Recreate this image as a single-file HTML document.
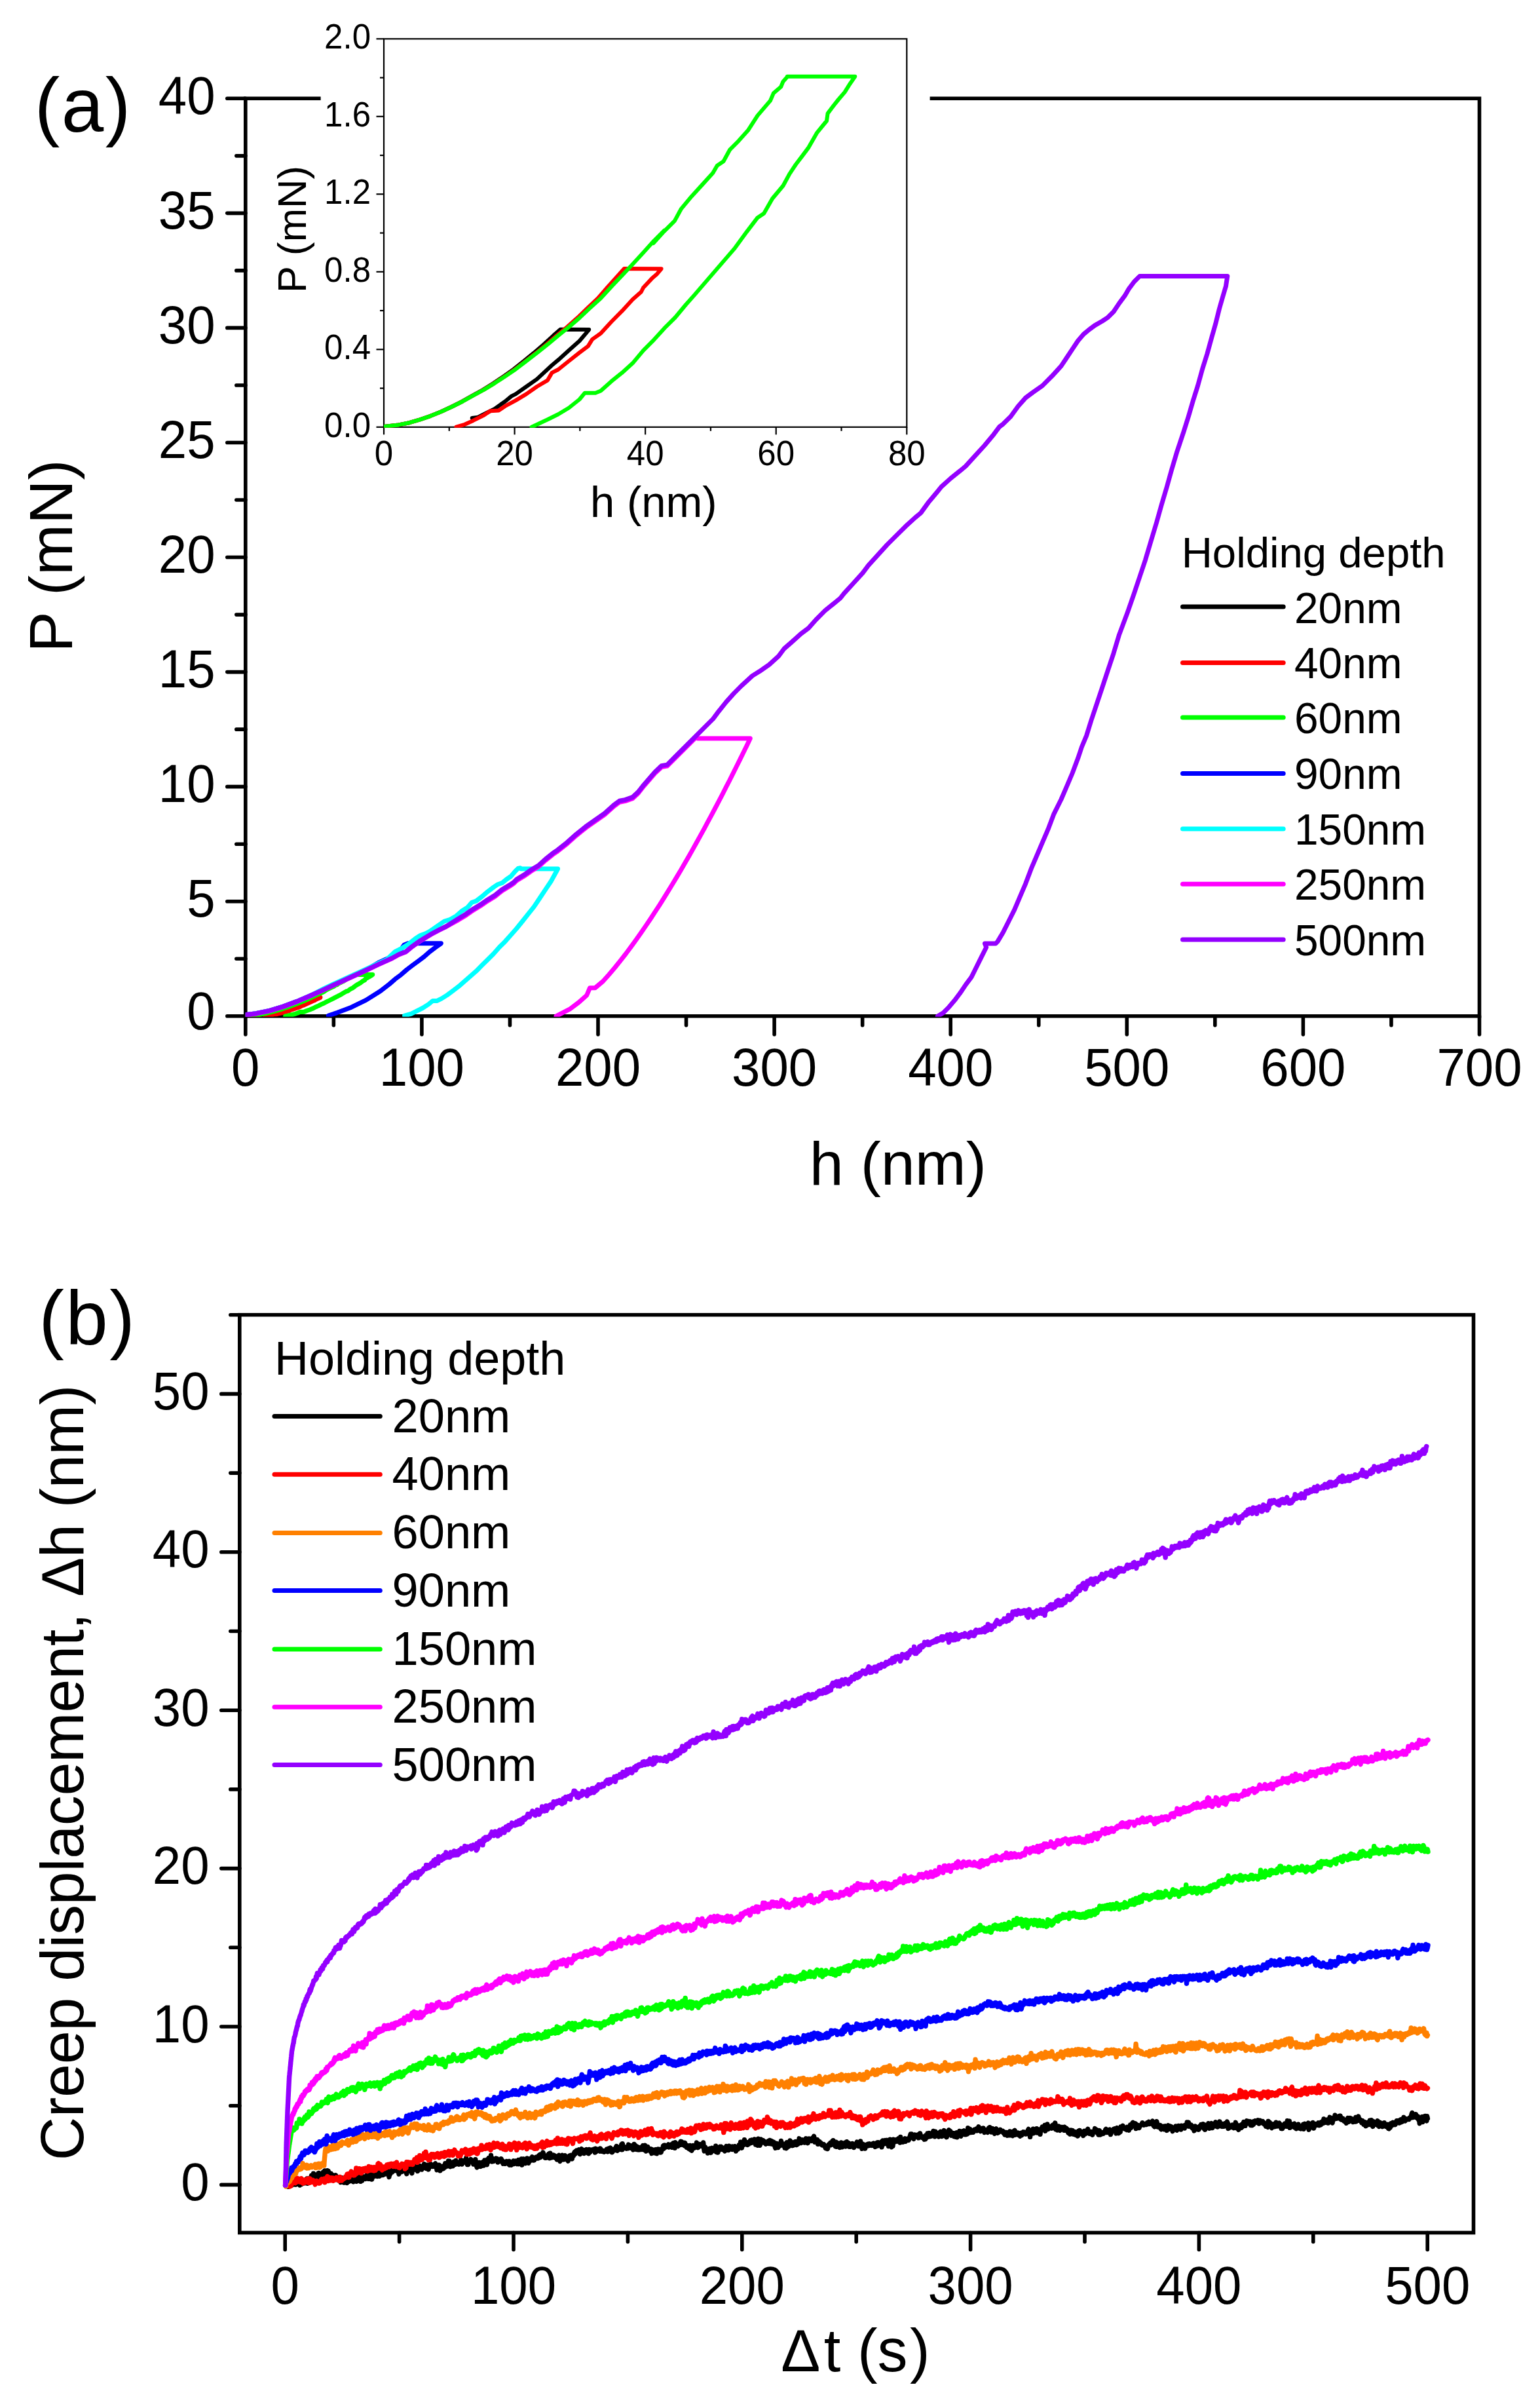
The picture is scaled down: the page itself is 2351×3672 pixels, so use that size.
<!DOCTYPE html>
<html lang="en"><head><meta charset="utf-8"><title>Nanoindentation load-displacement and creep curves</title>
<style>
html,body{margin:0;padding:0;background:#fff;}
svg{display:block}
text{font-family:"Liberation Sans", sans-serif;fill:#000}
</style></head>
<body>
<svg width="2351" height="3672" viewBox="0 0 2351 3672">
<rect width="2351" height="3672" fill="#fff"/>
<path d="M489.6,150.30 H374.80 V1550.80 H2258.50 V150.30 H1419.6" fill="none" stroke="#000" stroke-width="5.6" stroke-linejoin="miter"/>
<line x1="374.80" y1="1550.80" x2="346.80" y2="1550.80" stroke="#000" stroke-width="5.6" stroke-linecap="round"/>
<text transform="translate(328.60 1570.90) scale(1 1.04)" font-size="78" text-anchor="end">0</text>
<line x1="374.80" y1="1375.74" x2="346.80" y2="1375.74" stroke="#000" stroke-width="5.6" stroke-linecap="round"/>
<text transform="translate(328.60 1399.04) scale(1 1.04)" font-size="78" text-anchor="end">5</text>
<line x1="374.80" y1="1200.67" x2="346.80" y2="1200.67" stroke="#000" stroke-width="5.6" stroke-linecap="round"/>
<text transform="translate(328.60 1223.97) scale(1 1.04)" font-size="78" text-anchor="end">10</text>
<line x1="374.80" y1="1025.61" x2="346.80" y2="1025.61" stroke="#000" stroke-width="5.6" stroke-linecap="round"/>
<text transform="translate(328.60 1048.91) scale(1 1.04)" font-size="78" text-anchor="end">15</text>
<line x1="374.80" y1="850.55" x2="346.80" y2="850.55" stroke="#000" stroke-width="5.6" stroke-linecap="round"/>
<text transform="translate(328.60 873.85) scale(1 1.04)" font-size="78" text-anchor="end">20</text>
<line x1="374.80" y1="675.49" x2="346.80" y2="675.49" stroke="#000" stroke-width="5.6" stroke-linecap="round"/>
<text transform="translate(328.60 698.79) scale(1 1.04)" font-size="78" text-anchor="end">25</text>
<line x1="374.80" y1="500.42" x2="346.80" y2="500.42" stroke="#000" stroke-width="5.6" stroke-linecap="round"/>
<text transform="translate(328.60 523.72) scale(1 1.04)" font-size="78" text-anchor="end">30</text>
<line x1="374.80" y1="325.36" x2="346.80" y2="325.36" stroke="#000" stroke-width="5.6" stroke-linecap="round"/>
<text transform="translate(328.60 348.66) scale(1 1.04)" font-size="78" text-anchor="end">35</text>
<line x1="374.80" y1="150.30" x2="346.80" y2="150.30" stroke="#000" stroke-width="5.6" stroke-linecap="round"/>
<text transform="translate(328.60 173.60) scale(1 1.04)" font-size="78" text-anchor="end">40</text>
<line x1="374.80" y1="1463.27" x2="360.80" y2="1463.27" stroke="#000" stroke-width="5.6" stroke-linecap="round"/>
<line x1="374.80" y1="1288.21" x2="360.80" y2="1288.21" stroke="#000" stroke-width="5.6" stroke-linecap="round"/>
<line x1="374.80" y1="1113.14" x2="360.80" y2="1113.14" stroke="#000" stroke-width="5.6" stroke-linecap="round"/>
<line x1="374.80" y1="938.08" x2="360.80" y2="938.08" stroke="#000" stroke-width="5.6" stroke-linecap="round"/>
<line x1="374.80" y1="763.02" x2="360.80" y2="763.02" stroke="#000" stroke-width="5.6" stroke-linecap="round"/>
<line x1="374.80" y1="587.96" x2="360.80" y2="587.96" stroke="#000" stroke-width="5.6" stroke-linecap="round"/>
<line x1="374.80" y1="412.89" x2="360.80" y2="412.89" stroke="#000" stroke-width="5.6" stroke-linecap="round"/>
<line x1="374.80" y1="237.83" x2="360.80" y2="237.83" stroke="#000" stroke-width="5.6" stroke-linecap="round"/>
<line x1="374.80" y1="1550.80" x2="374.80" y2="1578.80" stroke="#000" stroke-width="5.6" stroke-linecap="round"/>
<text transform="translate(374.80 1657.30) scale(1 1.04)" font-size="78" text-anchor="middle">0</text>
<line x1="643.90" y1="1550.80" x2="643.90" y2="1578.80" stroke="#000" stroke-width="5.6" stroke-linecap="round"/>
<text transform="translate(643.90 1657.30) scale(1 1.04)" font-size="78" text-anchor="middle">100</text>
<line x1="913.00" y1="1550.80" x2="913.00" y2="1578.80" stroke="#000" stroke-width="5.6" stroke-linecap="round"/>
<text transform="translate(913.00 1657.30) scale(1 1.04)" font-size="78" text-anchor="middle">200</text>
<line x1="1182.10" y1="1550.80" x2="1182.10" y2="1578.80" stroke="#000" stroke-width="5.6" stroke-linecap="round"/>
<text transform="translate(1182.10 1657.30) scale(1 1.04)" font-size="78" text-anchor="middle">300</text>
<line x1="1451.20" y1="1550.80" x2="1451.20" y2="1578.80" stroke="#000" stroke-width="5.6" stroke-linecap="round"/>
<text transform="translate(1451.20 1657.30) scale(1 1.04)" font-size="78" text-anchor="middle">400</text>
<line x1="1720.30" y1="1550.80" x2="1720.30" y2="1578.80" stroke="#000" stroke-width="5.6" stroke-linecap="round"/>
<text transform="translate(1720.30 1657.30) scale(1 1.04)" font-size="78" text-anchor="middle">500</text>
<line x1="1989.40" y1="1550.80" x2="1989.40" y2="1578.80" stroke="#000" stroke-width="5.6" stroke-linecap="round"/>
<text transform="translate(1989.40 1657.30) scale(1 1.04)" font-size="78" text-anchor="middle">600</text>
<line x1="2258.50" y1="1550.80" x2="2258.50" y2="1578.80" stroke="#000" stroke-width="5.6" stroke-linecap="round"/>
<text transform="translate(2258.50 1657.30) scale(1 1.04)" font-size="78" text-anchor="middle">700</text>
<line x1="509.35" y1="1550.80" x2="509.35" y2="1564.80" stroke="#000" stroke-width="5.6" stroke-linecap="round"/>
<line x1="778.45" y1="1550.80" x2="778.45" y2="1564.80" stroke="#000" stroke-width="5.6" stroke-linecap="round"/>
<line x1="1047.55" y1="1550.80" x2="1047.55" y2="1564.80" stroke="#000" stroke-width="5.6" stroke-linecap="round"/>
<line x1="1316.65" y1="1550.80" x2="1316.65" y2="1564.80" stroke="#000" stroke-width="5.6" stroke-linecap="round"/>
<line x1="1585.75" y1="1550.80" x2="1585.75" y2="1564.80" stroke="#000" stroke-width="5.6" stroke-linecap="round"/>
<line x1="1854.85" y1="1550.80" x2="1854.85" y2="1564.80" stroke="#000" stroke-width="5.6" stroke-linecap="round"/>
<line x1="2123.95" y1="1550.80" x2="2123.95" y2="1564.80" stroke="#000" stroke-width="5.6" stroke-linecap="round"/>
<text x="1370.80" y="1807.70" font-size="93.5" text-anchor="middle">h (nm)</text>
<text x="109.50" y="848.50" font-size="93.5" text-anchor="middle" transform="rotate(-90 109.50 848.50)">P (mN)</text>
<text x="127.20" y="201.20" font-size="116" text-anchor="middle" letter-spacing="2.4">(a)</text>
<clipPath id="clipA"><rect x="374.80" y="145.30" width="1883.70" height="1406.50"/></clipPath>
<g clip-path="url(#clipA)">
<path d="M374.8,1550.7 L380.9,1550.4 L385.3,1550.0 L389.7,1549.4 L394.0,1548.8 L398.4,1548.0 L402.7,1547.1 L407.0,1546.2 L411.3,1545.1 L415.6,1544.1 L419.9,1542.9 L424.1,1541.7 L428.3,1540.3 L432.4,1538.9 L436.5,1537.4 L440.6,1535.9 L444.6,1534.3 L447.5,1533.2 L459.3,1533.2 L458.0,1533.9 L455.3,1535.2 L451.0,1537.0 L446.6,1538.7 L444.0,1539.7 L437.8,1542.2 L433.5,1543.5 L429.1,1544.8 L427.3,1545.2 L424.7,1546.2 L420.3,1547.5 L417.7,1548.1 L413.3,1549.1 L411.1,1549.2" fill="none" stroke="#000000" stroke-width="7.0" stroke-linejoin="round" stroke-linecap="round"/>
<path d="M374.8,1550.7 L380.9,1550.4 L385.3,1550.0 L389.7,1549.4 L394.0,1548.8 L398.4,1548.0 L402.8,1547.1 L407.1,1546.2 L411.5,1545.1 L415.8,1544.1 L420.2,1542.9 L424.5,1541.7 L428.8,1540.3 L433.1,1538.9 L437.4,1537.4 L441.7,1535.9 L446.0,1534.3 L450.3,1532.8 L454.5,1531.1 L458.7,1529.3 L462.9,1527.6 L467.1,1525.5 L471.2,1523.5 L473.7,1522.2 L489.0,1522.3 L487.3,1523.2 L485.1,1524.0 L481.6,1525.7 L480.7,1526.4 L477.2,1527.8 L472.9,1529.9 L468.5,1531.8 L464.1,1533.9 L460.6,1535.0 L458.8,1536.2 L455.3,1537.4 L451.0,1538.9 L446.6,1540.4 L444.0,1541.0 L442.2,1542.3 L437.8,1543.5 L433.5,1544.8 L429.1,1546.0 L424.7,1547.0 L422.1,1547.8 L418.6,1547.9 L415.9,1548.7 L411.6,1549.6 L408.1,1550.3 L404.6,1550.8" fill="none" stroke="#ff0000" stroke-width="7.0" stroke-linejoin="round" stroke-linecap="round"/>
<path d="M374.8,1550.7 L380.9,1550.4 L385.3,1550.0 L389.7,1549.4 L394.1,1548.8 L398.4,1548.0 L402.8,1547.1 L407.2,1546.2 L411.6,1545.1 L415.9,1544.1 L420.3,1542.9 L424.7,1541.7 L429.1,1540.3 L433.5,1538.9 L437.8,1537.4 L442.2,1535.9 L446.6,1534.3 L451.0,1532.8 L455.3,1531.1 L459.7,1529.3 L464.1,1527.6 L468.5,1525.5 L472.9,1523.5 L477.2,1521.4 L481.6,1519.3 L486.0,1517.2 L490.4,1515.3 L485.7,1517.6 L490.1,1515.5 L494.5,1513.6 L497.1,1511.5 L501.5,1509.2 L505.9,1507.1 L510.3,1505.0 L512.0,1503.6 L514.6,1502.9 L517.3,1500.7 L520.8,1499.2 L524.7,1497.3 L528.6,1494.6 L533.9,1491.9 L535.2,1490.6 L538.3,1489.4 L539.2,1488.5 L540.9,1487.6 L540.9,1487.6 L568.8,1487.6 L566.7,1488.9 L564.5,1490.4 L561.9,1491.7 L560.2,1492.7 L557.5,1494.2 L557.1,1495.6 L553.2,1497.7 L549.7,1500.4 L547.0,1501.9 L544.4,1503.4 L541.8,1505.2 L539.2,1507.3 L534.8,1509.6 L531.3,1512.3 L528.6,1513.0 L524.3,1515.5 L519.0,1518.7 L502.6,1527.0 L499.1,1528.7 L494.7,1531.0 L490.4,1532.9 L486.0,1535.1 L481.6,1537.0 L477.2,1539.3 L472.9,1541.0 L468.5,1542.5 L464.1,1544.3 L461.9,1544.6 L457.5,1544.6 L455.3,1545.8 L451.0,1547.3 L446.6,1548.5 L442.2,1549.4 L435.6,1550.8" fill="none" stroke="#00ff00" stroke-width="7.0" stroke-linejoin="round" stroke-linecap="round"/>
<path d="M374.2,1548.8 L390.8,1546.7 L411.6,1542.3 L432.3,1536.1 L453.1,1528.4 L473.9,1519.5 L494.7,1510.1 L515.5,1500.4 L536.2,1491.0 L557.0,1481.5 L577.8,1469.2 L598.6,1459.8 L608.8,1454.1 L616.8,1442.3 L622.8,1439.8 L673.4,1439.8 L665.1,1445.7 L656.2,1452.4 L647.4,1460.1 L638.6,1466.7 L629.7,1473.3 L620.9,1480.0 L612.1,1487.7 L603.2,1494.3 L594.4,1502.0 L580.8,1512.5 L558.7,1526.4 L536.6,1537.2 L514.6,1545.6 L501.3,1550.0" fill="none" stroke="#0000ff" stroke-width="7.0" stroke-linejoin="round" stroke-linecap="round"/>
<path d="M374.2,1548.8 L390.8,1546.7 L411.6,1542.3 L432.3,1536.1 L453.1,1528.4 L473.9,1519.5 L494.7,1508.6 L515.5,1498.9 L536.2,1489.5 L557.0,1480.0 L577.8,1470.2 L590.0,1464.7 L603.2,1452.4 L612.1,1447.9 L623.1,1441.3 L634.2,1432.5 L640.8,1428.1 L649.6,1424.8 L656.2,1421.4 L667.3,1413.7 L678.3,1406.0 L687.2,1403.3 L696.0,1398.3 L704.8,1390.5 L713.6,1385.0 L720.3,1377.3 L726.9,1375.1 L735.7,1368.4 L744.6,1360.7 L753.4,1354.1 L760.0,1349.7 L766.6,1347.5 L773.3,1342.0 L779.9,1337.5 L786.5,1329.8 L790.9,1325.4 L794.2,1324.7 L795.2,1326.0 L851.6,1326.0 L841.7,1344.2 L832.9,1357.4 L824.0,1370.7 L815.2,1383.9 L806.4,1394.9 L797.6,1406.0 L788.7,1417.0 L779.9,1427.0 L771.1,1436.9 L762.2,1445.7 L753.4,1455.7 L744.6,1464.5 L735.7,1473.3 L726.9,1482.2 L718.1,1489.9 L709.2,1497.6 L700.4,1505.3 L691.6,1512.0 L682.7,1518.6 L673.9,1524.1 L667.3,1527.4 L660.7,1527.4 L654.0,1532.9 L645.2,1538.5 L636.4,1542.9 L627.5,1547.3 L617.6,1550.2" fill="none" stroke="#00ffff" stroke-width="7.0" stroke-linejoin="round" stroke-linecap="round"/>
<path d="M374.2,1549.3 L390.8,1547.2 L411.6,1542.8 L432.3,1536.6 L453.1,1528.9 L473.9,1520.0 L494.7,1510.6 L515.5,1500.9 L536.2,1491.5 L557.0,1482.0 L577.8,1472.2 L598.6,1462.8 L609.0,1457.0 L619.4,1452.9 L629.7,1444.6 L640.1,1437.1 L650.5,1430.8 L660.9,1424.6 L671.3,1419.2 L681.7,1414.0 L700.4,1403.6 L711.4,1396.9 L722.5,1389.2 L733.5,1382.6 L744.6,1374.9 L755.6,1368.2 L766.6,1359.4 L777.7,1352.8 L784.3,1348.4 L788.7,1344.0 L799.8,1337.3 L810.8,1329.6 L821.8,1323.0 L832.9,1313.0 L843.9,1304.2 L851.4,1299.1 L865.7,1287.7 L880.0,1274.9 L894.3,1263.4 L908.6,1253.4 L922.9,1243.4 L937.1,1230.6 L945.7,1224.3 L954.3,1222.6 L965.7,1218.6 L974.3,1210.6 L982.9,1199.7 L1000.0,1180.0 L1010.0,1170.6 L1018.6,1169.1 L1031.4,1156.3 L1045.7,1142.0 L1060.0,1127.7 L1061.7,1126.0 L1065.7,1127.1 L1145.3,1127.1 L1140.2,1137.7 L1135.0,1148.3 L1129.8,1158.9 L1124.5,1169.5 L1119.2,1180.1 L1113.9,1190.7 L1108.5,1201.2 L1103.1,1211.8 L1097.6,1222.4 L1092.0,1233.0 L1086.4,1243.6 L1080.7,1254.2 L1075.0,1264.8 L1069.2,1275.4 L1063.3,1286.0 L1057.4,1296.6 L1051.4,1307.2 L1045.3,1317.8 L1039.1,1328.4 L1032.9,1338.9 L1026.5,1349.5 L1020.0,1360.1 L1013.5,1370.7 L1006.8,1381.3 L999.9,1391.9 L993.0,1402.5 L985.8,1413.1 L978.5,1423.7 L971.1,1434.3 L963.4,1444.9 L955.5,1455.5 L947.2,1466.1 L938.7,1476.7 L929.8,1487.2 L920.4,1497.8 L908.5,1507.7 L900.5,1507.7 L895.7,1519.0 L883.8,1529.6 L869.7,1540.2 L849.0,1550.8" fill="none" stroke="#ff00ff" stroke-width="7.0" stroke-linejoin="round" stroke-linecap="round"/>
<path d="M374.2,1548.8 L390.8,1546.7 L411.6,1542.3 L432.3,1536.1 L453.1,1528.4 L473.9,1519.5 L494.7,1510.1 L515.5,1500.4 L536.2,1491.0 L557.0,1481.5 L577.8,1471.7 L598.6,1462.3 L609.0,1456.5 L619.4,1452.4 L629.7,1444.1 L640.1,1436.6 L650.5,1430.3 L660.9,1424.1 L671.3,1418.7 L681.7,1413.5 L700.4,1401.6 L711.4,1394.9 L722.5,1387.2 L733.5,1380.6 L744.6,1372.9 L755.6,1366.2 L766.6,1357.4 L777.7,1350.8 L784.3,1346.4 L788.7,1342.0 L799.8,1335.3 L810.8,1327.6 L821.8,1321.0 L832.9,1311.0 L843.9,1302.2 L851.4,1297.1 L865.7,1285.7 L880.0,1272.9 L894.3,1261.4 L908.6,1251.4 L922.9,1241.4 L937.1,1228.6 L945.7,1222.3 L954.3,1220.6 L965.7,1216.6 L974.3,1208.6 L982.9,1197.7 L1000.0,1178.0 L1010.0,1168.6 L1018.6,1167.1 L1031.4,1154.3 L1045.7,1140.0 L1060.0,1125.7 L1074.3,1111.4 L1088.6,1097.1 L1097.1,1085.7 L1108.6,1071.4 L1120.0,1058.6 L1131.4,1047.1 L1148.6,1031.4 L1160.0,1024.3 L1174.3,1014.3 L1188.6,1001.4 L1197.1,990.0 L1208.6,980.0 L1222.9,967.1 L1234.3,958.6 L1245.7,945.7 L1260.0,931.4 L1274.3,920.0 L1282.9,912.9 L1288.6,905.7 L1302.9,890.0 L1317.1,874.3 L1325.7,862.9 L1340.0,847.1 L1354.3,831.4 L1368.6,817.1 L1382.9,802.9 L1397.1,790.0 L1405.7,782.9 L1417.1,767.1 L1431.4,750.0 L1437.1,742.9 L1451.4,730.0 L1465.7,718.6 L1474.3,711.4 L1488.6,695.7 L1502.9,680.0 L1517.1,662.9 L1525.7,651.4 L1531.4,647.1 L1542.9,635.7 L1554.3,620.0 L1565.7,607.1 L1577.1,598.6 L1591.4,588.6 L1605.7,574.3 L1620.0,558.6 L1628.6,545.7 L1637.1,532.9 L1645.7,520.0 L1654.3,510.0 L1662.9,502.9 L1671.4,496.6 L1682.9,490.0 L1691.4,484.3 L1700.0,475.7 L1708.6,462.9 L1717.1,451.4 L1722.9,441.4 L1731.4,430.0 L1740.0,421.4 L1873.8,421.4 L1871.4,437.1 L1867.1,451.4 L1861.4,471.4 L1855.7,494.3 L1850.0,514.3 L1842.9,540.0 L1835.7,562.9 L1828.6,588.6 L1821.4,611.4 L1814.3,635.7 L1807.1,658.6 L1797.1,688.6 L1788.6,717.1 L1781.4,742.9 L1772.9,771.4 L1765.7,797.1 L1757.1,825.7 L1748.6,854.3 L1740.0,880.0 L1731.4,905.7 L1721.4,934.3 L1708.6,968.6 L1700.0,997.1 L1691.4,1022.9 L1682.9,1048.6 L1674.3,1074.3 L1665.7,1100.0 L1658.6,1122.9 L1651.4,1140.0 L1645.7,1157.1 L1637.1,1180.0 L1628.6,1200.0 L1620.0,1220.0 L1608.6,1242.9 L1600.0,1265.7 L1591.4,1285.7 L1582.9,1305.7 L1574.3,1325.7 L1565.7,1348.6 L1557.1,1368.6 L1548.6,1388.6 L1540.0,1405.7 L1531.4,1422.9 L1522.9,1437.1 L1520.0,1440.0 L1503.4,1440.0 L1505.7,1445.7 L1497.1,1462.9 L1488.6,1480.0 L1482.9,1491.4 L1474.3,1502.9 L1465.7,1515.7 L1457.1,1527.1 L1448.6,1537.1 L1440.0,1545.7 L1431.4,1550.9" fill="none" stroke="#9400ff" stroke-width="7.0" stroke-linejoin="round" stroke-linecap="round"/>
</g>
<text x="1803.70" y="865.70" font-size="65.3" text-anchor="start">Holding depth</text>
<line x1="1805.50" y1="926.10" x2="1959.20" y2="926.10" stroke="#000000" stroke-width="7" stroke-linecap="round"/>
<text x="1976.00" y="950.70" font-size="65.8" text-anchor="start">20nm</text>
<line x1="1805.50" y1="1011.40" x2="1959.20" y2="1011.40" stroke="#ff0000" stroke-width="7" stroke-linecap="round"/>
<text x="1976.00" y="1035.40" font-size="65.8" text-anchor="start">40nm</text>
<line x1="1805.50" y1="1095.00" x2="1959.20" y2="1095.00" stroke="#00ff00" stroke-width="7" stroke-linecap="round"/>
<text x="1976.00" y="1119.30" font-size="65.8" text-anchor="start">60nm</text>
<line x1="1805.50" y1="1180.40" x2="1959.20" y2="1180.40" stroke="#0000ff" stroke-width="7" stroke-linecap="round"/>
<text x="1976.00" y="1203.90" font-size="65.8" text-anchor="start">90nm</text>
<line x1="1805.50" y1="1265.00" x2="1959.20" y2="1265.00" stroke="#00ffff" stroke-width="7" stroke-linecap="round"/>
<text x="1976.00" y="1288.90" font-size="65.8" text-anchor="start">150nm</text>
<line x1="1805.50" y1="1349.30" x2="1959.20" y2="1349.30" stroke="#ff00ff" stroke-width="7" stroke-linecap="round"/>
<text x="1976.00" y="1372.90" font-size="65.8" text-anchor="start">250nm</text>
<line x1="1805.50" y1="1433.90" x2="1959.20" y2="1433.90" stroke="#9400ff" stroke-width="7" stroke-linecap="round"/>
<text x="1976.00" y="1457.50" font-size="65.8" text-anchor="start">500nm</text>
<rect x="586.00" y="59.30" width="798.30" height="592.50" fill="none" stroke="#000" stroke-width="2.2"/>
<line x1="586.00" y1="651.80" x2="574.50" y2="651.80" stroke="#000" stroke-width="2.2" stroke-linecap="butt"/>
<text transform="translate(566.00 666.80) scale(1 1.04)" font-size="51" text-anchor="end">0.0</text>
<line x1="586.00" y1="533.30" x2="574.50" y2="533.30" stroke="#000" stroke-width="2.2" stroke-linecap="butt"/>
<text transform="translate(566.00 548.30) scale(1 1.04)" font-size="51" text-anchor="end">0.4</text>
<line x1="586.00" y1="414.80" x2="574.50" y2="414.80" stroke="#000" stroke-width="2.2" stroke-linecap="butt"/>
<text transform="translate(566.00 429.80) scale(1 1.04)" font-size="51" text-anchor="end">0.8</text>
<line x1="586.00" y1="296.30" x2="574.50" y2="296.30" stroke="#000" stroke-width="2.2" stroke-linecap="butt"/>
<text transform="translate(566.00 311.30) scale(1 1.04)" font-size="51" text-anchor="end">1.2</text>
<line x1="586.00" y1="177.80" x2="574.50" y2="177.80" stroke="#000" stroke-width="2.2" stroke-linecap="butt"/>
<text transform="translate(566.00 192.80) scale(1 1.04)" font-size="51" text-anchor="end">1.6</text>
<line x1="586.00" y1="59.30" x2="574.50" y2="59.30" stroke="#000" stroke-width="2.2" stroke-linecap="butt"/>
<text transform="translate(566.00 74.30) scale(1 1.04)" font-size="51" text-anchor="end">2.0</text>
<line x1="586.00" y1="592.55" x2="580.00" y2="592.55" stroke="#000" stroke-width="2.2" stroke-linecap="butt"/>
<line x1="586.00" y1="474.05" x2="580.00" y2="474.05" stroke="#000" stroke-width="2.2" stroke-linecap="butt"/>
<line x1="586.00" y1="355.55" x2="580.00" y2="355.55" stroke="#000" stroke-width="2.2" stroke-linecap="butt"/>
<line x1="586.00" y1="237.05" x2="580.00" y2="237.05" stroke="#000" stroke-width="2.2" stroke-linecap="butt"/>
<line x1="586.00" y1="118.55" x2="580.00" y2="118.55" stroke="#000" stroke-width="2.2" stroke-linecap="butt"/>
<line x1="586.00" y1="651.80" x2="586.00" y2="663.30" stroke="#000" stroke-width="2.2" stroke-linecap="butt"/>
<text transform="translate(586.00 710.30) scale(1 1.04)" font-size="51" text-anchor="middle">0</text>
<line x1="785.58" y1="651.80" x2="785.58" y2="663.30" stroke="#000" stroke-width="2.2" stroke-linecap="butt"/>
<text transform="translate(785.58 710.30) scale(1 1.04)" font-size="51" text-anchor="middle">20</text>
<line x1="985.15" y1="651.80" x2="985.15" y2="663.30" stroke="#000" stroke-width="2.2" stroke-linecap="butt"/>
<text transform="translate(985.15 710.30) scale(1 1.04)" font-size="51" text-anchor="middle">40</text>
<line x1="1184.72" y1="651.80" x2="1184.72" y2="663.30" stroke="#000" stroke-width="2.2" stroke-linecap="butt"/>
<text transform="translate(1184.72 710.30) scale(1 1.04)" font-size="51" text-anchor="middle">60</text>
<line x1="1384.30" y1="651.80" x2="1384.30" y2="663.30" stroke="#000" stroke-width="2.2" stroke-linecap="butt"/>
<text transform="translate(1384.30 710.30) scale(1 1.04)" font-size="51" text-anchor="middle">80</text>
<line x1="685.79" y1="651.80" x2="685.79" y2="657.80" stroke="#000" stroke-width="2.2" stroke-linecap="butt"/>
<line x1="885.36" y1="651.80" x2="885.36" y2="657.80" stroke="#000" stroke-width="2.2" stroke-linecap="butt"/>
<line x1="1084.94" y1="651.80" x2="1084.94" y2="657.80" stroke="#000" stroke-width="2.2" stroke-linecap="butt"/>
<line x1="1284.51" y1="651.80" x2="1284.51" y2="657.80" stroke="#000" stroke-width="2.2" stroke-linecap="butt"/>
<text x="997.80" y="789.00" font-size="67" text-anchor="middle">h (nm)</text>
<text x="467.20" y="350.00" font-size="61.6" text-anchor="middle" transform="rotate(-90 467.20 350.00)">P (mN)</text>
<clipPath id="clipI"><rect x="586.00" y="59.30" width="798.30" height="593.50"/></clipPath>
<g clip-path="url(#clipI)">
<path d="M586.0,651.0 L608.7,648.4 L624.9,645.2 L641.1,640.3 L657.3,634.8 L673.4,628.3 L689.5,620.8 L705.5,612.7 L721.5,603.6 L737.4,594.9 L753.1,585.1 L768.8,574.4 L784.3,563.4 L799.7,551.0 L814.9,538.7 L830.0,525.7 L844.8,512.1 L855.5,502.7 L899.2,503.0 L894.4,508.8 L884.7,520.2 L868.4,534.8 L852.2,549.4 L842.5,557.5 L819.7,578.6 L803.5,590.0 L787.3,601.4 L780.8,604.6 L771.0,612.7 L754.8,624.1 L745.1,629.0 L728.8,637.1 L720.7,638.1" fill="none" stroke="#000000" stroke-width="6.0" stroke-linejoin="round" stroke-linecap="round"/>
<path d="M586.0,651.0 L608.7,648.4 L624.9,645.2 L641.2,640.3 L657.4,634.8 L673.6,628.3 L689.8,620.8 L705.9,612.7 L722.1,603.6 L738.2,594.9 L754.3,585.1 L770.4,574.4 L786.4,563.4 L802.4,551.0 L818.3,538.7 L834.2,525.7 L850.0,512.1 L865.8,499.1 L881.5,485.1 L897.2,469.9 L912.8,455.3 L928.2,437.4 L943.5,420.5 L952.9,410.0 L1009.6,410.3 L1003.2,417.9 L995.1,425.1 L982.1,439.0 L978.8,445.5 L965.8,456.9 L949.6,474.7 L933.4,491.0 L917.1,508.8 L904.2,517.9 L897.7,528.3 L884.7,538.1 L868.4,551.0 L852.2,564.0 L842.5,568.9 L836.0,580.3 L819.7,590.0 L803.5,601.4 L787.3,611.1 L771.0,619.9 L761.3,626.4 L748.3,627.3 L738.6,633.8 L722.3,641.9 L709.4,647.8 L696.4,651.7" fill="none" stroke="#ff0000" stroke-width="6.0" stroke-linejoin="round" stroke-linecap="round"/>
<path d="M586.0,651.0 L608.7,648.4 L624.9,645.2 L641.2,640.3 L657.4,634.8 L673.6,628.3 L689.9,620.8 L706.1,612.7 L722.3,603.6 L738.6,594.9 L754.8,585.1 L771.0,574.4 L787.3,563.4 L803.5,551.0 L819.7,538.7 L836.0,525.7 L852.2,512.1 L868.4,499.1 L884.7,485.1 L900.9,469.9 L917.1,455.3 L933.4,437.4 L949.6,420.5 L965.8,403.3 L982.1,385.5 L998.3,367.6 L1014.5,351.4 L997.4,371.2 L1013.6,353.3 L1029.9,337.1 L1039.6,319.2 L1055.8,299.7 L1072.1,281.9 L1088.3,264.0 L1094.8,252.7 L1104.5,246.2 L1114.3,228.3 L1127.3,215.3 L1141.9,199.1 L1156.5,176.4 L1176.0,153.6 L1180.8,142.3 L1192.2,132.5 L1195.5,124.4 L1201.9,117.3 L1201.9,116.8 L1305.3,116.8 L1297.7,127.7 L1289.6,140.6 L1279.9,152.0 L1273.4,160.1 L1263.6,173.1 L1262.0,184.5 L1247.4,202.3 L1234.4,225.1 L1224.7,238.1 L1214.9,251.0 L1205.2,265.6 L1195.5,283.5 L1179.2,303.0 L1166.2,325.7 L1156.5,332.2 L1140.3,353.3 L1120.8,379.9 L1060.0,450.4 L1047.0,465.0 L1030.8,484.5 L1014.5,500.7 L998.3,518.6 L982.1,534.8 L965.8,554.3 L949.6,568.9 L933.4,581.9 L917.1,596.5 L909.0,599.7 L892.8,599.7 L884.7,609.5 L868.4,622.5 L852.2,632.2 L836.0,640.3 L811.6,651.7" fill="none" stroke="#00ff00" stroke-width="6.0" stroke-linejoin="round" stroke-linecap="round"/>
</g>
<rect x="365.80" y="2006.70" width="1883.70" height="1400.80" fill="none" stroke="#000" stroke-width="5.6"/>
<line x1="365.80" y1="3334.40" x2="337.80" y2="3334.40" stroke="#000" stroke-width="5.6" stroke-linecap="round"/>
<text transform="translate(319.60 3357.90) scale(1 1.04)" font-size="78" text-anchor="end">0</text>
<line x1="365.80" y1="3093.00" x2="337.80" y2="3093.00" stroke="#000" stroke-width="5.6" stroke-linecap="round"/>
<text transform="translate(319.60 3116.50) scale(1 1.04)" font-size="78" text-anchor="end">10</text>
<line x1="365.80" y1="2851.60" x2="337.80" y2="2851.60" stroke="#000" stroke-width="5.6" stroke-linecap="round"/>
<text transform="translate(319.60 2875.10) scale(1 1.04)" font-size="78" text-anchor="end">20</text>
<line x1="365.80" y1="2610.20" x2="337.80" y2="2610.20" stroke="#000" stroke-width="5.6" stroke-linecap="round"/>
<text transform="translate(319.60 2633.70) scale(1 1.04)" font-size="78" text-anchor="end">30</text>
<line x1="365.80" y1="2368.80" x2="337.80" y2="2368.80" stroke="#000" stroke-width="5.6" stroke-linecap="round"/>
<text transform="translate(319.60 2392.30) scale(1 1.04)" font-size="78" text-anchor="end">40</text>
<line x1="365.80" y1="2127.40" x2="337.80" y2="2127.40" stroke="#000" stroke-width="5.6" stroke-linecap="round"/>
<text transform="translate(319.60 2150.90) scale(1 1.04)" font-size="78" text-anchor="end">50</text>
<line x1="365.80" y1="3213.70" x2="351.80" y2="3213.70" stroke="#000" stroke-width="5.6" stroke-linecap="round"/>
<line x1="365.80" y1="2972.30" x2="351.80" y2="2972.30" stroke="#000" stroke-width="5.6" stroke-linecap="round"/>
<line x1="365.80" y1="2730.90" x2="351.80" y2="2730.90" stroke="#000" stroke-width="5.6" stroke-linecap="round"/>
<line x1="365.80" y1="2489.50" x2="351.80" y2="2489.50" stroke="#000" stroke-width="5.6" stroke-linecap="round"/>
<line x1="365.80" y1="2248.10" x2="351.80" y2="2248.10" stroke="#000" stroke-width="5.6" stroke-linecap="round"/>
<line x1="365.80" y1="2006.70" x2="351.80" y2="2006.70" stroke="#000" stroke-width="5.6" stroke-linecap="round"/>
<line x1="435.20" y1="3407.50" x2="435.20" y2="3433.50" stroke="#000" stroke-width="5.6" stroke-linecap="round"/>
<text transform="translate(435.20 3516.00) scale(1 1.04)" font-size="78" text-anchor="middle">0</text>
<line x1="784.00" y1="3407.50" x2="784.00" y2="3433.50" stroke="#000" stroke-width="5.6" stroke-linecap="round"/>
<text transform="translate(784.00 3516.00) scale(1 1.04)" font-size="78" text-anchor="middle">100</text>
<line x1="1132.80" y1="3407.50" x2="1132.80" y2="3433.50" stroke="#000" stroke-width="5.6" stroke-linecap="round"/>
<text transform="translate(1132.80 3516.00) scale(1 1.04)" font-size="78" text-anchor="middle">200</text>
<line x1="1481.60" y1="3407.50" x2="1481.60" y2="3433.50" stroke="#000" stroke-width="5.6" stroke-linecap="round"/>
<text transform="translate(1481.60 3516.00) scale(1 1.04)" font-size="78" text-anchor="middle">300</text>
<line x1="1830.40" y1="3407.50" x2="1830.40" y2="3433.50" stroke="#000" stroke-width="5.6" stroke-linecap="round"/>
<text transform="translate(1830.40 3516.00) scale(1 1.04)" font-size="78" text-anchor="middle">400</text>
<line x1="2179.20" y1="3407.50" x2="2179.20" y2="3433.50" stroke="#000" stroke-width="5.6" stroke-linecap="round"/>
<text transform="translate(2179.20 3516.00) scale(1 1.04)" font-size="78" text-anchor="middle">500</text>
<line x1="609.60" y1="3407.50" x2="609.60" y2="3421.50" stroke="#000" stroke-width="5.6" stroke-linecap="round"/>
<line x1="958.40" y1="3407.50" x2="958.40" y2="3421.50" stroke="#000" stroke-width="5.6" stroke-linecap="round"/>
<line x1="1307.20" y1="3407.50" x2="1307.20" y2="3421.50" stroke="#000" stroke-width="5.6" stroke-linecap="round"/>
<line x1="1656.00" y1="3407.50" x2="1656.00" y2="3421.50" stroke="#000" stroke-width="5.6" stroke-linecap="round"/>
<line x1="2004.80" y1="3407.50" x2="2004.80" y2="3421.50" stroke="#000" stroke-width="5.6" stroke-linecap="round"/>
<text x="1192.20" y="3618.80" font-size="92" text-anchor="start"><tspan font-size="90">Δ</tspan><tspan dx="5.5">t (</tspan><tspan dx="0">s</tspan><tspan dx="3.5">)</tspan></text>
<text x="126.60" y="2705.70" font-size="92" text-anchor="middle" transform="rotate(-90 126.60 2705.70)" letter-spacing="-0.45">Creep displacement, <tspan font-size="90">Δ</tspan>h (nm)</text>
<text x="133.70" y="2052.30" font-size="116" text-anchor="middle" letter-spacing="2.4">(b)</text>
<g fill="none" stroke-width="7.4" stroke-linejoin="round" stroke-linecap="round">
<path d="M435.7,3335.1 L436.5,3333.8 L437.3,3333.4 L438.1,3336.5 L438.8,3330.1 L439.6,3334.8 L440.4,3337.3 L441.2,3334.0 L442.0,3336.0 L442.8,3332.5 L443.6,3334.9 L444.3,3333.7 L445.1,3335.3 L445.9,3334.9 L446.7,3333.7 L447.5,3330.5 L448.3,3329.7 L449.0,3330.0 L449.8,3333.0 L450.6,3330.5 L451.4,3334.1 L452.2,3332.9 L453.0,3329.7 L453.7,3330.3 L454.5,3332.3 L455.3,3333.3 L456.1,3332.1 L456.9,3333.1 L457.7,3335.0 L458.4,3331.0 L459.2,3333.4 L459.9,3332.1 L460.7,3333.3 L461.4,3331.8 L462.2,3329.4 L462.9,3328.1 L463.6,3332.0 L464.4,3331.4 L465.1,3330.6 L465.9,3330.1 L466.6,3328.7 L467.3,3331.8 L468.1,3329.3 L468.8,3325.0 L469.6,3332.4 L470.3,3329.3 L471.1,3325.0 L471.8,3326.6 L472.5,3327.6 L473.3,3328.1 L474.0,3325.6 L474.8,3323.8 L475.5,3320.3 L476.3,3323.3 L477.0,3321.2 L477.7,3324.0 L478.5,3317.1 L479.2,3327.0 L480.0,3320.6 L480.7,3321.8 L481.4,3324.3 L482.2,3325.4 L482.9,3325.2 L483.7,3318.9 L484.4,3323.4 L485.2,3321.1 L486.0,3316.6 L486.9,3316.4 L487.7,3317.6 L488.5,3319.2 L489.3,3318.7 L490.1,3320.7 L490.9,3317.6 L491.7,3320.3 L492.5,3318.0 L493.3,3315.0 L494.2,3318.3 L495.0,3320.4 L495.8,3313.0 L496.6,3320.0 L497.4,3317.9 L498.2,3323.8 L499.0,3318.7 L499.8,3312.6 L500.6,3314.0 L501.3,3313.7 L502.0,3320.2 L502.7,3317.1 L503.4,3320.1 L504.1,3317.6 L504.8,3317.9 L505.5,3317.5 L506.2,3321.9 L506.9,3322.5 L507.6,3320.6 L508.3,3319.9 L509.0,3322.6 L509.7,3324.7 L510.4,3324.9 L511.1,3324.0 L511.8,3321.6 L512.5,3319.9 L513.2,3323.8 L513.9,3326.6 L514.6,3325.8 L515.3,3324.6 L516.0,3326.3 L516.7,3327.6 L517.3,3328.0 L518.0,3323.1 L518.7,3326.8 L519.4,3326.8 L520.1,3330.6 L520.9,3326.0 L521.8,3323.6 L522.6,3330.1 L523.4,3328.6 L524.2,3330.6 L525.0,3325.8 L525.8,3331.1 L526.6,3328.3 L527.4,3329.0 L528.2,3328.4 L529.1,3325.7 L529.9,3331.6 L530.7,3328.7 L531.5,3328.5 L532.3,3327.3 L533.1,3329.4 L533.9,3326.3 L534.7,3324.8 L535.6,3323.0 L536.4,3326.6 L537.1,3327.6 L537.9,3328.7 L538.7,3326.8 L539.5,3329.8 L540.3,3324.7 L541.0,3323.6 L541.8,3327.3 L542.6,3325.1 L543.4,3325.7 L544.2,3329.3 L544.9,3322.3 L545.7,3326.8 L546.5,3323.5 L547.3,3326.1 L548.1,3324.9 L548.8,3321.5 L549.6,3321.7 L550.4,3329.4 L551.2,3326.5 L551.9,3324.0 L552.7,3328.1 L553.5,3322.7 L554.3,3326.1 L555.1,3321.9 L555.8,3322.9 L556.6,3322.2 L557.4,3321.8 L558.2,3325.4 L559.0,3323.5 L559.8,3320.6 L560.6,3319.1 L561.4,3322.1 L562.1,3322.6 L562.9,3325.4 L563.7,3325.4 L564.5,3319.0 L565.3,3319.3 L566.1,3323.0 L566.9,3318.1 L567.7,3326.1 L568.4,3322.0 L569.2,3320.7 L570.0,3319.2 L570.8,3319.2 L571.6,3320.0 L572.4,3321.1 L573.2,3316.8 L573.9,3317.1 L574.7,3316.5 L575.5,3318.0 L576.3,3321.4 L577.1,3321.0 L577.9,3315.4 L578.7,3318.6 L579.5,3321.3 L580.2,3318.0 L581.0,3317.7 L581.8,3319.5 L582.6,3315.5 L583.3,3318.6 L584.1,3319.5 L584.9,3319.6 L585.6,3318.7 L586.4,3315.4 L587.2,3316.6 L587.9,3314.3 L588.7,3317.9 L589.5,3312.1 L590.2,3312.6 L591.0,3314.0 L591.7,3310.9 L592.5,3314.3 L593.3,3318.7 L594.0,3322.5 L594.8,3314.1 L595.6,3318.3 L596.4,3315.4 L597.2,3312.6 L598.0,3313.4 L598.7,3315.1 L599.5,3314.0 L600.3,3308.4 L601.1,3313.3 L601.9,3311.7 L602.7,3310.7 L603.5,3312.3 L604.3,3312.5 L605.0,3310.5 L605.8,3310.8 L606.6,3313.4 L607.4,3308.0 L608.2,3313.5 L609.0,3318.0 L609.8,3314.5 L610.5,3315.1 L611.3,3311.6 L612.1,3311.7 L612.9,3307.5 L613.7,3314.5 L614.5,3310.0 L615.3,3313.8 L616.1,3312.3 L616.8,3311.2 L617.6,3308.6 L618.4,3310.4 L619.2,3309.6 L620.0,3312.7 L620.8,3317.7 L621.6,3308.6 L622.4,3310.6 L623.2,3311.2 L624.0,3309.3 L624.8,3310.4 L625.6,3311.4 L626.5,3313.6 L627.3,3312.4 L628.1,3308.8 L628.9,3316.7 L629.7,3309.1 L630.5,3307.7 L631.3,3308.9 L632.1,3311.0 L633.0,3306.7 L633.8,3310.4 L634.5,3306.8 L635.3,3311.3 L636.1,3310.1 L636.8,3309.9 L637.6,3313.6 L638.3,3307.0 L639.1,3308.4 L639.9,3309.8 L640.6,3308.6 L641.4,3305.5 L642.2,3310.7 L642.9,3311.1 L643.7,3311.1 L644.5,3307.5 L645.2,3307.6 L646.0,3306.0 L646.8,3307.1 L647.6,3302.7 L648.4,3308.4 L649.2,3305.4 L650.0,3305.9 L650.8,3309.4 L651.6,3307.7 L652.4,3304.2 L653.2,3307.0 L654.1,3311.0 L654.9,3308.2 L655.7,3307.2 L656.5,3304.1 L657.3,3302.5 L658.1,3306.4 L658.9,3305.6 L659.7,3303.8 L660.6,3306.5 L661.4,3305.2 L662.2,3305.5 L663.0,3304.6 L663.8,3302.7 L664.6,3302.0 L665.4,3307.5 L666.2,3305.6 L667.0,3311.8 L667.9,3305.4 L668.7,3309.0 L669.5,3304.4 L670.3,3304.2 L671.1,3304.8 L671.9,3312.8 L672.7,3306.1 L673.5,3308.7 L674.4,3310.4 L675.2,3306.8 L676.0,3306.8 L676.7,3309.9 L677.5,3305.5 L678.3,3307.4 L679.1,3307.9 L679.8,3301.7 L680.6,3306.6 L681.4,3303.5 L682.2,3304.6 L682.9,3305.9 L683.7,3303.3 L684.5,3298.1 L685.3,3305.5 L686.0,3298.3 L686.8,3303.4 L687.6,3306.7 L688.3,3304.7 L689.1,3302.0 L689.9,3300.9 L690.7,3301.7 L691.4,3305.8 L692.2,3304.0 L693.0,3299.3 L693.7,3303.2 L694.5,3303.5 L695.3,3301.3 L696.0,3297.5 L696.8,3299.5 L697.6,3301.1 L698.3,3300.1 L699.1,3302.7 L699.8,3300.2 L700.6,3303.2 L701.4,3301.4 L702.1,3300.0 L702.9,3301.6 L703.7,3296.4 L704.4,3296.9 L705.2,3303.0 L706.0,3298.5 L706.8,3300.9 L707.6,3297.9 L708.4,3299.3 L709.3,3298.9 L710.1,3296.7 L710.9,3298.9 L711.7,3293.6 L712.5,3301.3 L713.3,3303.4 L714.1,3298.4 L714.9,3303.6 L715.7,3297.7 L716.6,3299.1 L717.4,3299.1 L718.2,3298.8 L718.9,3295.5 L719.7,3299.0 L720.5,3298.2 L721.2,3299.0 L722.0,3299.0 L722.8,3303.1 L723.5,3301.6 L724.3,3300.4 L725.1,3302.7 L725.8,3295.7 L726.6,3303.0 L727.3,3304.9 L728.1,3307.9 L728.9,3304.2 L729.6,3306.7 L730.4,3303.1 L731.2,3306.2 L731.9,3300.5 L732.6,3303.5 L733.3,3304.7 L734.1,3306.3 L734.8,3301.3 L735.5,3303.6 L736.2,3305.4 L736.9,3303.8 L737.7,3299.4 L738.4,3305.1 L739.1,3300.2 L739.8,3297.0 L740.5,3298.0 L741.3,3301.4 L742.0,3297.8 L742.7,3297.7 L743.4,3303.7 L744.2,3295.7 L744.9,3298.1 L745.7,3299.3 L746.4,3293.4 L747.2,3297.6 L748.0,3297.7 L748.7,3294.9 L749.5,3289.5 L750.3,3297.5 L751.0,3298.9 L751.8,3297.5 L752.6,3294.5 L753.3,3298.6 L754.1,3296.0 L754.9,3295.7 L755.6,3295.6 L756.4,3295.1 L757.1,3294.2 L757.9,3296.1 L758.6,3295.4 L759.3,3294.9 L760.0,3300.1 L760.8,3298.3 L761.5,3298.3 L762.2,3297.0 L762.9,3298.4 L763.6,3298.7 L764.4,3296.9 L765.1,3294.7 L765.8,3298.9 L766.5,3297.5 L767.2,3297.6 L768.0,3302.2 L768.7,3300.4 L769.4,3300.0 L770.1,3302.3 L770.9,3302.3 L771.8,3301.7 L772.6,3301.6 L773.4,3298.5 L774.2,3300.9 L775.0,3299.8 L775.8,3301.2 L776.6,3303.1 L777.4,3298.5 L778.2,3304.2 L779.1,3300.3 L779.9,3304.2 L780.7,3304.3 L781.5,3303.3 L782.3,3302.4 L783.1,3301.5 L783.9,3297.9 L784.6,3302.5 L785.4,3301.2 L786.2,3301.7 L786.9,3301.1 L787.7,3298.0 L788.5,3301.3 L789.2,3302.5 L790.0,3301.7 L790.8,3298.3 L791.5,3296.5 L792.3,3302.7 L793.0,3298.7 L793.8,3301.0 L794.6,3302.1 L795.3,3299.8 L796.1,3295.0 L796.9,3304.1 L797.6,3297.1 L798.4,3299.1 L799.2,3295.0 L799.9,3299.9 L800.7,3296.8 L801.5,3301.1 L802.2,3301.5 L803.0,3295.4 L803.7,3294.6 L804.5,3294.0 L805.3,3294.8 L806.0,3300.9 L806.8,3301.2 L807.6,3299.1 L808.3,3294.8 L809.1,3295.0 L809.9,3295.9 L810.7,3297.1 L811.5,3294.7 L812.3,3291.9 L813.1,3296.1 L814.0,3293.8 L814.8,3297.0 L815.6,3296.9 L816.4,3293.9 L817.2,3293.5 L818.0,3292.3 L818.8,3292.8 L819.6,3292.2 L820.5,3294.0 L821.3,3294.1 L822.1,3290.3 L822.8,3289.4 L823.6,3290.9 L824.4,3288.3 L825.1,3292.7 L825.9,3288.1 L826.7,3289.2 L827.4,3290.5 L828.2,3290.0 L829.0,3285.1 L829.7,3287.3 L830.5,3288.7 L831.2,3290.1 L832.0,3293.2 L832.8,3290.5 L833.5,3293.1 L834.3,3290.8 L835.1,3292.8 L835.9,3291.6 L836.7,3289.7 L837.5,3287.4 L838.3,3291.5 L839.1,3293.7 L839.9,3286.3 L840.7,3292.4 L841.6,3292.9 L842.4,3290.7 L843.2,3292.5 L844.0,3291.0 L844.8,3289.0 L845.6,3291.6 L846.4,3289.7 L847.2,3292.9 L848.1,3293.6 L848.8,3290.9 L849.6,3292.3 L850.3,3295.9 L851.1,3290.9 L851.9,3290.6 L852.6,3291.9 L853.4,3289.3 L854.2,3296.9 L854.9,3298.5 L855.7,3294.9 L856.5,3292.4 L857.2,3293.1 L858.0,3294.0 L858.7,3289.3 L859.5,3294.1 L860.3,3295.9 L861.0,3292.4 L861.8,3295.6 L862.6,3289.7 L863.3,3294.4 L864.1,3291.3 L864.9,3294.8 L865.6,3292.6 L866.4,3296.1 L867.2,3298.1 L867.9,3293.8 L868.7,3292.0 L869.4,3290.1 L870.2,3294.7 L871.0,3292.1 L871.7,3289.3 L872.5,3292.9 L873.3,3294.8 L874.0,3290.4 L874.8,3289.3 L875.6,3290.1 L876.3,3286.6 L877.1,3284.6 L877.8,3287.6 L878.6,3283.4 L879.4,3284.2 L880.1,3282.1 L880.9,3285.0 L881.7,3284.4 L882.4,3284.2 L883.2,3285.1 L884.0,3280.8 L884.7,3287.0 L885.5,3287.5 L886.2,3284.4 L887.0,3281.2 L887.8,3279.7 L888.5,3283.5 L889.3,3284.0 L890.1,3283.6 L890.9,3286.4 L891.6,3286.5 L892.4,3281.8 L893.2,3281.4 L893.9,3284.7 L894.7,3284.2 L895.5,3280.6 L896.2,3285.1 L897.0,3285.7 L897.9,3284.9 L898.7,3286.6 L899.5,3280.5 L900.3,3285.1 L901.1,3284.2 L901.9,3282.8 L902.7,3281.1 L903.5,3281.3 L904.4,3280.9 L905.2,3281.2 L906.0,3280.4 L906.8,3281.7 L907.6,3280.6 L908.4,3285.0 L909.2,3279.2 L910.0,3284.0 L910.8,3280.7 L911.7,3280.2 L912.5,3280.3 L913.3,3280.2 L914.1,3282.1 L914.9,3280.5 L915.7,3283.2 L916.5,3279.1 L917.3,3280.5 L918.1,3283.2 L919.0,3282.1 L919.8,3282.2 L920.6,3283.6 L921.4,3282.8 L922.2,3284.2 L923.0,3283.7 L923.8,3282.8 L924.6,3281.9 L925.5,3283.1 L926.3,3280.1 L927.1,3282.4 L927.9,3283.9 L928.7,3283.6 L929.5,3278.9 L930.2,3281.4 L931.0,3280.7 L931.8,3278.0 L932.6,3281.3 L933.3,3282.9 L934.1,3284.8 L934.9,3284.6 L935.7,3280.6 L936.4,3281.0 L937.2,3280.8 L938.0,3279.8 L938.8,3281.7 L939.5,3278.8 L940.3,3277.3 L941.1,3275.5 L941.8,3280.4 L942.6,3282.3 L943.4,3279.3 L944.2,3277.4 L944.9,3280.3 L945.7,3279.0 L946.5,3280.1 L947.3,3276.0 L948.0,3278.1 L948.8,3272.9 L949.6,3280.9 L950.3,3271.6 L951.1,3275.8 L951.9,3276.0 L952.7,3276.9 L953.4,3277.7 L954.2,3278.6 L955.0,3277.5 L955.8,3276.8 L956.5,3279.1 L957.3,3277.2 L958.1,3277.5 L958.8,3278.7 L959.6,3273.1 L960.4,3275.3 L961.2,3276.4 L961.9,3277.1 L962.7,3278.1 L963.5,3274.8 L964.3,3277.4 L965.0,3277.3 L965.8,3276.1 L966.6,3280.9 L967.4,3280.2 L968.1,3272.4 L968.9,3277.9 L969.7,3276.3 L970.4,3274.6 L971.2,3277.5 L972.0,3280.6 L972.8,3276.2 L973.5,3277.7 L974.3,3280.9 L975.1,3280.5 L975.9,3279.0 L976.6,3280.9 L977.4,3277.6 L978.2,3280.3 L979.0,3280.5 L979.8,3278.2 L980.6,3276.2 L981.5,3274.5 L982.3,3277.4 L983.1,3281.0 L983.9,3280.5 L984.7,3274.1 L985.5,3278.8 L986.3,3283.1 L987.1,3279.3 L988.0,3280.2 L988.8,3276.4 L989.6,3281.2 L990.4,3280.7 L991.2,3279.2 L992.0,3280.3 L992.8,3283.5 L993.6,3283.7 L994.3,3279.8 L995.0,3286.6 L995.7,3282.6 L996.4,3285.4 L997.1,3281.3 L997.8,3281.7 L998.5,3281.5 L999.2,3285.7 L999.9,3280.9 L1000.6,3282.5 L1001.3,3280.6 L1002.0,3281.1 L1002.7,3286.8 L1003.4,3283.3 L1004.0,3284.9 L1004.7,3279.9 L1005.3,3282.8 L1006.0,3280.7 L1006.6,3280.4 L1007.3,3281.4 L1007.9,3284.9 L1008.6,3283.5 L1009.2,3284.8 L1009.9,3281.6 L1010.5,3281.1 L1011.2,3278.7 L1011.8,3279.4 L1012.5,3275.2 L1013.1,3279.6 L1013.8,3274.3 L1014.4,3276.8 L1015.1,3274.0 L1015.7,3275.1 L1016.4,3277.0 L1017.2,3275.8 L1018.0,3275.7 L1018.8,3275.7 L1019.6,3274.2 L1020.4,3272.9 L1021.2,3277.0 L1022.0,3275.3 L1022.9,3274.7 L1023.7,3273.8 L1024.5,3276.1 L1025.3,3272.7 L1026.1,3277.3 L1026.9,3272.5 L1027.7,3270.9 L1028.5,3275.3 L1029.4,3270.8 L1030.2,3278.3 L1031.0,3269.8 L1031.8,3274.5 L1032.6,3271.6 L1033.4,3273.8 L1034.2,3274.3 L1035.0,3275.4 L1035.8,3274.7 L1036.7,3273.1 L1037.5,3273.0 L1038.3,3270.5 L1039.1,3268.4 L1039.9,3273.2 L1040.7,3268.6 L1041.5,3272.6 L1042.3,3273.1 L1043.0,3272.0 L1043.6,3273.6 L1044.3,3272.9 L1044.9,3274.6 L1045.6,3270.3 L1046.2,3275.2 L1046.9,3274.9 L1047.5,3274.2 L1048.2,3277.2 L1048.8,3275.3 L1049.5,3274.6 L1050.1,3276.0 L1050.8,3278.6 L1051.4,3279.3 L1052.1,3279.0 L1052.8,3279.1 L1053.6,3274.4 L1054.4,3281.0 L1055.1,3279.3 L1055.9,3282.3 L1056.7,3278.0 L1057.4,3278.1 L1058.2,3274.5 L1059.0,3278.6 L1059.7,3275.5 L1060.5,3278.0 L1061.2,3276.2 L1062.0,3273.7 L1062.8,3273.4 L1063.5,3270.0 L1064.3,3271.7 L1065.1,3273.0 L1065.8,3277.7 L1066.5,3272.5 L1067.2,3272.6 L1068.0,3275.5 L1068.7,3272.6 L1069.4,3274.7 L1070.1,3273.2 L1070.8,3273.1 L1071.6,3275.5 L1072.3,3275.3 L1073.0,3273.5 L1073.7,3270.0 L1074.4,3277.9 L1075.2,3282.9 L1075.9,3278.4 L1076.6,3276.9 L1077.3,3279.8 L1078.1,3279.0 L1078.9,3281.6 L1079.7,3279.9 L1080.5,3286.0 L1081.3,3281.3 L1082.1,3279.8 L1082.9,3283.7 L1083.7,3282.9 L1084.5,3279.0 L1085.4,3285.4 L1086.2,3279.1 L1087.0,3278.3 L1087.8,3278.8 L1088.6,3280.6 L1089.4,3281.3 L1090.2,3278.7 L1091.0,3282.9 L1091.9,3282.9 L1092.7,3275.3 L1093.5,3284.4 L1094.3,3284.5 L1095.1,3279.6 L1095.9,3285.1 L1096.7,3281.4 L1097.5,3282.0 L1098.3,3278.3 L1099.2,3276.3 L1100.0,3279.9 L1100.8,3276.2 L1101.6,3279.9 L1102.4,3279.2 L1103.2,3280.7 L1104.0,3280.7 L1104.8,3278.2 L1105.6,3281.7 L1106.5,3282.8 L1107.3,3280.3 L1108.1,3279.0 L1108.9,3275.6 L1109.7,3278.7 L1110.5,3279.7 L1111.3,3281.5 L1112.1,3281.5 L1113.0,3275.2 L1113.8,3277.9 L1114.6,3276.0 L1115.4,3279.2 L1116.2,3279.4 L1117.0,3278.7 L1117.8,3280.5 L1118.6,3276.1 L1119.4,3278.4 L1120.3,3277.9 L1121.1,3279.5 L1121.9,3275.7 L1122.7,3277.2 L1123.5,3283.1 L1124.1,3281.7 L1124.7,3281.3 L1125.3,3276.9 L1125.9,3276.9 L1126.5,3280.1 L1127.0,3278.4 L1127.6,3277.1 L1128.2,3273.8 L1128.8,3276.5 L1129.4,3277.1 L1130.0,3274.5 L1130.6,3269.3 L1131.2,3275.7 L1131.8,3274.7 L1132.4,3278.2 L1133.0,3274.3 L1133.5,3273.9 L1134.1,3271.1 L1134.7,3274.0 L1135.3,3268.1 L1135.9,3273.3 L1136.5,3265.7 L1137.3,3271.5 L1138.1,3271.7 L1138.9,3270.8 L1139.7,3272.6 L1140.6,3269.5 L1141.4,3273.4 L1142.2,3272.4 L1143.0,3272.3 L1143.8,3270.6 L1144.6,3268.5 L1145.4,3266.8 L1146.2,3268.4 L1147.0,3270.5 L1147.9,3266.1 L1148.7,3266.6 L1149.5,3266.7 L1150.3,3268.4 L1151.1,3269.3 L1151.9,3264.9 L1152.7,3269.0 L1153.5,3273.1 L1154.4,3265.7 L1155.2,3272.0 L1156.0,3270.0 L1156.8,3274.3 L1157.6,3264.3 L1158.4,3269.6 L1159.2,3270.4 L1160.0,3274.3 L1160.8,3272.4 L1161.7,3265.0 L1162.5,3269.2 L1163.3,3267.9 L1164.1,3268.9 L1164.9,3266.5 L1165.7,3269.8 L1166.5,3268.0 L1167.3,3268.4 L1168.1,3271.2 L1169.0,3272.1 L1169.8,3269.4 L1170.6,3271.4 L1171.4,3271.4 L1172.2,3269.8 L1173.0,3267.5 L1173.8,3271.5 L1174.5,3271.5 L1175.3,3266.5 L1176.1,3271.6 L1176.8,3270.9 L1177.6,3267.4 L1178.4,3272.0 L1179.2,3268.4 L1179.9,3270.5 L1180.7,3272.6 L1181.5,3269.4 L1182.3,3270.9 L1183.0,3275.8 L1183.8,3278.3 L1184.6,3273.4 L1185.3,3277.8 L1186.1,3271.3 L1186.9,3277.1 L1187.7,3277.5 L1188.4,3272.3 L1189.3,3273.4 L1190.1,3273.8 L1190.9,3274.8 L1191.7,3272.3 L1192.5,3267.4 L1193.3,3273.3 L1194.1,3271.6 L1194.9,3271.8 L1195.7,3273.8 L1196.6,3275.2 L1197.4,3273.0 L1198.2,3278.1 L1199.0,3271.9 L1199.8,3275.3 L1200.6,3278.7 L1201.4,3269.8 L1202.2,3274.7 L1203.1,3270.0 L1203.9,3276.2 L1204.7,3273.0 L1205.4,3273.0 L1206.2,3266.9 L1207.0,3270.4 L1207.8,3272.1 L1208.5,3273.6 L1209.3,3274.6 L1210.1,3274.2 L1210.9,3274.2 L1211.6,3269.8 L1212.4,3272.1 L1213.2,3269.1 L1214.0,3268.6 L1214.7,3270.5 L1215.5,3268.9 L1216.3,3273.6 L1217.0,3268.6 L1217.8,3272.5 L1218.6,3271.8 L1219.4,3269.3 L1220.1,3263.8 L1220.9,3266.1 L1221.7,3267.1 L1222.5,3266.2 L1223.2,3270.6 L1224.0,3269.0 L1224.8,3265.8 L1225.5,3267.8 L1226.3,3267.1 L1227.1,3267.0 L1227.9,3266.2 L1228.6,3270.1 L1229.4,3266.1 L1230.2,3263.8 L1231.0,3265.1 L1231.7,3265.0 L1232.5,3266.8 L1233.3,3270.7 L1234.1,3264.3 L1234.8,3266.1 L1235.6,3264.2 L1236.4,3266.0 L1237.1,3267.1 L1237.9,3266.8 L1238.7,3267.4 L1239.4,3264.3 L1240.2,3263.1 L1241.0,3263.6 L1241.7,3262.7 L1242.5,3260.3 L1243.3,3263.4 L1244.0,3269.2 L1244.8,3269.1 L1245.5,3268.9 L1246.3,3268.2 L1247.1,3266.2 L1247.8,3265.7 L1248.6,3272.2 L1249.4,3272.2 L1250.1,3268.2 L1250.7,3268.7 L1251.3,3268.7 L1251.8,3270.0 L1252.4,3270.2 L1253.0,3270.3 L1253.6,3272.5 L1254.1,3273.1 L1254.7,3272.0 L1255.3,3273.9 L1255.9,3273.6 L1256.4,3273.3 L1257.0,3273.7 L1257.6,3272.5 L1258.2,3274.5 L1258.7,3274.2 L1259.3,3275.3 L1259.9,3277.9 L1260.6,3278.7 L1261.3,3275.8 L1262.0,3277.8 L1262.8,3275.7 L1263.5,3279.5 L1264.2,3275.1 L1264.9,3273.3 L1265.6,3274.6 L1266.4,3271.7 L1267.1,3272.9 L1267.8,3270.3 L1268.5,3273.8 L1269.2,3271.1 L1270.0,3271.7 L1270.7,3268.0 L1271.4,3271.9 L1272.1,3266.6 L1272.9,3270.5 L1273.6,3273.5 L1274.4,3273.6 L1275.1,3275.7 L1275.9,3271.4 L1276.7,3269.2 L1277.4,3276.3 L1278.2,3273.4 L1279.0,3274.9 L1279.7,3270.8 L1280.5,3276.1 L1281.3,3275.6 L1282.0,3277.5 L1282.8,3274.9 L1283.6,3275.2 L1284.3,3269.9 L1285.1,3270.9 L1285.8,3276.9 L1286.6,3276.3 L1287.4,3275.4 L1288.2,3273.1 L1288.9,3270.8 L1289.7,3274.4 L1290.5,3270.0 L1291.3,3275.9 L1292.0,3273.2 L1292.8,3268.7 L1293.6,3269.9 L1294.3,3271.2 L1295.1,3271.5 L1295.9,3270.9 L1296.7,3276.3 L1297.4,3272.6 L1298.2,3276.3 L1299.0,3275.4 L1299.8,3272.3 L1300.5,3275.8 L1301.3,3271.4 L1302.1,3273.3 L1302.9,3273.8 L1303.6,3277.5 L1304.4,3273.2 L1305.2,3272.8 L1305.9,3273.3 L1306.7,3274.7 L1307.5,3270.8 L1308.3,3269.1 L1309.0,3272.1 L1309.8,3273.4 L1310.6,3275.5 L1311.4,3272.1 L1312.1,3275.4 L1312.9,3272.1 L1313.7,3268.0 L1314.4,3273.2 L1315.2,3271.3 L1316.0,3279.3 L1316.8,3274.4 L1317.5,3272.2 L1318.3,3275.3 L1319.1,3278.6 L1319.9,3275.5 L1320.7,3279.1 L1321.6,3273.5 L1322.4,3273.3 L1323.2,3274.2 L1324.0,3275.2 L1324.8,3272.4 L1325.6,3273.1 L1326.4,3274.5 L1327.2,3271.9 L1328.1,3274.2 L1328.9,3272.8 L1329.7,3272.5 L1330.5,3273.4 L1331.3,3274.4 L1332.1,3271.8 L1332.9,3273.8 L1333.7,3271.0 L1334.5,3271.8 L1335.3,3272.8 L1336.1,3276.5 L1336.9,3275.8 L1337.6,3271.3 L1338.4,3270.5 L1339.2,3272.3 L1340.0,3275.0 L1340.7,3269.7 L1341.5,3273.9 L1342.3,3271.4 L1343.0,3271.7 L1343.8,3271.9 L1344.6,3270.2 L1345.4,3269.0 L1346.1,3276.8 L1346.9,3270.8 L1347.7,3266.9 L1348.5,3268.3 L1349.2,3272.4 L1350.0,3268.0 L1350.8,3270.3 L1351.6,3266.6 L1352.4,3271.5 L1353.2,3267.4 L1354.0,3266.4 L1354.8,3269.2 L1355.6,3268.9 L1356.5,3275.6 L1357.3,3271.9 L1358.1,3273.4 L1358.9,3265.3 L1359.7,3268.6 L1360.5,3272.4 L1361.3,3276.8 L1362.1,3271.1 L1363.0,3275.4 L1363.8,3265.1 L1364.6,3269.8 L1365.4,3269.4 L1366.2,3268.1 L1367.0,3266.3 L1367.8,3265.9 L1368.5,3265.5 L1369.3,3268.3 L1370.1,3267.9 L1370.9,3266.4 L1371.6,3263.8 L1372.4,3264.2 L1373.2,3268.1 L1373.9,3270.0 L1374.7,3261.4 L1375.5,3269.6 L1376.2,3265.2 L1377.0,3266.5 L1377.8,3267.7 L1378.6,3269.0 L1379.3,3265.5 L1380.1,3268.4 L1380.9,3265.3 L1381.6,3263.9 L1382.4,3268.3 L1383.2,3267.2 L1384.0,3265.6 L1384.7,3266.3 L1385.5,3264.3 L1386.3,3265.1 L1387.1,3266.3 L1387.8,3263.8 L1388.6,3263.8 L1389.4,3259.8 L1390.1,3257.1 L1390.9,3260.9 L1391.7,3256.9 L1392.5,3258.7 L1393.3,3258.9 L1394.1,3263.1 L1394.9,3264.3 L1395.7,3258.9 L1396.5,3258.0 L1397.3,3258.6 L1398.1,3261.1 L1399.0,3259.3 L1399.8,3258.9 L1400.6,3261.3 L1401.4,3258.0 L1402.2,3262.8 L1403.0,3258.0 L1403.8,3260.7 L1404.6,3255.9 L1405.5,3261.6 L1406.3,3261.4 L1407.1,3260.6 L1407.9,3262.3 L1408.7,3260.8 L1409.5,3261.0 L1410.3,3260.7 L1411.1,3265.2 L1411.9,3261.4 L1412.8,3264.8 L1413.6,3259.1 L1414.4,3260.5 L1415.2,3262.1 L1416.0,3255.9 L1416.8,3259.7 L1417.6,3258.0 L1418.4,3255.6 L1419.3,3260.8 L1420.1,3257.4 L1420.9,3256.3 L1421.7,3260.2 L1422.5,3258.4 L1423.3,3259.7 L1424.1,3256.1 L1424.9,3252.4 L1425.7,3254.4 L1426.6,3257.5 L1427.4,3260.8 L1428.2,3253.3 L1429.0,3257.8 L1429.8,3256.9 L1430.6,3255.4 L1431.4,3255.8 L1432.2,3258.9 L1433.1,3260.8 L1433.9,3258.8 L1434.7,3254.6 L1435.5,3259.2 L1436.3,3253.3 L1437.1,3254.1 L1437.9,3260.6 L1438.7,3255.0 L1439.5,3256.8 L1440.4,3255.2 L1441.2,3251.5 L1442.0,3259.7 L1442.8,3255.5 L1443.6,3259.8 L1444.4,3256.3 L1445.2,3261.7 L1446.0,3258.0 L1446.9,3255.2 L1447.7,3253.0 L1448.5,3250.8 L1449.3,3256.5 L1450.1,3256.3 L1450.9,3252.5 L1451.7,3254.9 L1452.5,3259.2 L1453.3,3257.2 L1454.2,3259.0 L1455.0,3259.2 L1455.8,3255.7 L1456.6,3260.6 L1457.4,3259.9 L1458.1,3255.9 L1458.9,3261.3 L1459.6,3257.9 L1460.4,3254.9 L1461.1,3261.7 L1461.8,3255.9 L1462.6,3256.7 L1463.3,3256.7 L1464.0,3256.0 L1464.8,3252.4 L1465.5,3254.4 L1466.3,3257.6 L1467.0,3260.3 L1467.7,3256.8 L1468.5,3254.7 L1469.2,3252.7 L1469.9,3256.1 L1470.7,3252.4 L1471.4,3251.9 L1472.2,3256.4 L1472.9,3257.5 L1473.6,3256.0 L1474.4,3257.6 L1475.3,3253.1 L1476.1,3254.1 L1476.9,3256.9 L1477.7,3247.7 L1478.5,3251.7 L1479.3,3253.5 L1480.1,3254.8 L1480.9,3249.3 L1481.8,3254.1 L1482.6,3254.5 L1483.4,3253.0 L1484.2,3253.5 L1485.0,3252.2 L1485.8,3254.3 L1486.6,3252.7 L1487.4,3250.3 L1488.2,3251.4 L1489.1,3250.5 L1489.9,3249.5 L1490.7,3249.0 L1491.5,3252.0 L1492.3,3250.0 L1493.1,3248.8 L1493.9,3245.8 L1494.7,3251.2 L1495.6,3251.4 L1496.4,3248.4 L1497.2,3252.7 L1498.0,3249.4 L1498.8,3248.5 L1499.6,3249.0 L1500.4,3252.1 L1501.2,3248.0 L1502.0,3251.7 L1502.9,3254.5 L1503.7,3253.7 L1504.5,3252.4 L1505.3,3250.8 L1506.1,3252.7 L1506.9,3252.5 L1507.7,3254.5 L1508.5,3251.2 L1509.4,3247.7 L1510.2,3250.2 L1511.0,3246.7 L1511.8,3251.9 L1512.6,3249.3 L1513.4,3254.0 L1514.2,3250.3 L1515.0,3248.5 L1515.8,3251.3 L1516.7,3249.7 L1517.5,3254.4 L1518.3,3256.3 L1519.1,3250.9 L1519.9,3249.8 L1520.7,3248.8 L1521.5,3251.5 L1522.3,3254.9 L1523.1,3255.4 L1523.9,3254.8 L1524.7,3253.0 L1525.4,3253.8 L1526.2,3251.8 L1527.0,3250.3 L1527.7,3253.1 L1528.5,3252.1 L1529.3,3252.3 L1530.1,3252.7 L1530.8,3252.3 L1531.6,3254.8 L1532.4,3253.4 L1533.2,3256.4 L1533.9,3257.9 L1534.7,3254.3 L1535.5,3258.0 L1536.3,3255.9 L1537.0,3254.7 L1537.8,3259.2 L1538.6,3258.9 L1539.4,3257.5 L1540.2,3257.9 L1541.0,3258.7 L1541.8,3252.9 L1542.6,3258.8 L1543.4,3254.8 L1544.3,3253.9 L1545.1,3258.9 L1545.9,3259.5 L1546.7,3258.0 L1547.5,3256.4 L1548.3,3252.0 L1549.1,3251.4 L1549.9,3258.2 L1550.7,3258.0 L1551.6,3257.0 L1552.4,3255.7 L1553.2,3257.5 L1554.0,3255.0 L1554.8,3256.9 L1555.6,3258.6 L1556.4,3258.2 L1557.2,3260.2 L1558.1,3258.3 L1558.9,3255.3 L1559.7,3258.9 L1560.5,3255.2 L1561.3,3255.3 L1562.1,3253.8 L1562.9,3255.2 L1563.7,3254.1 L1564.5,3256.8 L1565.4,3255.2 L1566.2,3256.9 L1567.0,3256.3 L1567.8,3254.1 L1568.6,3256.4 L1569.4,3250.9 L1570.2,3249.4 L1571.0,3256.9 L1571.8,3252.8 L1572.6,3261.4 L1573.4,3252.2 L1574.1,3257.4 L1574.9,3255.5 L1575.7,3252.1 L1576.5,3255.7 L1577.2,3249.2 L1578.0,3255.8 L1578.8,3252.9 L1579.5,3252.4 L1580.3,3251.1 L1581.1,3254.4 L1581.9,3254.3 L1582.6,3248.6 L1583.4,3255.0 L1584.2,3250.9 L1585.0,3251.1 L1585.7,3250.4 L1586.5,3251.0 L1587.3,3251.6 L1588.0,3257.4 L1588.8,3249.7 L1589.6,3248.5 L1590.4,3248.9 L1591.1,3246.1 L1591.9,3250.1 L1592.7,3249.7 L1593.5,3246.2 L1594.2,3247.3 L1595.0,3243.4 L1595.8,3252.3 L1596.5,3249.7 L1597.3,3249.2 L1598.1,3245.4 L1598.9,3241.9 L1599.6,3248.0 L1600.4,3249.3 L1601.2,3246.1 L1602.0,3245.6 L1602.7,3247.6 L1603.5,3246.5 L1604.3,3247.7 L1605.1,3248.2 L1605.9,3246.9 L1606.8,3243.4 L1607.6,3247.2 L1608.4,3242.8 L1609.2,3245.6 L1610.0,3243.9 L1610.8,3240.1 L1611.6,3249.7 L1612.4,3244.0 L1613.2,3247.9 L1614.1,3250.9 L1614.9,3246.8 L1615.7,3248.4 L1616.5,3245.0 L1617.3,3249.1 L1618.1,3251.4 L1618.9,3247.3 L1619.7,3249.4 L1620.5,3246.5 L1621.3,3246.5 L1622.1,3247.5 L1622.8,3248.4 L1623.6,3247.1 L1624.4,3251.3 L1625.2,3246.2 L1625.9,3249.0 L1626.7,3251.1 L1627.5,3248.9 L1628.2,3248.4 L1629.0,3251.6 L1629.8,3249.8 L1630.6,3254.7 L1631.3,3255.6 L1632.1,3252.3 L1632.9,3252.6 L1633.7,3257.1 L1634.4,3254.3 L1635.2,3251.0 L1636.0,3252.0 L1636.7,3254.7 L1637.5,3251.5 L1638.3,3257.1 L1639.1,3256.1 L1639.8,3257.3 L1640.6,3255.0 L1641.4,3258.0 L1642.2,3253.8 L1642.9,3257.3 L1643.7,3259.0 L1644.5,3256.7 L1645.3,3260.0 L1646.0,3257.6 L1646.8,3252.3 L1647.6,3257.3 L1648.3,3251.4 L1649.1,3254.7 L1649.9,3256.0 L1650.7,3253.5 L1651.4,3253.5 L1652.2,3255.8 L1653.0,3255.7 L1653.8,3259.4 L1654.5,3253.6 L1655.3,3252.3 L1656.1,3252.8 L1656.8,3256.9 L1657.6,3255.8 L1658.4,3255.6 L1659.2,3254.5 L1659.9,3250.7 L1660.7,3249.3 L1661.5,3254.2 L1662.3,3254.3 L1663.0,3256.2 L1663.8,3253.4 L1664.6,3254.4 L1665.3,3256.7 L1666.1,3253.5 L1666.9,3257.4 L1667.7,3258.2 L1668.4,3254.8 L1669.2,3254.8 L1670.0,3253.2 L1670.8,3252.0 L1671.5,3248.6 L1672.3,3253.2 L1673.1,3253.2 L1673.9,3250.4 L1674.6,3254.7 L1675.4,3252.7 L1676.2,3255.4 L1676.9,3258.0 L1677.7,3256.2 L1678.5,3251.6 L1679.3,3258.1 L1680.0,3257.8 L1680.8,3256.9 L1681.6,3256.3 L1682.4,3256.7 L1683.1,3255.0 L1683.9,3254.5 L1684.7,3256.1 L1685.4,3253.9 L1686.2,3253.6 L1687.0,3252.3 L1687.8,3250.0 L1688.5,3249.4 L1689.3,3254.5 L1690.1,3254.6 L1690.9,3254.2 L1691.6,3254.2 L1692.4,3251.8 L1693.2,3250.7 L1694.0,3250.2 L1694.7,3254.2 L1695.5,3257.6 L1696.3,3255.6 L1697.0,3251.3 L1697.8,3250.9 L1698.6,3251.6 L1699.4,3251.2 L1700.1,3249.6 L1700.9,3251.9 L1701.7,3248.9 L1702.5,3252.4 L1703.2,3250.3 L1704.0,3255.9 L1704.8,3252.1 L1705.5,3247.6 L1706.3,3251.1 L1707.1,3252.3 L1707.9,3255.7 L1708.6,3250.0 L1709.4,3252.7 L1710.2,3253.8 L1711.0,3246.0 L1711.7,3249.3 L1712.5,3247.8 L1713.3,3247.1 L1714.1,3244.4 L1714.8,3245.7 L1715.6,3247.9 L1716.4,3247.6 L1717.1,3249.0 L1717.9,3247.8 L1718.7,3249.7 L1719.5,3249.4 L1720.2,3250.5 L1721.0,3246.3 L1721.8,3248.5 L1722.6,3248.9 L1723.3,3251.3 L1724.1,3246.3 L1724.9,3248.5 L1725.6,3242.9 L1726.4,3247.7 L1727.2,3246.3 L1728.0,3242.8 L1728.7,3240.4 L1729.5,3239.4 L1730.3,3242.7 L1731.1,3243.6 L1731.8,3242.6 L1732.6,3245.3 L1733.4,3240.8 L1734.2,3248.5 L1735.0,3242.3 L1735.8,3245.2 L1736.6,3246.1 L1737.4,3243.7 L1738.2,3243.6 L1739.1,3247.6 L1739.9,3244.7 L1740.7,3243.7 L1741.5,3243.7 L1742.3,3243.0 L1743.1,3242.0 L1743.9,3239.7 L1744.7,3241.0 L1745.6,3242.0 L1746.4,3243.2 L1747.2,3242.2 L1748.0,3241.9 L1748.8,3241.3 L1749.6,3242.6 L1750.4,3242.5 L1751.2,3239.9 L1752.0,3241.9 L1752.9,3239.4 L1753.7,3238.5 L1754.5,3241.6 L1755.3,3240.9 L1756.1,3241.1 L1756.9,3239.6 L1757.7,3240.5 L1758.5,3238.4 L1759.4,3237.2 L1760.2,3242.5 L1761.0,3244.2 L1761.8,3244.0 L1762.6,3245.8 L1763.4,3241.5 L1764.2,3245.3 L1765.0,3242.2 L1765.8,3237.7 L1766.6,3240.9 L1767.4,3245.9 L1768.2,3243.3 L1768.9,3244.1 L1769.7,3246.5 L1770.5,3246.3 L1771.3,3243.6 L1772.0,3248.9 L1772.8,3249.8 L1773.6,3248.2 L1774.3,3247.1 L1775.1,3245.9 L1775.9,3245.3 L1776.7,3246.2 L1777.4,3249.7 L1778.2,3247.4 L1779.0,3244.8 L1779.8,3247.1 L1780.5,3247.8 L1781.3,3251.5 L1782.1,3247.6 L1782.9,3249.7 L1783.7,3243.8 L1784.5,3249.2 L1785.3,3249.3 L1786.1,3247.1 L1786.9,3245.2 L1787.8,3247.8 L1788.6,3245.9 L1789.4,3249.0 L1790.2,3252.7 L1791.0,3249.6 L1791.8,3248.8 L1792.6,3249.2 L1793.4,3247.9 L1794.3,3249.6 L1795.1,3244.9 L1795.9,3248.3 L1796.7,3251.3 L1797.5,3247.6 L1798.3,3248.1 L1799.1,3244.4 L1799.9,3244.9 L1800.6,3246.0 L1801.4,3245.7 L1802.2,3245.4 L1802.9,3250.0 L1803.7,3244.2 L1804.5,3246.7 L1805.3,3246.8 L1806.0,3247.4 L1806.8,3246.2 L1807.6,3244.1 L1808.4,3248.1 L1809.1,3243.4 L1809.9,3243.4 L1810.7,3245.3 L1811.5,3243.8 L1812.2,3239.1 L1813.0,3240.5 L1813.8,3239.0 L1814.5,3239.2 L1815.3,3245.2 L1816.1,3242.0 L1816.9,3242.8 L1817.6,3245.3 L1818.4,3243.1 L1819.2,3246.8 L1820.0,3244.7 L1820.7,3248.2 L1821.5,3247.2 L1822.3,3248.9 L1823.0,3252.0 L1823.8,3247.0 L1824.6,3245.0 L1825.4,3248.0 L1826.1,3249.2 L1826.9,3247.5 L1827.7,3249.8 L1828.5,3248.3 L1829.2,3246.5 L1830.0,3250.2 L1830.8,3248.2 L1831.5,3245.0 L1832.3,3245.0 L1833.0,3246.4 L1833.7,3242.4 L1834.5,3242.6 L1835.2,3243.6 L1835.9,3246.6 L1836.7,3241.7 L1837.4,3246.5 L1838.2,3248.9 L1838.9,3243.0 L1839.6,3250.2 L1840.4,3244.4 L1841.1,3244.7 L1841.8,3246.7 L1842.6,3246.0 L1843.3,3246.1 L1844.1,3245.2 L1844.8,3240.7 L1845.5,3242.1 L1846.3,3248.4 L1847.0,3246.1 L1847.8,3244.6 L1848.6,3243.6 L1849.4,3240.6 L1850.2,3244.6 L1850.9,3247.6 L1851.7,3243.1 L1852.5,3244.7 L1853.3,3243.5 L1854.1,3240.9 L1854.9,3240.9 L1855.7,3238.7 L1856.5,3245.0 L1857.2,3240.2 L1858.0,3240.9 L1858.8,3246.0 L1859.6,3244.2 L1860.4,3242.5 L1861.2,3244.6 L1862.0,3238.0 L1862.8,3243.5 L1863.6,3244.7 L1864.4,3240.9 L1865.2,3243.3 L1866.0,3245.4 L1866.9,3244.2 L1867.7,3242.8 L1868.5,3245.3 L1869.3,3244.8 L1870.1,3240.8 L1870.9,3243.3 L1871.7,3242.5 L1872.5,3241.2 L1873.3,3238.1 L1874.2,3240.4 L1875.0,3248.5 L1875.8,3242.7 L1876.6,3244.2 L1877.4,3246.3 L1878.1,3244.4 L1878.8,3246.6 L1879.5,3245.7 L1880.2,3245.6 L1880.9,3244.8 L1881.6,3243.1 L1882.3,3244.0 L1883.0,3244.5 L1883.7,3247.7 L1884.4,3246.7 L1885.1,3245.0 L1885.8,3243.7 L1886.4,3239.3 L1887.1,3243.4 L1887.9,3248.0 L1888.6,3248.2 L1889.3,3248.4 L1890.0,3246.3 L1890.8,3250.4 L1891.5,3244.0 L1892.2,3248.3 L1892.9,3247.8 L1893.6,3244.5 L1894.4,3244.9 L1895.1,3247.4 L1895.8,3242.5 L1896.5,3246.1 L1897.2,3244.6 L1898.0,3240.4 L1898.7,3238.6 L1899.4,3243.6 L1900.1,3244.4 L1900.9,3244.4 L1901.7,3238.5 L1902.4,3239.8 L1903.2,3236.9 L1904.0,3239.0 L1904.8,3240.6 L1905.5,3237.4 L1906.3,3240.3 L1907.1,3240.3 L1907.9,3239.3 L1908.6,3237.9 L1909.4,3243.4 L1910.2,3242.5 L1911.0,3240.7 L1911.7,3243.7 L1912.5,3242.5 L1913.3,3242.5 L1914.0,3237.8 L1914.8,3239.0 L1915.6,3240.1 L1916.4,3236.8 L1917.2,3239.4 L1918.0,3238.4 L1918.8,3239.1 L1919.6,3238.5 L1920.4,3235.9 L1921.2,3237.3 L1922.0,3241.1 L1922.9,3237.6 L1923.7,3236.4 L1924.5,3240.0 L1925.3,3239.6 L1926.1,3238.3 L1926.9,3240.0 L1927.7,3237.6 L1928.5,3238.7 L1929.4,3239.9 L1930.1,3242.1 L1930.9,3240.6 L1931.6,3242.8 L1932.4,3245.1 L1933.2,3241.4 L1933.9,3245.5 L1934.7,3245.6 L1935.5,3246.4 L1936.2,3237.4 L1937.0,3244.9 L1937.8,3239.8 L1938.5,3239.4 L1939.3,3242.2 L1940.0,3240.8 L1940.8,3245.9 L1941.6,3247.6 L1942.3,3246.7 L1943.1,3244.5 L1944.0,3241.8 L1944.8,3241.7 L1945.6,3241.9 L1946.4,3245.7 L1947.2,3242.7 L1948.0,3239.2 L1948.8,3241.6 L1949.6,3245.0 L1950.5,3244.9 L1951.3,3241.8 L1952.1,3240.7 L1952.9,3240.1 L1953.7,3242.2 L1954.5,3245.8 L1955.3,3242.6 L1956.1,3248.4 L1956.9,3244.1 L1957.6,3248.7 L1958.4,3246.4 L1959.1,3246.6 L1959.9,3245.8 L1960.7,3243.9 L1961.4,3240.9 L1962.2,3240.8 L1963.0,3240.9 L1963.7,3241.7 L1964.5,3245.3 L1965.3,3236.8 L1966.0,3237.8 L1966.8,3238.6 L1967.5,3242.0 L1968.3,3237.2 L1969.1,3247.4 L1969.8,3243.3 L1970.6,3244.8 L1971.4,3244.9 L1972.1,3245.7 L1972.9,3241.9 L1973.7,3242.6 L1974.4,3241.8 L1975.2,3241.9 L1976.0,3241.2 L1976.7,3247.0 L1977.5,3242.7 L1978.2,3245.6 L1979.0,3248.8 L1979.8,3247.0 L1980.5,3245.5 L1981.3,3244.8 L1982.1,3242.0 L1982.9,3247.5 L1983.7,3248.2 L1984.5,3246.9 L1985.4,3245.1 L1986.2,3248.9 L1987.0,3246.6 L1987.8,3247.9 L1988.6,3245.3 L1989.4,3242.4 L1990.2,3249.4 L1991.0,3243.0 L1991.9,3241.3 L1992.7,3245.6 L1993.5,3244.2 L1994.3,3246.1 L1995.0,3244.8 L1995.8,3242.5 L1996.6,3241.4 L1997.3,3240.1 L1998.1,3250.2 L1998.9,3242.8 L1999.6,3246.9 L2000.4,3243.5 L2001.2,3246.7 L2001.9,3246.8 L2002.7,3242.6 L2003.5,3239.8 L2004.2,3239.5 L2005.0,3241.2 L2005.7,3248.1 L2006.5,3244.2 L2007.3,3242.3 L2008.0,3244.0 L2008.8,3241.5 L2009.6,3241.9 L2010.3,3241.8 L2011.1,3243.2 L2011.9,3241.3 L2012.6,3239.9 L2013.4,3240.8 L2014.1,3243.7 L2014.9,3240.7 L2015.7,3239.8 L2016.4,3242.9 L2017.2,3238.6 L2018.0,3238.7 L2018.7,3240.1 L2019.5,3236.9 L2020.3,3240.4 L2021.0,3233.9 L2021.8,3236.7 L2022.6,3237.7 L2023.3,3236.7 L2024.1,3239.3 L2024.8,3237.8 L2025.6,3239.4 L2026.4,3239.2 L2027.1,3234.8 L2027.9,3240.1 L2028.7,3238.0 L2029.4,3237.1 L2030.2,3231.3 L2031.0,3233.6 L2031.7,3234.0 L2032.5,3237.5 L2033.2,3238.3 L2034.1,3240.0 L2034.9,3234.6 L2035.7,3233.3 L2036.5,3231.5 L2037.3,3234.3 L2038.1,3228.2 L2038.9,3230.5 L2039.7,3231.3 L2040.6,3233.2 L2041.4,3232.5 L2042.2,3231.9 L2043.0,3230.5 L2043.8,3232.7 L2044.6,3229.8 L2045.4,3229.1 L2046.2,3229.2 L2047.0,3234.8 L2047.8,3235.1 L2048.5,3233.6 L2049.3,3233.0 L2050.1,3233.1 L2050.8,3235.3 L2051.6,3237.0 L2052.3,3236.3 L2053.1,3238.1 L2053.9,3236.4 L2054.6,3235.8 L2055.4,3240.3 L2056.2,3234.8 L2056.9,3234.4 L2057.7,3232.5 L2058.5,3235.5 L2059.2,3238.1 L2060.0,3233.5 L2060.8,3232.4 L2061.7,3232.7 L2062.5,3233.4 L2063.3,3233.5 L2064.1,3235.1 L2064.9,3235.0 L2065.7,3238.6 L2066.5,3235.6 L2067.3,3234.4 L2068.1,3234.3 L2069.0,3238.1 L2069.8,3231.5 L2070.6,3237.8 L2071.4,3236.3 L2072.2,3232.3 L2073.0,3231.9 L2073.8,3230.2 L2074.6,3236.4 L2075.5,3234.3 L2076.3,3234.9 L2077.1,3235.3 L2077.9,3237.0 L2078.7,3239.6 L2079.5,3237.6 L2080.3,3236.9 L2081.1,3238.4 L2081.9,3242.4 L2082.8,3242.7 L2083.6,3241.3 L2084.4,3238.9 L2085.2,3244.7 L2086.0,3243.7 L2086.7,3240.3 L2087.5,3243.0 L2088.3,3241.8 L2089.0,3242.7 L2089.8,3238.5 L2090.5,3241.1 L2091.3,3236.3 L2092.1,3239.1 L2092.8,3242.8 L2093.6,3235.6 L2094.4,3238.8 L2095.1,3240.3 L2095.9,3245.4 L2096.7,3237.6 L2097.4,3240.0 L2098.2,3240.4 L2099.0,3242.2 L2099.8,3242.4 L2100.6,3241.9 L2101.4,3239.7 L2102.2,3241.9 L2103.1,3236.8 L2103.9,3244.0 L2104.7,3242.6 L2105.5,3245.5 L2106.3,3239.1 L2107.1,3239.5 L2107.9,3242.0 L2108.7,3242.5 L2109.5,3243.6 L2110.4,3245.6 L2111.2,3245.2 L2111.9,3243.0 L2112.7,3239.9 L2113.4,3239.7 L2114.2,3243.7 L2114.9,3243.9 L2115.7,3245.3 L2116.4,3243.9 L2117.2,3243.5 L2117.9,3244.8 L2118.7,3242.2 L2119.4,3248.4 L2120.2,3248.8 L2120.9,3246.4 L2121.6,3243.6 L2122.2,3247.4 L2122.9,3243.6 L2123.5,3240.7 L2124.2,3241.7 L2124.8,3244.0 L2125.5,3240.2 L2126.1,3239.5 L2126.8,3241.1 L2127.4,3241.5 L2128.1,3241.0 L2128.7,3241.2 L2129.4,3239.3 L2130.0,3242.7 L2130.6,3241.2 L2131.4,3239.4 L2132.1,3236.7 L2132.8,3237.4 L2133.5,3239.6 L2134.3,3239.5 L2135.0,3238.9 L2135.7,3236.3 L2136.4,3240.1 L2137.1,3237.4 L2137.9,3237.2 L2138.6,3234.9 L2139.3,3238.8 L2140.0,3235.4 L2140.8,3235.2 L2141.5,3237.7 L2142.2,3234.3 L2142.9,3231.4 L2143.6,3235.5 L2144.4,3233.5 L2145.3,3236.9 L2146.1,3233.8 L2146.9,3235.0 L2147.7,3234.1 L2148.5,3234.4 L2149.3,3233.7 L2150.1,3234.1 L2150.9,3234.5 L2151.8,3232.3 L2152.6,3232.8 L2153.4,3230.9 L2154.2,3230.4 L2155.0,3226.7 L2155.8,3224.5 L2156.6,3231.7 L2157.4,3230.5 L2158.2,3231.1 L2159.1,3228.7 L2159.9,3229.5 L2160.7,3231.1 L2161.5,3226.8 L2162.3,3229.3 L2163.1,3230.6 L2163.9,3233.1 L2164.7,3230.1 L2165.6,3235.0 L2166.4,3232.1 L2167.2,3240.7 L2168.0,3238.2 L2168.8,3235.1 L2169.6,3235.9 L2170.4,3234.9 L2171.1,3230.7 L2171.9,3238.5 L2172.6,3233.3 L2173.4,3232.0 L2174.1,3232.4 L2174.9,3229.8 L2175.6,3234.4 L2176.4,3229.6 L2177.1,3235.6 L2177.9,3236.8 L2178.6,3229.7 L2179.4,3233.2" stroke="#000000"/>
<path d="M435.7,3335.1 L436.5,3336.2 L437.2,3333.5 L438.0,3336.2 L438.8,3332.2 L439.5,3333.4 L440.3,3333.9 L441.1,3335.7 L441.8,3333.6 L442.6,3336.9 L443.4,3331.7 L444.1,3336.3 L444.9,3334.5 L445.6,3333.5 L446.4,3329.8 L447.2,3329.8 L447.9,3329.6 L448.7,3329.3 L449.5,3325.0 L450.3,3323.7 L451.1,3331.7 L451.9,3326.8 L452.8,3330.4 L453.6,3324.1 L454.4,3325.6 L455.2,3326.2 L456.0,3325.4 L456.8,3329.8 L457.6,3330.1 L458.4,3326.3 L459.3,3330.3 L460.1,3324.7 L460.9,3328.2 L461.7,3331.2 L462.5,3332.2 L463.3,3328.7 L464.1,3328.4 L464.9,3330.1 L465.7,3326.7 L466.6,3330.9 L467.4,3328.4 L468.2,3330.2 L469.0,3328.3 L469.8,3325.4 L470.6,3330.5 L471.4,3331.6 L472.2,3331.6 L473.1,3324.8 L473.9,3326.0 L474.7,3329.0 L475.5,3330.4 L476.3,3328.0 L477.1,3330.2 L477.9,3327.2 L478.7,3328.8 L479.5,3329.3 L480.4,3330.3 L481.2,3334.0 L481.9,3330.9 L482.7,3330.9 L483.5,3328.4 L484.3,3330.4 L485.0,3329.3 L485.8,3331.3 L486.6,3332.0 L487.4,3329.5 L488.1,3332.0 L488.9,3329.5 L489.7,3329.6 L490.4,3326.7 L491.2,3325.8 L492.0,3327.1 L492.8,3328.2 L493.5,3327.1 L494.3,3326.3 L495.1,3325.1 L495.9,3330.7 L496.6,3330.3 L497.4,3324.9 L498.2,3326.6 L499.0,3323.2 L499.8,3321.5 L500.6,3326.4 L501.5,3328.3 L502.3,3323.2 L503.1,3324.6 L503.9,3324.5 L504.7,3327.8 L505.5,3324.9 L506.3,3323.9 L507.1,3324.5 L508.0,3324.1 L508.8,3328.3 L509.6,3325.6 L510.4,3326.2 L511.2,3327.1 L512.0,3325.9 L512.8,3326.4 L513.6,3323.2 L514.4,3326.2 L515.1,3323.7 L515.9,3326.8 L516.6,3324.2 L517.3,3325.6 L518.1,3328.4 L518.8,3322.4 L519.5,3323.1 L520.3,3324.4 L521.0,3325.5 L521.8,3327.9 L522.5,3325.1 L523.2,3325.2 L524.0,3325.8 L524.7,3325.6 L525.4,3324.7 L526.2,3324.5 L526.9,3322.9 L527.7,3321.8 L528.4,3321.4 L529.1,3322.9 L529.9,3318.2 L530.6,3317.9 L531.4,3322.2 L532.2,3323.2 L533.0,3323.0 L533.7,3317.7 L534.5,3319.3 L535.3,3316.5 L536.1,3314.1 L536.8,3315.5 L537.6,3315.4 L538.4,3316.5 L539.1,3319.9 L539.9,3320.0 L540.7,3316.6 L541.5,3319.8 L542.2,3317.6 L543.0,3315.4 L543.8,3309.0 L544.6,3317.3 L545.3,3312.7 L546.1,3313.5 L546.9,3315.4 L547.6,3315.4 L548.4,3309.7 L549.2,3313.7 L550.0,3315.4 L550.7,3310.2 L551.5,3316.9 L552.3,3313.0 L553.1,3310.6 L553.8,3312.8 L554.6,3313.4 L555.4,3309.8 L556.2,3313.7 L556.9,3311.0 L557.7,3313.0 L558.5,3309.1 L559.2,3311.9 L560.0,3313.2 L560.8,3313.6 L561.6,3310.2 L562.3,3311.8 L563.1,3306.4 L563.9,3312.7 L564.7,3311.2 L565.4,3308.5 L566.2,3311.9 L567.0,3307.4 L567.7,3312.1 L568.5,3309.7 L569.3,3312.4 L570.1,3310.5 L570.8,3312.9 L571.6,3307.6 L572.4,3309.1 L573.2,3312.5 L573.9,3308.2 L574.7,3310.5 L575.5,3309.3 L576.3,3309.1 L577.0,3302.3 L577.8,3301.7 L578.6,3309.0 L579.4,3308.9 L580.2,3303.1 L581.0,3304.6 L581.8,3309.8 L582.6,3310.2 L583.4,3311.9 L584.3,3308.2 L585.1,3307.2 L585.9,3310.2 L586.7,3310.1 L587.5,3306.9 L588.3,3306.4 L589.1,3306.4 L589.9,3308.6 L590.7,3303.9 L591.6,3305.0 L592.4,3306.7 L593.2,3303.3 L594.0,3307.1 L594.8,3306.0 L595.6,3304.3 L596.4,3302.6 L597.1,3305.1 L597.9,3302.3 L598.7,3303.4 L599.4,3305.0 L600.2,3306.5 L601.0,3304.9 L601.8,3305.7 L602.5,3302.0 L603.3,3304.2 L604.1,3306.7 L604.9,3302.6 L605.6,3300.1 L606.4,3303.9 L607.2,3305.1 L607.9,3304.0 L608.7,3308.1 L609.5,3306.4 L610.3,3308.6 L611.0,3306.5 L611.9,3306.1 L612.7,3305.2 L613.5,3302.4 L614.3,3305.4 L615.1,3303.5 L615.9,3306.0 L616.7,3302.8 L617.5,3303.9 L618.3,3310.0 L619.2,3302.4 L620.0,3308.6 L620.8,3299.6 L621.6,3302.1 L622.4,3302.2 L623.2,3299.9 L624.0,3301.3 L624.8,3300.5 L625.6,3303.3 L626.5,3302.8 L627.3,3301.2 L628.0,3300.4 L628.7,3300.9 L629.4,3300.8 L630.1,3303.5 L630.8,3300.3 L631.5,3299.2 L632.2,3299.9 L632.9,3295.7 L633.6,3298.0 L634.3,3298.4 L635.0,3299.1 L635.7,3295.8 L636.4,3292.8 L637.2,3300.4 L637.9,3297.0 L638.6,3293.9 L639.3,3294.7 L640.0,3297.8 L640.7,3289.7 L641.4,3296.3 L642.1,3293.0 L642.8,3296.4 L643.5,3292.0 L644.3,3296.2 L645.1,3292.9 L645.9,3289.8 L646.8,3292.0 L647.6,3286.3 L648.4,3292.8 L649.2,3293.2 L650.0,3284.2 L650.8,3290.5 L651.6,3293.6 L652.4,3292.5 L653.2,3293.5 L654.1,3296.5 L654.9,3293.8 L655.7,3294.7 L656.5,3296.3 L657.3,3289.1 L658.1,3291.6 L658.9,3287.7 L659.7,3289.6 L660.5,3290.6 L661.3,3289.9 L662.1,3287.9 L662.8,3291.4 L663.6,3292.7 L664.4,3291.9 L665.2,3288.0 L665.9,3287.7 L666.7,3288.6 L667.5,3291.4 L668.2,3286.5 L669.0,3290.1 L669.8,3288.4 L670.6,3292.8 L671.3,3290.5 L672.1,3291.8 L672.9,3288.4 L673.7,3286.2 L674.4,3287.5 L675.2,3290.8 L676.0,3287.1 L676.8,3286.0 L677.6,3289.3 L678.4,3291.3 L679.2,3284.6 L680.0,3287.3 L680.8,3288.4 L681.7,3289.5 L682.5,3285.4 L683.3,3287.4 L684.1,3284.3 L684.9,3283.1 L685.7,3285.7 L686.5,3289.5 L687.3,3285.8 L688.1,3286.3 L689.0,3283.5 L689.8,3283.8 L690.6,3287.3 L691.4,3289.3 L692.2,3286.9 L693.0,3283.1 L693.8,3281.1 L694.6,3283.2 L695.5,3284.7 L696.3,3284.7 L697.1,3286.1 L697.9,3286.9 L698.7,3285.9 L699.5,3290.6 L700.3,3288.0 L701.1,3289.2 L701.9,3287.2 L702.8,3290.3 L703.6,3288.0 L704.4,3286.9 L705.2,3282.1 L706.0,3285.2 L706.8,3283.9 L707.6,3284.5 L708.4,3281.9 L709.3,3283.9 L710.1,3283.8 L710.9,3280.1 L711.7,3282.9 L712.5,3288.0 L713.3,3284.3 L714.1,3284.4 L714.9,3284.7 L715.7,3286.1 L716.6,3287.7 L717.4,3281.5 L718.2,3284.2 L719.0,3286.4 L719.8,3280.9 L720.6,3285.8 L721.4,3283.1 L722.2,3281.6 L723.1,3279.0 L723.9,3282.0 L724.7,3285.0 L725.4,3282.7 L726.2,3281.4 L726.9,3284.9 L727.6,3280.0 L728.4,3287.0 L729.1,3286.7 L729.8,3282.2 L730.6,3279.0 L731.3,3280.7 L732.1,3281.5 L732.8,3279.2 L733.5,3280.1 L734.3,3279.8 L735.0,3274.1 L735.7,3280.8 L736.5,3278.2 L737.2,3276.2 L738.0,3277.5 L738.7,3279.4 L739.4,3277.3 L740.2,3278.6 L740.9,3279.3 L741.7,3275.7 L742.5,3274.7 L743.3,3273.6 L744.2,3278.8 L745.0,3277.7 L745.8,3274.0 L746.6,3276.2 L747.4,3272.8 L748.2,3277.3 L749.0,3281.4 L749.8,3277.7 L750.6,3275.8 L751.5,3278.3 L752.3,3273.4 L753.1,3272.9 L753.9,3270.4 L754.7,3277.3 L755.5,3275.4 L756.3,3273.2 L757.1,3276.0 L758.0,3275.7 L758.8,3276.0 L759.6,3270.9 L760.4,3275.2 L761.2,3276.2 L762.0,3276.6 L762.8,3273.9 L763.6,3273.4 L764.4,3278.3 L765.3,3274.7 L766.1,3274.7 L766.9,3272.2 L767.7,3277.5 L768.5,3280.0 L769.3,3276.6 L770.1,3277.0 L770.9,3275.3 L771.8,3280.9 L772.6,3280.8 L773.4,3277.0 L774.2,3276.6 L775.0,3278.6 L775.8,3278.1 L776.6,3275.0 L777.4,3272.0 L778.2,3275.5 L779.1,3272.5 L779.9,3280.6 L780.7,3277.0 L781.5,3273.2 L782.3,3272.8 L783.1,3273.7 L783.9,3277.0 L784.7,3275.8 L785.6,3270.3 L786.4,3271.2 L787.2,3272.5 L788.0,3273.6 L788.8,3281.3 L789.6,3274.6 L790.4,3274.1 L791.2,3273.6 L792.0,3271.1 L792.9,3274.4 L793.7,3277.4 L794.5,3274.4 L795.3,3274.7 L796.1,3273.8 L796.9,3276.8 L797.7,3278.1 L798.5,3274.1 L799.4,3272.5 L800.2,3276.6 L801.0,3273.8 L801.8,3270.4 L802.6,3275.5 L803.4,3275.9 L804.2,3279.8 L805.0,3278.1 L805.8,3274.1 L806.6,3274.2 L807.4,3271.3 L808.2,3270.7 L808.9,3272.8 L809.7,3273.9 L810.5,3277.0 L811.3,3273.9 L812.0,3275.5 L812.8,3274.8 L813.6,3274.9 L814.3,3278.1 L815.1,3275.8 L815.9,3279.3 L816.7,3275.1 L817.4,3279.3 L818.2,3277.2 L819.0,3276.9 L819.8,3279.0 L820.5,3273.9 L821.3,3273.5 L822.1,3273.9 L822.9,3274.9 L823.7,3275.4 L824.5,3273.9 L825.3,3272.0 L826.1,3274.8 L826.9,3270.0 L827.8,3269.1 L828.6,3277.5 L829.4,3274.2 L830.2,3273.1 L831.0,3276.8 L831.8,3274.7 L832.6,3270.9 L833.4,3271.8 L834.3,3269.0 L835.1,3267.6 L835.9,3274.2 L836.7,3270.0 L837.5,3272.0 L838.3,3272.1 L839.1,3273.5 L839.9,3269.7 L840.7,3269.8 L841.6,3272.9 L842.4,3270.5 L843.2,3269.6 L844.0,3271.4 L844.8,3271.5 L845.6,3271.0 L846.4,3269.9 L847.2,3268.4 L848.1,3266.3 L848.9,3271.2 L849.7,3271.9 L850.5,3270.2 L851.3,3263.2 L852.1,3271.5 L852.9,3269.6 L853.7,3269.1 L854.5,3266.9 L855.4,3271.3 L856.2,3267.8 L857.0,3269.6 L857.8,3265.0 L858.6,3271.4 L859.4,3269.8 L860.2,3266.4 L861.0,3266.4 L861.9,3267.7 L862.7,3266.3 L863.5,3272.1 L864.3,3269.2 L865.1,3270.5 L865.9,3272.6 L866.7,3267.5 L867.5,3263.5 L868.3,3268.4 L869.2,3263.9 L870.0,3265.1 L870.8,3267.0 L871.5,3265.5 L872.3,3264.6 L873.0,3265.7 L873.7,3266.9 L874.5,3271.5 L875.2,3265.1 L875.9,3264.5 L876.7,3263.3 L877.4,3264.0 L878.2,3264.0 L878.9,3264.3 L879.6,3264.0 L880.4,3264.5 L881.1,3263.7 L881.8,3263.7 L882.6,3263.1 L883.3,3264.2 L884.1,3264.9 L884.8,3268.1 L885.5,3265.9 L886.3,3262.5 L887.0,3260.8 L887.8,3262.4 L888.5,3266.0 L889.3,3261.9 L890.1,3261.0 L890.9,3261.7 L891.6,3259.9 L892.4,3260.1 L893.2,3259.4 L893.9,3260.1 L894.7,3259.6 L895.5,3263.7 L896.2,3263.1 L897.0,3261.0 L897.9,3259.3 L898.7,3259.4 L899.5,3261.3 L900.3,3256.9 L901.1,3255.0 L901.9,3260.1 L902.7,3264.9 L903.5,3265.1 L904.4,3261.0 L905.2,3265.9 L906.0,3261.6 L906.8,3261.0 L907.6,3259.8 L908.4,3262.9 L909.2,3264.7 L910.0,3262.3 L910.8,3266.0 L911.7,3267.8 L912.5,3260.8 L913.3,3264.6 L914.1,3261.5 L914.9,3264.2 L915.7,3260.8 L916.5,3257.9 L917.3,3257.9 L918.1,3257.2 L919.0,3263.7 L919.8,3260.8 L920.6,3260.0 L921.4,3260.0 L922.2,3260.9 L923.0,3260.8 L923.8,3258.6 L924.6,3260.0 L925.5,3264.3 L926.3,3256.9 L927.1,3256.8 L927.9,3257.7 L928.7,3256.0 L929.5,3256.5 L930.2,3258.7 L931.0,3259.2 L931.8,3259.9 L932.6,3261.0 L933.3,3262.2 L934.1,3263.6 L934.9,3261.2 L935.7,3257.3 L936.4,3258.9 L937.2,3254.6 L938.0,3258.2 L938.8,3256.0 L939.5,3256.8 L940.3,3257.7 L941.1,3257.7 L941.8,3255.2 L942.6,3254.3 L943.4,3258.6 L944.2,3253.5 L944.9,3255.8 L945.7,3253.8 L946.6,3253.7 L947.4,3255.3 L948.2,3251.1 L949.0,3255.8 L949.8,3251.3 L950.6,3251.8 L951.4,3257.2 L952.2,3254.0 L953.1,3254.5 L953.9,3256.1 L954.7,3256.7 L955.5,3251.8 L956.3,3255.7 L957.1,3255.0 L957.9,3254.6 L958.7,3251.0 L959.5,3254.1 L960.4,3259.3 L961.2,3257.0 L962.0,3257.3 L962.8,3252.9 L963.6,3256.3 L964.4,3253.4 L965.2,3253.7 L966.0,3256.5 L966.9,3255.0 L967.7,3259.8 L968.5,3254.1 L969.3,3257.2 L970.1,3253.6 L970.9,3257.1 L971.7,3256.5 L972.5,3257.2 L973.3,3255.1 L974.2,3259.0 L975.0,3262.3 L975.8,3260.8 L976.6,3257.4 L977.4,3258.5 L978.2,3252.9 L979.0,3256.5 L979.8,3259.0 L980.6,3257.7 L981.5,3255.8 L982.3,3255.1 L983.1,3256.8 L983.9,3254.2 L984.7,3251.0 L985.5,3254.4 L986.3,3258.1 L987.1,3251.7 L988.0,3253.5 L988.8,3257.5 L989.6,3249.1 L990.4,3250.2 L991.2,3251.0 L992.0,3250.8 L992.8,3252.3 L993.6,3248.9 L994.4,3248.5 L995.3,3256.6 L996.1,3252.5 L996.9,3258.2 L997.7,3256.2 L998.5,3255.4 L999.3,3257.1 L1000.1,3257.2 L1000.9,3257.0 L1001.8,3256.3 L1002.6,3256.1 L1003.4,3259.2 L1004.2,3257.7 L1005.0,3259.8 L1005.8,3256.3 L1006.6,3257.8 L1007.4,3256.4 L1008.2,3254.5 L1009.1,3258.5 L1009.9,3254.6 L1010.7,3260.1 L1011.5,3260.3 L1012.3,3260.9 L1013.1,3261.8 L1013.9,3253.2 L1014.7,3257.1 L1015.6,3257.7 L1016.4,3258.8 L1017.2,3258.7 L1018.0,3256.2 L1018.8,3256.6 L1019.6,3259.3 L1020.4,3258.7 L1021.2,3257.7 L1022.0,3261.2 L1022.9,3256.9 L1023.7,3253.4 L1024.5,3254.5 L1025.3,3258.9 L1026.1,3254.8 L1026.8,3259.6 L1027.6,3256.4 L1028.3,3259.7 L1029.1,3260.1 L1029.8,3257.8 L1030.5,3256.5 L1031.3,3255.4 L1032.0,3254.2 L1032.7,3253.6 L1033.5,3253.4 L1034.2,3257.9 L1035.0,3256.3 L1035.7,3256.9 L1036.4,3256.6 L1037.2,3254.9 L1037.9,3254.2 L1038.6,3254.6 L1039.4,3251.9 L1040.1,3253.6 L1040.9,3249.0 L1041.6,3253.4 L1042.3,3253.9 L1043.1,3250.1 L1043.9,3253.8 L1044.7,3254.0 L1045.4,3251.7 L1046.2,3254.1 L1047.0,3251.4 L1047.7,3252.7 L1048.5,3254.5 L1049.3,3251.4 L1050.1,3249.6 L1050.8,3250.9 L1051.6,3254.3 L1052.4,3252.9 L1053.2,3249.3 L1053.9,3251.6 L1054.7,3247.8 L1055.5,3255.5 L1056.3,3249.0 L1057.0,3249.4 L1057.8,3250.2 L1058.6,3251.4 L1059.4,3252.5 L1060.2,3253.7 L1061.0,3252.4 L1061.8,3246.2 L1062.6,3244.4 L1063.4,3247.1 L1064.3,3244.2 L1065.1,3246.0 L1065.9,3244.4 L1066.7,3246.7 L1067.5,3243.6 L1068.3,3248.1 L1069.1,3244.1 L1069.9,3250.4 L1070.7,3245.4 L1071.6,3244.5 L1072.4,3246.6 L1073.2,3249.0 L1074.0,3241.9 L1074.8,3246.7 L1075.6,3245.7 L1076.4,3247.8 L1077.2,3244.2 L1078.1,3248.1 L1078.9,3245.0 L1079.7,3242.2 L1080.5,3245.9 L1081.3,3245.8 L1082.1,3245.2 L1082.9,3246.2 L1083.7,3241.8 L1084.5,3246.4 L1085.4,3245.9 L1086.2,3244.0 L1087.0,3245.5 L1087.8,3245.8 L1088.6,3245.6 L1089.4,3249.5 L1090.2,3246.9 L1091.0,3249.3 L1091.9,3247.0 L1092.7,3244.6 L1093.5,3244.2 L1094.3,3246.1 L1095.1,3245.6 L1095.9,3247.2 L1096.7,3246.5 L1097.5,3247.9 L1098.3,3245.9 L1099.2,3247.4 L1100.0,3247.8 L1100.8,3242.7 L1101.6,3246.5 L1102.4,3244.2 L1103.2,3248.1 L1104.0,3245.9 L1104.8,3254.6 L1105.6,3249.7 L1106.5,3240.6 L1107.3,3246.2 L1108.1,3247.4 L1108.9,3240.8 L1109.7,3249.0 L1110.5,3246.0 L1111.3,3245.8 L1112.1,3248.3 L1113.0,3243.3 L1113.8,3246.9 L1114.6,3250.1 L1115.4,3243.4 L1116.2,3239.8 L1117.0,3242.4 L1117.8,3245.6 L1118.6,3245.6 L1119.4,3247.4 L1120.3,3247.1 L1121.1,3247.1 L1121.9,3248.4 L1122.7,3247.1 L1123.5,3242.1 L1124.3,3247.5 L1125.1,3245.4 L1125.9,3245.6 L1126.8,3247.7 L1127.6,3248.4 L1128.4,3241.3 L1129.2,3245.3 L1130.0,3240.1 L1130.8,3248.4 L1131.6,3240.3 L1132.4,3246.1 L1133.2,3247.2 L1134.1,3247.1 L1134.9,3247.6 L1135.7,3246.7 L1136.5,3239.1 L1137.3,3246.5 L1138.1,3243.9 L1138.9,3242.3 L1139.7,3240.2 L1140.5,3247.4 L1141.3,3237.2 L1142.1,3241.3 L1142.8,3240.8 L1143.6,3241.6 L1144.4,3243.3 L1145.2,3239.7 L1145.9,3234.2 L1146.7,3240.8 L1147.5,3235.9 L1148.2,3240.0 L1149.0,3242.5 L1149.8,3242.6 L1150.6,3242.0 L1151.3,3245.6 L1152.1,3240.0 L1152.9,3242.8 L1153.7,3248.0 L1154.4,3241.1 L1155.2,3242.4 L1156.0,3241.2 L1156.7,3237.5 L1157.5,3246.6 L1158.3,3241.0 L1159.1,3241.7 L1159.8,3241.9 L1160.6,3238.6 L1161.4,3239.9 L1162.2,3242.6 L1162.9,3239.9 L1163.7,3245.1 L1164.5,3241.7 L1165.3,3241.7 L1166.0,3239.4 L1166.8,3235.6 L1167.6,3237.2 L1168.3,3239.2 L1169.1,3236.7 L1169.9,3237.6 L1170.7,3237.5 L1171.4,3231.0 L1172.2,3234.7 L1172.9,3233.6 L1173.7,3239.4 L1174.4,3238.0 L1175.2,3237.9 L1175.9,3237.6 L1176.6,3236.3 L1177.4,3240.8 L1178.1,3238.2 L1178.8,3238.6 L1179.6,3239.4 L1180.3,3238.5 L1181.1,3238.2 L1181.8,3240.0 L1182.5,3244.9 L1183.3,3243.2 L1184.0,3244.9 L1184.8,3238.4 L1185.5,3247.4 L1186.2,3240.7 L1187.0,3243.0 L1187.7,3240.8 L1188.4,3240.6 L1189.3,3240.5 L1190.1,3240.7 L1190.9,3243.9 L1191.7,3245.3 L1192.5,3239.3 L1193.3,3240.6 L1194.1,3243.0 L1194.9,3239.2 L1195.7,3241.8 L1196.6,3243.1 L1197.4,3241.2 L1198.2,3245.7 L1199.0,3247.3 L1199.8,3244.0 L1200.6,3245.0 L1201.4,3246.5 L1202.2,3247.0 L1203.1,3242.3 L1203.9,3246.4 L1204.7,3243.1 L1205.4,3246.9 L1206.1,3247.0 L1206.8,3240.1 L1207.5,3241.3 L1208.2,3245.5 L1208.9,3241.7 L1209.6,3242.0 L1210.3,3243.6 L1211.0,3243.7 L1211.7,3241.3 L1212.4,3244.8 L1213.1,3241.0 L1213.9,3242.7 L1214.6,3240.9 L1215.3,3238.9 L1216.0,3242.9 L1216.7,3238.1 L1217.4,3234.1 L1218.1,3236.3 L1218.8,3241.6 L1219.5,3239.3 L1220.2,3239.4 L1220.9,3239.4 L1221.7,3234.7 L1222.5,3236.3 L1223.2,3233.1 L1224.0,3237.7 L1224.8,3238.8 L1225.5,3236.4 L1226.3,3238.0 L1227.1,3233.2 L1227.9,3235.2 L1228.6,3233.6 L1229.4,3232.9 L1230.2,3234.0 L1231.0,3234.0 L1231.7,3237.3 L1232.5,3235.5 L1233.3,3233.9 L1234.1,3230.6 L1234.8,3239.1 L1235.6,3232.7 L1236.4,3232.3 L1237.1,3233.9 L1238.0,3236.0 L1238.8,3232.1 L1239.6,3230.1 L1240.4,3232.5 L1241.2,3229.7 L1242.0,3225.8 L1242.8,3233.7 L1243.6,3232.1 L1244.4,3233.7 L1245.3,3234.3 L1246.1,3232.5 L1246.9,3230.9 L1247.7,3230.0 L1248.5,3231.5 L1249.3,3231.7 L1250.1,3233.6 L1250.9,3232.1 L1251.8,3228.6 L1252.6,3230.1 L1253.4,3230.1 L1254.1,3231.4 L1254.9,3229.1 L1255.7,3228.0 L1256.5,3230.6 L1257.2,3225.2 L1258.0,3226.8 L1258.8,3229.8 L1259.6,3230.5 L1260.3,3229.3 L1261.1,3228.3 L1261.9,3227.8 L1262.7,3227.9 L1263.4,3227.6 L1264.2,3225.9 L1265.0,3228.6 L1265.7,3220.9 L1266.5,3228.6 L1267.3,3227.7 L1268.1,3221.0 L1268.8,3226.5 L1269.6,3228.9 L1270.4,3231.2 L1271.2,3228.1 L1271.9,3228.1 L1272.7,3225.2 L1273.5,3231.0 L1274.2,3228.8 L1275.0,3225.8 L1275.8,3224.2 L1276.6,3231.0 L1277.3,3225.8 L1278.1,3225.3 L1278.9,3223.8 L1279.7,3228.6 L1280.4,3230.6 L1281.2,3226.5 L1282.0,3220.1 L1282.8,3223.6 L1283.5,3229.8 L1284.3,3225.0 L1285.1,3223.7 L1285.8,3227.2 L1286.5,3226.8 L1287.3,3226.6 L1288.0,3227.4 L1288.7,3229.4 L1289.4,3230.0 L1290.1,3228.9 L1290.8,3230.7 L1291.5,3229.0 L1292.2,3227.2 L1292.9,3227.0 L1293.6,3228.3 L1294.3,3227.4 L1295.0,3228.7 L1295.7,3229.4 L1296.4,3226.5 L1297.1,3226.4 L1297.8,3223.7 L1298.5,3226.6 L1299.3,3228.1 L1300.0,3227.5 L1300.7,3232.5 L1301.4,3229.6 L1302.1,3230.7 L1302.9,3229.0 L1303.6,3230.0 L1304.4,3232.7 L1305.2,3231.1 L1305.9,3229.8 L1306.7,3231.7 L1307.5,3234.2 L1308.3,3233.1 L1309.0,3235.1 L1309.8,3231.5 L1310.6,3235.4 L1311.4,3230.8 L1312.1,3230.8 L1312.9,3233.5 L1313.7,3230.6 L1314.4,3237.5 L1315.2,3237.7 L1316.0,3234.7 L1316.8,3242.9 L1317.5,3237.3 L1318.3,3237.3 L1319.0,3237.9 L1319.8,3240.2 L1320.5,3237.3 L1321.3,3239.7 L1322.0,3234.6 L1322.7,3236.4 L1323.5,3235.6 L1324.2,3236.0 L1325.0,3237.4 L1325.7,3232.7 L1326.4,3230.9 L1327.2,3231.2 L1327.9,3232.3 L1328.6,3230.0 L1329.4,3229.0 L1330.1,3231.0 L1330.9,3230.5 L1331.6,3232.7 L1332.3,3233.6 L1333.1,3234.7 L1333.8,3231.6 L1334.5,3233.0 L1335.3,3231.5 L1336.1,3228.7 L1336.9,3233.1 L1337.6,3232.1 L1338.4,3230.5 L1339.2,3232.4 L1340.0,3229.1 L1340.7,3229.6 L1341.5,3228.7 L1342.3,3228.1 L1343.0,3227.5 L1343.8,3228.6 L1344.6,3227.0 L1345.4,3225.6 L1346.1,3226.5 L1346.9,3226.5 L1347.7,3223.0 L1348.5,3227.7 L1349.2,3227.2 L1350.0,3226.7 L1350.8,3222.5 L1351.6,3227.4 L1352.4,3224.2 L1353.2,3230.0 L1354.0,3227.9 L1354.8,3222.8 L1355.6,3225.1 L1356.5,3225.3 L1357.3,3226.3 L1358.1,3225.7 L1358.9,3230.2 L1359.7,3231.1 L1360.5,3227.5 L1361.3,3224.6 L1362.1,3227.7 L1363.0,3225.8 L1363.8,3230.3 L1364.6,3222.2 L1365.4,3221.1 L1366.2,3222.9 L1367.0,3223.9 L1367.8,3228.5 L1368.5,3228.0 L1369.3,3225.4 L1370.1,3226.4 L1370.9,3228.8 L1371.6,3222.2 L1372.4,3224.0 L1373.2,3233.7 L1373.9,3228.4 L1374.7,3227.2 L1375.5,3234.1 L1376.2,3227.1 L1377.0,3228.3 L1377.9,3229.3 L1378.7,3229.7 L1379.5,3225.5 L1380.3,3226.6 L1381.1,3227.4 L1381.9,3226.4 L1382.7,3225.7 L1383.5,3225.1 L1384.4,3225.9 L1385.2,3224.1 L1386.0,3227.1 L1386.8,3224.9 L1387.6,3226.3 L1388.4,3229.4 L1389.2,3225.0 L1390.0,3225.4 L1390.8,3225.5 L1391.7,3223.9 L1392.5,3223.5 L1393.3,3224.8 L1394.1,3222.7 L1394.9,3223.5 L1395.7,3225.6 L1396.5,3225.2 L1397.3,3221.1 L1398.1,3222.5 L1399.0,3224.3 L1399.8,3223.7 L1400.6,3222.8 L1401.4,3222.5 L1402.2,3227.6 L1403.0,3226.3 L1403.8,3226.8 L1404.6,3225.2 L1405.5,3228.8 L1406.3,3222.6 L1407.1,3221.8 L1407.9,3224.2 L1408.7,3224.1 L1409.5,3226.3 L1410.3,3226.9 L1411.1,3224.1 L1411.9,3228.8 L1412.8,3228.9 L1413.6,3232.5 L1414.4,3221.8 L1415.2,3224.7 L1416.0,3226.4 L1416.8,3229.2 L1417.6,3232.4 L1418.4,3228.7 L1419.3,3224.8 L1420.1,3225.4 L1420.9,3225.5 L1421.7,3224.5 L1422.5,3224.1 L1423.3,3230.5 L1424.1,3230.4 L1424.9,3227.0 L1425.7,3227.9 L1426.6,3223.5 L1427.4,3228.9 L1428.2,3226.9 L1429.0,3227.1 L1429.8,3228.2 L1430.6,3226.2 L1431.4,3226.2 L1432.2,3231.2 L1433.1,3229.3 L1433.9,3228.6 L1434.7,3227.6 L1435.5,3226.0 L1436.3,3228.5 L1437.1,3228.2 L1437.9,3225.7 L1438.7,3225.7 L1439.5,3230.0 L1440.4,3229.1 L1441.2,3232.2 L1442.0,3230.3 L1442.8,3234.5 L1443.6,3228.1 L1444.4,3230.4 L1445.2,3231.5 L1446.0,3230.5 L1446.9,3229.9 L1447.7,3229.1 L1448.5,3231.6 L1449.3,3232.1 L1450.1,3229.0 L1450.9,3232.0 L1451.7,3226.7 L1452.5,3229.0 L1453.3,3225.9 L1454.2,3227.1 L1455.0,3229.4 L1455.8,3222.6 L1456.6,3228.2 L1457.4,3230.5 L1458.2,3226.6 L1458.9,3228.8 L1459.7,3227.4 L1460.5,3226.1 L1461.3,3226.0 L1462.0,3226.4 L1462.8,3221.5 L1463.6,3226.3 L1464.4,3229.3 L1465.1,3223.3 L1465.9,3220.3 L1466.7,3221.9 L1467.5,3222.6 L1468.2,3223.2 L1469.0,3223.4 L1469.8,3222.8 L1470.5,3223.0 L1471.3,3223.3 L1472.1,3225.0 L1472.9,3224.3 L1473.6,3222.0 L1474.4,3221.6 L1475.2,3227.2 L1476.0,3224.0 L1476.7,3223.0 L1477.5,3222.8 L1478.3,3223.3 L1479.0,3223.1 L1479.8,3220.7 L1480.6,3225.8 L1481.4,3223.7 L1482.1,3217.5 L1482.9,3227.1 L1483.7,3222.8 L1484.5,3219.5 L1485.2,3218.3 L1486.0,3217.7 L1486.8,3219.6 L1487.6,3218.2 L1488.3,3220.7 L1489.1,3221.5 L1489.9,3219.0 L1490.6,3216.5 L1491.4,3219.4 L1492.2,3222.0 L1493.0,3218.5 L1493.7,3224.0 L1494.5,3222.6 L1495.3,3217.2 L1496.1,3222.0 L1496.8,3220.9 L1497.6,3214.7 L1498.4,3217.3 L1499.1,3221.3 L1499.9,3213.1 L1500.7,3216.8 L1501.5,3217.2 L1502.2,3215.7 L1503.0,3219.5 L1503.8,3219.6 L1504.6,3215.1 L1505.3,3224.2 L1506.1,3217.9 L1506.9,3217.0 L1507.6,3216.0 L1508.4,3214.2 L1509.2,3216.6 L1510.0,3218.6 L1510.7,3216.6 L1511.5,3220.4 L1512.3,3218.2 L1513.1,3214.4 L1513.8,3216.8 L1514.6,3215.9 L1515.4,3220.3 L1516.2,3222.5 L1516.9,3219.5 L1517.7,3216.2 L1518.5,3221.8 L1519.2,3217.7 L1520.0,3221.4 L1520.8,3218.7 L1521.6,3221.6 L1522.3,3215.9 L1523.1,3218.7 L1524.0,3219.8 L1524.8,3220.5 L1525.6,3219.5 L1526.4,3222.0 L1527.2,3221.8 L1528.0,3218.5 L1528.8,3221.4 L1529.6,3219.0 L1530.5,3222.1 L1531.3,3222.2 L1532.1,3221.3 L1532.9,3218.9 L1533.7,3221.7 L1534.5,3222.4 L1535.3,3221.5 L1536.1,3225.7 L1536.9,3222.8 L1537.8,3216.0 L1538.6,3222.6 L1539.3,3222.5 L1540.0,3223.6 L1540.8,3222.3 L1541.5,3224.6 L1542.3,3220.9 L1543.0,3221.7 L1543.7,3221.0 L1544.5,3221.4 L1545.2,3220.7 L1546.0,3216.8 L1546.7,3218.7 L1547.4,3216.7 L1548.2,3212.7 L1548.9,3220.7 L1549.6,3213.7 L1550.4,3216.2 L1551.1,3213.6 L1551.9,3215.4 L1552.6,3212.7 L1553.3,3217.0 L1554.1,3210.2 L1554.8,3215.6 L1555.6,3211.9 L1556.4,3212.7 L1557.2,3211.6 L1558.1,3214.5 L1558.9,3212.8 L1559.7,3213.2 L1560.5,3213.7 L1561.3,3213.7 L1562.1,3216.8 L1562.9,3216.5 L1563.7,3214.6 L1564.5,3212.5 L1565.4,3213.6 L1566.2,3211.2 L1567.0,3214.7 L1567.8,3208.8 L1568.6,3211.9 L1569.4,3213.6 L1570.2,3209.9 L1571.0,3211.8 L1571.9,3211.6 L1572.7,3208.0 L1573.5,3213.9 L1574.3,3210.9 L1575.1,3212.7 L1575.9,3210.6 L1576.7,3213.6 L1577.5,3212.0 L1578.3,3215.2 L1579.2,3214.4 L1580.0,3214.6 L1580.8,3212.3 L1581.6,3209.9 L1582.4,3213.5 L1583.2,3210.8 L1584.0,3210.4 L1584.8,3205.8 L1585.6,3215.0 L1586.5,3209.8 L1587.3,3211.5 L1588.0,3208.5 L1588.8,3207.1 L1589.6,3209.2 L1590.4,3207.0 L1591.1,3203.9 L1591.9,3206.5 L1592.7,3204.3 L1593.5,3206.5 L1594.2,3207.9 L1595.0,3209.0 L1595.8,3212.2 L1596.5,3211.2 L1597.3,3204.8 L1598.1,3209.6 L1598.9,3207.7 L1599.6,3208.7 L1600.4,3206.1 L1601.2,3208.2 L1602.0,3207.4 L1602.7,3210.8 L1603.5,3207.2 L1604.3,3204.0 L1605.1,3205.9 L1605.9,3209.1 L1606.8,3207.8 L1607.6,3206.2 L1608.4,3207.5 L1609.2,3207.5 L1610.0,3206.9 L1610.8,3207.6 L1611.6,3206.8 L1612.4,3207.1 L1613.2,3205.4 L1614.1,3206.3 L1614.9,3199.7 L1615.7,3204.7 L1616.5,3207.4 L1617.3,3206.0 L1618.1,3203.0 L1618.9,3205.3 L1619.7,3207.5 L1620.6,3203.9 L1621.4,3203.6 L1622.2,3204.4 L1623.0,3209.1 L1623.8,3212.0 L1624.6,3208.6 L1625.4,3207.8 L1626.2,3209.8 L1627.0,3209.4 L1627.9,3208.5 L1628.7,3207.8 L1629.5,3206.8 L1630.3,3208.2 L1631.1,3207.1 L1631.9,3206.2 L1632.7,3210.1 L1633.5,3202.1 L1634.4,3207.2 L1635.2,3211.6 L1636.0,3213.2 L1636.7,3206.8 L1637.5,3211.9 L1638.3,3207.8 L1639.1,3205.1 L1639.8,3211.6 L1640.6,3210.2 L1641.4,3207.7 L1642.2,3209.7 L1642.9,3207.8 L1643.7,3209.2 L1644.5,3207.5 L1645.3,3211.9 L1646.0,3207.6 L1646.8,3207.3 L1647.6,3215.8 L1648.3,3209.2 L1649.1,3209.7 L1649.9,3213.2 L1650.7,3210.4 L1651.4,3207.0 L1652.2,3209.2 L1653.0,3210.3 L1653.8,3208.7 L1654.5,3212.9 L1655.3,3207.0 L1656.1,3208.6 L1656.8,3209.1 L1657.6,3211.0 L1658.4,3213.2 L1659.2,3209.4 L1659.9,3205.3 L1660.7,3205.2 L1661.5,3206.9 L1662.3,3207.9 L1663.0,3210.8 L1663.8,3211.2 L1664.6,3208.4 L1665.3,3207.2 L1666.1,3202.9 L1666.9,3205.5 L1667.7,3201.7 L1668.4,3201.1 L1669.3,3203.1 L1670.1,3199.7 L1670.9,3201.2 L1671.7,3205.0 L1672.5,3204.3 L1673.3,3204.7 L1674.1,3206.3 L1674.9,3204.5 L1675.7,3197.9 L1676.6,3203.1 L1677.4,3198.3 L1678.2,3204.0 L1679.0,3204.4 L1679.8,3204.4 L1680.6,3205.7 L1681.4,3209.3 L1682.2,3207.9 L1683.1,3206.1 L1683.9,3198.6 L1684.7,3204.7 L1685.5,3199.5 L1686.3,3201.6 L1687.1,3204.1 L1687.9,3200.1 L1688.7,3199.6 L1689.5,3203.2 L1690.4,3202.0 L1691.2,3199.9 L1692.0,3207.3 L1692.8,3204.7 L1693.6,3203.4 L1694.4,3205.0 L1695.2,3205.5 L1696.0,3199.6 L1696.9,3203.0 L1697.7,3206.4 L1698.5,3203.3 L1699.3,3202.3 L1700.1,3206.9 L1700.9,3209.1 L1701.7,3201.6 L1702.5,3207.4 L1703.3,3209.3 L1704.2,3202.0 L1705.0,3201.8 L1705.8,3202.7 L1706.6,3202.9 L1707.4,3202.6 L1708.2,3204.3 L1709.0,3205.1 L1709.8,3202.3 L1710.6,3206.2 L1711.5,3206.9 L1712.3,3204.7 L1713.1,3203.8 L1713.9,3200.3 L1714.7,3202.3 L1715.5,3198.3 L1716.3,3203.4 L1717.1,3201.5 L1718.0,3197.8 L1718.8,3200.0 L1719.6,3196.6 L1720.4,3199.6 L1721.2,3196.4 L1722.0,3201.1 L1722.8,3201.6 L1723.6,3201.0 L1724.4,3198.6 L1725.3,3203.0 L1726.1,3199.0 L1726.9,3200.9 L1727.7,3202.5 L1728.5,3204.7 L1729.3,3208.2 L1730.1,3205.5 L1730.9,3208.0 L1731.8,3209.2 L1732.6,3207.4 L1733.4,3207.9 L1734.2,3208.2 L1735.0,3204.9 L1735.8,3201.2 L1736.6,3207.8 L1737.4,3203.7 L1738.2,3205.6 L1739.1,3208.3 L1739.9,3205.4 L1740.7,3209.8 L1741.5,3204.6 L1742.3,3201.3 L1743.1,3205.0 L1743.9,3200.1 L1744.7,3201.5 L1745.6,3206.1 L1746.4,3204.5 L1747.2,3204.2 L1748.0,3205.0 L1748.8,3207.0 L1749.6,3204.0 L1750.4,3207.1 L1751.2,3206.0 L1752.0,3204.2 L1752.9,3202.9 L1753.7,3201.2 L1754.5,3204.8 L1755.3,3203.2 L1756.1,3201.8 L1756.9,3206.2 L1757.7,3205.6 L1758.5,3198.9 L1759.4,3204.7 L1760.2,3201.2 L1761.0,3204.7 L1761.8,3203.4 L1762.6,3206.7 L1763.4,3201.4 L1764.2,3206.0 L1765.0,3203.6 L1765.8,3203.5 L1766.7,3199.1 L1767.5,3204.7 L1768.3,3199.5 L1769.1,3201.2 L1769.9,3201.4 L1770.7,3201.1 L1771.5,3206.2 L1772.3,3199.9 L1773.1,3206.1 L1774.0,3205.8 L1774.8,3205.1 L1775.6,3204.0 L1776.4,3205.4 L1777.2,3206.5 L1778.0,3206.2 L1778.8,3206.8 L1779.6,3206.2 L1780.5,3206.2 L1781.3,3204.3 L1782.1,3206.3 L1782.9,3206.9 L1783.6,3205.3 L1784.4,3202.3 L1785.2,3206.6 L1785.9,3207.8 L1786.7,3207.5 L1787.5,3204.4 L1788.3,3207.1 L1789.0,3206.7 L1789.8,3201.6 L1790.6,3203.2 L1791.4,3205.4 L1792.1,3207.0 L1792.9,3202.3 L1793.7,3202.3 L1794.4,3205.6 L1795.2,3205.1 L1796.0,3202.7 L1796.8,3202.3 L1797.5,3203.9 L1798.3,3206.4 L1799.1,3205.8 L1799.9,3209.5 L1800.7,3202.8 L1801.6,3208.2 L1802.4,3207.8 L1803.2,3208.2 L1804.0,3203.6 L1804.8,3208.7 L1805.6,3202.1 L1806.4,3202.7 L1807.2,3203.7 L1808.1,3203.1 L1808.9,3204.5 L1809.7,3200.0 L1810.5,3203.2 L1811.3,3204.2 L1812.1,3200.3 L1812.9,3207.9 L1813.7,3205.5 L1814.5,3205.0 L1815.3,3200.0 L1816.1,3201.9 L1816.9,3204.5 L1817.6,3207.8 L1818.4,3202.5 L1819.2,3202.7 L1820.0,3203.9 L1820.7,3200.2 L1821.5,3205.0 L1822.3,3202.6 L1823.0,3203.5 L1823.8,3204.7 L1824.6,3202.5 L1825.4,3200.3 L1826.1,3199.7 L1826.9,3201.8 L1827.7,3202.6 L1828.5,3204.8 L1829.2,3202.3 L1830.0,3206.8 L1830.8,3205.2 L1831.6,3204.0 L1832.3,3203.2 L1833.1,3205.5 L1833.9,3203.4 L1834.6,3203.7 L1835.4,3204.7 L1836.2,3202.9 L1837.0,3206.4 L1837.7,3201.9 L1838.5,3202.2 L1839.3,3204.3 L1840.1,3201.4 L1840.8,3203.3 L1841.6,3204.4 L1842.4,3198.9 L1843.1,3203.6 L1843.9,3205.2 L1844.7,3208.4 L1845.5,3206.9 L1846.2,3208.9 L1847.0,3211.5 L1847.8,3208.8 L1848.6,3207.6 L1849.4,3205.1 L1850.2,3204.5 L1850.9,3202.3 L1851.7,3199.1 L1852.5,3204.6 L1853.3,3206.2 L1854.1,3208.0 L1854.9,3205.5 L1855.7,3203.6 L1856.5,3199.8 L1857.2,3200.6 L1858.0,3199.8 L1858.8,3204.2 L1859.6,3201.3 L1860.4,3198.7 L1861.2,3205.2 L1862.0,3204.4 L1862.8,3202.9 L1863.6,3198.9 L1864.4,3202.4 L1865.2,3200.6 L1866.0,3201.1 L1866.9,3201.3 L1867.7,3198.7 L1868.5,3207.2 L1869.3,3203.8 L1870.1,3199.9 L1870.9,3200.3 L1871.7,3199.7 L1872.5,3200.6 L1873.3,3204.1 L1874.2,3206.6 L1875.0,3204.2 L1875.8,3203.8 L1876.6,3203.4 L1877.4,3203.9 L1878.2,3200.7 L1878.9,3200.2 L1879.7,3202.8 L1880.5,3200.3 L1881.3,3202.2 L1882.0,3201.3 L1882.8,3198.6 L1883.6,3197.8 L1884.4,3199.6 L1885.1,3198.1 L1885.9,3201.7 L1886.7,3199.7 L1887.5,3200.2 L1888.2,3202.6 L1889.0,3200.2 L1889.8,3201.3 L1890.5,3200.2 L1891.3,3200.9 L1892.1,3196.6 L1892.9,3190.1 L1893.6,3196.9 L1894.4,3200.3 L1895.2,3191.6 L1896.0,3195.6 L1896.7,3195.1 L1897.5,3195.6 L1898.3,3199.9 L1899.0,3199.3 L1899.8,3199.4 L1900.6,3198.9 L1901.4,3193.0 L1902.1,3195.0 L1902.9,3201.0 L1903.7,3198.2 L1904.5,3195.5 L1905.2,3196.9 L1906.0,3196.0 L1906.8,3196.0 L1907.6,3196.4 L1908.3,3196.3 L1909.1,3194.0 L1909.9,3192.9 L1910.7,3192.8 L1911.5,3198.5 L1912.3,3193.7 L1913.1,3195.2 L1913.9,3192.7 L1914.7,3198.9 L1915.6,3194.3 L1916.4,3197.3 L1917.2,3197.1 L1918.0,3194.7 L1918.8,3196.9 L1919.6,3197.3 L1920.4,3197.3 L1921.2,3195.6 L1922.0,3197.0 L1922.9,3198.6 L1923.7,3198.3 L1924.5,3202.2 L1925.3,3201.9 L1926.1,3194.9 L1926.9,3197.9 L1927.6,3195.6 L1928.4,3197.7 L1929.2,3192.7 L1930.0,3196.5 L1930.7,3198.3 L1931.5,3193.3 L1932.3,3193.2 L1933.1,3195.0 L1933.8,3194.7 L1934.6,3199.8 L1935.4,3201.1 L1936.2,3192.3 L1936.9,3193.5 L1937.7,3195.8 L1938.5,3195.9 L1939.2,3194.5 L1940.0,3194.0 L1940.8,3198.2 L1941.6,3195.3 L1942.3,3193.7 L1943.1,3194.7 L1944.0,3194.5 L1944.8,3195.1 L1945.6,3197.3 L1946.4,3198.1 L1947.2,3195.2 L1948.0,3194.1 L1948.8,3196.5 L1949.6,3197.5 L1950.5,3193.8 L1951.3,3192.5 L1952.1,3191.3 L1952.9,3194.7 L1953.7,3190.7 L1954.5,3191.6 L1955.3,3191.4 L1956.1,3193.1 L1956.9,3194.4 L1957.8,3192.1 L1958.6,3193.4 L1959.4,3191.3 L1960.2,3191.7 L1961.0,3192.1 L1961.8,3190.6 L1962.6,3186.9 L1963.4,3192.2 L1964.3,3192.0 L1965.1,3188.9 L1965.9,3190.9 L1966.7,3190.7 L1967.5,3190.2 L1968.3,3190.5 L1969.1,3194.9 L1969.9,3194.5 L1970.7,3191.7 L1971.6,3186.5 L1972.4,3185.2 L1973.2,3191.3 L1974.0,3196.7 L1974.8,3191.2 L1975.6,3191.2 L1976.4,3193.8 L1977.2,3190.9 L1978.1,3198.9 L1978.9,3198.4 L1979.7,3191.1 L1980.5,3195.6 L1981.3,3193.2 L1982.1,3195.6 L1982.9,3191.7 L1983.7,3196.7 L1984.5,3192.9 L1985.4,3193.1 L1986.2,3197.2 L1987.0,3193.5 L1987.8,3189.4 L1988.6,3193.9 L1989.4,3190.2 L1990.2,3194.8 L1991.0,3190.3 L1991.8,3189.2 L1992.6,3186.6 L1993.4,3190.6 L1994.1,3194.8 L1994.9,3192.4 L1995.7,3195.9 L1996.5,3192.0 L1997.2,3191.3 L1998.0,3187.9 L1998.8,3191.8 L1999.5,3187.3 L2000.3,3189.7 L2001.1,3190.8 L2001.9,3190.0 L2002.6,3193.4 L2003.4,3187.0 L2004.2,3191.8 L2005.0,3192.5 L2005.7,3188.2 L2006.5,3192.4 L2007.3,3186.9 L2008.1,3192.6 L2008.9,3193.5 L2009.7,3189.4 L2010.5,3194.0 L2011.3,3190.0 L2012.1,3185.4 L2013.0,3182.8 L2013.8,3186.9 L2014.6,3192.0 L2015.4,3193.8 L2016.2,3189.1 L2017.0,3187.8 L2017.8,3188.3 L2018.6,3186.9 L2019.4,3187.8 L2020.3,3188.4 L2021.1,3189.4 L2021.9,3185.5 L2022.7,3187.4 L2023.5,3188.7 L2024.3,3186.0 L2025.1,3189.2 L2025.9,3188.8 L2026.8,3190.4 L2027.6,3188.5 L2028.4,3186.8 L2029.2,3189.7 L2030.0,3193.1 L2030.8,3188.8 L2031.6,3187.1 L2032.4,3190.4 L2033.2,3189.3 L2034.1,3189.6 L2034.9,3188.3 L2035.7,3190.7 L2036.5,3186.9 L2037.3,3184.3 L2038.1,3183.8 L2038.9,3187.0 L2039.7,3185.6 L2040.6,3183.5 L2041.4,3187.2 L2042.2,3188.8 L2043.0,3182.5 L2043.8,3188.3 L2044.6,3184.7 L2045.4,3187.3 L2046.2,3189.8 L2047.0,3189.6 L2047.9,3187.7 L2048.7,3186.5 L2049.5,3185.9 L2050.3,3192.6 L2051.1,3188.2 L2051.9,3192.0 L2052.7,3192.1 L2053.5,3193.0 L2054.4,3188.2 L2055.2,3189.7 L2056.0,3189.2 L2056.7,3183.9 L2057.5,3190.6 L2058.3,3190.2 L2059.1,3186.5 L2059.8,3188.9 L2060.6,3188.4 L2061.4,3186.8 L2062.2,3190.5 L2062.9,3185.5 L2063.7,3186.7 L2064.5,3184.2 L2065.3,3184.4 L2066.0,3187.8 L2066.8,3186.0 L2067.6,3188.1 L2068.3,3188.0 L2069.1,3186.0 L2069.9,3183.7 L2070.7,3186.2 L2071.4,3185.7 L2072.2,3183.9 L2073.0,3186.7 L2073.8,3188.7 L2074.5,3187.1 L2075.3,3185.8 L2076.1,3184.6 L2076.8,3187.6 L2077.6,3188.4 L2078.4,3185.3 L2079.2,3182.3 L2079.9,3188.9 L2080.7,3189.7 L2081.5,3188.4 L2082.3,3189.2 L2083.0,3187.4 L2083.8,3188.2 L2084.6,3183.1 L2085.3,3188.9 L2086.1,3187.5 L2086.9,3190.1 L2087.7,3191.3 L2088.4,3192.8 L2089.2,3190.0 L2090.0,3192.3 L2090.8,3186.0 L2091.5,3187.7 L2092.3,3189.3 L2093.1,3191.6 L2093.9,3188.6 L2094.6,3189.9 L2095.4,3194.8 L2096.2,3190.1 L2096.9,3189.8 L2097.7,3188.1 L2098.5,3184.6 L2099.3,3184.8 L2100.0,3184.6 L2100.8,3178.9 L2101.6,3188.8 L2102.4,3184.4 L2103.1,3187.7 L2103.9,3185.0 L2104.7,3183.3 L2105.4,3182.5 L2106.2,3187.1 L2107.0,3184.9 L2107.8,3182.7 L2108.5,3183.0 L2109.3,3183.2 L2110.1,3180.9 L2110.9,3180.3 L2111.6,3184.9 L2112.4,3183.5 L2113.2,3182.1 L2114.0,3180.4 L2114.7,3184.7 L2115.5,3184.9 L2116.3,3178.6 L2117.0,3182.7 L2117.8,3182.1 L2118.6,3183.2 L2119.4,3185.2 L2120.1,3182.8 L2120.9,3185.2 L2121.7,3183.0 L2122.5,3184.8 L2123.3,3181.8 L2124.2,3181.5 L2125.0,3182.3 L2125.8,3179.7 L2126.6,3182.2 L2127.4,3185.1 L2128.2,3183.5 L2129.0,3184.6 L2129.8,3179.8 L2130.6,3185.0 L2131.5,3182.9 L2132.3,3183.6 L2133.1,3182.4 L2133.9,3181.3 L2134.7,3184.8 L2135.5,3185.2 L2136.3,3182.3 L2137.1,3182.0 L2137.9,3178.5 L2138.7,3179.7 L2139.5,3182.0 L2140.2,3183.6 L2141.0,3179.9 L2141.8,3181.9 L2142.6,3186.2 L2143.3,3178.8 L2144.1,3183.2 L2144.9,3182.8 L2145.6,3184.0 L2146.4,3180.4 L2147.2,3183.1 L2148.0,3183.7 L2148.7,3184.3 L2149.5,3184.7 L2150.3,3186.3 L2151.1,3186.4 L2151.8,3190.1 L2152.6,3186.4 L2153.4,3186.0 L2154.2,3188.2 L2155.0,3186.8 L2155.8,3190.7 L2156.6,3188.6 L2157.4,3184.8 L2158.2,3184.4 L2159.1,3183.7 L2159.9,3184.0 L2160.7,3182.1 L2161.5,3183.5 L2162.3,3183.5 L2163.1,3187.2 L2163.9,3185.2 L2164.7,3184.6 L2165.6,3187.9 L2166.4,3182.3 L2167.2,3185.1 L2168.0,3180.0 L2168.8,3182.1 L2169.6,3183.6 L2170.4,3183.1 L2171.2,3180.3 L2172.0,3186.7 L2172.9,3182.3 L2173.7,3182.6 L2174.5,3187.3 L2175.3,3182.9 L2176.1,3184.2 L2176.9,3185.4 L2177.7,3187.2 L2178.5,3187.9 L2179.4,3186.8" stroke="#ff0000"/>
<path d="M435.7,3335.1 L436.2,3334.7 L436.7,3337.0 L437.2,3333.0 L437.7,3332.7 L438.1,3329.6 L438.6,3332.3 L439.1,3330.3 L439.6,3331.6 L440.1,3330.4 L440.6,3330.5 L441.1,3329.4 L441.6,3328.0 L442.0,3329.7 L442.5,3328.0 L443.0,3327.9 L443.5,3325.0 L444.0,3325.3 L444.5,3324.3 L445.0,3322.7 L445.5,3324.2 L446.0,3322.0 L446.5,3320.5 L447.0,3318.2 L447.5,3320.5 L448.0,3319.7 L448.5,3317.1 L449.0,3319.0 L449.6,3316.9 L450.1,3316.5 L450.6,3315.4 L451.1,3315.7 L451.6,3317.7 L452.1,3313.0 L452.6,3314.6 L453.1,3312.5 L453.7,3311.6 L454.2,3311.0 L454.7,3311.4 L455.2,3311.7 L455.9,3309.5 L456.6,3310.6 L457.3,3308.3 L458.0,3308.6 L458.7,3310.8 L459.4,3309.7 L460.1,3310.0 L460.8,3308.8 L461.5,3306.3 L462.2,3301.6 L462.8,3303.8 L463.5,3304.0 L464.2,3306.6 L464.9,3305.3 L465.7,3307.9 L466.5,3306.4 L467.2,3304.5 L468.0,3304.3 L468.8,3309.1 L469.5,3304.9 L470.3,3307.4 L471.0,3305.7 L471.8,3308.6 L472.6,3305.9 L473.3,3307.7 L474.1,3306.1 L474.9,3305.0 L475.6,3305.8 L476.4,3307.6 L477.2,3305.2 L477.9,3306.1 L478.7,3305.6 L479.5,3305.4 L480.4,3305.3 L481.2,3303.0 L482.0,3308.6 L482.8,3307.2 L483.6,3308.2 L484.4,3306.0 L485.2,3302.6 L486.0,3302.2 L486.9,3302.3 L487.7,3308.0 L488.5,3303.4 L489.3,3307.3 L490.1,3303.8 L490.9,3303.6 L491.7,3301.9 L492.5,3304.6 L493.2,3302.5 L494.0,3300.1 L494.8,3305.1 L494.9,3301.4 L494.9,3301.1 L495.0,3300.6 L495.1,3299.4 L495.1,3298.8 L495.2,3297.8 L495.3,3296.7 L495.3,3295.8 L495.4,3295.1 L495.5,3294.6 L495.5,3293.7 L495.6,3292.7 L495.7,3291.9 L495.8,3291.1 L495.8,3290.6 L495.9,3289.8 L496.0,3288.9 L496.0,3287.6 L496.1,3286.8 L496.2,3286.2 L496.2,3285.7 L496.3,3285.0 L496.4,3283.8 L496.4,3283.1 L497.1,3279.2 L497.8,3281.2 L498.5,3279.1 L499.1,3281.6 L499.8,3278.5 L500.5,3282.9 L501.2,3275.6 L501.9,3277.7 L502.5,3278.8 L503.2,3277.2 L503.9,3280.9 L504.7,3280.1 L505.4,3280.6 L506.2,3278.0 L507.0,3275.5 L507.7,3274.1 L508.5,3280.0 L509.2,3277.1 L510.0,3273.6 L510.8,3274.1 L511.5,3279.6 L512.3,3272.6 L513.1,3271.7 L513.8,3272.0 L514.6,3273.8 L515.4,3278.5 L516.1,3276.6 L516.9,3272.3 L517.6,3272.1 L518.4,3272.3 L519.2,3270.8 L519.9,3272.2 L520.7,3274.5 L521.5,3269.4 L522.2,3268.8 L523.0,3269.3 L523.8,3271.4 L524.5,3271.0 L525.3,3271.1 L526.1,3270.2 L526.8,3271.2 L527.6,3271.5 L528.3,3271.1 L529.1,3268.0 L529.9,3267.0 L530.6,3266.4 L531.4,3267.8 L532.2,3274.1 L532.9,3269.4 L533.7,3267.9 L534.5,3269.5 L535.2,3270.3 L536.0,3269.1 L536.7,3265.2 L537.5,3266.1 L538.3,3266.7 L539.0,3269.4 L539.8,3267.0 L540.6,3262.1 L541.3,3264.8 L542.1,3265.8 L542.9,3265.3 L543.6,3268.5 L544.4,3267.5 L545.1,3263.8 L545.9,3263.3 L546.7,3261.8 L547.4,3260.8 L548.2,3264.7 L549.0,3264.0 L549.7,3263.5 L550.5,3263.5 L551.3,3261.3 L552.0,3259.6 L552.8,3256.9 L553.6,3261.6 L554.3,3260.4 L555.1,3260.6 L555.8,3262.3 L556.7,3264.4 L557.5,3260.2 L558.3,3258.3 L559.1,3261.2 L559.9,3256.3 L560.7,3254.2 L561.5,3259.6 L562.3,3262.3 L563.1,3258.9 L564.0,3261.0 L564.8,3259.9 L565.6,3260.3 L566.4,3254.5 L567.2,3256.8 L568.0,3261.3 L568.8,3256.8 L569.6,3258.3 L570.5,3261.0 L571.3,3260.0 L572.1,3258.9 L572.9,3255.8 L573.7,3261.4 L574.5,3258.8 L575.3,3256.5 L576.1,3260.0 L576.9,3263.4 L577.8,3259.9 L578.6,3258.4 L579.4,3257.2 L580.2,3259.6 L581.0,3260.1 L581.8,3256.6 L582.6,3258.8 L583.4,3257.2 L584.3,3255.9 L585.1,3256.9 L585.9,3258.6 L586.7,3255.5 L587.5,3259.6 L588.3,3253.7 L589.1,3258.7 L589.9,3253.2 L590.7,3253.5 L591.6,3258.5 L592.4,3256.6 L593.2,3256.9 L594.0,3256.8 L594.8,3252.7 L595.6,3256.2 L596.3,3258.9 L597.1,3257.0 L597.9,3256.5 L598.6,3262.4 L599.4,3256.1 L600.2,3259.6 L600.9,3255.7 L601.7,3253.4 L602.4,3259.0 L603.2,3256.9 L604.0,3254.8 L604.7,3253.9 L605.5,3255.9 L606.3,3254.5 L607.0,3255.5 L607.8,3255.7 L608.6,3257.0 L609.4,3251.8 L610.2,3254.8 L611.0,3250.1 L611.9,3254.4 L612.7,3251.9 L613.5,3255.4 L614.3,3257.1 L615.1,3247.6 L615.9,3250.3 L616.7,3249.1 L617.5,3250.1 L618.3,3254.0 L619.2,3247.3 L620.0,3247.7 L620.8,3250.3 L621.5,3247.2 L622.3,3252.8 L623.1,3255.6 L623.8,3252.8 L624.6,3250.1 L625.4,3249.0 L626.1,3248.2 L626.9,3246.3 L627.7,3245.2 L628.4,3242.5 L629.2,3245.4 L629.9,3245.5 L630.7,3243.8 L631.5,3247.2 L632.2,3245.9 L633.0,3241.2 L633.8,3243.5 L634.6,3246.1 L635.4,3247.3 L636.2,3241.5 L637.0,3249.6 L637.8,3248.8 L638.6,3248.0 L639.4,3243.8 L640.3,3245.0 L641.1,3246.9 L641.9,3244.4 L642.7,3245.4 L643.5,3246.9 L644.3,3248.1 L645.1,3247.3 L645.9,3247.6 L646.8,3243.7 L647.5,3244.4 L648.3,3250.6 L649.0,3248.8 L649.8,3246.8 L650.6,3246.5 L651.3,3248.6 L652.1,3251.1 L652.9,3247.3 L653.6,3247.2 L654.4,3242.8 L655.2,3249.7 L655.9,3249.7 L656.7,3250.9 L657.4,3251.0 L658.2,3250.3 L659.0,3246.3 L659.7,3247.8 L660.4,3250.1 L661.1,3252.1 L661.8,3247.7 L662.5,3247.7 L663.2,3245.6 L663.8,3245.3 L664.5,3247.4 L665.2,3242.1 L665.9,3245.6 L666.6,3241.9 L667.3,3244.8 L667.9,3245.7 L668.6,3244.6 L669.3,3248.1 L670.0,3244.9 L670.7,3248.7 L671.4,3245.3 L672.0,3244.7 L672.7,3243.5 L673.5,3241.1 L674.3,3241.4 L675.0,3240.5 L675.8,3242.8 L676.5,3242.7 L677.3,3238.6 L678.1,3241.2 L678.8,3241.3 L679.6,3240.6 L680.4,3238.9 L681.1,3239.5 L681.9,3238.6 L682.7,3239.0 L683.4,3240.8 L684.2,3239.3 L685.0,3239.5 L685.7,3236.2 L686.5,3237.9 L687.2,3236.0 L688.0,3237.6 L688.8,3231.5 L689.5,3233.4 L690.3,3234.0 L691.1,3233.5 L691.8,3237.4 L692.6,3236.1 L693.4,3234.4 L694.1,3235.9 L694.9,3235.7 L695.6,3233.7 L696.4,3230.8 L697.2,3233.8 L697.9,3230.1 L698.7,3231.0 L699.5,3234.9 L700.2,3234.2 L701.0,3232.0 L701.8,3235.3 L702.5,3234.6 L703.3,3232.4 L704.0,3232.4 L704.8,3233.2 L705.6,3231.9 L706.3,3234.0 L707.1,3229.9 L707.9,3227.6 L708.6,3234.7 L709.4,3229.3 L710.2,3229.4 L710.9,3232.9 L711.7,3229.5 L712.5,3229.6 L713.2,3226.9 L714.0,3228.9 L714.7,3227.8 L715.5,3226.8 L716.3,3225.8 L717.0,3228.9 L717.8,3229.0 L718.6,3229.5 L719.3,3225.0 L720.1,3223.9 L720.9,3230.4 L721.6,3227.2 L722.4,3224.8 L723.1,3229.7 L723.9,3230.7 L724.7,3233.7 L725.4,3227.8 L726.1,3227.4 L726.8,3223.2 L727.6,3225.6 L728.3,3227.1 L729.0,3222.9 L729.7,3224.2 L730.4,3224.7 L731.2,3224.6 L731.8,3226.4 L732.5,3224.9 L733.1,3227.0 L733.8,3225.7 L734.4,3224.0 L735.1,3226.8 L735.7,3224.7 L736.4,3226.0 L737.0,3229.0 L737.7,3228.1 L738.3,3226.7 L739.0,3230.0 L739.6,3231.3 L740.3,3226.8 L740.9,3228.7 L741.7,3227.2 L742.4,3229.2 L743.2,3232.8 L744.0,3228.9 L744.7,3231.7 L745.5,3232.9 L746.3,3230.7 L747.0,3231.4 L747.8,3229.8 L748.5,3233.8 L749.3,3235.4 L750.1,3233.2 L750.8,3237.0 L751.6,3236.1 L752.4,3236.8 L753.1,3235.2 L753.9,3234.9 L754.7,3234.9 L755.5,3236.3 L756.3,3232.8 L757.1,3232.6 L758.0,3232.7 L758.8,3234.2 L759.6,3233.8 L760.4,3233.1 L761.2,3233.4 L762.0,3228.8 L762.8,3233.0 L763.6,3237.1 L764.4,3235.8 L765.3,3235.1 L766.1,3233.4 L766.9,3231.5 L767.6,3227.4 L768.4,3229.6 L769.2,3231.1 L769.9,3230.5 L770.7,3229.1 L771.5,3228.6 L772.2,3232.9 L773.0,3227.8 L773.8,3228.9 L774.5,3226.4 L775.3,3225.8 L776.1,3229.3 L776.8,3228.9 L777.6,3228.3 L778.3,3227.9 L779.1,3226.0 L779.9,3224.4 L780.6,3222.5 L781.4,3222.2 L782.1,3225.5 L782.9,3224.8 L783.6,3223.8 L784.4,3225.0 L785.1,3226.4 L785.9,3225.2 L786.6,3224.5 L787.4,3220.0 L788.1,3226.4 L788.9,3225.2 L789.6,3224.4 L790.4,3225.8 L791.1,3228.7 L791.9,3227.3 L792.7,3227.2 L793.4,3231.7 L794.2,3232.5 L795.0,3228.8 L795.7,3226.3 L796.5,3227.7 L797.2,3228.6 L798.0,3228.1 L798.8,3230.5 L799.5,3230.0 L800.3,3229.6 L801.1,3226.2 L801.8,3223.4 L802.6,3229.6 L803.3,3226.0 L804.1,3230.9 L804.8,3228.2 L805.6,3232.5 L806.3,3228.9 L807.1,3231.0 L807.8,3227.6 L808.6,3224.8 L809.3,3227.6 L810.1,3229.8 L810.8,3231.9 L811.6,3229.5 L812.3,3229.7 L813.1,3230.4 L813.8,3226.3 L814.5,3229.3 L815.2,3229.3 L815.9,3227.9 L816.7,3232.7 L817.4,3228.9 L818.1,3223.2 L818.8,3225.0 L819.6,3224.4 L820.3,3226.2 L821.0,3227.2 L821.7,3226.9 L822.4,3226.8 L823.2,3225.1 L823.9,3225.2 L824.6,3223.0 L825.3,3222.7 L826.0,3222.2 L826.7,3227.1 L827.4,3222.4 L828.1,3222.0 L828.7,3223.1 L829.4,3221.9 L830.1,3222.7 L830.8,3221.4 L831.5,3220.7 L832.2,3222.9 L832.8,3221.3 L833.5,3220.4 L834.2,3216.3 L834.9,3215.8 L835.6,3220.3 L836.3,3218.2 L836.9,3221.0 L837.6,3219.0 L838.3,3217.0 L839.0,3214.5 L839.8,3214.2 L840.5,3219.5 L841.2,3217.2 L841.9,3213.5 L842.6,3213.6 L843.4,3213.8 L844.1,3216.9 L844.8,3215.9 L845.5,3214.3 L846.2,3214.0 L847.0,3213.8 L847.7,3217.8 L848.4,3211.9 L849.1,3210.9 L849.9,3214.5 L850.6,3215.6 L851.3,3213.9 L852.1,3207.9 L852.9,3209.3 L853.7,3211.8 L854.5,3211.5 L855.4,3211.0 L856.2,3211.5 L857.0,3212.1 L857.8,3214.4 L858.6,3209.6 L859.4,3214.9 L860.2,3208.5 L861.0,3210.0 L861.9,3211.8 L862.7,3207.9 L863.5,3208.3 L864.3,3210.7 L865.0,3209.8 L865.8,3211.8 L866.6,3213.2 L867.3,3210.2 L868.1,3211.5 L868.9,3210.6 L869.6,3206.3 L870.4,3208.0 L871.2,3214.7 L871.9,3206.2 L872.7,3209.3 L873.5,3209.2 L874.2,3207.1 L875.0,3206.6 L875.7,3208.6 L876.5,3208.0 L877.3,3211.2 L878.1,3209.9 L878.9,3206.8 L879.7,3210.0 L880.5,3212.2 L881.3,3209.7 L882.1,3204.8 L883.0,3210.2 L883.8,3212.6 L884.6,3211.4 L885.4,3209.4 L886.2,3207.2 L887.0,3210.3 L887.8,3208.9 L888.6,3208.7 L889.4,3208.3 L890.3,3213.2 L891.0,3207.5 L891.8,3208.6 L892.5,3211.0 L893.2,3207.1 L894.0,3210.4 L894.7,3210.6 L895.5,3210.9 L896.2,3210.1 L897.0,3206.9 L897.8,3206.2 L898.6,3209.2 L899.3,3208.9 L900.1,3209.1 L900.9,3205.7 L901.6,3205.7 L902.4,3207.7 L903.2,3205.5 L904.0,3208.0 L904.7,3205.5 L905.5,3203.9 L906.3,3203.6 L907.1,3205.3 L907.8,3205.4 L908.6,3204.0 L909.4,3206.3 L910.1,3206.3 L910.9,3204.6 L911.7,3205.8 L912.5,3201.6 L913.3,3202.8 L914.1,3201.0 L914.9,3205.3 L915.7,3205.5 L916.5,3203.7 L917.3,3204.7 L918.1,3203.8 L919.0,3206.4 L919.8,3204.3 L920.6,3208.1 L921.4,3207.6 L922.2,3208.9 L923.0,3203.9 L923.8,3206.0 L924.6,3212.1 L925.5,3206.9 L926.3,3208.0 L927.1,3204.6 L927.9,3207.7 L928.7,3205.2 L929.5,3210.0 L930.3,3210.3 L931.1,3210.1 L931.9,3207.6 L932.8,3213.1 L933.6,3211.9 L934.4,3210.1 L935.2,3208.3 L936.0,3212.3 L936.8,3210.2 L937.6,3208.8 L938.4,3209.1 L939.3,3210.4 L940.1,3209.6 L940.9,3211.9 L941.7,3209.4 L942.5,3209.7 L943.3,3212.0 L944.1,3207.0 L944.9,3211.4 L945.7,3215.5 L946.5,3215.1 L947.3,3208.8 L948.0,3210.4 L948.8,3207.3 L949.6,3207.1 L950.3,3207.9 L951.1,3206.7 L951.9,3206.6 L952.7,3209.6 L953.4,3200.6 L954.2,3205.9 L955.0,3206.6 L955.8,3203.3 L956.5,3203.0 L957.3,3200.8 L958.1,3205.5 L958.8,3204.3 L959.6,3204.7 L960.4,3207.2 L961.2,3203.9 L962.0,3204.7 L962.8,3207.0 L963.6,3205.4 L964.4,3202.8 L965.2,3204.8 L966.0,3203.6 L966.9,3205.2 L967.7,3206.8 L968.5,3205.8 L969.3,3206.3 L970.1,3201.7 L970.9,3205.6 L971.7,3200.8 L972.5,3204.7 L973.3,3202.4 L974.2,3205.6 L975.0,3201.4 L975.8,3204.1 L976.6,3199.6 L977.4,3205.1 L978.2,3203.4 L978.9,3202.5 L979.7,3202.7 L980.5,3201.1 L981.3,3199.4 L982.0,3205.7 L982.8,3202.3 L983.6,3201.7 L984.4,3200.5 L985.1,3200.4 L985.9,3201.3 L986.7,3201.9 L987.5,3204.1 L988.2,3199.5 L989.0,3202.0 L989.8,3203.7 L990.5,3199.2 L991.3,3199.0 L992.1,3199.9 L992.9,3199.7 L993.6,3199.6 L994.4,3202.4 L995.2,3198.9 L996.0,3201.5 L996.7,3197.7 L997.5,3195.4 L998.3,3199.1 L999.0,3196.3 L999.8,3195.5 L1000.6,3200.2 L1001.4,3194.2 L1002.1,3195.0 L1002.9,3193.6 L1003.7,3195.2 L1004.5,3195.7 L1005.2,3201.4 L1006.0,3197.9 L1006.8,3195.8 L1007.6,3195.6 L1008.3,3195.1 L1009.1,3195.9 L1009.9,3192.7 L1010.7,3194.6 L1011.5,3196.3 L1012.3,3195.3 L1013.1,3193.5 L1013.9,3194.0 L1014.7,3198.9 L1015.6,3195.8 L1016.4,3195.0 L1017.2,3193.8 L1018.0,3195.2 L1018.8,3193.3 L1019.6,3196.7 L1020.4,3193.1 L1021.2,3195.0 L1022.0,3193.6 L1022.9,3194.2 L1023.7,3191.6 L1024.5,3195.7 L1025.3,3191.9 L1026.1,3194.8 L1026.9,3194.8 L1027.7,3193.2 L1028.5,3193.8 L1029.4,3194.9 L1030.2,3191.2 L1031.0,3194.0 L1031.8,3192.6 L1032.6,3191.4 L1033.4,3194.9 L1034.2,3192.6 L1035.0,3193.9 L1035.8,3191.6 L1036.7,3194.1 L1037.5,3191.4 L1038.3,3190.8 L1039.1,3193.2 L1039.9,3195.1 L1040.7,3194.2 L1041.5,3196.2 L1042.3,3200.9 L1043.1,3193.8 L1044.0,3201.7 L1044.8,3195.0 L1045.6,3200.3 L1046.4,3196.5 L1047.2,3195.7 L1048.0,3191.2 L1048.8,3192.7 L1049.6,3194.4 L1050.5,3193.2 L1051.3,3193.9 L1052.1,3189.9 L1052.9,3190.1 L1053.7,3197.9 L1054.5,3196.9 L1055.3,3192.5 L1056.1,3194.0 L1056.9,3190.3 L1057.8,3194.5 L1058.6,3198.3 L1059.4,3193.2 L1060.2,3191.4 L1061.0,3196.3 L1061.8,3194.0 L1062.6,3194.4 L1063.4,3193.6 L1064.3,3195.0 L1065.1,3189.2 L1065.9,3196.1 L1066.7,3191.7 L1067.5,3194.8 L1068.3,3191.0 L1069.1,3189.3 L1069.9,3188.3 L1070.7,3186.9 L1071.6,3195.3 L1072.4,3191.0 L1073.2,3192.9 L1074.0,3190.9 L1074.8,3188.9 L1075.6,3192.1 L1076.4,3194.5 L1077.2,3186.7 L1078.1,3189.8 L1078.9,3190.8 L1079.7,3190.3 L1080.5,3192.0 L1081.3,3190.1 L1082.1,3188.3 L1082.9,3185.3 L1083.7,3190.6 L1084.5,3190.4 L1085.4,3187.7 L1086.2,3187.2 L1087.0,3186.8 L1087.8,3185.7 L1088.6,3186.4 L1089.4,3187.6 L1090.2,3193.7 L1091.0,3189.9 L1091.9,3191.9 L1092.7,3192.8 L1093.5,3185.2 L1094.3,3184.2 L1095.1,3189.6 L1095.9,3186.9 L1096.7,3188.6 L1097.5,3189.1 L1098.3,3184.3 L1099.2,3192.8 L1100.0,3188.1 L1100.8,3184.5 L1101.6,3188.1 L1102.4,3188.2 L1103.2,3189.4 L1104.0,3180.6 L1104.8,3184.4 L1105.6,3190.2 L1106.5,3187.6 L1107.3,3189.8 L1108.1,3184.0 L1108.9,3188.5 L1109.7,3191.4 L1110.5,3184.0 L1111.3,3184.9 L1112.1,3185.3 L1113.0,3185.4 L1113.8,3189.5 L1114.6,3185.6 L1115.4,3184.9 L1116.2,3189.3 L1117.0,3189.0 L1117.8,3190.6 L1118.6,3183.4 L1119.4,3184.8 L1120.3,3185.4 L1121.1,3185.0 L1121.9,3190.0 L1122.7,3187.5 L1123.5,3181.7 L1124.3,3186.8 L1125.1,3184.5 L1125.9,3189.8 L1126.8,3188.1 L1127.6,3189.5 L1128.4,3187.2 L1129.2,3183.8 L1130.0,3185.9 L1130.8,3188.0 L1131.6,3186.8 L1132.4,3186.1 L1133.2,3186.3 L1134.1,3184.2 L1134.9,3187.1 L1135.7,3187.3 L1136.5,3189.0 L1137.3,3188.5 L1138.1,3188.2 L1138.9,3187.2 L1139.7,3188.4 L1140.5,3185.4 L1141.3,3185.5 L1142.1,3187.3 L1142.8,3181.3 L1143.6,3185.7 L1144.4,3192.3 L1145.2,3188.0 L1145.9,3184.5 L1146.7,3187.3 L1147.5,3189.2 L1148.2,3189.6 L1149.0,3186.9 L1149.8,3186.5 L1150.6,3186.6 L1151.3,3186.0 L1152.1,3187.9 L1152.9,3185.3 L1153.7,3186.4 L1154.4,3186.8 L1155.2,3185.8 L1156.0,3182.0 L1156.7,3184.9 L1157.5,3182.3 L1158.3,3181.9 L1159.1,3181.0 L1159.8,3179.3 L1160.6,3180.4 L1161.4,3180.3 L1162.2,3182.8 L1162.9,3182.4 L1163.7,3181.0 L1164.5,3180.9 L1165.3,3180.3 L1166.0,3181.1 L1166.8,3182.1 L1167.6,3184.3 L1168.3,3185.3 L1169.1,3176.6 L1169.9,3178.0 L1170.7,3178.7 L1171.4,3178.8 L1172.2,3177.9 L1173.0,3177.2 L1173.8,3177.2 L1174.6,3185.7 L1175.5,3177.8 L1176.3,3177.7 L1177.1,3185.0 L1177.9,3179.4 L1178.7,3186.8 L1179.5,3178.6 L1180.3,3178.8 L1181.1,3175.5 L1181.9,3180.0 L1182.8,3175.5 L1183.6,3175.5 L1184.4,3177.4 L1185.2,3177.7 L1186.0,3180.8 L1186.8,3180.3 L1187.6,3180.2 L1188.4,3183.5 L1189.3,3184.0 L1190.1,3180.9 L1190.9,3182.5 L1191.7,3180.2 L1192.5,3180.9 L1193.3,3176.9 L1194.1,3178.9 L1194.9,3181.8 L1195.7,3180.7 L1196.6,3182.1 L1197.4,3185.2 L1198.2,3178.8 L1199.0,3181.0 L1199.8,3182.7 L1200.6,3180.9 L1201.4,3177.5 L1202.2,3176.4 L1203.1,3178.3 L1203.9,3185.6 L1204.7,3179.8 L1205.4,3181.7 L1206.2,3179.1 L1207.0,3176.4 L1207.8,3176.4 L1208.5,3172.1 L1209.3,3180.7 L1210.1,3178.6 L1210.9,3178.5 L1211.6,3174.8 L1212.4,3175.7 L1213.2,3174.4 L1214.0,3174.2 L1214.7,3175.4 L1215.5,3181.8 L1216.3,3177.8 L1217.0,3178.3 L1217.8,3178.3 L1218.6,3178.2 L1219.4,3177.4 L1220.1,3172.8 L1220.9,3175.0 L1221.7,3174.6 L1222.5,3174.4 L1223.3,3172.2 L1224.2,3172.6 L1225.0,3172.4 L1225.8,3173.5 L1226.6,3171.5 L1227.4,3174.5 L1228.2,3179.8 L1229.0,3175.1 L1229.8,3174.4 L1230.6,3181.2 L1231.5,3173.7 L1232.3,3176.3 L1233.1,3173.5 L1233.9,3176.4 L1234.7,3177.0 L1235.5,3177.9 L1236.3,3174.5 L1237.1,3173.7 L1238.0,3178.9 L1238.8,3175.6 L1239.6,3177.3 L1240.4,3175.2 L1241.2,3174.1 L1242.0,3173.3 L1242.8,3174.0 L1243.6,3176.9 L1244.4,3175.2 L1245.3,3171.6 L1246.1,3172.7 L1246.9,3178.1 L1247.7,3177.8 L1248.5,3177.6 L1249.3,3174.4 L1250.1,3173.5 L1250.9,3168.7 L1251.8,3174.4 L1252.6,3180.2 L1253.4,3173.1 L1254.1,3178.4 L1254.9,3181.1 L1255.7,3178.4 L1256.5,3174.1 L1257.2,3174.7 L1258.0,3173.0 L1258.8,3171.9 L1259.6,3171.7 L1260.3,3170.2 L1261.1,3173.9 L1261.9,3176.8 L1262.7,3171.2 L1263.4,3173.2 L1264.2,3176.6 L1265.0,3172.1 L1265.7,3169.8 L1266.5,3169.6 L1267.3,3174.1 L1268.1,3171.7 L1268.8,3173.5 L1269.6,3170.2 L1270.4,3173.4 L1271.2,3167.2 L1272.0,3171.0 L1272.9,3169.7 L1273.7,3170.7 L1274.5,3174.2 L1275.3,3170.6 L1276.1,3170.4 L1276.9,3170.5 L1277.7,3168.9 L1278.5,3172.9 L1279.4,3171.2 L1280.2,3173.0 L1281.0,3172.7 L1281.8,3167.5 L1282.6,3174.4 L1283.4,3174.6 L1284.2,3171.8 L1285.0,3166.1 L1285.8,3173.0 L1286.7,3171.0 L1287.5,3170.1 L1288.3,3171.1 L1289.1,3170.2 L1289.9,3168.8 L1290.7,3169.2 L1291.5,3167.3 L1292.3,3169.1 L1293.1,3174.5 L1294.0,3175.2 L1294.8,3175.6 L1295.6,3167.3 L1296.4,3169.9 L1297.2,3168.7 L1298.0,3168.4 L1298.8,3167.7 L1299.6,3169.4 L1300.5,3169.9 L1301.3,3166.2 L1302.1,3173.1 L1302.9,3166.9 L1303.7,3165.9 L1304.5,3165.9 L1305.3,3167.4 L1306.1,3173.4 L1306.9,3170.0 L1307.8,3172.6 L1308.6,3169.1 L1309.4,3168.4 L1310.2,3170.3 L1311.0,3170.4 L1311.8,3167.2 L1312.6,3165.9 L1313.4,3170.8 L1314.3,3168.0 L1315.1,3173.1 L1315.9,3170.2 L1316.7,3173.6 L1317.5,3169.2 L1318.3,3166.0 L1319.0,3173.7 L1319.8,3170.2 L1320.5,3169.3 L1321.3,3167.2 L1322.0,3168.1 L1322.7,3167.0 L1323.5,3162.2 L1324.2,3170.7 L1325.0,3169.1 L1325.7,3164.3 L1326.4,3165.3 L1327.2,3165.2 L1327.9,3165.6 L1328.6,3164.7 L1329.4,3165.3 L1330.1,3163.5 L1330.9,3164.8 L1331.6,3161.7 L1332.3,3163.7 L1333.1,3158.9 L1333.8,3164.0 L1334.5,3161.5 L1335.3,3162.6 L1336.1,3166.5 L1336.9,3163.8 L1337.6,3165.2 L1338.4,3166.0 L1339.2,3165.8 L1340.0,3158.9 L1340.7,3163.7 L1341.5,3163.2 L1342.3,3160.6 L1343.0,3160.0 L1343.8,3161.1 L1344.6,3162.8 L1345.4,3159.9 L1346.1,3159.1 L1346.9,3157.3 L1347.7,3157.7 L1348.5,3155.9 L1349.2,3155.4 L1350.0,3160.4 L1350.8,3156.9 L1351.6,3160.3 L1352.4,3155.0 L1353.2,3155.4 L1354.0,3156.7 L1354.8,3154.7 L1355.6,3159.9 L1356.5,3158.0 L1357.3,3161.5 L1358.1,3152.8 L1358.9,3159.3 L1359.7,3157.3 L1360.5,3161.3 L1361.3,3160.2 L1362.1,3158.0 L1363.0,3159.4 L1363.8,3160.5 L1364.6,3157.2 L1365.4,3161.3 L1366.2,3160.2 L1367.0,3161.5 L1367.8,3161.0 L1368.5,3160.3 L1369.3,3165.0 L1370.1,3162.4 L1370.9,3163.7 L1371.6,3158.9 L1372.4,3159.1 L1373.2,3160.5 L1373.9,3158.3 L1374.7,3158.1 L1375.5,3154.9 L1376.2,3157.3 L1377.0,3157.1 L1377.8,3159.5 L1378.6,3155.0 L1379.3,3158.5 L1380.1,3155.8 L1380.9,3158.1 L1381.6,3153.2 L1382.4,3153.0 L1383.2,3151.7 L1384.0,3154.9 L1384.7,3151.9 L1385.5,3150.4 L1386.3,3151.5 L1387.1,3152.8 L1387.8,3154.1 L1388.6,3152.0 L1389.4,3150.3 L1390.1,3154.0 L1390.9,3157.8 L1391.7,3153.8 L1392.5,3151.1 L1393.3,3151.7 L1394.1,3152.0 L1394.9,3152.0 L1395.7,3155.5 L1396.5,3152.7 L1397.3,3153.5 L1398.1,3156.1 L1399.0,3154.4 L1399.8,3155.7 L1400.6,3157.9 L1401.4,3156.4 L1402.2,3155.6 L1403.0,3153.2 L1403.8,3155.8 L1404.6,3157.1 L1405.5,3152.3 L1406.3,3153.3 L1407.1,3154.9 L1407.9,3157.9 L1408.7,3155.9 L1409.5,3157.4 L1410.3,3155.9 L1411.1,3156.2 L1411.9,3158.4 L1412.8,3157.2 L1413.6,3153.6 L1414.4,3156.6 L1415.2,3155.9 L1416.0,3155.9 L1416.8,3152.2 L1417.6,3154.0 L1418.4,3155.7 L1419.3,3156.9 L1420.1,3151.2 L1420.9,3154.3 L1421.7,3155.2 L1422.5,3150.5 L1423.3,3155.7 L1424.1,3153.6 L1424.9,3154.7 L1425.7,3153.6 L1426.6,3154.2 L1427.4,3153.0 L1428.2,3157.1 L1429.0,3155.9 L1429.8,3156.0 L1430.6,3153.4 L1431.4,3157.0 L1432.2,3154.7 L1433.1,3157.1 L1433.9,3154.7 L1434.7,3161.0 L1435.5,3155.4 L1436.3,3156.1 L1437.1,3159.7 L1437.9,3157.2 L1438.7,3152.3 L1439.5,3156.3 L1440.4,3155.6 L1441.2,3155.1 L1442.0,3152.7 L1442.8,3147.7 L1443.6,3151.7 L1444.4,3157.6 L1445.2,3156.6 L1446.0,3154.8 L1446.9,3160.0 L1447.7,3151.4 L1448.5,3154.4 L1449.3,3151.6 L1450.1,3153.5 L1450.9,3154.3 L1451.7,3156.1 L1452.5,3154.7 L1453.3,3154.8 L1454.2,3152.7 L1455.0,3155.4 L1455.8,3154.3 L1456.6,3151.9 L1457.4,3158.2 L1458.2,3155.2 L1458.9,3155.1 L1459.7,3150.1 L1460.5,3155.4 L1461.3,3153.0 L1462.0,3154.6 L1462.8,3149.5 L1463.6,3156.8 L1464.4,3156.4 L1465.1,3153.1 L1465.9,3149.2 L1466.7,3151.3 L1467.5,3155.1 L1468.2,3150.8 L1469.0,3152.0 L1469.8,3155.2 L1470.5,3153.1 L1471.3,3152.1 L1472.1,3154.2 L1472.9,3154.1 L1473.6,3154.3 L1474.4,3155.5 L1475.3,3151.4 L1476.1,3155.3 L1476.9,3155.1 L1477.7,3152.2 L1478.5,3161.7 L1479.3,3157.8 L1480.1,3153.2 L1480.9,3156.4 L1481.8,3153.9 L1482.6,3151.6 L1483.4,3152.6 L1484.2,3151.8 L1485.0,3151.5 L1485.8,3151.7 L1486.6,3149.9 L1487.4,3149.2 L1488.2,3156.6 L1489.1,3143.2 L1489.9,3150.0 L1490.7,3150.2 L1491.5,3149.4 L1492.3,3149.9 L1493.1,3148.3 L1493.9,3151.7 L1494.7,3153.6 L1495.6,3155.3 L1496.4,3151.9 L1497.2,3151.6 L1498.0,3149.5 L1498.8,3147.7 L1499.6,3147.6 L1500.4,3148.5 L1501.2,3148.5 L1502.0,3149.0 L1502.9,3149.5 L1503.7,3153.4 L1504.5,3149.5 L1505.3,3152.0 L1506.1,3151.1 L1506.9,3151.9 L1507.7,3149.7 L1508.5,3149.6 L1509.4,3146.0 L1510.2,3149.0 L1511.0,3148.8 L1511.8,3151.8 L1512.6,3147.8 L1513.4,3149.2 L1514.2,3148.1 L1515.0,3148.8 L1515.8,3150.9 L1516.7,3147.5 L1517.5,3151.4 L1518.3,3151.1 L1519.1,3155.7 L1519.9,3149.3 L1520.7,3149.3 L1521.5,3150.6 L1522.3,3146.8 L1523.1,3151.9 L1523.9,3152.7 L1524.7,3151.3 L1525.4,3152.2 L1526.2,3147.6 L1527.0,3149.2 L1527.7,3147.6 L1528.5,3150.9 L1529.3,3145.8 L1530.1,3146.0 L1530.8,3148.4 L1531.6,3144.1 L1532.4,3148.0 L1533.2,3148.6 L1533.9,3148.1 L1534.7,3144.9 L1535.5,3146.6 L1536.3,3144.7 L1537.0,3146.2 L1537.8,3148.5 L1538.6,3145.3 L1539.3,3147.3 L1540.1,3144.5 L1540.9,3140.6 L1541.7,3145.7 L1542.4,3144.4 L1543.2,3147.7 L1544.0,3150.3 L1544.8,3144.5 L1545.5,3142.3 L1546.3,3140.0 L1547.1,3141.6 L1547.8,3142.6 L1548.6,3142.7 L1549.4,3147.3 L1550.2,3144.7 L1550.9,3145.9 L1551.7,3143.1 L1552.5,3139.8 L1553.3,3139.1 L1554.0,3143.4 L1554.8,3140.6 L1555.6,3139.7 L1556.4,3146.2 L1557.2,3142.3 L1558.1,3145.0 L1558.9,3143.1 L1559.7,3145.6 L1560.5,3146.7 L1561.3,3144.3 L1562.1,3143.3 L1562.9,3146.3 L1563.7,3144.3 L1564.5,3141.4 L1565.4,3144.9 L1566.2,3140.3 L1567.0,3149.4 L1567.8,3141.8 L1568.6,3142.6 L1569.4,3141.6 L1570.2,3139.1 L1571.0,3144.6 L1571.8,3143.4 L1572.6,3139.5 L1573.4,3140.4 L1574.1,3133.8 L1574.9,3142.7 L1575.7,3141.8 L1576.5,3140.1 L1577.2,3138.5 L1578.0,3142.0 L1578.8,3140.2 L1579.5,3137.9 L1580.3,3141.5 L1581.1,3141.1 L1581.9,3140.5 L1582.6,3144.0 L1583.4,3138.6 L1584.2,3137.7 L1585.0,3136.7 L1585.7,3137.0 L1586.5,3135.7 L1587.3,3139.0 L1588.1,3135.9 L1588.9,3136.6 L1589.7,3133.9 L1590.5,3137.7 L1591.3,3141.1 L1592.1,3135.3 L1593.0,3138.0 L1593.8,3136.9 L1594.6,3140.2 L1595.4,3135.9 L1596.2,3131.8 L1597.0,3136.3 L1597.8,3139.5 L1598.6,3135.6 L1599.4,3137.0 L1600.3,3135.3 L1601.1,3133.7 L1601.9,3135.2 L1602.7,3138.4 L1603.5,3137.7 L1604.3,3137.6 L1605.1,3136.8 L1605.9,3131.0 L1606.8,3138.3 L1607.6,3136.1 L1608.4,3136.7 L1609.2,3137.5 L1610.0,3141.3 L1610.8,3141.1 L1611.6,3139.0 L1612.4,3142.6 L1613.2,3138.9 L1614.1,3138.2 L1614.9,3135.0 L1615.7,3135.9 L1616.5,3138.5 L1617.3,3136.9 L1618.1,3134.6 L1618.9,3134.1 L1619.7,3131.4 L1620.5,3134.9 L1621.3,3133.7 L1622.1,3132.5 L1622.8,3140.5 L1623.6,3136.5 L1624.4,3132.5 L1625.2,3131.8 L1625.9,3131.5 L1626.7,3130.6 L1627.5,3133.2 L1628.2,3133.4 L1629.0,3135.7 L1629.8,3136.0 L1630.6,3129.1 L1631.3,3134.2 L1632.1,3132.1 L1632.9,3131.7 L1633.7,3136.5 L1634.4,3132.8 L1635.2,3132.3 L1636.0,3133.2 L1636.8,3129.1 L1637.6,3130.2 L1638.4,3130.4 L1639.2,3135.0 L1640.0,3130.2 L1640.8,3129.2 L1641.7,3131.4 L1642.5,3128.0 L1643.3,3135.7 L1644.1,3130.1 L1644.9,3128.6 L1645.7,3127.6 L1646.5,3130.2 L1647.3,3129.7 L1648.1,3127.8 L1649.0,3134.6 L1649.8,3130.6 L1650.6,3132.5 L1651.4,3129.5 L1652.2,3128.0 L1653.0,3130.4 L1653.8,3134.0 L1654.5,3129.8 L1655.3,3133.9 L1656.1,3129.5 L1656.8,3133.5 L1657.6,3136.5 L1658.4,3129.6 L1659.2,3132.4 L1659.9,3136.0 L1660.7,3129.7 L1661.5,3130.7 L1662.3,3127.6 L1663.0,3133.9 L1663.8,3131.6 L1664.6,3130.1 L1665.3,3136.1 L1666.1,3133.6 L1666.9,3132.3 L1667.7,3131.8 L1668.4,3134.8 L1669.3,3132.4 L1670.1,3133.7 L1670.9,3131.7 L1671.7,3131.8 L1672.5,3132.9 L1673.3,3132.3 L1674.1,3133.2 L1674.9,3136.5 L1675.7,3135.0 L1676.6,3134.9 L1677.4,3133.2 L1678.2,3135.5 L1679.0,3134.0 L1679.8,3135.3 L1680.6,3133.9 L1681.4,3137.2 L1682.2,3133.4 L1683.1,3135.9 L1683.9,3136.0 L1684.7,3135.6 L1685.5,3133.0 L1686.3,3132.4 L1687.1,3133.2 L1687.9,3133.5 L1688.7,3128.8 L1689.5,3128.6 L1690.4,3128.7 L1691.2,3131.4 L1692.0,3132.7 L1692.8,3134.0 L1693.6,3129.2 L1694.4,3131.2 L1695.2,3133.3 L1696.0,3131.9 L1696.9,3128.3 L1697.7,3133.3 L1698.5,3129.9 L1699.3,3129.4 L1700.1,3128.3 L1700.9,3133.7 L1701.7,3133.2 L1702.5,3134.9 L1703.3,3129.5 L1704.2,3139.3 L1705.0,3134.5 L1705.8,3132.9 L1706.6,3131.6 L1707.4,3132.5 L1708.2,3129.5 L1709.0,3132.5 L1709.8,3134.2 L1710.6,3133.3 L1711.5,3134.5 L1712.3,3134.7 L1713.1,3131.9 L1713.9,3132.0 L1714.7,3132.5 L1715.5,3133.6 L1716.3,3128.6 L1717.1,3127.0 L1718.0,3130.9 L1718.8,3133.8 L1719.6,3129.9 L1720.4,3130.2 L1721.2,3132.4 L1722.0,3132.4 L1722.8,3136.7 L1723.6,3136.6 L1724.4,3128.3 L1725.3,3129.8 L1726.1,3132.6 L1726.9,3130.4 L1727.7,3130.4 L1728.5,3132.8 L1729.3,3131.8 L1730.1,3130.4 L1730.9,3129.8 L1731.8,3130.8 L1732.6,3129.3 L1733.4,3129.1 L1734.1,3119.4 L1734.9,3129.3 L1735.7,3132.4 L1736.5,3127.3 L1737.2,3131.5 L1738.0,3131.1 L1738.8,3129.5 L1739.6,3131.1 L1740.3,3132.4 L1741.1,3130.4 L1741.9,3133.9 L1742.7,3131.0 L1743.4,3134.0 L1744.2,3133.6 L1745.0,3134.9 L1745.7,3134.4 L1746.5,3134.5 L1747.3,3135.1 L1748.1,3135.7 L1748.8,3134.5 L1749.6,3135.4 L1750.4,3132.6 L1751.2,3132.9 L1752.0,3135.5 L1752.9,3136.3 L1753.7,3132.9 L1754.5,3137.8 L1755.3,3130.4 L1756.1,3136.4 L1756.9,3133.6 L1757.7,3135.4 L1758.5,3135.5 L1759.4,3135.3 L1760.2,3131.8 L1761.0,3129.1 L1761.8,3130.0 L1762.6,3134.2 L1763.4,3135.5 L1764.2,3130.3 L1765.0,3128.2 L1765.8,3131.9 L1766.5,3133.4 L1767.3,3132.2 L1768.0,3132.5 L1768.7,3131.1 L1769.4,3130.8 L1770.1,3132.0 L1770.8,3128.4 L1771.5,3132.5 L1772.2,3132.0 L1772.9,3127.5 L1773.6,3129.6 L1774.3,3131.8 L1775.0,3129.8 L1775.7,3123.5 L1776.4,3127.0 L1777.1,3128.4 L1777.8,3124.4 L1778.5,3124.3 L1779.3,3127.5 L1780.0,3130.2 L1780.7,3128.8 L1781.4,3131.3 L1782.1,3126.8 L1782.9,3124.4 L1783.7,3129.5 L1784.5,3123.8 L1785.3,3123.8 L1786.1,3128.4 L1786.9,3129.8 L1787.8,3123.5 L1788.6,3128.7 L1789.4,3123.4 L1790.2,3127.6 L1791.0,3122.9 L1791.8,3125.8 L1792.6,3125.8 L1793.4,3130.5 L1794.3,3126.7 L1795.1,3132.0 L1795.9,3122.3 L1796.7,3127.5 L1797.5,3122.2 L1798.3,3126.6 L1799.1,3126.6 L1799.9,3124.5 L1800.7,3118.5 L1801.6,3124.6 L1802.4,3128.1 L1803.2,3124.6 L1804.0,3128.5 L1804.8,3128.2 L1805.6,3118.8 L1806.4,3130.3 L1807.2,3128.8 L1808.1,3126.7 L1808.9,3125.5 L1809.7,3121.1 L1810.5,3125.5 L1811.3,3125.0 L1812.1,3122.6 L1812.9,3125.7 L1813.7,3119.4 L1814.5,3124.9 L1815.4,3122.2 L1816.2,3126.1 L1817.0,3119.6 L1817.8,3126.6 L1818.6,3117.8 L1819.4,3120.2 L1820.2,3123.5 L1821.0,3126.5 L1821.9,3118.1 L1822.7,3119.6 L1823.5,3121.5 L1824.3,3125.0 L1825.1,3126.6 L1825.9,3125.5 L1826.7,3118.0 L1827.5,3119.6 L1828.3,3123.9 L1829.2,3125.8 L1830.0,3118.1 L1830.8,3121.3 L1831.6,3116.8 L1832.4,3117.9 L1833.2,3121.3 L1834.0,3121.3 L1834.8,3120.9 L1835.6,3122.3 L1836.5,3118.6 L1837.3,3120.4 L1838.1,3118.6 L1838.9,3118.8 L1839.7,3121.7 L1840.5,3123.8 L1841.3,3122.6 L1842.1,3123.5 L1843.0,3123.5 L1843.8,3124.2 L1844.6,3122.4 L1845.4,3127.3 L1846.2,3123.4 L1847.0,3123.5 L1847.8,3127.7 L1848.6,3121.1 L1849.4,3121.2 L1850.2,3123.3 L1850.9,3122.5 L1851.7,3120.0 L1852.5,3122.9 L1853.3,3122.5 L1854.1,3124.4 L1854.9,3123.9 L1855.7,3123.0 L1856.5,3126.6 L1857.2,3124.0 L1858.0,3130.0 L1858.8,3125.9 L1859.6,3124.5 L1860.4,3129.3 L1861.2,3126.9 L1862.0,3125.5 L1862.8,3121.3 L1863.6,3126.6 L1864.4,3122.5 L1865.2,3124.6 L1866.0,3124.4 L1866.9,3120.3 L1867.7,3123.4 L1868.5,3125.9 L1869.3,3125.4 L1870.1,3130.5 L1870.9,3125.0 L1871.7,3129.5 L1872.5,3129.0 L1873.3,3127.8 L1874.2,3121.5 L1875.0,3124.6 L1875.8,3125.1 L1876.6,3123.9 L1877.4,3130.0 L1878.2,3125.2 L1879.0,3121.1 L1879.8,3124.1 L1880.6,3125.8 L1881.5,3124.3 L1882.3,3123.3 L1883.1,3121.3 L1883.9,3122.9 L1884.7,3121.0 L1885.5,3127.5 L1886.3,3119.6 L1887.1,3123.0 L1888.0,3124.3 L1888.8,3124.9 L1889.6,3123.6 L1890.4,3121.2 L1891.2,3120.7 L1892.0,3120.8 L1892.8,3120.4 L1893.6,3125.0 L1894.4,3122.2 L1895.2,3126.3 L1896.0,3123.9 L1896.7,3120.6 L1897.5,3119.2 L1898.3,3122.0 L1899.0,3123.7 L1899.8,3122.9 L1900.6,3127.6 L1901.4,3122.8 L1902.1,3129.6 L1902.9,3124.6 L1903.7,3126.7 L1904.5,3126.3 L1905.2,3124.6 L1906.0,3127.1 L1906.8,3126.7 L1907.6,3125.2 L1908.3,3126.5 L1909.1,3127.4 L1909.9,3128.5 L1910.6,3126.4 L1911.4,3127.1 L1912.2,3122.7 L1912.9,3124.3 L1913.7,3127.5 L1914.5,3127.8 L1915.2,3127.9 L1916.0,3128.0 L1916.7,3129.2 L1917.5,3128.5 L1918.3,3129.8 L1919.0,3128.3 L1919.8,3129.6 L1920.6,3128.7 L1921.3,3126.3 L1922.1,3129.2 L1922.9,3128.3 L1923.6,3129.9 L1924.3,3129.1 L1925.0,3128.9 L1925.7,3128.6 L1926.5,3123.5 L1927.2,3128.0 L1927.9,3129.5 L1928.6,3123.9 L1929.4,3125.1 L1930.1,3125.1 L1930.8,3127.5 L1931.5,3124.1 L1932.2,3126.0 L1933.0,3124.6 L1933.7,3123.6 L1934.4,3121.5 L1935.1,3124.8 L1935.8,3123.6 L1936.7,3126.9 L1937.5,3121.5 L1938.3,3121.3 L1939.1,3127.3 L1939.9,3120.5 L1940.7,3124.6 L1941.5,3125.6 L1942.3,3121.0 L1943.1,3123.1 L1944.0,3123.0 L1944.8,3119.8 L1945.6,3121.6 L1946.4,3122.2 L1947.2,3116.3 L1948.0,3117.0 L1948.8,3117.5 L1949.6,3117.1 L1950.4,3123.3 L1951.2,3117.7 L1951.9,3124.2 L1952.7,3116.6 L1953.5,3120.3 L1954.2,3117.0 L1955.0,3116.5 L1955.8,3121.1 L1956.6,3114.9 L1957.3,3120.0 L1958.1,3118.3 L1958.9,3117.4 L1959.7,3116.9 L1960.4,3115.1 L1961.2,3120.8 L1962.0,3113.2 L1962.7,3113.9 L1963.5,3114.5 L1964.3,3114.6 L1965.1,3112.0 L1965.8,3116.4 L1966.6,3113.3 L1967.4,3117.2 L1968.1,3111.5 L1968.9,3119.6 L1969.6,3118.6 L1970.4,3123.3 L1971.2,3111.8 L1971.9,3118.7 L1972.7,3115.9 L1973.5,3118.3 L1974.2,3117.0 L1975.0,3119.7 L1975.8,3119.9 L1976.5,3119.1 L1977.3,3118.6 L1978.1,3119.9 L1978.8,3117.4 L1979.6,3124.5 L1980.3,3122.1 L1981.1,3121.3 L1981.9,3123.8 L1982.6,3122.9 L1983.4,3119.7 L1984.2,3124.1 L1984.9,3120.8 L1985.7,3120.8 L1986.5,3123.7 L1987.2,3123.4 L1988.0,3120.4 L1988.7,3123.1 L1989.5,3124.0 L1990.3,3124.5 L1991.0,3121.3 L1991.7,3125.2 L1992.5,3123.5 L1993.2,3124.5 L1993.9,3122.9 L1994.6,3120.7 L1995.3,3119.7 L1996.0,3121.3 L1996.7,3120.3 L1997.4,3124.8 L1998.1,3122.4 L1998.8,3123.5 L1999.5,3122.6 L2000.2,3124.4 L2000.9,3120.5 L2001.6,3117.4 L2002.3,3119.2 L2003.0,3117.6 L2003.7,3120.3 L2004.4,3116.4 L2005.2,3120.0 L2005.9,3117.2 L2006.6,3117.5 L2007.3,3118.7 L2008.0,3117.8 L2008.8,3117.9 L2009.6,3115.5 L2010.4,3114.6 L2011.1,3107.3 L2011.9,3120.4 L2012.7,3116.9 L2013.5,3114.0 L2014.2,3118.1 L2015.0,3112.5 L2015.8,3114.7 L2016.5,3119.1 L2017.3,3117.6 L2018.1,3113.8 L2018.9,3118.2 L2019.6,3113.7 L2020.4,3114.1 L2021.2,3117.1 L2022.0,3116.2 L2022.7,3117.7 L2023.5,3115.6 L2024.3,3113.5 L2025.1,3112.1 L2025.8,3115.0 L2026.6,3111.2 L2027.4,3111.1 L2028.1,3113.6 L2028.9,3112.8 L2029.7,3111.8 L2030.5,3110.5 L2031.2,3110.0 L2032.0,3109.4 L2032.8,3108.8 L2033.6,3112.2 L2034.3,3107.1 L2035.1,3105.6 L2035.9,3113.3 L2036.6,3109.9 L2037.4,3108.1 L2038.2,3111.1 L2039.0,3108.5 L2039.7,3106.5 L2040.6,3110.2 L2041.4,3106.1 L2042.2,3108.8 L2043.0,3106.9 L2043.8,3114.1 L2044.6,3107.1 L2045.4,3107.9 L2046.2,3107.9 L2047.0,3114.7 L2047.9,3107.3 L2048.7,3105.4 L2049.5,3106.6 L2050.3,3106.5 L2051.1,3107.1 L2051.9,3108.8 L2052.7,3108.1 L2053.5,3103.3 L2054.4,3106.0 L2055.2,3103.3 L2056.0,3103.6 L2056.8,3100.9 L2057.6,3106.5 L2058.4,3109.8 L2059.2,3109.7 L2060.0,3105.5 L2060.8,3110.4 L2061.7,3109.2 L2062.5,3108.0 L2063.3,3101.5 L2064.1,3104.3 L2064.9,3105.6 L2065.7,3104.7 L2066.5,3109.4 L2067.3,3106.7 L2068.1,3106.0 L2069.0,3106.6 L2069.8,3106.6 L2070.6,3109.1 L2071.4,3106.5 L2072.2,3111.9 L2073.0,3104.6 L2073.8,3107.0 L2074.6,3105.8 L2075.5,3104.7 L2076.3,3108.9 L2077.1,3104.0 L2077.9,3107.2 L2078.7,3106.1 L2079.5,3101.4 L2080.3,3104.0 L2081.1,3103.9 L2081.9,3102.5 L2082.8,3105.7 L2083.6,3106.8 L2084.4,3111.7 L2085.2,3109.7 L2086.0,3107.5 L2086.8,3106.8 L2087.6,3106.1 L2088.4,3109.6 L2089.3,3110.2 L2090.1,3105.1 L2090.9,3108.2 L2091.7,3108.4 L2092.5,3102.8 L2093.3,3107.6 L2094.1,3109.3 L2094.9,3104.6 L2095.7,3109.3 L2096.6,3109.1 L2097.4,3108.3 L2098.2,3104.0 L2099.0,3107.6 L2099.8,3108.8 L2100.6,3105.0 L2101.4,3109.7 L2102.2,3112.6 L2103.1,3113.3 L2103.9,3107.6 L2104.7,3107.3 L2105.4,3107.0 L2106.2,3106.2 L2107.0,3106.4 L2107.8,3107.7 L2108.5,3108.2 L2109.3,3108.8 L2110.1,3106.5 L2110.9,3106.6 L2111.6,3107.8 L2112.4,3108.7 L2113.2,3108.1 L2114.0,3106.1 L2114.7,3104.6 L2115.5,3106.3 L2116.3,3105.6 L2117.0,3106.2 L2117.8,3105.5 L2118.6,3107.2 L2119.4,3106.1 L2120.1,3102.5 L2120.9,3107.6 L2121.7,3100.1 L2122.5,3108.8 L2123.3,3107.5 L2124.2,3109.9 L2125.0,3104.1 L2125.8,3108.0 L2126.6,3107.7 L2127.4,3106.0 L2128.2,3107.0 L2129.0,3106.1 L2129.8,3103.1 L2130.6,3106.9 L2131.5,3104.5 L2132.3,3103.5 L2133.1,3104.9 L2133.9,3106.2 L2134.7,3108.5 L2135.5,3107.5 L2136.3,3108.3 L2137.1,3104.1 L2137.9,3102.8 L2138.6,3106.7 L2139.4,3108.8 L2140.1,3113.2 L2140.8,3104.4 L2141.6,3105.7 L2142.3,3107.0 L2143.0,3106.9 L2143.8,3108.8 L2144.5,3104.3 L2145.3,3105.4 L2146.0,3104.9 L2146.7,3103.5 L2147.5,3104.0 L2148.2,3105.2 L2148.9,3103.7 L2149.7,3102.6 L2150.4,3104.1 L2151.2,3101.6 L2151.9,3103.6 L2152.6,3100.7 L2153.4,3101.0 L2154.2,3095.0 L2155.0,3102.3 L2155.8,3099.0 L2156.6,3097.5 L2157.4,3100.7 L2158.2,3098.5 L2159.1,3101.2 L2159.9,3096.1 L2160.7,3096.4 L2161.5,3099.7 L2162.3,3101.2 L2163.1,3099.5 L2163.9,3102.9 L2164.7,3102.7 L2165.6,3098.8 L2166.4,3100.9 L2167.2,3096.5 L2168.0,3099.2 L2168.8,3100.1 L2169.6,3099.0 L2170.4,3099.9 L2171.2,3099.7 L2172.0,3098.6 L2172.9,3100.3 L2173.6,3095.8 L2174.3,3100.9 L2175.0,3104.4 L2175.7,3104.9 L2176.5,3106.1 L2177.2,3106.5 L2177.9,3102.3 L2178.6,3107.6 L2179.4,3106.0" stroke="#ff8000"/>
<path d="M435.7,3335.1 L435.9,3332.9 L436.2,3331.8 L436.4,3330.8 L436.6,3330.5 L436.9,3330.0 L437.1,3330.4 L437.3,3329.2 L437.6,3329.5 L437.8,3327.6 L438.0,3325.9 L438.3,3327.1 L438.5,3326.3 L438.7,3324.9 L439.0,3324.4 L439.2,3324.3 L439.4,3324.2 L439.7,3322.2 L439.9,3321.9 L440.1,3319.7 L440.4,3318.6 L440.6,3319.4 L440.9,3317.4 L441.3,3316.6 L441.6,3317.7 L442.0,3317.2 L442.3,3315.5 L442.7,3316.0 L443.0,3315.4 L443.4,3311.7 L443.7,3311.9 L444.1,3310.7 L444.4,3311.2 L444.8,3311.7 L445.1,3308.5 L445.5,3313.2 L446.0,3311.2 L446.5,3309.5 L447.0,3307.7 L447.5,3306.9 L448.0,3308.2 L448.5,3307.2 L449.0,3306.5 L449.5,3304.8 L450.0,3306.0 L450.4,3304.4 L450.9,3301.9 L451.4,3303.0 L451.9,3303.2 L452.5,3298.7 L453.0,3302.2 L453.5,3299.9 L454.0,3299.3 L454.5,3299.1 L455.0,3299.9 L455.5,3298.1 L456.0,3296.4 L456.6,3295.6 L457.1,3296.2 L457.6,3295.4 L458.1,3291.7 L458.6,3295.3 L459.1,3291.2 L459.6,3294.4 L460.2,3289.7 L460.7,3288.5 L461.2,3288.7 L461.7,3285.8 L462.3,3286.7 L462.9,3288.1 L463.5,3287.4 L464.1,3288.8 L464.7,3285.5 L465.3,3286.7 L465.9,3282.4 L466.6,3282.7 L467.2,3282.5 L467.8,3283.4 L468.4,3285.1 L469.0,3283.0 L469.6,3283.0 L470.2,3285.1 L470.8,3284.8 L471.4,3283.7 L472.2,3283.5 L472.9,3279.3 L473.7,3278.7 L474.4,3278.0 L475.2,3277.0 L475.9,3280.5 L476.7,3278.0 L477.4,3279.7 L478.2,3282.3 L478.9,3281.5 L479.7,3281.7 L480.4,3284.6 L481.2,3282.5 L481.8,3281.2 L482.5,3277.2 L483.1,3279.4 L483.8,3271.6 L484.4,3276.6 L485.1,3277.4 L485.7,3276.5 L486.4,3275.6 L487.0,3274.5 L487.7,3268.7 L488.3,3274.2 L489.0,3274.8 L489.6,3269.7 L490.3,3269.9 L490.9,3272.1 L491.6,3272.9 L492.2,3272.9 L492.9,3271.9 L493.5,3267.0 L494.2,3270.4 L494.9,3268.1 L495.6,3264.8 L496.3,3271.8 L497.0,3268.5 L497.8,3272.4 L498.5,3266.5 L499.2,3259.7 L499.9,3267.8 L500.6,3262.6 L501.4,3264.7 L502.1,3264.1 L502.8,3264.9 L503.5,3265.8 L504.3,3263.9 L505.0,3265.2 L505.7,3263.4 L506.4,3267.5 L507.1,3263.9 L507.9,3264.3 L508.7,3260.4 L509.4,3257.9 L510.2,3259.7 L511.0,3261.3 L511.7,3267.2 L512.5,3263.4 L513.3,3264.4 L514.0,3257.7 L514.8,3260.3 L515.5,3259.8 L516.3,3262.6 L517.1,3260.9 L517.8,3261.0 L518.6,3256.8 L519.4,3260.8 L520.1,3258.9 L520.9,3259.8 L521.8,3259.8 L522.6,3255.1 L523.4,3254.6 L524.2,3256.9 L525.0,3257.4 L525.8,3259.6 L526.6,3253.3 L527.4,3254.7 L528.2,3255.1 L529.1,3252.9 L529.9,3257.9 L530.7,3253.9 L531.5,3254.0 L532.3,3252.7 L533.1,3257.1 L533.9,3250.2 L534.6,3252.1 L535.4,3252.9 L536.2,3253.2 L536.9,3253.5 L537.7,3253.5 L538.5,3252.4 L539.2,3257.7 L540.0,3257.1 L540.8,3250.7 L541.5,3250.9 L542.3,3253.6 L543.0,3254.8 L543.8,3256.0 L544.6,3248.1 L545.3,3253.7 L546.1,3251.0 L546.8,3254.6 L547.5,3252.7 L548.3,3252.8 L549.0,3253.0 L549.7,3247.0 L550.4,3250.2 L551.2,3248.9 L551.9,3248.9 L552.6,3246.8 L553.3,3250.3 L554.0,3248.3 L554.8,3247.9 L555.5,3247.9 L556.2,3248.2 L556.9,3247.5 L557.6,3243.2 L558.4,3248.9 L559.1,3249.9 L559.9,3246.2 L560.7,3244.2 L561.5,3243.3 L562.3,3242.6 L563.1,3246.5 L564.0,3242.4 L564.8,3251.0 L565.6,3251.4 L566.4,3244.7 L567.2,3245.6 L568.0,3246.2 L568.8,3249.3 L569.6,3245.1 L570.5,3248.7 L571.3,3249.3 L572.1,3244.3 L572.8,3248.8 L573.6,3248.5 L574.4,3248.0 L575.1,3242.8 L575.9,3249.2 L576.7,3246.9 L577.4,3248.9 L578.2,3244.8 L579.0,3251.8 L579.7,3247.7 L580.5,3247.3 L581.2,3245.1 L582.0,3241.1 L582.8,3245.2 L583.5,3239.5 L584.3,3246.4 L585.1,3239.8 L585.8,3246.0 L586.6,3243.0 L587.4,3244.1 L588.1,3242.5 L588.9,3246.2 L589.6,3239.0 L590.4,3239.6 L591.2,3245.5 L591.9,3239.7 L592.7,3241.3 L593.5,3242.5 L594.2,3241.2 L595.0,3240.6 L595.8,3244.7 L596.5,3239.8 L597.3,3240.2 L598.1,3243.5 L598.9,3238.9 L599.7,3242.1 L600.5,3243.4 L601.3,3238.2 L602.1,3240.7 L602.9,3242.5 L603.7,3239.3 L604.5,3240.6 L605.4,3241.7 L606.2,3238.7 L607.0,3240.0 L607.8,3235.9 L608.6,3235.1 L609.4,3238.6 L610.2,3240.8 L611.0,3242.7 L611.7,3237.8 L612.4,3237.0 L613.1,3238.8 L613.8,3237.9 L614.5,3240.8 L615.1,3240.5 L615.8,3236.9 L616.5,3237.0 L617.2,3238.1 L617.9,3240.0 L618.6,3236.1 L619.2,3239.3 L619.9,3233.6 L620.6,3229.6 L621.3,3232.8 L622.0,3232.1 L622.7,3235.6 L623.3,3229.1 L624.0,3232.1 L624.7,3228.1 L625.5,3230.2 L626.2,3229.7 L626.9,3234.7 L627.6,3227.8 L628.4,3230.5 L629.1,3230.6 L629.8,3226.6 L630.5,3230.1 L631.2,3227.7 L632.0,3232.3 L632.7,3229.6 L633.4,3229.8 L634.1,3228.8 L634.8,3226.4 L635.6,3224.8 L636.3,3230.4 L637.0,3225.4 L637.8,3225.1 L638.6,3225.9 L639.4,3232.0 L640.3,3225.3 L641.1,3227.7 L641.9,3228.6 L642.7,3224.3 L643.5,3222.5 L644.3,3226.7 L645.1,3225.5 L645.9,3224.0 L646.8,3225.2 L647.6,3226.6 L648.4,3224.6 L649.2,3218.4 L650.0,3224.8 L650.8,3226.3 L651.5,3221.5 L652.3,3224.6 L653.1,3225.4 L653.8,3226.3 L654.6,3221.6 L655.3,3223.1 L656.1,3222.8 L656.9,3225.7 L657.6,3221.2 L658.4,3217.6 L659.2,3219.4 L659.9,3218.3 L660.7,3221.0 L661.5,3221.0 L662.2,3222.5 L663.0,3219.0 L663.8,3222.2 L664.5,3219.7 L665.3,3221.9 L666.0,3214.7 L666.8,3213.2 L667.6,3217.7 L668.3,3215.6 L669.1,3216.8 L669.9,3218.9 L670.6,3218.9 L671.4,3220.2 L672.2,3218.3 L672.9,3218.1 L673.7,3220.0 L674.4,3212.0 L675.2,3219.8 L676.0,3216.6 L676.7,3216.4 L677.5,3221.6 L678.3,3221.5 L679.0,3216.7 L679.8,3221.8 L680.6,3218.0 L681.3,3218.3 L682.1,3213.0 L682.8,3219.8 L683.6,3220.1 L684.4,3220.5 L685.1,3216.9 L685.9,3217.0 L686.7,3215.1 L687.4,3213.4 L688.2,3214.5 L689.0,3214.2 L689.7,3212.7 L690.5,3212.1 L691.3,3215.8 L692.0,3214.9 L692.8,3209.8 L693.5,3211.6 L694.3,3213.3 L695.1,3209.5 L695.8,3214.1 L696.6,3209.5 L697.4,3210.7 L698.1,3211.2 L698.9,3215.7 L699.7,3209.8 L700.4,3211.8 L701.2,3212.3 L701.9,3211.0 L702.8,3211.9 L703.6,3210.1 L704.4,3210.4 L705.2,3212.5 L706.0,3208.7 L706.8,3211.6 L707.6,3210.4 L708.4,3212.4 L709.3,3213.1 L710.1,3211.5 L710.9,3212.9 L711.7,3211.0 L712.5,3208.7 L713.3,3209.2 L714.1,3211.8 L714.9,3209.0 L715.7,3213.7 L716.5,3207.5 L717.2,3210.3 L718.0,3210.9 L718.8,3209.9 L719.5,3213.3 L720.3,3215.3 L721.0,3213.4 L721.8,3212.9 L722.6,3209.6 L723.3,3206.8 L724.1,3211.0 L724.9,3210.7 L725.6,3206.5 L726.4,3205.0 L727.2,3207.3 L727.9,3206.7 L728.7,3205.1 L729.5,3208.0 L730.4,3215.7 L731.2,3209.8 L732.0,3214.3 L732.8,3211.8 L733.6,3209.9 L734.4,3210.5 L735.2,3213.1 L736.0,3216.3 L736.9,3212.1 L737.7,3210.4 L738.5,3213.8 L739.3,3209.6 L740.1,3211.4 L740.9,3210.3 L741.7,3213.3 L742.4,3209.9 L743.2,3210.3 L744.0,3204.2 L744.7,3205.3 L745.5,3204.6 L746.3,3206.3 L747.0,3208.2 L747.8,3206.9 L748.5,3207.1 L749.3,3209.8 L750.1,3207.5 L750.8,3204.8 L751.6,3206.4 L752.4,3205.7 L753.1,3204.6 L753.9,3207.5 L754.7,3200.8 L755.4,3211.1 L756.2,3207.6 L757.0,3203.4 L757.7,3207.9 L758.5,3205.4 L759.2,3202.6 L760.0,3203.1 L760.8,3201.2 L761.5,3201.1 L762.3,3201.3 L763.1,3200.2 L763.8,3200.8 L764.6,3205.1 L765.4,3194.0 L766.1,3195.5 L766.9,3201.0 L767.6,3198.4 L768.3,3200.3 L769.0,3196.4 L769.8,3200.0 L770.5,3195.8 L771.2,3198.7 L771.9,3198.8 L772.7,3197.5 L773.4,3195.2 L774.1,3194.0 L774.8,3196.7 L775.5,3198.4 L776.3,3197.9 L777.0,3197.8 L777.7,3195.0 L778.4,3196.8 L779.1,3194.3 L779.9,3194.3 L780.7,3196.1 L781.5,3196.8 L782.3,3191.9 L783.1,3196.2 L783.9,3190.4 L784.7,3195.0 L785.6,3192.3 L786.4,3196.2 L787.2,3190.5 L788.0,3192.4 L788.8,3196.4 L789.6,3193.3 L790.4,3194.4 L791.2,3195.6 L792.0,3196.8 L792.9,3192.1 L793.6,3193.2 L794.4,3190.2 L795.1,3189.1 L795.9,3194.0 L796.7,3186.6 L797.4,3190.3 L798.2,3194.4 L799.0,3189.7 L799.7,3189.8 L800.5,3191.7 L801.3,3191.3 L802.0,3195.0 L802.8,3188.2 L803.6,3191.9 L804.3,3190.2 L805.1,3190.8 L805.8,3188.0 L806.7,3188.8 L807.5,3184.7 L808.3,3189.3 L809.1,3190.1 L809.9,3191.3 L810.7,3188.1 L811.5,3187.4 L812.3,3190.9 L813.1,3189.2 L814.0,3188.2 L814.8,3189.2 L815.6,3189.1 L816.4,3190.2 L817.2,3191.7 L818.0,3191.8 L818.8,3189.1 L819.6,3192.2 L820.4,3188.3 L821.1,3187.2 L821.9,3189.7 L822.7,3190.0 L823.4,3186.4 L824.2,3188.8 L824.9,3187.5 L825.7,3186.1 L826.5,3189.7 L827.2,3184.6 L828.0,3185.2 L828.8,3189.9 L829.5,3186.2 L830.3,3188.0 L831.1,3185.2 L831.8,3187.6 L832.6,3188.0 L833.3,3184.3 L834.1,3186.5 L834.9,3183.3 L835.6,3185.1 L836.4,3186.0 L837.2,3183.6 L837.9,3186.1 L838.7,3185.8 L839.5,3184.4 L840.2,3187.4 L841.0,3185.9 L841.7,3182.0 L842.5,3183.2 L843.3,3180.1 L844.0,3181.7 L844.8,3179.0 L845.6,3178.5 L846.3,3182.0 L847.1,3180.0 L847.9,3180.5 L848.6,3176.3 L849.4,3179.5 L850.2,3180.6 L850.9,3173.9 L851.7,3184.6 L852.4,3183.2 L853.2,3177.3 L854.0,3175.0 L854.7,3175.2 L855.5,3177.1 L856.3,3179.7 L857.0,3180.2 L857.8,3181.0 L858.6,3179.6 L859.4,3180.6 L860.2,3180.0 L861.0,3174.5 L861.9,3179.5 L862.7,3178.3 L863.5,3178.5 L864.3,3176.3 L865.1,3177.4 L865.9,3180.9 L866.7,3179.5 L867.5,3180.4 L868.3,3177.1 L869.2,3180.6 L870.0,3182.3 L870.8,3176.6 L871.5,3177.6 L872.3,3175.2 L873.1,3179.9 L873.8,3180.6 L874.6,3183.7 L875.4,3180.9 L876.1,3177.5 L876.9,3182.4 L877.7,3178.8 L878.4,3173.1 L879.2,3176.2 L879.9,3179.8 L880.7,3176.1 L881.5,3174.0 L882.2,3176.1 L883.0,3172.6 L883.8,3174.5 L884.5,3174.4 L885.2,3176.5 L886.0,3178.7 L886.7,3170.4 L887.4,3169.8 L888.2,3166.2 L888.9,3168.0 L889.6,3171.3 L890.4,3169.8 L891.1,3173.8 L891.8,3169.4 L892.6,3169.7 L893.3,3172.9 L894.0,3171.8 L894.8,3171.5 L895.5,3170.1 L896.2,3171.0 L897.0,3173.3 L897.9,3178.8 L898.7,3173.7 L899.5,3169.5 L900.3,3161.5 L901.1,3168.5 L901.9,3166.3 L902.7,3164.4 L903.5,3166.4 L904.4,3165.7 L905.2,3164.2 L906.0,3167.5 L906.8,3167.5 L907.6,3165.2 L908.4,3166.7 L909.2,3163.3 L910.0,3164.4 L910.8,3173.9 L911.7,3169.3 L912.5,3165.8 L913.2,3171.3 L914.0,3171.2 L914.8,3166.8 L915.6,3161.7 L916.3,3170.5 L917.1,3169.1 L917.9,3163.5 L918.7,3160.8 L919.4,3160.0 L920.2,3168.3 L921.0,3164.7 L921.7,3164.3 L922.5,3165.0 L923.3,3162.7 L924.1,3161.7 L924.8,3161.2 L925.6,3162.5 L926.4,3160.9 L927.2,3160.6 L927.9,3163.6 L928.7,3162.1 L929.5,3159.8 L930.2,3162.0 L931.0,3163.8 L931.8,3164.8 L932.6,3162.6 L933.3,3160.4 L934.1,3157.1 L934.9,3163.7 L935.7,3163.8 L936.4,3160.5 L937.2,3162.1 L938.0,3155.3 L938.8,3160.0 L939.5,3159.1 L940.3,3160.0 L941.1,3159.4 L941.8,3161.3 L942.6,3157.5 L943.4,3159.8 L944.2,3160.4 L944.9,3162.5 L945.7,3159.4 L946.5,3156.8 L947.3,3160.5 L948.0,3157.1 L948.8,3158.5 L949.6,3160.5 L950.3,3155.2 L951.1,3155.9 L951.9,3159.9 L952.7,3159.4 L953.4,3156.9 L954.2,3151.7 L955.0,3160.5 L955.8,3154.2 L956.5,3155.0 L957.3,3155.2 L958.1,3150.4 L958.8,3154.3 L959.6,3152.5 L960.4,3156.4 L961.2,3153.6 L961.9,3152.9 L962.7,3148.7 L963.5,3155.9 L964.3,3154.9 L965.0,3154.2 L965.8,3155.2 L966.6,3160.0 L967.4,3158.5 L968.1,3153.5 L968.9,3157.7 L969.7,3158.0 L970.4,3156.6 L971.2,3157.4 L972.0,3156.7 L972.8,3155.4 L973.5,3159.6 L974.3,3159.8 L975.1,3163.7 L975.9,3160.5 L976.6,3162.2 L977.4,3158.9 L978.1,3161.2 L978.8,3158.6 L979.5,3154.8 L980.2,3159.1 L980.9,3160.4 L981.6,3158.4 L982.3,3160.2 L983.0,3159.4 L983.8,3155.5 L984.5,3157.1 L985.2,3158.9 L985.9,3158.1 L986.6,3159.5 L987.3,3153.9 L988.0,3154.7 L988.7,3153.9 L989.4,3156.2 L990.1,3157.8 L990.8,3156.9 L991.5,3157.2 L992.2,3156.6 L992.9,3157.9 L993.6,3157.4 L994.4,3151.6 L995.1,3150.0 L995.9,3154.9 L996.6,3148.5 L997.3,3152.8 L998.1,3152.0 L998.8,3149.2 L999.5,3150.1 L1000.3,3147.0 L1001.0,3152.9 L1001.8,3151.8 L1002.5,3146.1 L1003.2,3149.6 L1004.0,3145.0 L1004.7,3148.2 L1005.4,3146.3 L1006.2,3143.8 L1006.9,3146.4 L1007.7,3147.8 L1008.4,3144.1 L1009.1,3148.4 L1009.9,3142.8 L1010.7,3139.6 L1011.5,3145.2 L1012.3,3143.4 L1013.1,3144.1 L1013.9,3145.3 L1014.7,3139.3 L1015.6,3141.7 L1016.4,3141.8 L1017.2,3142.8 L1018.0,3145.8 L1018.8,3147.5 L1019.6,3148.9 L1020.4,3142.9 L1021.2,3149.9 L1022.0,3147.5 L1022.9,3145.4 L1023.7,3147.1 L1024.5,3145.0 L1025.3,3150.7 L1026.1,3150.9 L1026.9,3150.0 L1027.7,3151.9 L1028.5,3146.2 L1029.4,3149.3 L1030.2,3151.1 L1031.0,3147.0 L1031.8,3152.5 L1032.6,3147.6 L1033.4,3149.5 L1034.2,3148.0 L1035.0,3146.5 L1035.8,3151.2 L1036.7,3146.5 L1037.5,3143.9 L1038.3,3144.8 L1039.1,3146.5 L1039.9,3149.9 L1040.7,3148.6 L1041.5,3143.2 L1042.3,3149.2 L1043.1,3147.1 L1043.8,3145.3 L1044.6,3148.7 L1045.3,3148.1 L1046.0,3146.0 L1046.8,3148.7 L1047.5,3146.4 L1048.2,3144.5 L1049.0,3146.2 L1049.7,3146.6 L1050.5,3143.1 L1051.2,3142.3 L1051.9,3145.0 L1052.7,3145.6 L1053.4,3144.8 L1054.1,3142.8 L1054.9,3141.1 L1055.6,3142.9 L1056.4,3142.6 L1057.1,3141.1 L1057.8,3136.6 L1058.6,3139.5 L1059.3,3142.6 L1060.1,3138.1 L1060.9,3136.7 L1061.7,3139.5 L1062.4,3137.7 L1063.2,3138.3 L1064.0,3138.2 L1064.8,3135.9 L1065.5,3136.0 L1066.3,3135.8 L1067.1,3139.9 L1067.8,3133.0 L1068.6,3134.9 L1069.4,3136.6 L1070.2,3136.7 L1070.9,3137.5 L1071.7,3133.2 L1072.5,3135.1 L1073.3,3131.3 L1074.0,3132.9 L1074.8,3133.7 L1075.6,3134.0 L1076.4,3131.8 L1077.1,3131.7 L1077.9,3134.7 L1078.7,3136.0 L1079.4,3130.2 L1080.2,3131.8 L1081.0,3131.1 L1081.8,3130.9 L1082.5,3134.4 L1083.3,3130.5 L1084.1,3131.8 L1084.9,3130.6 L1085.6,3134.2 L1086.4,3130.4 L1087.2,3132.2 L1087.9,3130.7 L1088.7,3133.5 L1089.5,3131.7 L1090.3,3130.9 L1091.0,3129.2 L1091.8,3125.6 L1092.6,3132.1 L1093.4,3131.8 L1094.1,3131.7 L1094.9,3131.1 L1095.7,3132.1 L1096.5,3128.9 L1097.2,3128.6 L1098.0,3134.3 L1098.8,3131.0 L1099.5,3127.6 L1100.3,3130.1 L1101.1,3131.4 L1101.9,3131.6 L1102.6,3131.1 L1103.4,3129.7 L1104.2,3131.8 L1105.0,3130.5 L1105.7,3129.1 L1106.5,3130.1 L1107.3,3122.4 L1108.1,3131.0 L1108.9,3124.4 L1109.7,3130.1 L1110.5,3130.1 L1111.3,3127.8 L1112.1,3130.0 L1113.0,3127.5 L1113.8,3128.7 L1114.6,3127.6 L1115.4,3128.7 L1116.2,3125.2 L1117.0,3128.3 L1117.8,3129.6 L1118.6,3133.2 L1119.4,3128.4 L1120.3,3131.2 L1121.1,3126.0 L1121.9,3125.2 L1122.7,3128.4 L1123.5,3131.2 L1124.3,3129.5 L1125.1,3128.7 L1125.8,3128.3 L1126.6,3129.4 L1127.4,3128.5 L1128.1,3129.7 L1128.9,3129.1 L1129.7,3129.3 L1130.5,3128.8 L1131.2,3126.9 L1132.0,3122.4 L1132.8,3131.3 L1133.6,3128.9 L1134.3,3126.1 L1135.1,3122.8 L1135.9,3128.6 L1136.6,3126.5 L1137.4,3123.3 L1138.2,3121.0 L1139.0,3123.6 L1139.7,3122.2 L1140.5,3124.9 L1141.3,3124.4 L1142.1,3122.9 L1142.8,3126.1 L1143.6,3128.4 L1144.4,3124.1 L1145.2,3124.8 L1145.9,3127.7 L1146.7,3128.3 L1147.5,3126.3 L1148.2,3129.2 L1149.0,3123.3 L1149.8,3127.3 L1150.6,3121.4 L1151.3,3126.1 L1152.1,3124.4 L1152.9,3122.7 L1153.7,3121.0 L1154.4,3125.3 L1155.2,3123.9 L1156.0,3124.0 L1156.7,3123.1 L1157.5,3121.4 L1158.3,3124.3 L1159.1,3126.5 L1159.8,3127.1 L1160.6,3124.8 L1161.4,3121.9 L1162.2,3120.9 L1162.9,3122.5 L1163.7,3125.1 L1164.5,3121.5 L1165.3,3123.2 L1166.0,3119.0 L1166.8,3122.0 L1167.6,3118.8 L1168.3,3121.9 L1169.1,3123.5 L1169.9,3119.4 L1170.7,3119.5 L1171.4,3119.7 L1172.2,3117.2 L1173.0,3124.1 L1173.8,3120.1 L1174.6,3118.6 L1175.5,3123.8 L1176.3,3119.7 L1177.1,3121.5 L1177.9,3120.5 L1178.7,3121.2 L1179.5,3126.2 L1180.3,3122.9 L1181.1,3124.0 L1181.9,3124.5 L1182.8,3122.9 L1183.6,3120.9 L1184.4,3120.6 L1185.2,3119.2 L1186.0,3118.7 L1186.8,3118.9 L1187.6,3120.3 L1188.4,3122.7 L1189.1,3120.5 L1189.8,3120.2 L1190.5,3116.9 L1191.1,3122.7 L1191.8,3119.6 L1192.5,3119.0 L1193.2,3117.8 L1193.9,3121.0 L1194.5,3117.4 L1195.2,3120.3 L1195.9,3115.3 L1196.6,3111.9 L1197.2,3114.9 L1197.9,3112.5 L1198.6,3114.9 L1199.3,3113.6 L1199.9,3118.9 L1200.6,3117.0 L1201.3,3116.1 L1202.0,3112.5 L1202.6,3112.7 L1203.3,3113.4 L1204.0,3111.9 L1204.7,3112.1 L1205.5,3112.2 L1206.3,3116.7 L1207.1,3109.9 L1207.9,3113.0 L1208.7,3110.2 L1209.5,3112.2 L1210.4,3112.9 L1211.2,3110.6 L1212.0,3111.2 L1212.8,3112.9 L1213.6,3111.5 L1214.4,3117.8 L1215.2,3114.4 L1216.0,3115.3 L1216.9,3113.5 L1217.7,3109.3 L1218.5,3117.4 L1219.3,3113.4 L1220.1,3111.5 L1220.9,3116.3 L1221.7,3112.7 L1222.5,3112.6 L1223.2,3112.5 L1224.0,3114.4 L1224.8,3113.8 L1225.5,3112.4 L1226.3,3110.8 L1227.1,3106.6 L1227.9,3108.8 L1228.6,3115.8 L1229.4,3108.7 L1230.2,3111.1 L1231.0,3106.9 L1231.7,3110.6 L1232.5,3111.3 L1233.3,3108.4 L1234.1,3105.6 L1234.8,3110.6 L1235.6,3112.6 L1236.4,3107.6 L1237.1,3112.9 L1238.0,3105.0 L1238.8,3104.3 L1239.6,3110.1 L1240.4,3111.3 L1241.2,3109.7 L1242.0,3104.9 L1242.8,3102.6 L1243.6,3106.6 L1244.4,3103.7 L1245.3,3103.9 L1246.1,3104.6 L1246.9,3106.9 L1247.7,3109.2 L1248.5,3103.1 L1249.3,3109.9 L1250.1,3111.3 L1250.9,3107.9 L1251.8,3104.6 L1252.6,3111.1 L1253.4,3107.4 L1254.1,3107.3 L1254.9,3106.1 L1255.7,3108.4 L1256.5,3110.1 L1257.2,3107.8 L1258.0,3107.4 L1258.8,3108.8 L1259.6,3106.5 L1260.3,3104.4 L1261.1,3108.0 L1261.9,3109.7 L1262.7,3102.9 L1263.4,3104.9 L1264.2,3109.0 L1265.0,3108.1 L1265.7,3103.3 L1266.5,3105.9 L1267.3,3102.6 L1268.1,3104.9 L1268.8,3098.9 L1269.6,3103.9 L1270.4,3104.0 L1271.2,3101.1 L1271.9,3099.5 L1272.7,3100.4 L1273.5,3100.9 L1274.2,3100.5 L1275.0,3099.1 L1275.8,3102.5 L1276.6,3100.9 L1277.3,3099.8 L1278.1,3105.3 L1278.9,3103.3 L1279.7,3102.8 L1280.4,3101.7 L1281.2,3103.7 L1282.0,3100.7 L1282.8,3102.0 L1283.5,3100.6 L1284.3,3100.9 L1285.1,3104.6 L1285.8,3098.0 L1286.6,3104.1 L1287.4,3097.5 L1288.2,3094.1 L1288.9,3092.8 L1289.7,3100.6 L1290.5,3094.1 L1291.3,3096.0 L1292.0,3091.3 L1292.8,3097.3 L1293.6,3090.2 L1294.3,3096.7 L1295.1,3093.5 L1295.9,3095.8 L1296.7,3096.9 L1297.4,3093.4 L1298.2,3099.1 L1299.0,3102.7 L1299.8,3096.5 L1300.5,3098.8 L1301.3,3096.3 L1302.1,3093.4 L1302.9,3097.7 L1303.7,3097.8 L1304.5,3094.5 L1305.3,3094.6 L1306.1,3094.0 L1306.9,3096.1 L1307.8,3088.8 L1308.6,3096.1 L1309.4,3094.1 L1310.2,3089.9 L1311.0,3094.9 L1311.8,3093.8 L1312.6,3096.1 L1313.4,3092.8 L1314.3,3093.7 L1315.1,3090.4 L1315.9,3091.9 L1316.7,3094.7 L1317.5,3097.7 L1318.3,3092.5 L1319.1,3091.9 L1319.9,3091.3 L1320.6,3089.7 L1321.4,3096.8 L1322.2,3093.8 L1322.9,3090.0 L1323.7,3089.4 L1324.5,3090.2 L1325.3,3090.7 L1326.0,3090.3 L1326.8,3092.2 L1327.6,3088.0 L1328.4,3094.4 L1329.1,3092.2 L1329.9,3094.1 L1330.7,3092.8 L1331.5,3090.6 L1332.2,3092.1 L1333.0,3087.9 L1333.8,3090.3 L1334.5,3087.3 L1335.3,3087.9 L1336.1,3087.8 L1336.9,3087.5 L1337.6,3085.9 L1338.4,3089.3 L1339.2,3083.8 L1340.0,3089.0 L1340.7,3090.6 L1341.5,3089.5 L1342.3,3095.2 L1343.0,3089.5 L1343.8,3093.2 L1344.6,3090.1 L1345.4,3088.9 L1346.1,3083.7 L1346.9,3088.3 L1347.7,3085.0 L1348.5,3085.0 L1349.2,3084.9 L1350.0,3086.2 L1350.8,3087.1 L1351.6,3088.2 L1352.4,3088.9 L1353.2,3086.6 L1354.0,3091.1 L1354.8,3084.2 L1355.6,3086.8 L1356.5,3088.7 L1357.3,3091.7 L1358.1,3091.8 L1358.9,3089.3 L1359.7,3088.7 L1360.5,3087.7 L1361.3,3089.6 L1362.1,3090.0 L1363.0,3088.8 L1363.8,3088.8 L1364.6,3086.0 L1365.4,3090.2 L1366.2,3088.1 L1367.0,3087.3 L1367.8,3085.0 L1368.5,3089.7 L1369.3,3086.9 L1370.1,3090.2 L1370.9,3089.5 L1371.6,3092.4 L1372.4,3092.1 L1373.2,3085.4 L1373.9,3093.8 L1374.7,3097.3 L1375.5,3092.9 L1376.2,3090.8 L1377.0,3089.6 L1377.9,3088.7 L1378.7,3088.2 L1379.5,3094.3 L1380.3,3091.5 L1381.1,3087.2 L1381.9,3086.0 L1382.7,3086.0 L1383.5,3086.0 L1384.4,3087.6 L1385.2,3088.3 L1386.0,3088.9 L1386.8,3092.7 L1387.6,3089.3 L1388.4,3089.1 L1389.2,3089.3 L1390.0,3085.6 L1390.8,3088.7 L1391.7,3089.0 L1392.5,3089.8 L1393.3,3086.6 L1394.1,3089.8 L1394.9,3088.5 L1395.7,3089.7 L1396.5,3088.1 L1397.3,3090.2 L1398.1,3096.3 L1399.0,3090.0 L1399.8,3092.2 L1400.6,3087.1 L1401.4,3086.3 L1402.2,3087.6 L1403.0,3091.5 L1403.8,3088.0 L1404.6,3092.5 L1405.5,3093.4 L1406.3,3091.3 L1407.1,3093.1 L1407.9,3084.5 L1408.7,3088.7 L1409.4,3089.3 L1410.2,3086.2 L1410.9,3086.8 L1411.7,3085.4 L1412.4,3090.1 L1413.1,3092.2 L1413.9,3082.9 L1414.6,3082.0 L1415.3,3085.1 L1416.1,3083.7 L1416.8,3084.6 L1417.6,3079.9 L1418.3,3083.3 L1419.0,3080.5 L1419.8,3085.2 L1420.5,3085.4 L1421.2,3083.5 L1422.0,3083.8 L1422.7,3083.6 L1423.5,3084.7 L1424.2,3084.4 L1424.9,3082.6 L1425.7,3079.1 L1426.6,3084.0 L1427.4,3080.9 L1428.2,3080.8 L1429.0,3084.9 L1429.8,3084.7 L1430.6,3078.2 L1431.4,3081.6 L1432.2,3083.4 L1433.1,3083.1 L1433.9,3083.5 L1434.7,3081.8 L1435.5,3081.0 L1436.3,3082.3 L1437.1,3083.4 L1437.9,3081.4 L1438.7,3081.9 L1439.5,3078.3 L1440.4,3080.2 L1441.2,3077.1 L1441.9,3077.3 L1442.7,3076.5 L1443.5,3079.8 L1444.3,3080.7 L1445.0,3078.0 L1445.8,3078.8 L1446.6,3080.4 L1447.4,3074.1 L1448.1,3078.5 L1448.9,3077.9 L1449.7,3080.2 L1450.4,3079.8 L1451.2,3076.5 L1452.0,3079.9 L1452.8,3078.6 L1453.5,3075.4 L1454.3,3077.7 L1455.1,3078.9 L1455.9,3076.7 L1456.6,3079.6 L1457.4,3080.1 L1458.1,3076.1 L1458.9,3078.2 L1459.6,3080.0 L1460.4,3079.9 L1461.1,3079.1 L1461.8,3074.4 L1462.6,3070.3 L1463.3,3072.7 L1464.0,3075.8 L1464.8,3076.8 L1465.5,3072.6 L1466.3,3075.9 L1467.0,3072.5 L1467.7,3071.9 L1468.5,3075.2 L1469.2,3073.9 L1469.9,3069.6 L1470.7,3073.8 L1471.4,3071.2 L1472.2,3068.0 L1472.9,3069.5 L1473.6,3068.5 L1474.4,3072.2 L1475.3,3073.4 L1476.1,3071.3 L1476.9,3069.9 L1477.7,3071.9 L1478.5,3073.7 L1479.3,3072.8 L1480.1,3068.8 L1480.9,3065.6 L1481.8,3066.1 L1482.6,3070.3 L1483.4,3069.0 L1484.2,3071.4 L1485.0,3069.6 L1485.8,3067.7 L1486.6,3070.9 L1487.4,3066.1 L1488.2,3067.1 L1489.1,3066.2 L1489.9,3066.9 L1490.5,3066.5 L1491.2,3069.4 L1491.9,3071.6 L1492.6,3063.9 L1493.3,3069.5 L1493.9,3066.2 L1494.6,3067.2 L1495.3,3067.6 L1496.0,3064.3 L1496.6,3062.7 L1497.3,3061.1 L1498.0,3065.0 L1498.7,3066.1 L1499.3,3062.6 L1500.0,3064.3 L1500.7,3060.8 L1501.4,3061.4 L1502.0,3059.1 L1502.7,3059.5 L1503.4,3059.6 L1504.1,3057.9 L1504.8,3059.1 L1505.4,3060.1 L1506.1,3057.4 L1506.9,3060.9 L1507.7,3060.2 L1508.5,3054.8 L1509.4,3057.8 L1510.2,3057.0 L1511.0,3055.1 L1511.8,3055.5 L1512.6,3057.4 L1513.4,3061.2 L1514.2,3057.5 L1515.0,3057.4 L1515.8,3061.2 L1516.7,3060.0 L1517.5,3060.8 L1518.3,3056.9 L1519.1,3056.6 L1519.9,3056.4 L1520.7,3058.0 L1521.5,3058.6 L1522.3,3057.4 L1523.1,3062.6 L1524.0,3058.0 L1524.8,3058.0 L1525.6,3059.4 L1526.4,3057.0 L1527.2,3058.8 L1528.0,3063.2 L1528.8,3061.2 L1529.6,3062.3 L1530.5,3063.0 L1531.3,3065.0 L1532.1,3063.4 L1532.9,3064.6 L1533.7,3065.8 L1534.5,3063.4 L1535.3,3064.4 L1536.1,3066.0 L1536.9,3065.7 L1537.8,3065.4 L1538.6,3064.7 L1539.4,3065.7 L1540.2,3067.1 L1541.0,3067.0 L1541.8,3062.7 L1542.6,3065.6 L1543.4,3064.2 L1544.3,3062.0 L1545.1,3061.9 L1545.9,3063.4 L1546.7,3062.7 L1547.5,3060.3 L1548.3,3059.7 L1549.1,3062.4 L1549.9,3064.6 L1550.7,3067.3 L1551.6,3059.9 L1552.4,3063.3 L1553.2,3067.5 L1554.0,3066.9 L1554.8,3064.9 L1555.5,3060.0 L1556.3,3062.6 L1557.0,3061.8 L1557.8,3056.5 L1558.5,3060.6 L1559.2,3066.3 L1560.0,3063.2 L1560.7,3059.1 L1561.4,3058.1 L1562.2,3059.5 L1562.9,3059.5 L1563.7,3057.5 L1564.4,3053.3 L1565.1,3057.8 L1565.9,3055.8 L1566.6,3056.2 L1567.3,3057.7 L1568.1,3057.9 L1568.8,3055.3 L1569.6,3054.4 L1570.3,3058.2 L1571.0,3056.6 L1571.8,3058.4 L1572.6,3053.3 L1573.4,3057.2 L1574.1,3055.1 L1574.9,3058.1 L1575.7,3056.9 L1576.5,3053.7 L1577.2,3057.5 L1578.0,3054.4 L1578.8,3059.1 L1579.5,3055.9 L1580.3,3053.7 L1581.1,3052.3 L1581.9,3050.5 L1582.6,3052.2 L1583.4,3053.4 L1584.2,3054.2 L1585.0,3051.1 L1585.7,3055.6 L1586.5,3052.9 L1587.3,3051.1 L1588.1,3050.3 L1588.9,3052.7 L1589.7,3053.9 L1590.5,3050.2 L1591.3,3053.1 L1592.1,3054.6 L1593.0,3052.1 L1593.8,3049.3 L1594.6,3056.7 L1595.4,3050.7 L1596.2,3053.4 L1597.0,3054.0 L1597.8,3049.5 L1598.6,3049.4 L1599.4,3050.4 L1600.3,3052.0 L1601.1,3050.6 L1601.9,3052.2 L1602.7,3049.6 L1603.5,3049.1 L1604.3,3049.1 L1605.1,3054.5 L1605.8,3052.6 L1606.6,3051.2 L1607.4,3050.2 L1608.1,3052.7 L1608.9,3050.8 L1609.7,3051.3 L1610.5,3047.4 L1611.2,3048.0 L1612.0,3050.8 L1612.8,3047.9 L1613.6,3050.2 L1614.3,3048.2 L1615.1,3047.5 L1615.9,3051.1 L1616.6,3047.1 L1617.4,3043.6 L1618.2,3047.8 L1619.0,3048.7 L1619.7,3045.4 L1620.6,3050.4 L1621.4,3047.4 L1622.2,3049.1 L1623.0,3046.9 L1623.8,3045.7 L1624.6,3051.0 L1625.4,3048.9 L1626.2,3051.6 L1627.0,3046.4 L1627.9,3050.2 L1628.7,3051.9 L1629.5,3047.3 L1630.3,3046.7 L1631.1,3045.2 L1631.9,3046.5 L1632.7,3049.0 L1633.5,3050.1 L1634.4,3045.8 L1635.2,3051.6 L1636.0,3049.8 L1636.8,3048.2 L1637.6,3048.9 L1638.4,3054.1 L1639.2,3049.3 L1640.0,3050.3 L1640.8,3048.4 L1641.7,3045.0 L1642.5,3051.5 L1643.3,3048.2 L1644.1,3050.0 L1644.9,3046.9 L1645.7,3052.6 L1646.5,3046.8 L1647.3,3046.2 L1648.1,3046.3 L1649.0,3050.0 L1649.8,3046.5 L1650.6,3048.5 L1651.4,3046.5 L1652.2,3049.1 L1653.0,3046.8 L1653.8,3046.4 L1654.6,3048.9 L1655.5,3050.1 L1656.3,3049.8 L1657.1,3049.3 L1657.9,3043.9 L1658.7,3046.2 L1659.5,3041.9 L1660.3,3044.0 L1661.1,3040.2 L1661.9,3046.6 L1662.8,3044.4 L1663.6,3046.1 L1664.4,3044.1 L1665.2,3047.4 L1666.0,3047.7 L1666.8,3046.6 L1667.6,3050.6 L1668.4,3049.4 L1669.2,3046.2 L1670.0,3049.7 L1670.8,3044.3 L1671.5,3042.8 L1672.3,3049.6 L1673.1,3049.8 L1673.9,3043.1 L1674.6,3044.9 L1675.4,3048.1 L1676.2,3045.1 L1676.9,3048.6 L1677.7,3045.0 L1678.5,3046.4 L1679.3,3042.3 L1680.0,3042.7 L1680.8,3046.3 L1681.6,3046.6 L1682.4,3045.9 L1683.1,3040.2 L1683.9,3040.7 L1684.7,3046.2 L1685.4,3047.9 L1686.2,3041.6 L1687.0,3042.1 L1687.8,3045.6 L1688.5,3043.6 L1689.3,3037.5 L1690.1,3040.0 L1690.9,3040.4 L1691.6,3039.9 L1692.4,3040.9 L1693.2,3040.1 L1694.0,3040.6 L1694.7,3039.3 L1695.5,3035.8 L1696.3,3041.1 L1697.0,3038.1 L1697.8,3038.6 L1698.6,3038.7 L1699.4,3039.6 L1700.1,3043.5 L1700.9,3040.0 L1701.7,3039.0 L1702.5,3036.3 L1703.2,3035.8 L1704.0,3038.7 L1704.8,3036.2 L1705.5,3038.0 L1706.3,3042.7 L1707.1,3038.7 L1707.9,3032.3 L1708.6,3037.0 L1709.4,3038.9 L1710.2,3036.7 L1711.0,3034.8 L1711.7,3035.0 L1712.5,3035.7 L1713.3,3031.5 L1714.1,3035.2 L1714.8,3030.0 L1715.6,3032.3 L1716.4,3035.4 L1717.1,3028.9 L1718.0,3029.4 L1718.8,3031.9 L1719.6,3031.0 L1720.4,3032.3 L1721.2,3031.2 L1722.0,3032.6 L1722.8,3030.0 L1723.6,3030.5 L1724.4,3027.1 L1725.3,3033.8 L1726.1,3033.5 L1726.9,3031.2 L1727.7,3031.5 L1728.5,3031.0 L1729.3,3032.5 L1730.1,3032.8 L1730.9,3036.1 L1731.8,3030.7 L1732.6,3030.6 L1733.4,3034.5 L1734.2,3028.6 L1735.0,3032.2 L1735.8,3030.2 L1736.6,3028.0 L1737.4,3031.0 L1738.2,3034.3 L1739.1,3034.3 L1739.9,3029.2 L1740.7,3029.4 L1741.5,3030.3 L1742.3,3033.3 L1743.1,3034.0 L1743.9,3036.6 L1744.7,3028.6 L1745.6,3031.7 L1746.4,3031.2 L1747.2,3028.5 L1748.0,3029.8 L1748.8,3033.9 L1749.6,3037.2 L1750.4,3029.2 L1751.2,3030.7 L1751.9,3031.5 L1752.7,3029.2 L1753.5,3031.0 L1754.2,3027.6 L1755.0,3025.4 L1755.8,3028.1 L1756.6,3029.0 L1757.3,3031.2 L1758.1,3023.0 L1758.9,3024.0 L1759.7,3027.3 L1760.4,3022.6 L1761.2,3028.8 L1762.0,3026.2 L1762.8,3024.1 L1763.5,3026.9 L1764.3,3027.3 L1765.1,3026.5 L1765.8,3027.3 L1766.6,3024.5 L1767.4,3021.5 L1768.2,3025.5 L1768.9,3024.3 L1769.7,3022.2 L1770.5,3021.1 L1771.3,3022.3 L1772.0,3022.8 L1772.8,3022.3 L1773.6,3027.4 L1774.3,3024.4 L1775.1,3023.3 L1775.9,3028.1 L1776.7,3021.1 L1777.4,3020.9 L1778.2,3020.6 L1779.0,3024.9 L1779.8,3022.3 L1780.5,3023.6 L1781.3,3023.8 L1782.1,3025.7 L1782.9,3020.6 L1783.7,3023.5 L1784.5,3027.0 L1785.3,3023.2 L1786.1,3019.0 L1786.9,3016.6 L1787.8,3022.5 L1788.6,3021.8 L1789.4,3018.2 L1790.2,3022.1 L1791.0,3017.4 L1791.8,3020.6 L1792.6,3024.9 L1793.4,3016.6 L1794.3,3020.8 L1795.1,3020.2 L1795.9,3020.6 L1796.7,3016.6 L1797.5,3017.1 L1798.3,3016.9 L1799.1,3021.1 L1799.9,3020.5 L1800.6,3016.9 L1801.4,3017.2 L1802.2,3016.6 L1802.9,3019.0 L1803.7,3022.4 L1804.5,3018.9 L1805.3,3019.8 L1806.0,3016.3 L1806.8,3016.8 L1807.6,3017.7 L1808.4,3016.5 L1809.1,3017.8 L1809.9,3016.6 L1810.7,3016.6 L1811.5,3027.2 L1812.2,3019.7 L1813.0,3016.2 L1813.8,3016.2 L1814.5,3021.2 L1815.4,3018.7 L1816.2,3014.9 L1817.0,3016.4 L1817.8,3017.5 L1818.6,3015.8 L1819.4,3020.5 L1820.2,3016.2 L1821.0,3020.8 L1821.9,3015.1 L1822.7,3020.3 L1823.5,3016.7 L1824.3,3020.2 L1825.1,3018.7 L1825.9,3019.5 L1826.7,3018.9 L1827.5,3014.3 L1828.3,3017.1 L1829.2,3017.5 L1830.0,3021.9 L1830.8,3016.5 L1831.6,3014.3 L1832.3,3021.7 L1833.1,3017.7 L1833.9,3017.9 L1834.6,3015.3 L1835.4,3016.2 L1836.2,3020.0 L1837.0,3015.1 L1837.7,3014.1 L1838.5,3013.2 L1839.3,3012.8 L1840.1,3015.6 L1840.8,3020.2 L1841.6,3015.7 L1842.4,3016.4 L1843.1,3017.6 L1843.9,3022.3 L1844.7,3019.0 L1845.5,3016.7 L1846.2,3018.1 L1847.0,3012.4 L1847.8,3015.3 L1848.6,3015.6 L1849.4,3014.5 L1850.2,3016.5 L1850.9,3010.8 L1851.7,3018.0 L1852.5,3015.0 L1853.3,3017.5 L1854.1,3017.8 L1854.9,3018.5 L1855.7,3018.9 L1856.5,3021.2 L1857.2,3022.2 L1858.0,3017.7 L1858.8,3020.6 L1859.6,3014.9 L1860.4,3015.7 L1861.2,3017.6 L1861.9,3019.4 L1862.6,3016.3 L1863.3,3014.6 L1864.0,3015.6 L1864.7,3015.1 L1865.4,3015.0 L1866.1,3011.5 L1866.8,3012.3 L1867.5,3015.8 L1868.2,3011.5 L1868.9,3012.6 L1869.6,3015.8 L1870.3,3015.6 L1871.1,3014.8 L1871.8,3013.7 L1872.5,3009.3 L1873.2,3013.0 L1873.9,3011.6 L1874.6,3007.9 L1875.3,3009.1 L1876.0,3011.0 L1876.7,3005.9 L1877.4,3011.3 L1878.2,3009.0 L1879.0,3009.0 L1879.8,3009.2 L1880.6,3008.6 L1881.5,3007.5 L1882.3,3006.7 L1883.1,3008.0 L1883.9,3005.7 L1884.7,3012.7 L1885.5,3013.4 L1886.3,3008.9 L1887.1,3008.4 L1888.0,3008.3 L1888.8,3008.0 L1889.6,3007.0 L1890.4,3010.5 L1891.2,3005.3 L1892.0,3009.8 L1892.8,3009.7 L1893.6,3008.7 L1894.4,3002.6 L1895.3,3012.7 L1896.1,3009.3 L1896.9,3012.3 L1897.7,3006.2 L1898.5,3009.5 L1899.3,3014.2 L1900.1,3011.0 L1900.9,3008.8 L1901.8,3005.4 L1902.6,3004.8 L1903.4,3004.9 L1904.2,3004.3 L1905.0,3006.4 L1905.8,3005.0 L1906.6,3008.8 L1907.4,3007.7 L1908.2,3003.1 L1909.1,3005.5 L1909.9,3012.3 L1910.6,3010.2 L1911.4,3007.1 L1912.2,3009.4 L1913.0,3009.0 L1913.7,3003.0 L1914.5,3006.5 L1915.3,3005.4 L1916.1,3004.9 L1916.8,3005.7 L1917.6,3004.9 L1918.4,3006.8 L1919.1,3002.4 L1919.9,3003.0 L1920.7,3001.8 L1921.5,3004.9 L1922.2,3002.9 L1923.0,3003.1 L1923.8,3003.9 L1924.6,3003.6 L1925.3,3007.0 L1926.1,3004.0 L1926.8,3003.0 L1927.6,3001.4 L1928.3,2998.9 L1929.1,3000.3 L1929.8,3003.6 L1930.5,2998.7 L1931.3,3000.7 L1932.0,2998.7 L1932.7,2999.4 L1933.5,3002.4 L1934.2,3003.4 L1935.0,2995.1 L1935.7,3000.0 L1936.4,2995.8 L1937.2,2998.6 L1937.9,2994.4 L1938.6,2995.6 L1939.4,2999.2 L1940.1,2997.2 L1940.9,2991.9 L1941.6,2995.0 L1942.3,2996.1 L1943.1,2996.6 L1944.0,2995.7 L1944.8,2993.0 L1945.6,2992.7 L1946.4,2999.3 L1947.2,2997.1 L1948.0,2998.2 L1948.8,2999.0 L1949.6,2996.7 L1950.5,2993.5 L1951.3,2997.9 L1952.1,2998.3 L1952.9,2996.7 L1953.7,2991.0 L1954.5,2999.4 L1955.3,2997.3 L1956.1,2997.1 L1956.9,2997.6 L1957.8,2998.2 L1958.6,2993.5 L1959.4,2995.0 L1960.2,2997.0 L1961.0,2997.7 L1961.8,2995.6 L1962.6,2995.4 L1963.4,2994.9 L1964.3,2996.7 L1965.1,2989.4 L1965.9,2996.4 L1966.7,2996.8 L1967.5,2993.2 L1968.3,2992.4 L1969.1,2989.4 L1969.9,2990.7 L1970.7,2993.2 L1971.6,2995.5 L1972.4,2993.4 L1973.2,2997.6 L1974.0,2990.6 L1974.8,2991.6 L1975.6,2996.1 L1976.4,2993.6 L1977.2,2994.7 L1978.1,2990.9 L1978.9,2993.4 L1979.7,2993.9 L1980.5,2989.5 L1981.3,2989.5 L1982.1,2994.6 L1982.9,2990.0 L1983.7,2992.3 L1984.5,2991.9 L1985.4,2993.4 L1986.2,2995.2 L1987.0,2994.6 L1987.8,2993.9 L1988.6,2998.3 L1989.4,2994.6 L1990.2,2994.5 L1991.0,2996.3 L1991.9,2991.3 L1992.7,2993.7 L1993.5,2994.6 L1994.3,2990.2 L1995.1,2997.4 L1995.9,2993.3 L1996.7,2993.9 L1997.5,2991.5 L1998.3,2992.7 L1999.2,2994.7 L2000.0,2991.6 L2000.8,2990.1 L2001.6,2993.0 L2002.4,2992.1 L2003.2,2992.3 L2004.0,2988.1 L2004.8,2989.6 L2005.6,2992.1 L2006.5,2994.4 L2007.3,2990.6 L2008.0,2998.5 L2008.8,2999.3 L2009.6,2994.4 L2010.4,2997.7 L2011.1,2995.8 L2011.9,2994.2 L2012.7,2994.7 L2013.5,2996.0 L2014.2,2996.1 L2015.0,3000.4 L2015.8,2996.8 L2016.5,2999.8 L2017.3,3001.3 L2018.1,2998.7 L2018.9,2996.8 L2019.6,2999.0 L2020.4,2995.5 L2021.2,2998.3 L2022.0,2998.6 L2022.7,3000.6 L2023.5,3000.1 L2024.3,2998.5 L2025.1,3002.1 L2025.8,2998.1 L2026.6,2999.0 L2027.4,3002.4 L2028.1,2997.8 L2028.9,3001.8 L2029.7,3000.5 L2030.5,2997.9 L2031.2,2993.1 L2032.0,3002.2 L2032.8,2998.1 L2033.6,2997.6 L2034.3,2993.8 L2035.1,2994.9 L2035.9,2994.8 L2036.6,2994.9 L2037.4,2998.2 L2038.2,2993.6 L2039.0,2999.8 L2039.7,2996.2 L2040.5,2997.9 L2041.3,2997.3 L2042.1,2996.5 L2042.8,2994.9 L2043.6,2987.1 L2044.4,2993.9 L2045.2,2993.6 L2045.9,2992.0 L2046.7,2992.5 L2047.5,2993.4 L2048.2,2992.5 L2049.0,2988.3 L2049.8,2990.6 L2050.6,2989.0 L2051.3,2992.6 L2052.1,2990.2 L2052.9,2991.6 L2053.7,2989.4 L2054.4,2989.2 L2055.2,2993.1 L2056.0,2989.8 L2056.7,2989.0 L2057.5,2988.0 L2058.3,2986.7 L2059.1,2988.9 L2059.8,2985.0 L2060.6,2988.8 L2061.4,2989.2 L2062.2,2988.6 L2062.9,2989.2 L2063.7,2989.2 L2064.5,2985.4 L2065.3,2988.6 L2066.0,2993.0 L2066.8,2984.6 L2067.6,2993.9 L2068.3,2991.3 L2069.1,2986.6 L2069.9,2988.7 L2070.7,2989.1 L2071.4,2989.9 L2072.2,2988.5 L2073.0,2986.8 L2073.8,2986.2 L2074.5,2986.6 L2075.3,2986.2 L2076.1,2985.2 L2076.8,2986.2 L2077.6,2982.8 L2078.4,2989.0 L2079.2,2989.4 L2079.9,2988.5 L2080.7,2984.5 L2081.5,2984.3 L2082.3,2986.8 L2083.0,2989.1 L2083.8,2983.9 L2084.6,2988.0 L2085.3,2984.7 L2086.1,2983.6 L2086.9,2985.0 L2087.7,2981.7 L2088.4,2985.9 L2089.3,2980.4 L2090.1,2981.1 L2090.9,2982.5 L2091.7,2979.4 L2092.5,2986.8 L2093.3,2983.9 L2094.1,2980.3 L2094.9,2982.6 L2095.7,2984.7 L2096.6,2981.0 L2097.4,2981.6 L2098.2,2983.5 L2099.0,2984.4 L2099.8,2984.2 L2100.6,2986.8 L2101.4,2978.2 L2102.2,2982.8 L2103.1,2986.0 L2103.9,2982.8 L2104.7,2982.0 L2105.5,2980.9 L2106.3,2981.4 L2107.1,2984.2 L2107.9,2982.4 L2108.7,2979.0 L2109.5,2979.5 L2110.4,2982.9 L2111.2,2982.0 L2112.0,2981.1 L2112.8,2983.4 L2113.6,2978.9 L2114.4,2981.5 L2115.2,2983.0 L2116.0,2981.0 L2116.9,2982.4 L2117.7,2978.3 L2118.5,2982.3 L2119.3,2987.0 L2120.1,2980.8 L2120.9,2982.9 L2121.7,2978.6 L2122.5,2982.0 L2123.3,2982.0 L2124.2,2981.7 L2125.0,2982.6 L2125.8,2980.9 L2126.6,2982.4 L2127.4,2981.9 L2128.2,2977.9 L2129.0,2977.5 L2129.8,2979.2 L2130.6,2979.4 L2131.5,2981.4 L2132.3,2980.9 L2133.1,2979.4 L2133.9,2988.2 L2134.7,2981.1 L2135.5,2980.8 L2136.3,2980.4 L2137.1,2982.2 L2138.0,2982.5 L2138.8,2980.4 L2139.6,2981.9 L2140.4,2979.8 L2141.2,2976.2 L2142.0,2974.7 L2142.8,2979.6 L2143.6,2978.3 L2144.4,2978.1 L2145.3,2977.0 L2146.1,2975.5 L2146.9,2981.1 L2147.7,2980.2 L2148.5,2978.1 L2149.3,2981.2 L2150.1,2978.0 L2150.9,2976.9 L2151.8,2977.7 L2152.6,2981.2 L2153.4,2977.3 L2154.1,2974.9 L2154.9,2973.7 L2155.6,2978.6 L2156.3,2974.8 L2157.1,2968.4 L2157.8,2974.8 L2158.5,2977.7 L2159.3,2972.4 L2160.0,2978.0 L2160.8,2974.7 L2161.5,2973.9 L2162.2,2975.9 L2163.0,2972.9 L2163.7,2974.7 L2164.4,2973.7 L2165.2,2970.2 L2165.9,2968.6 L2166.7,2973.0 L2167.4,2970.9 L2168.1,2973.7 L2168.9,2974.9 L2169.6,2969.6 L2170.4,2968.9 L2171.2,2969.3 L2172.0,2971.3 L2172.8,2974.0 L2173.6,2971.6 L2174.4,2973.2 L2175.2,2975.0 L2176.0,2971.8 L2176.8,2967.4 L2177.6,2972.3 L2178.4,2975.6 L2179.2,2973.0 L2180.0,2968.8" stroke="#0000ff"/>
<path d="M435.7,3335.1 L435.8,3334.2 L435.8,3333.6 L435.9,3332.6 L435.9,3332.0 L436.0,3331.0 L436.1,3330.2 L436.1,3329.4 L436.2,3328.9 L436.2,3328.2 L436.3,3327.3 L436.3,3326.2 L436.4,3325.4 L436.5,3324.6 L436.5,3324.2 L436.6,3323.2 L436.6,3322.4 L436.7,3321.6 L436.8,3320.5 L436.8,3320.0 L436.9,3319.3 L436.9,3318.2 L437.0,3317.5 L437.0,3317.2 L437.1,3316.0 L437.2,3315.2 L437.2,3314.5 L437.3,3313.7 L437.3,3312.7 L437.4,3312.0 L437.4,3311.4 L437.5,3310.4 L437.6,3309.7 L437.6,3309.0 L437.7,3308.0 L437.7,3307.2 L437.8,3306.5 L437.8,3306.0 L437.9,3305.1 L438.0,3303.9 L438.0,3303.3 L438.1,3302.6 L438.1,3302.0 L438.2,3300.9 L438.3,3299.9 L438.3,3299.7 L438.4,3298.4 L438.5,3297.9 L438.6,3296.9 L438.7,3296.1 L438.8,3295.2 L438.9,3294.3 L439.0,3294.6 L439.1,3292.7 L439.2,3292.3 L439.3,3291.6 L439.4,3291.1 L439.5,3290.2 L439.6,3288.9 L439.7,3287.7 L439.8,3287.5 L439.9,3287.2 L440.0,3286.0 L440.1,3285.7 L440.2,3284.2 L440.3,3284.0 L440.4,3283.0 L440.5,3282.8 L440.6,3281.5 L440.7,3280.7 L440.8,3279.3 L440.9,3279.5 L441.0,3277.8 L441.1,3277.8 L441.2,3276.3 L441.3,3275.6 L441.4,3275.4 L441.5,3274.2 L441.6,3273.3 L441.7,3272.5 L441.8,3271.8 L442.0,3271.9 L442.1,3270.6 L442.2,3269.4 L442.4,3269.0 L442.5,3268.3 L442.6,3268.1 L442.8,3266.4 L442.9,3265.6 L443.0,3265.4 L443.2,3264.2 L443.3,3263.5 L443.4,3262.6 L443.6,3261.8 L443.7,3261.0 L443.8,3259.7 L444.0,3259.6 L444.1,3259.0 L444.2,3258.0 L444.4,3256.9 L444.5,3256.0 L444.6,3255.8 L444.8,3255.1 L444.9,3254.1 L445.1,3253.2 L445.2,3252.2 L445.3,3252.6 L445.5,3251.6 L446.0,3251.8 L446.6,3251.2 L447.2,3247.2 L447.8,3251.7 L448.4,3250.2 L449.0,3250.5 L449.6,3249.1 L450.2,3249.2 L450.8,3247.3 L451.4,3246.9 L451.9,3246.9 L452.6,3247.5 L453.2,3240.3 L453.9,3241.8 L454.5,3240.7 L455.2,3241.5 L455.8,3238.9 L456.5,3240.6 L457.1,3234.3 L457.8,3238.9 L458.4,3239.2 L459.1,3236.4 L459.7,3238.2 L460.4,3235.7 L461.0,3241.0 L461.7,3236.1 L462.3,3235.9 L462.8,3235.3 L463.4,3237.0 L464.0,3233.5 L464.6,3232.2 L465.1,3234.8 L465.7,3230.7 L466.3,3234.3 L466.8,3231.1 L467.4,3232.3 L468.0,3231.3 L468.6,3227.7 L469.1,3228.8 L469.7,3229.7 L470.3,3231.3 L470.9,3229.7 L471.4,3229.5 L471.9,3222.9 L472.5,3223.6 L473.0,3226.0 L473.5,3225.1 L474.0,3226.5 L474.5,3224.4 L475.0,3225.4 L475.5,3226.0 L476.0,3224.5 L476.6,3223.9 L477.1,3223.3 L477.6,3222.8 L478.1,3219.5 L478.6,3220.4 L479.1,3218.1 L479.6,3219.2 L480.1,3218.0 L480.7,3218.6 L481.2,3220.0 L481.9,3216.7 L482.6,3215.3 L483.3,3218.9 L484.1,3217.0 L484.8,3212.8 L485.5,3216.1 L486.2,3214.8 L486.9,3215.0 L487.7,3213.8 L488.4,3214.3 L489.1,3213.3 L489.8,3214.3 L490.5,3212.4 L491.3,3208.2 L492.0,3209.9 L492.7,3210.5 L493.4,3208.9 L494.2,3209.7 L494.8,3208.5 L495.5,3207.4 L496.2,3207.6 L496.9,3208.8 L497.6,3207.2 L498.3,3203.8 L498.9,3204.0 L499.6,3208.6 L500.3,3209.3 L501.0,3202.1 L501.7,3200.1 L502.4,3204.4 L503.0,3201.8 L503.7,3202.5 L504.4,3201.4 L505.1,3204.7 L505.8,3204.5 L506.5,3201.8 L507.1,3200.6 L507.9,3200.9 L508.7,3199.7 L509.4,3201.2 L510.2,3203.2 L511.0,3200.3 L511.7,3199.4 L512.5,3197.8 L513.3,3196.2 L514.0,3196.8 L514.8,3200.8 L515.5,3200.3 L516.3,3200.2 L517.1,3200.6 L517.8,3198.3 L518.6,3198.2 L519.4,3198.6 L520.1,3197.1 L520.9,3194.5 L521.6,3195.2 L522.3,3193.5 L523.0,3194.1 L523.7,3194.2 L524.5,3191.4 L525.2,3198.2 L525.9,3193.3 L526.6,3196.2 L527.3,3194.6 L528.1,3195.9 L528.8,3194.5 L529.5,3191.1 L530.2,3188.7 L531.0,3188.9 L531.7,3192.4 L532.4,3189.8 L533.1,3192.3 L533.9,3189.8 L534.6,3190.3 L535.4,3189.3 L536.2,3186.2 L536.9,3188.6 L537.7,3185.7 L538.5,3190.4 L539.2,3188.5 L540.0,3185.7 L540.8,3186.3 L541.5,3190.5 L542.3,3191.6 L543.0,3192.5 L543.8,3191.4 L544.6,3185.7 L545.3,3186.4 L546.1,3183.1 L546.9,3183.4 L547.6,3180.3 L548.4,3182.0 L549.2,3187.8 L549.9,3185.9 L550.7,3184.1 L551.5,3182.5 L552.2,3182.0 L553.0,3180.6 L553.7,3183.8 L554.5,3182.5 L555.3,3183.9 L556.0,3183.2 L556.8,3189.4 L557.6,3184.2 L558.3,3181.5 L559.1,3180.7 L559.9,3181.9 L560.7,3181.6 L561.5,3183.6 L562.3,3181.6 L563.1,3182.5 L564.0,3179.6 L564.8,3179.0 L565.6,3183.4 L566.4,3184.0 L567.2,3180.1 L568.0,3180.0 L568.8,3181.0 L569.6,3179.1 L570.5,3179.0 L571.3,3178.7 L572.1,3184.0 L572.9,3182.9 L573.7,3181.9 L574.5,3182.8 L575.3,3182.8 L576.1,3178.2 L576.9,3181.9 L577.8,3183.6 L578.6,3183.6 L579.4,3180.9 L580.2,3187.9 L581.0,3178.5 L581.8,3183.3 L582.6,3183.0 L583.4,3180.8 L584.3,3178.0 L585.1,3178.2 L585.7,3180.3 L586.4,3174.8 L587.0,3179.3 L587.7,3180.0 L588.3,3175.8 L589.0,3177.8 L589.6,3174.2 L590.3,3173.1 L590.9,3174.8 L591.6,3176.5 L592.2,3176.1 L592.9,3176.7 L593.5,3171.8 L594.2,3175.8 L594.8,3175.1 L595.5,3172.5 L596.1,3173.0 L596.8,3169.4 L597.4,3170.9 L598.1,3167.6 L598.8,3168.2 L599.5,3167.5 L600.2,3171.6 L600.9,3170.0 L601.7,3169.6 L602.4,3170.9 L603.1,3167.3 L603.8,3169.7 L604.5,3164.7 L605.3,3167.1 L606.0,3167.3 L606.7,3163.8 L607.4,3167.6 L608.2,3169.1 L608.9,3167.7 L609.6,3164.5 L610.3,3162.0 L611.0,3164.5 L611.8,3166.0 L612.6,3169.8 L613.3,3166.8 L614.1,3163.7 L614.9,3163.9 L615.6,3167.8 L616.4,3164.1 L617.2,3161.2 L617.9,3161.6 L618.7,3162.3 L619.4,3163.0 L620.2,3160.9 L621.0,3161.0 L621.7,3160.9 L622.5,3159.1 L623.3,3158.3 L624.0,3159.5 L624.7,3156.7 L625.5,3155.8 L626.2,3157.4 L626.9,3160.1 L627.6,3157.5 L628.4,3155.7 L629.1,3154.8 L629.8,3154.6 L630.5,3157.2 L631.2,3152.8 L632.0,3154.9 L632.7,3157.5 L633.4,3154.0 L634.1,3155.3 L634.8,3152.1 L635.6,3151.7 L636.3,3151.6 L637.0,3158.6 L637.8,3155.9 L638.5,3154.6 L639.3,3149.8 L640.1,3149.0 L640.8,3149.5 L641.6,3151.2 L642.4,3148.3 L643.1,3152.1 L643.9,3151.1 L644.7,3155.7 L645.4,3149.9 L646.2,3150.4 L646.9,3149.7 L647.7,3152.4 L648.5,3147.8 L649.2,3149.0 L650.0,3147.4 L650.8,3146.7 L651.5,3143.4 L652.3,3144.5 L653.1,3148.6 L653.8,3148.2 L654.6,3140.9 L655.3,3147.3 L656.1,3149.0 L656.9,3149.2 L657.6,3147.4 L658.4,3143.8 L659.2,3142.9 L659.9,3149.1 L660.7,3144.2 L661.5,3145.5 L662.2,3146.2 L663.0,3142.2 L663.8,3144.5 L664.6,3139.1 L665.4,3142.9 L666.2,3142.2 L667.0,3143.5 L667.9,3143.2 L668.7,3144.5 L669.5,3149.7 L670.3,3145.7 L671.1,3147.6 L671.9,3148.8 L672.7,3144.0 L673.5,3150.0 L674.4,3145.4 L675.2,3145.3 L676.0,3142.6 L676.7,3151.2 L677.5,3147.6 L678.3,3147.1 L679.0,3148.1 L679.8,3154.6 L680.6,3148.8 L681.3,3147.1 L682.1,3147.2 L682.8,3144.6 L683.6,3144.6 L684.4,3145.4 L685.1,3139.9 L685.9,3143.0 L686.7,3145.9 L687.4,3142.8 L688.2,3144.0 L689.0,3145.5 L689.8,3145.4 L690.6,3141.7 L691.4,3137.0 L692.2,3135.6 L693.0,3136.6 L693.8,3141.6 L694.6,3142.4 L695.5,3141.6 L696.3,3142.6 L697.1,3143.4 L697.9,3145.0 L698.7,3142.1 L699.5,3141.1 L700.3,3142.9 L701.1,3140.9 L701.9,3142.1 L702.7,3141.9 L703.5,3140.8 L704.2,3136.8 L705.0,3145.3 L705.8,3145.2 L706.5,3145.0 L707.3,3136.2 L708.1,3140.0 L708.8,3142.2 L709.6,3139.4 L710.4,3139.0 L711.1,3137.6 L711.9,3139.9 L712.6,3137.7 L713.4,3138.4 L714.2,3135.3 L714.9,3136.2 L715.7,3137.1 L716.4,3135.5 L717.1,3139.1 L717.8,3136.4 L718.5,3139.8 L719.3,3135.4 L720.0,3138.5 L720.7,3138.2 L721.4,3133.7 L722.2,3135.5 L722.9,3134.0 L723.6,3135.7 L724.3,3133.7 L725.0,3137.3 L725.8,3130.2 L726.5,3133.6 L727.2,3131.4 L727.9,3133.7 L728.7,3132.0 L729.4,3128.6 L730.2,3128.8 L731.0,3127.6 L731.7,3131.2 L732.5,3131.0 L733.3,3132.7 L734.0,3129.1 L734.8,3134.2 L735.6,3129.9 L736.3,3133.9 L737.1,3137.0 L737.9,3129.1 L738.6,3130.9 L739.4,3137.0 L740.1,3136.9 L740.9,3138.7 L741.6,3134.8 L742.4,3139.5 L743.1,3131.8 L743.8,3137.7 L744.5,3137.1 L745.2,3132.9 L746.0,3134.4 L746.7,3134.1 L747.4,3133.1 L748.1,3129.9 L748.8,3130.3 L749.6,3132.0 L750.3,3133.4 L751.0,3131.3 L751.7,3132.7 L752.5,3129.4 L753.2,3125.8 L753.9,3125.8 L754.7,3128.9 L755.4,3128.3 L756.2,3128.2 L757.0,3131.1 L757.7,3130.4 L758.5,3132.4 L759.2,3126.9 L760.0,3129.4 L760.8,3127.2 L761.5,3122.4 L762.3,3125.3 L763.1,3124.8 L763.8,3129.4 L764.6,3125.6 L765.4,3131.4 L766.1,3125.6 L766.9,3122.8 L767.6,3120.2 L768.3,3125.5 L769.0,3123.8 L769.8,3120.6 L770.5,3123.3 L771.2,3117.8 L771.9,3124.5 L772.7,3119.0 L773.4,3121.5 L774.1,3118.5 L774.8,3120.8 L775.5,3122.0 L776.3,3118.6 L777.0,3116.2 L777.7,3117.9 L778.4,3120.1 L779.1,3116.2 L779.9,3113.6 L780.6,3115.2 L781.4,3114.3 L782.2,3117.8 L782.9,3118.5 L783.7,3118.3 L784.5,3117.1 L785.2,3113.4 L786.0,3115.8 L786.7,3116.0 L787.5,3114.2 L788.3,3114.5 L789.0,3113.6 L789.8,3114.3 L790.6,3112.6 L791.3,3114.1 L792.1,3109.8 L792.9,3110.3 L793.6,3109.6 L794.4,3114.6 L795.1,3107.5 L795.9,3111.8 L796.7,3110.5 L797.4,3106.9 L798.2,3109.4 L799.0,3109.9 L799.7,3110.7 L800.5,3107.6 L801.3,3105.9 L802.0,3112.4 L802.8,3111.1 L803.6,3110.0 L804.3,3110.4 L805.1,3110.9 L805.8,3112.6 L806.7,3105.9 L807.5,3105.9 L808.3,3108.6 L809.1,3110.6 L809.9,3111.7 L810.7,3107.7 L811.5,3110.4 L812.3,3108.3 L813.1,3110.6 L814.0,3108.6 L814.8,3109.3 L815.6,3106.4 L816.4,3106.4 L817.2,3109.1 L818.0,3106.3 L818.8,3107.0 L819.6,3111.1 L820.5,3109.6 L821.3,3104.1 L822.1,3108.1 L822.9,3109.1 L823.7,3107.6 L824.5,3105.9 L825.3,3108.4 L826.1,3107.1 L826.9,3110.9 L827.8,3108.1 L828.6,3107.6 L829.4,3109.4 L830.2,3104.3 L831.0,3108.0 L831.8,3109.0 L832.6,3106.8 L833.3,3100.8 L834.1,3105.1 L834.9,3108.4 L835.6,3107.8 L836.4,3107.9 L837.2,3103.3 L837.9,3100.3 L838.7,3101.8 L839.5,3101.1 L840.2,3103.2 L841.0,3100.6 L841.7,3103.3 L842.5,3101.4 L843.3,3102.8 L844.0,3098.6 L844.8,3100.3 L845.6,3097.6 L846.3,3098.3 L847.1,3101.0 L847.9,3103.1 L848.6,3098.4 L849.4,3097.6 L850.2,3093.0 L850.9,3095.7 L851.7,3097.2 L852.4,3102.4 L853.2,3101.9 L854.0,3094.6 L854.7,3096.1 L855.5,3095.7 L856.3,3100.2 L857.0,3097.0 L857.8,3095.6 L858.6,3097.5 L859.3,3097.2 L860.1,3096.9 L860.8,3095.1 L861.6,3093.3 L862.4,3094.9 L863.1,3094.5 L863.9,3096.6 L864.7,3093.3 L865.4,3092.6 L866.2,3089.4 L867.0,3092.4 L867.7,3090.6 L868.5,3087.8 L869.3,3091.1 L870.0,3093.5 L870.8,3092.4 L871.6,3089.3 L872.4,3096.3 L873.2,3092.8 L874.0,3087.8 L874.8,3093.7 L875.6,3089.9 L876.5,3098.1 L877.3,3092.1 L878.1,3088.0 L878.9,3092.3 L879.7,3092.7 L880.5,3091.5 L881.3,3092.6 L882.1,3091.3 L883.0,3093.7 L883.8,3089.7 L884.5,3089.5 L885.3,3090.2 L886.1,3092.5 L886.9,3091.5 L887.7,3093.3 L888.4,3091.0 L889.2,3088.9 L890.0,3086.8 L890.8,3087.9 L891.6,3089.7 L892.3,3085.5 L893.1,3084.4 L893.9,3088.5 L894.7,3089.5 L895.5,3086.7 L896.2,3088.2 L897.0,3087.6 L897.9,3091.1 L898.7,3090.7 L899.5,3085.4 L900.3,3087.1 L901.1,3087.1 L901.9,3089.8 L902.7,3086.4 L903.5,3087.3 L904.4,3088.7 L905.2,3088.3 L906.0,3088.6 L906.8,3088.1 L907.6,3087.9 L908.4,3088.9 L909.2,3090.4 L910.0,3087.7 L910.8,3089.9 L911.7,3090.8 L912.5,3088.3 L913.2,3091.0 L914.0,3090.5 L914.8,3090.1 L915.6,3088.1 L916.3,3089.4 L917.1,3094.9 L917.9,3088.5 L918.7,3090.3 L919.4,3091.7 L920.2,3087.8 L921.0,3088.5 L921.7,3087.9 L922.5,3085.5 L923.3,3090.5 L924.1,3086.1 L924.8,3086.9 L925.6,3086.0 L926.4,3087.3 L927.2,3086.1 L927.9,3084.8 L928.7,3087.6 L929.4,3083.9 L930.1,3084.0 L930.7,3082.1 L931.4,3083.9 L932.1,3085.6 L932.8,3081.8 L933.4,3084.5 L934.1,3077.5 L934.8,3085.8 L935.5,3086.7 L936.1,3080.7 L936.8,3081.6 L937.5,3081.5 L938.2,3081.8 L938.8,3077.3 L939.5,3080.4 L940.2,3080.6 L940.9,3081.8 L941.6,3075.9 L942.2,3076.4 L942.9,3077.9 L943.6,3076.2 L944.3,3078.6 L944.9,3079.5 L945.7,3077.8 L946.5,3079.2 L947.3,3080.2 L948.0,3081.2 L948.8,3077.1 L949.6,3074.8 L950.3,3074.7 L951.1,3075.7 L951.9,3076.2 L952.7,3077.1 L953.4,3074.3 L954.2,3071.9 L955.0,3077.0 L955.8,3074.6 L956.5,3070.4 L957.3,3073.1 L958.1,3074.6 L958.8,3070.3 L959.6,3071.4 L960.4,3075.7 L961.2,3071.3 L961.9,3072.5 L962.7,3075.4 L963.5,3074.7 L964.3,3072.1 L965.0,3072.3 L965.8,3070.6 L966.6,3071.5 L967.4,3073.0 L968.1,3072.1 L968.9,3073.1 L969.7,3071.7 L970.4,3068.0 L971.2,3073.7 L972.0,3072.8 L972.8,3069.3 L973.5,3077.2 L974.3,3073.2 L975.1,3070.8 L975.9,3070.4 L976.6,3068.9 L977.4,3068.4 L978.2,3064.5 L978.9,3068.3 L979.7,3064.0 L980.5,3070.3 L981.3,3068.0 L982.0,3068.2 L982.8,3070.1 L983.6,3066.8 L984.4,3068.9 L985.1,3072.4 L985.9,3067.8 L986.7,3068.3 L987.5,3070.9 L988.2,3064.3 L989.0,3065.2 L989.8,3064.1 L990.5,3067.3 L991.3,3065.7 L992.1,3065.9 L992.9,3066.8 L993.6,3065.1 L994.4,3065.7 L995.2,3066.2 L996.0,3064.3 L996.7,3063.7 L997.5,3065.3 L998.3,3065.0 L999.0,3062.2 L999.8,3066.9 L1000.6,3064.1 L1001.4,3063.4 L1002.1,3060.0 L1002.9,3060.4 L1003.7,3063.5 L1004.5,3064.7 L1005.2,3067.4 L1006.0,3067.7 L1006.8,3065.6 L1007.6,3067.0 L1008.3,3058.9 L1009.1,3063.2 L1009.9,3065.4 L1010.6,3058.8 L1011.4,3060.9 L1012.2,3062.8 L1013.0,3060.6 L1013.7,3060.5 L1014.5,3062.3 L1015.3,3060.3 L1016.1,3061.5 L1016.8,3059.9 L1017.6,3060.8 L1018.4,3058.8 L1019.1,3059.0 L1019.9,3057.9 L1020.7,3054.7 L1021.5,3058.0 L1022.2,3060.4 L1023.0,3056.7 L1023.8,3060.3 L1024.6,3061.8 L1025.3,3066.5 L1026.1,3062.9 L1026.9,3063.3 L1027.7,3054.6 L1028.5,3060.1 L1029.4,3060.3 L1030.2,3062.6 L1031.0,3060.7 L1031.8,3062.2 L1032.6,3057.8 L1033.4,3058.2 L1034.2,3062.6 L1035.0,3064.7 L1035.8,3059.8 L1036.7,3056.8 L1037.5,3058.0 L1038.3,3059.9 L1039.1,3060.6 L1039.9,3062.9 L1040.7,3060.0 L1041.5,3054.3 L1042.3,3055.7 L1043.1,3053.6 L1043.9,3056.2 L1044.7,3054.8 L1045.4,3059.8 L1046.2,3049.4 L1047.0,3061.8 L1047.7,3057.5 L1048.5,3061.5 L1049.3,3063.6 L1050.1,3060.2 L1050.8,3063.9 L1051.6,3060.6 L1052.4,3060.6 L1053.2,3054.9 L1053.9,3060.0 L1054.7,3058.9 L1055.5,3055.2 L1056.3,3065.0 L1057.0,3061.9 L1057.8,3056.0 L1058.6,3059.6 L1059.3,3058.8 L1060.1,3057.4 L1060.9,3060.2 L1061.7,3061.0 L1062.4,3061.2 L1063.2,3056.5 L1064.0,3056.6 L1064.8,3061.1 L1065.5,3059.0 L1066.3,3064.0 L1067.1,3058.9 L1067.8,3058.6 L1068.6,3059.4 L1069.4,3060.4 L1070.2,3056.0 L1070.9,3055.0 L1071.7,3057.3 L1072.5,3056.9 L1073.3,3053.5 L1074.0,3056.6 L1074.8,3052.8 L1075.5,3053.3 L1076.3,3051.9 L1077.0,3055.8 L1077.8,3053.7 L1078.5,3053.8 L1079.2,3052.1 L1080.0,3054.7 L1080.7,3051.1 L1081.4,3054.9 L1082.2,3055.9 L1082.9,3055.8 L1083.7,3053.5 L1084.4,3054.2 L1085.1,3050.0 L1085.9,3050.7 L1086.6,3047.6 L1087.3,3050.6 L1088.1,3046.2 L1088.8,3052.8 L1089.6,3054.1 L1090.3,3049.4 L1091.0,3050.9 L1091.8,3051.3 L1092.5,3048.7 L1093.3,3048.9 L1094.0,3045.4 L1094.7,3045.1 L1095.5,3049.0 L1096.2,3046.1 L1096.9,3047.8 L1097.7,3044.7 L1098.4,3048.3 L1099.2,3047.9 L1099.9,3050.3 L1100.6,3045.2 L1101.4,3046.2 L1102.1,3048.6 L1102.8,3043.6 L1103.6,3043.9 L1104.3,3040.5 L1105.1,3045.6 L1105.8,3041.1 L1106.5,3045.8 L1107.3,3044.3 L1108.1,3044.2 L1108.9,3042.5 L1109.7,3046.4 L1110.5,3039.1 L1111.3,3038.9 L1112.1,3043.4 L1113.0,3040.3 L1113.8,3046.3 L1114.6,3044.2 L1115.4,3043.1 L1116.2,3044.5 L1117.0,3044.9 L1117.8,3045.7 L1118.6,3044.7 L1119.4,3044.5 L1120.3,3044.0 L1121.1,3041.1 L1121.9,3038.7 L1122.7,3041.5 L1123.5,3039.7 L1124.3,3039.9 L1125.1,3038.2 L1125.8,3039.2 L1126.6,3042.3 L1127.4,3038.0 L1128.1,3043.8 L1128.9,3046.4 L1129.7,3043.6 L1130.5,3040.5 L1131.2,3042.9 L1132.0,3038.8 L1132.8,3040.9 L1133.6,3035.0 L1134.3,3034.1 L1135.1,3040.3 L1135.9,3040.4 L1136.6,3035.5 L1137.4,3042.5 L1138.2,3041.2 L1139.0,3040.7 L1139.7,3041.1 L1140.5,3042.2 L1141.3,3040.9 L1142.1,3042.9 L1142.8,3041.8 L1143.6,3042.1 L1144.4,3039.3 L1145.2,3036.0 L1145.9,3034.1 L1146.7,3041.4 L1147.5,3038.6 L1148.2,3036.6 L1149.0,3040.9 L1149.8,3036.6 L1150.6,3030.7 L1151.3,3038.1 L1152.1,3040.8 L1152.9,3040.5 L1153.7,3032.6 L1154.4,3037.0 L1155.2,3035.8 L1156.0,3035.8 L1156.7,3038.0 L1157.5,3039.1 L1158.3,3032.7 L1159.1,3040.7 L1159.8,3036.2 L1160.6,3034.3 L1161.4,3034.1 L1162.2,3030.8 L1162.9,3034.7 L1163.7,3031.1 L1164.5,3031.9 L1165.3,3034.9 L1166.0,3034.4 L1166.8,3034.4 L1167.6,3032.1 L1168.3,3031.3 L1169.1,3032.8 L1169.9,3031.0 L1170.7,3031.7 L1171.4,3032.8 L1172.2,3034.6 L1173.0,3031.4 L1173.8,3029.9 L1174.5,3031.7 L1175.3,3028.2 L1176.1,3030.4 L1176.8,3028.7 L1177.6,3028.2 L1178.4,3025.4 L1179.2,3030.8 L1179.9,3031.4 L1180.7,3028.5 L1181.5,3028.3 L1182.3,3028.7 L1183.0,3028.0 L1183.8,3027.6 L1184.6,3031.7 L1185.3,3027.4 L1186.1,3022.2 L1186.9,3027.8 L1187.7,3027.6 L1188.4,3027.3 L1189.2,3027.5 L1189.9,3018.7 L1190.7,3025.1 L1191.4,3023.1 L1192.1,3026.6 L1192.9,3024.2 L1193.6,3023.3 L1194.3,3022.6 L1195.1,3022.4 L1195.8,3020.0 L1196.6,3021.5 L1197.3,3020.8 L1198.0,3020.1 L1198.8,3022.4 L1199.5,3016.0 L1200.2,3022.0 L1201.0,3020.3 L1201.7,3021.6 L1202.5,3022.8 L1203.2,3021.2 L1203.9,3020.9 L1204.7,3022.0 L1205.5,3016.0 L1206.3,3018.3 L1207.1,3015.9 L1207.9,3016.9 L1208.7,3017.4 L1209.5,3018.3 L1210.4,3022.2 L1211.2,3017.2 L1212.0,3022.2 L1212.8,3020.0 L1213.6,3019.1 L1214.4,3023.9 L1215.2,3020.6 L1216.0,3019.3 L1216.9,3017.1 L1217.7,3017.6 L1218.5,3017.3 L1219.3,3016.3 L1220.1,3019.3 L1220.9,3018.8 L1221.7,3016.9 L1222.5,3014.4 L1223.2,3020.6 L1224.0,3015.5 L1224.8,3014.8 L1225.5,3015.3 L1226.3,3011.7 L1227.1,3009.9 L1227.9,3019.5 L1228.6,3015.2 L1229.4,3011.9 L1230.2,3015.3 L1231.0,3012.1 L1231.7,3014.6 L1232.5,3015.6 L1233.3,3016.5 L1234.1,3015.0 L1234.8,3014.6 L1235.6,3012.6 L1236.4,3008.9 L1237.1,3013.2 L1237.9,3016.6 L1238.7,3009.9 L1239.5,3011.7 L1240.2,3013.4 L1241.0,3012.4 L1241.8,3013.5 L1242.6,3012.7 L1243.3,3017.1 L1244.1,3014.6 L1244.9,3009.0 L1245.6,3011.7 L1246.4,3008.5 L1247.2,3006.2 L1248.0,3006.8 L1248.7,3010.1 L1249.5,3009.6 L1250.3,3009.5 L1251.1,3009.6 L1251.8,3014.6 L1252.6,3010.8 L1253.4,3009.1 L1254.1,3006.9 L1254.9,3012.6 L1255.7,3016.9 L1256.5,3010.1 L1257.2,3011.6 L1258.0,3010.8 L1258.8,3009.9 L1259.6,3013.6 L1260.3,3013.3 L1261.1,3007.1 L1261.9,3010.9 L1262.7,3011.3 L1263.4,3011.3 L1264.2,3011.6 L1265.0,3011.2 L1265.7,3011.1 L1266.5,3010.0 L1267.3,3012.2 L1268.1,3012.2 L1268.8,3009.0 L1269.6,3009.7 L1270.3,3005.4 L1271.1,3012.7 L1271.8,3013.2 L1272.6,3008.6 L1273.3,3009.3 L1274.0,3007.1 L1274.8,3009.3 L1275.5,3014.9 L1276.3,3009.1 L1277.0,3007.6 L1277.7,3007.8 L1278.5,3010.0 L1279.2,3012.5 L1279.9,3005.3 L1280.7,3006.5 L1281.4,3012.4 L1282.2,3010.0 L1282.9,3006.1 L1283.6,3004.3 L1284.4,3007.4 L1285.1,3006.3 L1285.8,3007.3 L1286.6,3006.3 L1287.4,3005.5 L1288.2,3004.4 L1288.9,3002.3 L1289.7,3007.4 L1290.5,3004.0 L1291.3,3001.6 L1292.0,3001.8 L1292.8,3000.9 L1293.6,3005.5 L1294.3,3000.9 L1295.1,3008.1 L1295.9,2999.6 L1296.7,3004.9 L1297.4,3003.7 L1298.2,3000.9 L1299.0,3002.4 L1299.8,3000.0 L1300.5,3001.7 L1301.3,3000.1 L1302.1,2998.5 L1302.8,3001.3 L1303.6,2996.5 L1304.3,2999.0 L1305.0,2994.1 L1305.8,2998.4 L1306.5,2994.3 L1307.2,2999.5 L1308.0,2998.9 L1308.7,2996.0 L1309.5,2995.5 L1310.2,2997.9 L1310.9,2998.1 L1311.7,2999.0 L1312.4,2996.2 L1313.1,3000.3 L1313.9,2996.8 L1314.6,2996.8 L1315.4,2994.8 L1316.1,2998.0 L1316.8,2992.8 L1317.6,2999.4 L1318.3,3001.6 L1319.1,2999.0 L1319.9,2994.1 L1320.7,2995.4 L1321.6,2993.2 L1322.4,2996.1 L1323.2,2993.2 L1324.0,2998.0 L1324.8,2999.5 L1325.6,2993.0 L1326.4,2993.7 L1327.2,2996.5 L1328.1,2997.5 L1328.9,2996.9 L1329.7,2992.9 L1330.5,2995.7 L1331.3,2995.4 L1332.1,2996.6 L1332.9,2999.2 L1333.7,2998.4 L1334.5,2995.4 L1335.3,2995.4 L1336.1,2997.2 L1336.9,2993.6 L1337.6,2992.3 L1338.4,2994.5 L1339.2,2991.6 L1340.0,2988.9 L1340.7,2987.1 L1341.5,2985.4 L1342.3,2986.6 L1343.0,2992.0 L1343.8,2994.6 L1344.6,2992.8 L1345.4,2987.4 L1346.1,2991.1 L1346.9,2992.5 L1347.7,2992.6 L1348.5,2988.8 L1349.2,2988.0 L1350.0,2987.7 L1350.8,2994.1 L1351.6,2992.6 L1352.3,2991.9 L1353.1,2988.9 L1353.9,2988.2 L1354.6,2989.8 L1355.4,2991.1 L1356.2,2990.1 L1357.0,2983.3 L1357.7,2988.0 L1358.5,2983.6 L1359.3,2988.9 L1360.1,2984.6 L1360.8,2988.2 L1361.6,2983.4 L1362.4,2985.0 L1363.1,2986.6 L1363.9,2989.5 L1364.7,2987.9 L1365.5,2987.1 L1366.2,2986.5 L1367.0,2986.9 L1367.6,2984.1 L1368.1,2987.6 L1368.6,2984.3 L1369.2,2981.8 L1369.7,2986.5 L1370.3,2983.6 L1370.8,2982.5 L1371.4,2984.6 L1371.9,2979.9 L1372.4,2980.9 L1373.0,2979.0 L1373.5,2981.2 L1374.1,2978.9 L1374.6,2978.4 L1375.1,2979.6 L1375.7,2977.0 L1376.2,2976.3 L1377.0,2977.5 L1377.9,2978.2 L1378.7,2970.2 L1379.5,2971.6 L1380.3,2974.9 L1381.1,2978.2 L1381.9,2978.1 L1382.7,2977.7 L1383.5,2970.8 L1384.4,2978.6 L1385.2,2974.6 L1386.0,2974.6 L1386.8,2974.9 L1387.6,2974.7 L1388.4,2976.3 L1389.2,2971.2 L1390.0,2975.8 L1390.8,2979.1 L1391.7,2977.0 L1392.5,2976.5 L1393.2,2975.3 L1394.0,2976.6 L1394.8,2975.5 L1395.6,2976.1 L1396.3,2974.2 L1397.1,2969.7 L1397.9,2972.5 L1398.7,2973.9 L1399.4,2970.9 L1400.2,2976.7 L1401.0,2969.5 L1401.7,2970.6 L1402.5,2971.3 L1403.3,2972.4 L1404.1,2974.4 L1404.8,2970.5 L1405.6,2972.3 L1406.4,2971.8 L1407.2,2974.1 L1407.9,2971.4 L1408.7,2973.2 L1409.5,2967.6 L1410.3,2970.6 L1411.1,2971.4 L1411.9,2972.2 L1412.8,2969.5 L1413.6,2970.7 L1414.4,2970.5 L1415.2,2971.9 L1416.0,2969.3 L1416.8,2971.0 L1417.6,2972.8 L1418.4,2974.3 L1419.3,2972.5 L1420.1,2975.1 L1420.9,2973.4 L1421.7,2969.9 L1422.5,2972.2 L1423.3,2973.3 L1424.1,2971.1 L1424.9,2969.4 L1425.7,2969.8 L1426.5,2969.6 L1427.3,2969.0 L1428.0,2970.7 L1428.8,2966.2 L1429.6,2972.7 L1430.3,2971.9 L1431.1,2967.5 L1431.9,2968.3 L1432.7,2967.9 L1433.4,2971.9 L1434.2,2969.8 L1435.0,2965.1 L1435.8,2966.8 L1436.5,2968.8 L1437.3,2965.3 L1438.1,2968.6 L1438.8,2966.6 L1439.6,2967.8 L1440.4,2969.4 L1441.2,2969.8 L1441.9,2967.1 L1442.7,2968.8 L1443.5,2963.3 L1444.3,2964.3 L1445.0,2965.6 L1445.8,2967.3 L1446.6,2969.7 L1447.4,2965.8 L1448.1,2962.8 L1448.9,2962.2 L1449.7,2959.2 L1450.4,2962.8 L1451.2,2966.2 L1452.0,2961.6 L1452.8,2963.9 L1453.5,2964.3 L1454.3,2957.8 L1455.1,2965.0 L1455.9,2965.9 L1456.6,2960.2 L1457.4,2964.8 L1458.1,2962.6 L1458.9,2966.2 L1459.6,2966.0 L1460.4,2963.3 L1461.1,2960.7 L1461.8,2962.5 L1462.6,2962.1 L1463.3,2961.3 L1464.0,2957.5 L1464.8,2954.5 L1465.5,2956.4 L1466.3,2957.2 L1467.0,2956.8 L1467.7,2957.5 L1468.5,2958.4 L1469.2,2958.7 L1469.9,2958.5 L1470.7,2959.4 L1471.4,2959.3 L1472.2,2957.8 L1472.9,2957.1 L1473.6,2954.4 L1474.3,2953.8 L1475.0,2953.5 L1475.7,2951.2 L1476.3,2950.8 L1477.0,2951.6 L1477.7,2951.0 L1478.4,2952.9 L1479.0,2952.0 L1479.7,2953.8 L1480.4,2951.4 L1481.1,2948.7 L1481.8,2951.0 L1482.4,2947.9 L1483.1,2950.0 L1483.8,2950.2 L1484.5,2946.2 L1485.1,2950.2 L1485.8,2945.6 L1486.5,2949.5 L1487.2,2943.8 L1487.8,2951.3 L1488.5,2949.2 L1489.2,2943.5 L1489.9,2950.0 L1490.7,2944.0 L1491.5,2944.1 L1492.3,2942.8 L1493.1,2941.4 L1493.9,2944.7 L1494.7,2946.2 L1495.6,2945.9 L1496.4,2938.3 L1497.2,2941.5 L1498.0,2944.3 L1498.8,2945.0 L1499.6,2943.9 L1500.4,2944.8 L1501.2,2942.0 L1502.0,2943.8 L1502.9,2947.2 L1503.7,2944.1 L1504.5,2945.6 L1505.3,2944.1 L1506.1,2947.6 L1506.9,2943.3 L1507.6,2944.6 L1508.4,2943.8 L1509.2,2945.8 L1510.0,2945.0 L1510.7,2941.4 L1511.5,2948.4 L1512.3,2943.0 L1513.1,2949.2 L1513.8,2945.6 L1514.6,2943.6 L1515.4,2943.4 L1516.2,2944.0 L1516.9,2939.1 L1517.7,2942.5 L1518.5,2939.7 L1519.2,2937.7 L1520.0,2942.3 L1520.8,2938.6 L1521.6,2943.4 L1522.3,2943.8 L1523.1,2939.8 L1524.0,2939.3 L1524.8,2943.6 L1525.6,2939.1 L1526.4,2938.8 L1527.2,2944.6 L1528.0,2938.2 L1528.8,2937.6 L1529.6,2942.1 L1530.5,2939.7 L1531.3,2942.6 L1532.1,2944.4 L1532.9,2941.2 L1533.7,2936.5 L1534.5,2943.3 L1535.3,2941.3 L1536.1,2937.9 L1536.9,2944.4 L1537.8,2936.9 L1538.6,2941.6 L1539.3,2935.9 L1540.1,2933.7 L1540.9,2937.1 L1541.7,2939.3 L1542.4,2937.8 L1543.2,2942.0 L1544.0,2935.9 L1544.8,2937.8 L1545.5,2938.1 L1546.3,2937.0 L1547.1,2936.2 L1547.8,2930.5 L1548.6,2937.4 L1549.4,2935.6 L1550.2,2935.6 L1550.9,2937.2 L1551.7,2935.9 L1552.5,2927.8 L1553.3,2934.9 L1554.0,2935.0 L1554.8,2934.0 L1555.6,2935.1 L1556.4,2933.6 L1557.2,2929.6 L1558.1,2935.0 L1558.9,2929.0 L1559.7,2936.3 L1560.5,2934.2 L1561.3,2940.0 L1562.1,2933.7 L1562.9,2930.9 L1563.7,2937.3 L1564.5,2935.9 L1565.4,2936.5 L1566.2,2929.9 L1567.0,2932.4 L1567.8,2939.0 L1568.6,2942.2 L1569.4,2931.2 L1570.2,2935.5 L1571.0,2937.2 L1571.9,2933.9 L1572.7,2933.7 L1573.5,2932.1 L1574.3,2931.0 L1575.1,2933.3 L1575.9,2933.5 L1576.7,2933.3 L1577.5,2934.0 L1578.3,2937.4 L1579.2,2930.5 L1580.0,2932.5 L1580.8,2933.7 L1581.6,2935.1 L1582.4,2931.1 L1583.2,2937.3 L1584.0,2938.9 L1584.8,2933.6 L1585.6,2937.5 L1586.5,2933.3 L1587.3,2930.9 L1588.0,2933.1 L1588.8,2938.8 L1589.6,2936.8 L1590.4,2932.4 L1591.1,2933.2 L1591.9,2932.1 L1592.7,2939.2 L1593.5,2935.0 L1594.2,2937.6 L1595.0,2938.6 L1595.8,2936.7 L1596.5,2939.0 L1597.3,2940.5 L1598.1,2936.7 L1598.9,2939.4 L1599.6,2929.6 L1600.4,2931.1 L1601.2,2935.2 L1602.0,2930.9 L1602.7,2933.6 L1603.5,2931.7 L1604.2,2933.2 L1605.0,2934.0 L1605.7,2938.2 L1606.5,2936.4 L1607.2,2932.4 L1607.9,2936.1 L1608.7,2932.8 L1609.4,2930.1 L1610.1,2929.9 L1610.9,2931.7 L1611.6,2928.5 L1612.4,2927.9 L1613.1,2926.2 L1613.8,2930.4 L1614.6,2927.5 L1615.3,2932.0 L1616.1,2926.0 L1616.8,2924.6 L1617.5,2926.4 L1618.3,2924.2 L1619.0,2928.8 L1619.7,2926.4 L1620.5,2923.8 L1621.3,2927.1 L1622.1,2924.7 L1622.8,2921.6 L1623.6,2926.9 L1624.4,2924.4 L1625.2,2922.1 L1625.9,2926.5 L1626.7,2925.6 L1627.5,2922.4 L1628.2,2924.2 L1629.0,2924.6 L1629.8,2925.5 L1630.6,2926.6 L1631.3,2924.0 L1632.1,2928.2 L1632.9,2919.5 L1633.7,2921.4 L1634.4,2922.3 L1635.2,2923.6 L1636.0,2920.8 L1636.8,2922.6 L1637.6,2924.0 L1638.4,2919.4 L1639.2,2920.3 L1640.0,2919.4 L1640.8,2922.0 L1641.7,2923.2 L1642.5,2925.2 L1643.3,2925.1 L1644.1,2921.5 L1644.9,2921.5 L1645.7,2923.4 L1646.5,2922.3 L1647.3,2926.0 L1648.1,2921.7 L1649.0,2926.5 L1649.8,2922.5 L1650.6,2925.6 L1651.4,2926.2 L1652.2,2926.0 L1653.0,2921.2 L1653.8,2921.6 L1654.5,2924.6 L1655.3,2920.9 L1656.1,2926.5 L1656.8,2925.1 L1657.6,2920.6 L1658.4,2925.9 L1659.2,2918.7 L1659.9,2919.8 L1660.7,2924.3 L1661.5,2922.6 L1662.3,2917.4 L1663.0,2918.8 L1663.8,2920.3 L1664.6,2917.3 L1665.3,2923.9 L1666.1,2921.8 L1666.9,2922.2 L1667.7,2920.6 L1668.4,2919.1 L1669.2,2916.0 L1669.9,2918.2 L1670.7,2916.3 L1671.4,2922.0 L1672.1,2919.9 L1672.9,2917.4 L1673.6,2918.6 L1674.3,2914.2 L1675.1,2919.4 L1675.8,2915.3 L1676.6,2913.7 L1677.3,2915.1 L1678.0,2913.2 L1678.8,2909.0 L1679.5,2912.7 L1680.2,2910.3 L1681.0,2912.3 L1681.7,2913.4 L1682.5,2913.1 L1683.2,2909.3 L1683.9,2910.5 L1684.7,2909.5 L1685.4,2911.4 L1686.2,2912.9 L1687.0,2912.3 L1687.8,2908.6 L1688.5,2910.3 L1689.3,2912.5 L1690.1,2909.5 L1690.9,2907.7 L1691.6,2912.6 L1692.4,2908.9 L1693.2,2909.1 L1694.0,2909.4 L1694.7,2906.9 L1695.5,2911.2 L1696.3,2913.5 L1697.0,2908.1 L1697.8,2906.9 L1698.6,2909.0 L1699.4,2906.5 L1700.1,2911.0 L1700.9,2909.1 L1701.7,2913.0 L1702.5,2909.8 L1703.3,2910.9 L1704.2,2909.0 L1705.0,2904.8 L1705.8,2908.3 L1706.6,2910.1 L1707.4,2908.5 L1708.2,2910.5 L1709.0,2913.8 L1709.8,2907.1 L1710.6,2909.1 L1711.5,2907.5 L1712.3,2909.8 L1713.1,2906.9 L1713.9,2908.4 L1714.7,2909.5 L1715.5,2911.4 L1716.3,2904.9 L1717.1,2903.5 L1717.9,2906.7 L1718.7,2906.3 L1719.5,2905.2 L1720.2,2910.5 L1721.0,2906.4 L1721.8,2908.3 L1722.6,2907.6 L1723.3,2905.7 L1724.1,2904.8 L1724.9,2905.9 L1725.6,2901.1 L1726.4,2904.7 L1727.2,2902.4 L1728.0,2906.2 L1728.7,2901.3 L1729.5,2899.2 L1730.3,2902.5 L1731.1,2903.1 L1731.8,2906.7 L1732.6,2903.0 L1733.4,2903.6 L1734.1,2897.1 L1734.9,2904.0 L1735.6,2904.2 L1736.3,2902.1 L1737.1,2897.2 L1737.8,2898.1 L1738.5,2901.0 L1739.3,2903.4 L1740.0,2895.2 L1740.8,2899.3 L1741.5,2900.7 L1742.2,2898.7 L1743.0,2902.1 L1743.7,2893.6 L1744.4,2897.4 L1745.2,2893.3 L1745.9,2891.8 L1746.7,2895.2 L1747.4,2893.2 L1748.1,2894.3 L1748.9,2893.4 L1749.6,2897.1 L1750.4,2892.7 L1751.2,2894.1 L1752.0,2893.1 L1752.9,2895.3 L1753.7,2897.1 L1754.5,2899.1 L1755.3,2898.7 L1756.1,2893.8 L1756.9,2896.4 L1757.7,2897.0 L1758.5,2892.4 L1759.4,2892.4 L1760.2,2892.6 L1761.0,2894.7 L1761.8,2892.6 L1762.6,2892.5 L1763.4,2895.1 L1764.2,2890.0 L1765.0,2894.5 L1765.8,2892.8 L1766.6,2892.7 L1767.4,2896.0 L1768.2,2887.8 L1768.9,2895.6 L1769.7,2895.9 L1770.5,2894.3 L1771.3,2892.4 L1772.0,2888.2 L1772.8,2888.8 L1773.6,2895.7 L1774.3,2891.3 L1775.1,2890.0 L1775.9,2895.1 L1776.7,2891.2 L1777.4,2889.2 L1778.2,2890.3 L1779.0,2892.4 L1779.8,2886.3 L1780.5,2892.0 L1781.3,2890.7 L1782.1,2891.3 L1782.9,2891.9 L1783.6,2892.5 L1784.4,2890.5 L1785.2,2891.4 L1785.9,2895.3 L1786.7,2890.3 L1787.5,2891.8 L1788.3,2892.5 L1789.0,2889.5 L1789.8,2885.9 L1790.6,2883.7 L1791.4,2886.6 L1792.1,2888.8 L1792.9,2886.9 L1793.7,2891.4 L1794.4,2887.6 L1795.2,2885.6 L1796.0,2886.2 L1796.8,2889.3 L1797.5,2887.1 L1798.3,2887.9 L1799.1,2891.7 L1799.9,2894.3 L1800.6,2888.0 L1801.4,2888.2 L1802.2,2891.0 L1802.9,2889.6 L1803.7,2890.5 L1804.5,2883.9 L1805.3,2883.8 L1806.0,2885.4 L1806.8,2884.6 L1807.6,2889.9 L1808.4,2884.8 L1809.1,2882.8 L1809.9,2888.7 L1810.7,2876.6 L1811.5,2887.0 L1812.2,2885.5 L1813.0,2883.7 L1813.8,2882.1 L1814.5,2886.5 L1815.4,2882.8 L1816.2,2886.3 L1817.0,2883.2 L1817.8,2881.9 L1818.6,2885.6 L1819.4,2883.5 L1820.2,2888.6 L1821.0,2886.8 L1821.9,2886.0 L1822.7,2885.1 L1823.5,2881.2 L1824.3,2887.4 L1825.1,2884.9 L1825.9,2883.6 L1826.7,2886.4 L1827.5,2889.7 L1828.3,2882.2 L1829.2,2884.5 L1830.0,2881.8 L1830.8,2883.9 L1831.6,2886.4 L1832.4,2885.1 L1833.2,2886.8 L1834.0,2886.4 L1834.8,2889.0 L1835.6,2884.3 L1836.5,2881.8 L1837.3,2884.7 L1838.1,2886.5 L1838.9,2885.3 L1839.7,2883.3 L1840.5,2884.2 L1841.3,2883.0 L1842.1,2885.5 L1843.0,2881.5 L1843.8,2881.8 L1844.6,2880.9 L1845.4,2881.1 L1846.2,2885.8 L1847.0,2879.0 L1847.7,2884.1 L1848.4,2881.2 L1849.0,2878.1 L1849.7,2878.2 L1850.4,2880.4 L1851.0,2878.9 L1851.7,2879.2 L1852.4,2880.1 L1853.0,2876.6 L1853.7,2879.6 L1854.4,2878.2 L1855.0,2876.1 L1855.7,2878.4 L1856.4,2879.8 L1857.1,2878.5 L1857.7,2878.8 L1858.4,2876.4 L1859.1,2878.3 L1859.7,2875.6 L1860.4,2872.5 L1861.1,2871.2 L1861.7,2871.4 L1862.4,2871.0 L1863.1,2872.1 L1863.7,2873.4 L1864.4,2874.3 L1865.2,2873.2 L1865.9,2869.5 L1866.7,2871.6 L1867.5,2873.7 L1868.2,2875.4 L1869.0,2870.3 L1869.8,2871.0 L1870.5,2871.8 L1871.3,2868.4 L1872.1,2871.6 L1872.8,2867.1 L1873.6,2871.7 L1874.3,2869.4 L1875.1,2862.6 L1875.9,2865.6 L1876.6,2866.6 L1877.4,2868.2 L1878.2,2866.8 L1879.0,2868.6 L1879.8,2872.7 L1880.6,2868.1 L1881.5,2869.9 L1882.3,2865.4 L1883.1,2864.7 L1883.9,2865.5 L1884.7,2866.2 L1885.5,2863.8 L1886.3,2865.7 L1887.1,2865.3 L1888.0,2865.3 L1888.8,2867.1 L1889.6,2865.9 L1890.4,2864.1 L1891.2,2867.6 L1892.0,2865.0 L1892.8,2869.7 L1893.6,2862.0 L1894.4,2867.8 L1895.2,2866.7 L1896.0,2868.8 L1896.7,2869.6 L1897.5,2867.2 L1898.3,2864.0 L1899.0,2865.1 L1899.8,2864.4 L1900.6,2864.6 L1901.4,2863.7 L1902.1,2864.8 L1902.9,2866.3 L1903.7,2864.8 L1904.5,2865.2 L1905.2,2864.7 L1906.0,2868.5 L1906.8,2864.3 L1907.6,2867.5 L1908.3,2865.8 L1909.1,2865.6 L1909.9,2861.8 L1910.7,2865.1 L1911.5,2861.8 L1912.3,2867.0 L1913.1,2867.5 L1913.9,2863.7 L1914.7,2864.3 L1915.6,2864.4 L1916.4,2863.2 L1917.2,2863.4 L1918.0,2865.3 L1918.8,2866.6 L1919.6,2863.7 L1920.4,2868.1 L1921.2,2863.6 L1922.0,2864.3 L1922.9,2865.0 L1923.7,2862.8 L1924.5,2854.2 L1925.3,2865.0 L1926.1,2865.1 L1926.8,2862.7 L1927.6,2863.3 L1928.3,2863.4 L1929.1,2859.5 L1929.8,2864.1 L1930.5,2864.9 L1931.3,2857.3 L1932.0,2855.4 L1932.7,2862.2 L1933.5,2859.6 L1934.2,2861.3 L1935.0,2858.3 L1935.7,2858.8 L1936.4,2858.1 L1937.2,2861.2 L1937.9,2859.1 L1938.6,2861.6 L1939.4,2854.7 L1940.1,2857.3 L1940.9,2854.2 L1941.6,2857.4 L1942.3,2854.5 L1943.1,2858.5 L1943.9,2856.5 L1944.7,2855.9 L1945.4,2855.3 L1946.2,2857.2 L1947.0,2855.3 L1947.7,2858.6 L1948.5,2855.5 L1949.3,2858.3 L1950.1,2852.4 L1950.8,2851.8 L1951.6,2852.4 L1952.4,2851.9 L1953.2,2853.8 L1953.9,2848.1 L1954.7,2853.4 L1955.5,2848.1 L1956.3,2855.4 L1957.0,2856.9 L1957.8,2854.5 L1958.6,2852.3 L1959.4,2852.8 L1960.2,2852.8 L1961.0,2851.1 L1961.8,2854.2 L1962.6,2851.9 L1963.4,2852.3 L1964.3,2851.8 L1965.1,2853.8 L1965.9,2853.5 L1966.7,2852.7 L1967.5,2849.3 L1968.3,2852.6 L1969.1,2849.8 L1969.9,2853.9 L1970.7,2852.3 L1971.6,2854.2 L1972.4,2852.0 L1973.2,2858.1 L1974.0,2854.7 L1974.8,2855.1 L1975.6,2853.4 L1976.4,2855.6 L1977.2,2850.9 L1978.1,2852.7 L1978.9,2852.6 L1979.7,2850.4 L1980.5,2849.8 L1981.3,2851.0 L1982.1,2852.8 L1982.9,2853.7 L1983.7,2851.5 L1984.5,2854.2 L1985.4,2851.0 L1986.2,2854.0 L1987.0,2851.9 L1987.8,2848.0 L1988.6,2850.0 L1989.4,2850.3 L1990.2,2854.2 L1991.0,2851.5 L1991.8,2853.4 L1992.5,2854.4 L1993.3,2856.9 L1994.0,2856.4 L1994.7,2852.5 L1995.5,2849.2 L1996.2,2854.5 L1996.9,2852.1 L1997.7,2852.1 L1998.4,2852.8 L1999.2,2851.2 L1999.9,2853.0 L2000.6,2852.3 L2001.4,2850.7 L2002.1,2851.9 L2002.8,2852.8 L2003.6,2855.9 L2004.3,2854.5 L2005.1,2849.4 L2005.8,2854.4 L2006.5,2849.9 L2007.3,2853.2 L2008.0,2848.8 L2008.8,2850.0 L2009.6,2849.9 L2010.4,2846.5 L2011.1,2845.7 L2011.9,2847.4 L2012.7,2843.0 L2013.5,2844.1 L2014.2,2850.0 L2015.0,2844.4 L2015.8,2849.8 L2016.5,2845.5 L2017.3,2840.7 L2018.1,2845.4 L2018.9,2843.7 L2019.6,2844.1 L2020.4,2842.4 L2021.2,2841.5 L2022.0,2844.3 L2022.7,2844.3 L2023.5,2844.2 L2024.3,2843.5 L2025.1,2840.9 L2025.8,2841.3 L2026.6,2841.5 L2027.4,2845.3 L2028.1,2842.3 L2028.9,2843.5 L2029.7,2842.1 L2030.5,2843.5 L2031.2,2846.7 L2032.0,2841.9 L2032.8,2841.5 L2033.6,2841.1 L2034.3,2842.5 L2035.1,2842.6 L2035.9,2842.2 L2036.6,2841.3 L2037.4,2838.1 L2038.2,2839.5 L2039.0,2843.8 L2039.7,2844.5 L2040.5,2837.7 L2041.2,2839.4 L2042.0,2836.5 L2042.7,2837.3 L2043.4,2837.6 L2044.2,2837.9 L2044.9,2838.3 L2045.6,2836.7 L2046.4,2839.0 L2047.1,2834.3 L2047.9,2838.4 L2048.6,2834.7 L2049.3,2841.4 L2050.1,2840.5 L2050.8,2837.7 L2051.5,2832.4 L2052.3,2835.9 L2053.0,2833.0 L2053.8,2835.9 L2054.5,2835.8 L2055.2,2835.7 L2056.0,2835.7 L2056.8,2835.9 L2057.6,2838.4 L2058.4,2833.1 L2059.2,2836.6 L2060.0,2831.5 L2060.8,2834.1 L2061.7,2836.9 L2062.5,2829.2 L2063.3,2833.0 L2064.1,2836.1 L2064.9,2833.3 L2065.7,2833.7 L2066.5,2830.9 L2067.3,2835.9 L2068.1,2832.3 L2069.0,2832.1 L2069.8,2832.8 L2070.6,2834.7 L2071.4,2836.0 L2072.2,2836.1 L2073.0,2836.2 L2073.8,2834.2 L2074.5,2834.2 L2075.3,2828.8 L2076.1,2828.4 L2076.8,2826.4 L2077.6,2833.4 L2078.4,2831.9 L2079.2,2826.4 L2079.9,2828.6 L2080.7,2825.3 L2081.5,2827.5 L2082.3,2827.0 L2083.0,2827.6 L2083.8,2828.1 L2084.6,2832.4 L2085.3,2831.2 L2086.1,2830.2 L2086.9,2829.9 L2087.7,2831.2 L2088.4,2830.7 L2089.2,2828.2 L2090.0,2828.7 L2090.8,2830.8 L2091.5,2833.2 L2092.3,2824.9 L2093.1,2829.6 L2093.9,2828.7 L2094.6,2827.6 L2095.4,2824.9 L2096.2,2828.5 L2096.9,2824.7 L2097.7,2817.7 L2098.5,2828.1 L2099.3,2826.0 L2100.0,2821.0 L2100.8,2827.8 L2101.6,2824.0 L2102.4,2825.9 L2103.1,2825.7 L2103.9,2823.3 L2104.7,2825.7 L2105.5,2829.0 L2106.3,2825.7 L2107.1,2828.1 L2107.9,2824.8 L2108.7,2824.0 L2109.5,2826.7 L2110.4,2823.2 L2111.2,2826.8 L2112.0,2825.9 L2112.8,2825.6 L2113.6,2826.6 L2114.4,2830.0 L2115.2,2823.2 L2116.0,2825.6 L2116.9,2824.2 L2117.7,2824.9 L2118.5,2819.4 L2119.3,2822.0 L2120.1,2821.4 L2120.9,2826.8 L2121.7,2822.6 L2122.5,2821.2 L2123.3,2824.9 L2124.2,2825.5 L2125.0,2826.5 L2125.8,2824.0 L2126.6,2824.6 L2127.4,2825.2 L2128.2,2826.9 L2129.0,2826.2 L2129.8,2825.4 L2130.6,2822.6 L2131.5,2824.9 L2132.3,2825.7 L2133.1,2827.5 L2133.9,2821.9 L2134.7,2827.7 L2135.5,2824.1 L2136.3,2822.6 L2137.1,2822.5 L2137.9,2823.5 L2138.7,2818.0 L2139.5,2819.9 L2140.2,2822.3 L2141.0,2821.7 L2141.8,2825.0 L2142.6,2822.9 L2143.3,2822.7 L2144.1,2822.2 L2144.9,2817.3 L2145.6,2820.8 L2146.4,2823.3 L2147.2,2821.2 L2148.0,2822.8 L2148.7,2823.6 L2149.5,2820.5 L2150.3,2822.7 L2151.1,2823.4 L2151.8,2825.5 L2152.6,2817.3 L2153.4,2822.5 L2154.1,2822.0 L2154.9,2822.5 L2155.7,2824.0 L2156.5,2826.5 L2157.2,2821.4 L2158.0,2817.4 L2158.8,2820.6 L2159.6,2818.1 L2160.3,2818.4 L2161.1,2820.5 L2161.9,2821.9 L2162.7,2817.6 L2163.4,2820.6 L2164.2,2820.7 L2165.0,2818.6 L2165.7,2821.1 L2166.5,2817.3 L2167.3,2820.9 L2168.1,2821.9 L2168.8,2823.1 L2169.6,2821.7 L2170.4,2824.5 L2171.2,2821.6 L2172.0,2820.7 L2172.8,2816.4 L2173.6,2817.8 L2174.4,2822.7 L2175.2,2825.7 L2176.0,2825.6 L2176.8,2822.2 L2177.6,2823.0 L2178.4,2825.3 L2179.2,2822.4 L2180.0,2826.1" stroke="#00ff00"/>
<path d="M435.7,3335.1 L435.7,3334.4 L435.8,3333.6 L435.8,3332.8 L435.9,3332.1 L435.9,3331.1 L435.9,3330.4 L436.0,3329.6 L436.0,3328.8 L436.0,3327.9 L436.1,3327.1 L436.1,3326.4 L436.1,3325.5 L436.2,3324.4 L436.2,3323.8 L436.2,3323.1 L436.3,3322.2 L436.3,3321.5 L436.3,3320.7 L436.4,3319.8 L436.4,3319.1 L436.4,3318.2 L436.5,3317.4 L436.5,3316.7 L436.5,3315.9 L436.6,3315.1 L436.6,3314.2 L436.6,3313.6 L436.7,3312.8 L436.7,3312.1 L436.7,3311.2 L436.8,3310.3 L436.8,3309.7 L436.8,3308.8 L436.9,3308.2 L436.9,3307.2 L436.9,3306.1 L437.0,3305.7 L437.0,3304.8 L437.0,3304.0 L437.1,3303.0 L437.1,3302.5 L437.1,3301.6 L437.2,3300.9 L437.2,3300.0 L437.3,3299.1 L437.3,3298.6 L437.3,3297.6 L437.4,3297.0 L437.4,3296.1 L437.4,3295.3 L437.5,3294.3 L437.5,3293.5 L437.5,3292.8 L437.6,3292.2 L437.6,3291.2 L437.6,3290.6 L437.7,3289.6 L437.7,3288.7 L437.8,3287.8 L437.9,3287.2 L437.9,3286.7 L438.0,3285.3 L438.1,3284.9 L438.2,3284.1 L438.2,3283.3 L438.3,3282.3 L438.4,3281.7 L438.4,3280.9 L438.5,3280.2 L438.6,3279.6 L438.7,3278.5 L438.7,3277.7 L438.8,3277.1 L438.9,3276.4 L438.9,3275.6 L439.0,3274.4 L439.1,3274.1 L439.2,3272.7 L439.2,3272.4 L439.3,3271.7 L439.4,3270.8 L439.4,3269.8 L439.5,3268.8 L439.6,3268.5 L439.7,3267.5 L439.7,3266.6 L439.8,3265.7 L439.9,3265.2 L439.9,3264.1 L440.0,3263.4 L440.1,3262.9 L440.2,3262.0 L440.2,3261.3 L440.3,3260.3 L440.4,3259.5 L440.4,3258.6 L440.5,3258.2 L440.6,3257.0 L440.7,3256.6 L440.9,3254.9 L441.0,3254.3 L441.2,3253.7 L441.3,3253.6 L441.5,3252.3 L441.6,3252.4 L441.8,3250.9 L441.9,3249.1 L442.1,3249.1 L442.2,3247.5 L442.4,3247.7 L442.5,3246.6 L442.7,3246.2 L442.8,3244.9 L442.9,3244.0 L443.1,3242.7 L443.2,3242.6 L443.4,3241.6 L443.5,3242.1 L443.7,3240.9 L443.8,3240.1 L444.0,3238.7 L444.1,3237.8 L444.3,3237.0 L444.4,3236.6 L444.6,3236.2 L444.7,3235.7 L444.9,3233.1 L445.0,3233.4 L445.2,3232.0 L445.3,3231.4 L445.5,3231.3 L445.7,3230.5 L446.0,3228.6 L446.3,3228.8 L446.6,3227.7 L446.9,3227.9 L447.2,3227.8 L447.5,3225.4 L447.8,3227.0 L448.1,3224.4 L448.4,3224.8 L448.7,3224.6 L449.0,3222.7 L449.3,3222.0 L449.6,3222.0 L449.9,3219.7 L450.2,3218.4 L450.5,3220.7 L450.8,3218.1 L451.1,3217.9 L451.4,3217.9 L451.7,3215.9 L451.9,3215.9 L452.4,3215.9 L452.8,3214.0 L453.2,3215.5 L453.7,3214.3 L454.1,3211.3 L454.5,3211.6 L454.9,3210.7 L455.4,3210.1 L455.8,3211.5 L456.2,3209.8 L456.6,3208.5 L457.1,3207.4 L457.5,3205.9 L457.9,3207.6 L458.4,3204.0 L458.8,3207.5 L459.2,3203.7 L459.6,3203.0 L460.1,3200.0 L460.5,3202.7 L461.0,3201.0 L461.5,3198.7 L462.0,3197.1 L462.5,3197.6 L462.9,3198.7 L463.4,3198.6 L463.9,3195.8 L464.4,3195.5 L464.8,3196.0 L465.3,3192.5 L465.8,3193.9 L466.3,3193.1 L466.7,3191.1 L467.2,3192.1 L467.7,3190.2 L468.2,3189.8 L468.7,3189.0 L469.3,3189.9 L469.8,3190.4 L470.3,3187.9 L470.9,3188.1 L471.4,3188.9 L472.0,3189.4 L472.5,3188.3 L473.1,3182.2 L473.6,3185.9 L474.1,3182.3 L474.7,3181.6 L475.2,3182.7 L475.8,3181.8 L476.3,3178.2 L476.8,3179.4 L477.4,3181.5 L477.9,3179.1 L478.5,3176.4 L479.0,3179.7 L479.5,3177.3 L480.1,3174.8 L480.6,3177.1 L481.2,3172.6 L481.7,3172.1 L482.3,3175.1 L482.9,3171.4 L483.4,3173.4 L484.0,3168.9 L484.6,3169.6 L485.1,3169.6 L485.7,3169.0 L486.3,3171.6 L486.8,3168.6 L487.4,3170.7 L487.9,3168.3 L488.5,3167.8 L489.1,3168.0 L489.6,3166.3 L490.2,3165.4 L490.8,3163.2 L491.3,3165.9 L491.9,3164.5 L492.5,3162.5 L493.0,3164.2 L493.6,3163.3 L494.2,3162.7 L494.7,3163.1 L495.2,3161.9 L495.8,3162.1 L496.3,3162.4 L496.9,3160.7 L497.4,3157.8 L497.9,3159.8 L498.5,3159.0 L499.0,3159.9 L499.6,3154.6 L500.1,3156.6 L500.6,3154.4 L501.2,3154.6 L501.7,3153.8 L502.3,3153.2 L502.8,3152.7 L503.4,3152.3 L503.9,3151.1 L504.4,3152.2 L505.0,3150.9 L505.5,3149.0 L506.1,3150.6 L506.6,3148.9 L507.1,3150.3 L507.7,3149.1 L508.3,3147.6 L508.9,3148.4 L509.5,3144.8 L510.1,3146.6 L510.7,3141.8 L511.3,3140.4 L511.9,3141.0 L512.5,3143.3 L513.0,3143.0 L513.6,3142.2 L514.2,3140.8 L514.8,3141.6 L515.4,3140.2 L516.0,3140.5 L516.6,3141.6 L517.2,3137.8 L517.8,3139.5 L518.4,3136.7 L518.9,3139.9 L519.5,3138.0 L520.1,3139.6 L520.9,3141.4 L521.7,3140.1 L522.4,3138.1 L523.2,3139.2 L523.9,3139.0 L524.7,3137.6 L525.5,3135.2 L526.2,3136.0 L527.0,3138.5 L527.8,3135.3 L528.5,3132.8 L529.3,3133.2 L530.1,3136.7 L530.8,3136.9 L531.6,3133.1 L532.4,3131.8 L533.1,3131.0 L533.8,3128.8 L534.4,3129.6 L535.1,3129.6 L535.7,3130.6 L536.4,3127.5 L537.0,3127.7 L537.7,3128.3 L538.3,3130.2 L539.0,3126.5 L539.6,3122.2 L540.3,3127.3 L540.9,3126.0 L541.6,3125.8 L542.2,3123.3 L542.9,3130.2 L543.5,3124.5 L544.2,3124.7 L544.8,3122.9 L545.5,3124.1 L546.1,3121.2 L546.8,3118.4 L547.5,3121.3 L548.3,3119.4 L549.0,3120.6 L549.7,3123.1 L550.4,3123.2 L551.2,3121.9 L551.9,3123.9 L552.6,3123.1 L553.3,3117.1 L554.0,3122.4 L554.8,3124.8 L555.5,3118.2 L556.2,3120.8 L556.9,3115.9 L557.6,3119.0 L558.4,3112.6 L559.1,3119.7 L559.7,3112.5 L560.2,3113.9 L560.8,3113.8 L561.3,3112.2 L561.9,3111.0 L562.5,3110.1 L563.0,3111.0 L563.6,3109.5 L564.2,3103.2 L564.7,3112.1 L565.3,3107.2 L565.9,3108.5 L566.4,3107.5 L567.0,3107.7 L567.6,3106.1 L568.1,3110.0 L568.7,3108.6 L569.3,3107.0 L569.8,3104.6 L570.4,3106.0 L570.9,3104.8 L571.5,3105.7 L572.1,3108.2 L572.8,3105.0 L573.4,3101.2 L574.1,3101.4 L574.8,3101.0 L575.5,3102.4 L576.2,3097.4 L576.9,3101.2 L577.5,3101.8 L578.2,3098.7 L578.9,3101.3 L579.6,3096.5 L580.3,3097.2 L581.0,3100.4 L581.6,3097.8 L582.3,3096.7 L583.0,3098.1 L583.7,3097.3 L584.4,3098.9 L585.1,3096.4 L585.8,3094.2 L586.6,3091.3 L587.4,3095.1 L588.2,3096.2 L588.9,3096.4 L589.7,3091.8 L590.5,3094.9 L591.2,3092.8 L592.0,3095.9 L592.8,3090.9 L593.6,3096.0 L594.3,3092.4 L595.1,3091.8 L595.9,3093.8 L596.7,3093.3 L597.4,3094.8 L598.2,3089.2 L599.0,3091.0 L599.8,3092.3 L600.5,3089.1 L601.3,3095.1 L602.0,3090.8 L602.7,3087.7 L603.5,3091.5 L604.2,3091.0 L604.9,3087.0 L605.6,3087.5 L606.3,3087.1 L607.1,3090.0 L607.8,3089.5 L608.5,3086.4 L609.2,3086.1 L610.0,3088.6 L610.7,3084.6 L611.4,3086.5 L612.1,3083.8 L612.8,3086.8 L613.6,3084.2 L614.3,3082.9 L615.0,3082.6 L615.7,3083.0 L616.5,3088.1 L617.2,3079.6 L617.9,3082.7 L618.6,3084.0 L619.3,3079.9 L620.1,3081.1 L620.8,3081.6 L621.5,3081.2 L622.2,3077.0 L622.9,3078.2 L623.7,3078.4 L624.4,3077.2 L625.1,3082.8 L625.8,3077.5 L626.6,3082.4 L627.3,3076.0 L628.1,3075.3 L628.9,3072.2 L629.7,3076.8 L630.5,3076.5 L631.3,3075.0 L632.1,3070.2 L633.0,3074.2 L633.8,3074.9 L634.6,3076.7 L635.4,3079.4 L636.2,3071.6 L637.0,3076.1 L637.8,3076.1 L638.6,3075.3 L639.4,3079.6 L640.3,3079.0 L641.1,3074.9 L641.9,3070.8 L642.7,3074.8 L643.5,3079.0 L644.1,3072.7 L644.7,3073.5 L645.3,3074.2 L645.9,3076.1 L646.5,3075.6 L647.0,3072.1 L647.6,3072.7 L648.2,3070.8 L648.8,3072.0 L649.4,3070.3 L650.0,3071.5 L650.6,3068.8 L651.2,3067.2 L651.8,3070.5 L652.4,3061.3 L653.0,3066.2 L653.5,3065.3 L654.1,3068.0 L654.7,3065.3 L655.3,3068.1 L655.9,3064.7 L656.5,3062.8 L657.3,3069.7 L658.0,3065.3 L658.8,3059.5 L659.5,3064.6 L660.3,3063.4 L661.1,3060.1 L661.8,3067.7 L662.6,3064.9 L663.4,3061.2 L664.1,3064.4 L664.9,3062.1 L665.7,3061.1 L666.4,3062.7 L667.2,3056.9 L668.0,3058.6 L668.7,3058.5 L669.5,3059.2 L670.3,3055.4 L671.1,3057.9 L671.9,3060.0 L672.7,3059.1 L673.5,3058.7 L674.4,3063.8 L675.2,3061.2 L676.0,3064.3 L676.8,3063.7 L677.6,3061.4 L678.4,3063.3 L679.2,3058.9 L680.0,3063.8 L680.8,3062.8 L681.7,3063.5 L682.5,3062.2 L683.2,3063.3 L683.8,3059.7 L684.5,3057.9 L685.2,3059.2 L685.9,3060.7 L686.6,3062.0 L687.3,3060.1 L687.9,3057.8 L688.6,3060.8 L689.3,3059.0 L690.0,3057.8 L690.7,3056.1 L691.4,3053.7 L692.0,3053.2 L692.7,3054.3 L693.4,3053.9 L694.1,3053.6 L694.8,3051.3 L695.5,3052.1 L696.1,3052.8 L696.8,3050.9 L697.5,3051.5 L698.2,3052.4 L698.9,3048.7 L699.6,3050.4 L700.2,3051.0 L700.9,3048.9 L701.6,3051.3 L702.3,3051.6 L703.0,3049.2 L703.7,3047.1 L704.3,3049.6 L705.0,3046.2 L705.7,3048.5 L706.4,3047.7 L707.1,3046.6 L707.8,3047.2 L708.4,3046.2 L709.2,3047.1 L710.0,3046.9 L710.7,3044.6 L711.5,3049.5 L712.3,3047.7 L713.0,3041.9 L713.8,3043.0 L714.6,3043.5 L715.3,3045.5 L716.1,3044.9 L716.8,3043.6 L717.6,3044.9 L718.4,3042.8 L719.1,3044.8 L719.9,3043.7 L720.7,3041.4 L721.4,3039.8 L722.2,3038.3 L723.0,3042.6 L723.7,3038.0 L724.5,3036.9 L725.2,3036.5 L726.0,3040.7 L726.8,3037.8 L727.5,3042.2 L728.3,3038.4 L729.1,3036.3 L729.8,3038.2 L730.6,3038.7 L731.4,3038.5 L732.1,3039.7 L732.9,3038.6 L733.7,3036.4 L734.4,3035.7 L735.2,3037.3 L735.9,3037.5 L736.7,3034.4 L737.5,3035.1 L738.2,3035.9 L739.0,3033.6 L739.8,3037.4 L740.5,3032.9 L741.3,3032.6 L742.1,3031.0 L742.8,3029.0 L743.6,3031.8 L744.3,3036.4 L745.1,3032.7 L745.9,3032.7 L746.6,3031.8 L747.4,3032.7 L748.1,3033.7 L748.8,3032.4 L749.5,3030.5 L750.1,3034.1 L750.8,3029.7 L751.5,3033.2 L752.2,3029.4 L752.9,3028.8 L753.6,3029.1 L754.2,3030.1 L754.9,3027.6 L755.6,3026.3 L756.3,3025.9 L757.0,3024.6 L757.7,3028.6 L758.3,3028.1 L759.0,3024.6 L759.7,3025.5 L760.4,3024.0 L761.1,3021.6 L761.8,3021.9 L762.6,3020.0 L763.3,3021.8 L764.0,3026.3 L764.7,3020.4 L765.4,3023.8 L766.2,3019.6 L766.9,3019.4 L767.6,3019.6 L768.3,3022.0 L769.0,3017.2 L769.8,3019.1 L770.5,3017.6 L771.2,3020.5 L771.9,3019.6 L772.7,3019.4 L773.4,3019.5 L774.1,3015.6 L774.9,3017.0 L775.7,3017.6 L776.4,3021.1 L777.2,3016.7 L778.0,3016.4 L778.7,3020.9 L779.5,3021.7 L780.3,3022.9 L781.0,3022.0 L781.8,3017.9 L782.5,3023.9 L783.3,3019.8 L784.1,3025.7 L784.8,3020.4 L785.6,3020.8 L786.4,3016.3 L787.1,3018.1 L787.8,3021.7 L788.5,3018.0 L789.2,3017.9 L790.0,3018.1 L790.7,3017.1 L791.4,3023.9 L792.1,3021.4 L792.9,3018.3 L793.6,3014.3 L794.3,3018.9 L795.0,3015.9 L795.7,3014.9 L796.5,3017.4 L797.2,3015.4 L797.9,3012.0 L798.6,3015.0 L799.4,3013.4 L800.1,3020.2 L800.9,3016.5 L801.6,3014.8 L802.4,3012.8 L803.2,3012.6 L803.9,3009.3 L804.7,3017.1 L805.5,3015.6 L806.2,3013.7 L807.0,3014.1 L807.8,3012.5 L808.5,3011.8 L809.3,3013.0 L810.0,3008.6 L810.8,3012.4 L811.6,3011.0 L812.3,3015.1 L813.1,3010.7 L814.0,3014.2 L814.8,3014.1 L815.6,3015.4 L816.4,3014.0 L817.2,3009.5 L818.0,3010.0 L818.8,3009.6 L819.6,3007.9 L820.5,3013.0 L821.3,3015.2 L822.1,3012.1 L822.9,3008.5 L823.7,3009.4 L824.5,3007.3 L825.3,3009.0 L826.0,3007.7 L826.7,3012.9 L827.4,3013.9 L828.1,3007.2 L828.7,3008.1 L829.4,3009.2 L830.1,3008.6 L830.8,3009.6 L831.5,3006.2 L832.2,3008.2 L832.8,3013.2 L833.5,3011.2 L834.2,3006.2 L834.9,3006.8 L835.6,3013.1 L836.3,3009.3 L836.9,3009.2 L837.6,3008.3 L838.3,3004.6 L839.0,3002.8 L839.8,3006.6 L840.5,3004.8 L841.2,3000.7 L841.9,3001.6 L842.6,3003.5 L843.4,2996.6 L844.1,3003.5 L844.8,3000.8 L845.5,2999.2 L846.2,2994.9 L847.0,2999.1 L847.7,2999.7 L848.4,2997.9 L849.1,3003.0 L849.9,2997.0 L850.6,2995.5 L851.3,2996.5 L852.1,2994.7 L852.8,2998.0 L853.6,2994.4 L854.4,2993.9 L855.1,2997.7 L855.9,2995.5 L856.6,2992.4 L857.4,2997.4 L858.2,2997.7 L858.9,2996.8 L859.7,2996.7 L860.5,2991.1 L861.2,2993.5 L862.0,2993.9 L862.8,2996.2 L863.5,2994.0 L864.3,2994.9 L865.0,3000.4 L865.8,2992.7 L866.6,2991.4 L867.3,2992.0 L868.1,2990.2 L868.9,2994.8 L869.6,2991.4 L870.4,2991.7 L871.2,2993.5 L871.9,2994.2 L872.7,2995.8 L873.5,2989.6 L874.2,2989.7 L875.0,2992.0 L875.7,2989.5 L876.5,2984.6 L877.3,2986.0 L878.0,2988.7 L878.7,2989.2 L879.4,2986.9 L880.2,2986.6 L880.9,2985.8 L881.6,2984.4 L882.3,2983.9 L883.0,2986.3 L883.8,2983.5 L884.5,2985.7 L885.2,2985.3 L885.9,2985.8 L886.7,2981.9 L887.4,2982.5 L888.1,2983.7 L888.8,2986.5 L889.5,2982.5 L890.3,2983.1 L891.0,2983.5 L891.8,2983.8 L892.5,2979.1 L893.2,2978.7 L894.0,2981.7 L894.7,2981.3 L895.5,2978.3 L896.2,2983.3 L897.0,2984.3 L897.9,2982.1 L898.7,2980.5 L899.5,2980.5 L900.3,2978.8 L901.1,2979.1 L901.9,2981.8 L902.7,2976.2 L903.5,2977.4 L904.4,2981.3 L905.2,2977.8 L906.0,2979.2 L906.8,2979.1 L907.6,2974.1 L908.4,2979.7 L909.2,2977.4 L910.0,2976.7 L910.8,2977.6 L911.7,2980.2 L912.5,2975.9 L913.2,2976.0 L913.9,2981.2 L914.6,2981.9 L915.3,2981.9 L916.0,2982.4 L916.7,2980.6 L917.4,2980.3 L918.1,2978.6 L918.8,2981.1 L919.5,2977.8 L920.2,2978.9 L920.9,2978.5 L921.6,2977.9 L922.3,2975.8 L923.1,2976.5 L923.8,2973.2 L924.5,2974.3 L925.2,2973.2 L925.9,2974.3 L926.6,2971.8 L927.3,2974.5 L928.0,2971.2 L928.7,2970.3 L929.4,2970.7 L930.1,2972.6 L930.8,2971.3 L931.5,2972.2 L932.2,2973.4 L932.9,2966.5 L933.6,2972.4 L934.3,2974.3 L935.1,2968.6 L935.8,2970.3 L936.5,2965.8 L937.2,2972.8 L937.9,2967.4 L938.6,2969.3 L939.3,2969.2 L940.0,2968.5 L940.7,2972.0 L941.4,2971.0 L942.1,2968.3 L942.8,2967.2 L943.5,2966.4 L944.2,2962.8 L944.9,2963.5 L945.7,2960.2 L946.4,2966.0 L947.1,2959.9 L947.9,2970.1 L948.6,2965.2 L949.4,2964.7 L950.1,2963.1 L950.8,2963.1 L951.6,2963.8 L952.3,2962.7 L953.1,2962.9 L953.8,2964.9 L954.5,2963.7 L955.3,2962.5 L956.0,2964.2 L956.7,2965.6 L957.5,2960.8 L958.2,2960.8 L959.0,2961.0 L959.7,2960.4 L960.4,2957.1 L961.2,2959.1 L962.0,2959.4 L962.8,2960.3 L963.6,2959.9 L964.4,2965.6 L965.2,2959.5 L966.0,2963.0 L966.9,2959.2 L967.7,2963.1 L968.5,2959.8 L969.3,2961.6 L970.1,2960.5 L970.9,2957.7 L971.7,2963.0 L972.5,2960.3 L973.3,2959.1 L974.2,2954.9 L975.0,2957.7 L975.8,2964.9 L976.6,2961.0 L977.4,2961.2 L978.1,2956.2 L978.9,2961.4 L979.6,2960.2 L980.4,2957.1 L981.1,2961.0 L981.8,2962.5 L982.6,2956.7 L983.3,2960.7 L984.0,2958.0 L984.8,2959.3 L985.5,2958.2 L986.3,2957.3 L987.0,2957.9 L987.7,2955.2 L988.5,2952.8 L989.2,2957.0 L989.9,2954.2 L990.7,2957.7 L991.4,2953.3 L992.2,2951.4 L992.9,2956.3 L993.6,2951.2 L994.3,2955.5 L995.0,2950.8 L995.7,2948.5 L996.3,2948.4 L997.0,2950.4 L997.7,2950.3 L998.4,2950.2 L999.0,2952.5 L999.7,2947.4 L1000.4,2950.6 L1001.1,2950.2 L1001.8,2946.5 L1002.4,2947.2 L1003.1,2945.8 L1003.8,2945.8 L1004.5,2949.1 L1005.1,2944.5 L1005.8,2945.3 L1006.5,2944.4 L1007.2,2945.8 L1007.8,2943.3 L1008.5,2947.7 L1009.2,2941.5 L1009.9,2947.3 L1010.6,2949.6 L1011.4,2940.7 L1012.2,2944.8 L1013.0,2942.2 L1013.7,2941.8 L1014.5,2946.2 L1015.3,2943.2 L1016.1,2946.9 L1016.8,2944.2 L1017.6,2944.5 L1018.4,2942.7 L1019.1,2943.7 L1019.9,2941.1 L1020.7,2944.3 L1021.5,2941.3 L1022.2,2942.9 L1023.0,2946.6 L1023.8,2941.2 L1024.6,2942.3 L1025.3,2942.3 L1026.1,2938.5 L1026.9,2938.7 L1027.7,2937.7 L1028.5,2944.1 L1029.4,2943.7 L1030.2,2940.4 L1031.0,2942.5 L1031.8,2941.2 L1032.6,2940.7 L1033.4,2937.4 L1034.2,2936.3 L1035.0,2938.9 L1035.8,2940.5 L1036.7,2937.5 L1037.5,2938.6 L1038.3,2939.6 L1039.1,2941.1 L1039.9,2942.4 L1040.7,2945.5 L1041.5,2944.8 L1042.3,2947.0 L1043.1,2944.7 L1043.9,2943.9 L1044.7,2940.6 L1045.4,2942.7 L1046.2,2946.9 L1047.0,2941.3 L1047.7,2938.4 L1048.5,2941.9 L1049.3,2939.8 L1050.1,2940.1 L1050.8,2942.1 L1051.6,2939.6 L1052.4,2942.6 L1053.2,2938.3 L1053.9,2943.8 L1054.7,2946.2 L1055.5,2943.8 L1056.3,2943.6 L1057.0,2942.7 L1057.8,2945.0 L1058.6,2940.3 L1059.3,2941.2 L1060.0,2936.3 L1060.8,2942.6 L1061.5,2939.1 L1062.3,2937.1 L1063.0,2935.0 L1063.7,2934.6 L1064.5,2933.7 L1065.2,2929.3 L1066.0,2929.9 L1066.7,2932.0 L1067.4,2934.2 L1068.2,2933.7 L1068.9,2935.6 L1069.6,2934.8 L1070.4,2935.5 L1071.1,2938.0 L1071.9,2928.2 L1072.6,2935.7 L1073.3,2933.6 L1074.1,2931.7 L1074.8,2935.6 L1075.6,2934.9 L1076.4,2939.8 L1077.1,2935.2 L1077.9,2934.1 L1078.7,2933.1 L1079.4,2933.2 L1080.2,2930.5 L1081.0,2930.5 L1081.8,2931.0 L1082.5,2927.9 L1083.3,2929.8 L1084.1,2930.9 L1084.9,2925.7 L1085.6,2931.6 L1086.4,2927.7 L1087.2,2930.8 L1087.9,2926.5 L1088.7,2926.3 L1089.5,2927.4 L1090.3,2924.6 L1091.0,2932.8 L1091.9,2930.4 L1092.7,2925.8 L1093.5,2926.1 L1094.3,2931.9 L1095.1,2930.0 L1095.9,2924.3 L1096.7,2930.2 L1097.5,2927.4 L1098.3,2926.0 L1099.2,2929.1 L1100.0,2926.0 L1100.8,2929.2 L1101.6,2927.4 L1102.4,2926.6 L1103.2,2931.1 L1104.0,2927.9 L1104.8,2930.8 L1105.6,2930.1 L1106.5,2930.1 L1107.3,2926.6 L1108.1,2928.7 L1108.9,2925.6 L1109.7,2932.2 L1110.5,2924.2 L1111.3,2929.9 L1112.1,2931.4 L1113.0,2932.2 L1113.8,2927.0 L1114.6,2929.8 L1115.4,2928.6 L1116.2,2924.8 L1117.0,2927.3 L1117.8,2930.9 L1118.6,2933.6 L1119.4,2928.6 L1120.3,2932.5 L1121.1,2928.5 L1121.9,2929.8 L1122.7,2930.2 L1123.5,2927.0 L1124.2,2929.4 L1124.9,2927.6 L1125.6,2925.8 L1126.3,2928.8 L1127.0,2925.3 L1127.7,2928.8 L1128.4,2929.7 L1129.2,2930.1 L1129.9,2927.8 L1130.6,2925.5 L1131.3,2921.0 L1132.0,2924.0 L1132.7,2925.2 L1133.4,2921.7 L1134.1,2923.3 L1134.8,2919.9 L1135.5,2919.2 L1136.2,2918.7 L1136.9,2918.9 L1137.6,2920.3 L1138.3,2917.4 L1139.0,2919.9 L1139.7,2918.8 L1140.5,2919.4 L1141.2,2916.8 L1142.0,2917.1 L1142.7,2915.3 L1143.4,2919.5 L1144.2,2916.8 L1144.9,2923.0 L1145.6,2921.9 L1146.4,2916.6 L1147.1,2915.3 L1147.9,2913.3 L1148.6,2913.8 L1149.3,2912.4 L1150.1,2915.4 L1150.8,2917.0 L1151.5,2914.1 L1152.3,2917.4 L1153.0,2914.0 L1153.8,2916.5 L1154.5,2910.0 L1155.2,2912.7 L1156.0,2913.6 L1156.7,2910.2 L1157.4,2917.9 L1158.2,2910.7 L1158.9,2912.9 L1159.7,2912.7 L1160.4,2913.1 L1161.1,2912.0 L1161.9,2912.8 L1162.6,2911.2 L1163.4,2908.8 L1164.1,2911.4 L1164.8,2904.3 L1165.6,2913.1 L1166.3,2908.2 L1167.0,2905.3 L1167.8,2904.3 L1168.5,2909.7 L1169.3,2910.8 L1170.0,2907.2 L1170.7,2911.1 L1171.5,2908.0 L1172.2,2907.2 L1173.0,2906.1 L1173.8,2908.0 L1174.5,2906.4 L1175.3,2911.2 L1176.1,2905.9 L1176.8,2907.7 L1177.6,2906.6 L1178.4,2902.7 L1179.2,2903.8 L1179.9,2907.7 L1180.7,2902.8 L1181.5,2908.8 L1182.3,2907.5 L1183.0,2908.1 L1183.8,2903.8 L1184.6,2903.9 L1185.3,2904.6 L1186.1,2903.7 L1186.9,2909.5 L1187.7,2907.2 L1188.4,2906.0 L1189.2,2905.3 L1190.0,2909.4 L1190.8,2909.3 L1191.5,2903.7 L1192.3,2903.3 L1193.1,2900.1 L1193.9,2906.1 L1194.6,2901.1 L1195.4,2901.3 L1196.2,2901.6 L1196.9,2904.2 L1197.7,2907.7 L1198.5,2908.2 L1199.3,2908.3 L1200.0,2910.9 L1200.8,2906.2 L1201.6,2905.5 L1202.4,2906.6 L1203.1,2910.3 L1203.9,2907.8 L1204.7,2911.3 L1205.4,2908.0 L1206.2,2907.3 L1207.0,2906.8 L1207.8,2905.8 L1208.5,2907.1 L1209.3,2904.8 L1210.1,2907.5 L1210.9,2903.7 L1211.6,2906.8 L1212.4,2908.5 L1213.2,2906.3 L1214.0,2898.6 L1214.7,2906.7 L1215.5,2906.7 L1216.3,2905.2 L1217.0,2902.1 L1217.8,2902.1 L1218.6,2899.9 L1219.4,2901.0 L1220.1,2903.0 L1220.9,2899.6 L1221.7,2899.2 L1222.5,2904.9 L1223.2,2903.2 L1224.0,2901.7 L1224.8,2907.8 L1225.5,2902.3 L1226.3,2901.3 L1227.1,2905.7 L1227.9,2896.8 L1228.6,2900.9 L1229.4,2899.2 L1230.2,2901.0 L1231.0,2899.5 L1231.7,2899.1 L1232.5,2901.2 L1233.3,2896.8 L1234.1,2895.4 L1234.8,2895.5 L1235.6,2893.6 L1236.4,2895.4 L1237.1,2898.4 L1238.0,2892.6 L1238.8,2902.4 L1239.6,2901.3 L1240.4,2902.6 L1241.2,2901.0 L1242.0,2899.1 L1242.8,2904.1 L1243.6,2900.7 L1244.4,2900.0 L1245.3,2899.4 L1246.1,2898.1 L1246.9,2900.6 L1247.7,2900.1 L1248.5,2901.3 L1249.3,2901.7 L1250.1,2901.4 L1250.9,2899.7 L1251.8,2899.7 L1252.6,2894.6 L1253.4,2898.5 L1254.1,2898.9 L1254.9,2893.2 L1255.7,2897.4 L1256.5,2894.1 L1257.2,2889.6 L1258.0,2890.8 L1258.8,2893.0 L1259.6,2889.7 L1260.3,2892.5 L1261.1,2893.1 L1261.9,2892.9 L1262.7,2892.6 L1263.4,2888.8 L1264.2,2891.7 L1265.0,2888.6 L1265.7,2894.1 L1266.5,2892.8 L1267.3,2896.7 L1268.1,2891.6 L1268.8,2887.5 L1269.6,2895.8 L1270.4,2897.0 L1271.2,2894.2 L1272.0,2893.3 L1272.9,2891.0 L1273.7,2894.8 L1274.5,2894.0 L1275.3,2895.6 L1276.1,2894.3 L1276.9,2891.7 L1277.7,2894.3 L1278.5,2893.6 L1279.4,2893.7 L1280.2,2895.7 L1281.0,2894.2 L1281.8,2892.4 L1282.6,2893.3 L1283.4,2888.0 L1284.2,2888.6 L1285.0,2892.6 L1285.8,2891.4 L1286.6,2889.7 L1287.3,2892.6 L1288.1,2890.5 L1288.8,2887.6 L1289.5,2890.0 L1290.3,2887.1 L1291.0,2888.9 L1291.7,2885.6 L1292.5,2889.8 L1293.2,2883.5 L1294.0,2889.2 L1294.7,2886.1 L1295.4,2885.4 L1296.2,2885.8 L1296.9,2891.9 L1297.7,2887.3 L1298.4,2890.5 L1299.1,2888.1 L1299.9,2888.5 L1300.6,2881.0 L1301.3,2885.8 L1302.1,2887.1 L1302.8,2884.3 L1303.6,2884.0 L1304.3,2882.6 L1305.0,2878.0 L1305.8,2880.7 L1306.5,2884.3 L1307.2,2879.8 L1308.0,2884.5 L1308.7,2880.8 L1309.5,2874.5 L1310.2,2876.9 L1310.9,2878.9 L1311.7,2878.7 L1312.4,2877.6 L1313.1,2876.7 L1313.9,2881.0 L1314.6,2875.8 L1315.4,2879.6 L1316.1,2880.6 L1316.8,2880.3 L1317.6,2878.6 L1318.3,2877.1 L1319.1,2881.6 L1319.9,2876.9 L1320.6,2879.3 L1321.4,2878.1 L1322.2,2876.9 L1322.9,2876.7 L1323.7,2880.4 L1324.5,2878.5 L1325.3,2878.5 L1326.0,2879.3 L1326.8,2879.7 L1327.6,2877.0 L1328.4,2880.6 L1329.1,2879.4 L1329.9,2876.8 L1330.7,2876.8 L1331.5,2872.3 L1332.2,2879.4 L1333.0,2876.1 L1333.8,2876.5 L1334.5,2878.3 L1335.3,2875.6 L1336.1,2880.1 L1336.9,2883.8 L1337.6,2882.3 L1338.4,2879.2 L1339.2,2883.7 L1340.0,2878.3 L1340.7,2878.2 L1341.5,2879.8 L1342.3,2879.4 L1343.0,2879.7 L1343.8,2875.6 L1344.6,2880.5 L1345.4,2878.0 L1346.1,2876.1 L1346.9,2873.7 L1347.7,2877.5 L1348.5,2877.0 L1349.2,2874.7 L1350.0,2876.8 L1350.8,2879.8 L1351.6,2873.8 L1352.3,2880.5 L1353.1,2883.1 L1353.9,2875.9 L1354.6,2880.2 L1355.4,2880.0 L1356.2,2874.9 L1357.0,2881.1 L1357.7,2879.5 L1358.5,2877.6 L1359.3,2878.0 L1360.1,2879.5 L1360.8,2881.4 L1361.6,2875.9 L1362.4,2876.9 L1363.1,2878.9 L1363.9,2875.0 L1364.7,2874.9 L1365.5,2876.6 L1366.2,2872.2 L1367.0,2876.5 L1367.7,2872.0 L1368.4,2871.9 L1369.1,2872.5 L1369.9,2874.0 L1370.6,2872.2 L1371.3,2872.0 L1372.0,2872.3 L1372.7,2870.4 L1373.4,2868.0 L1374.1,2867.2 L1374.8,2872.1 L1375.5,2868.9 L1376.2,2869.8 L1377.0,2871.0 L1377.8,2868.4 L1378.6,2871.1 L1379.3,2873.5 L1380.1,2870.1 L1380.9,2862.8 L1381.6,2869.5 L1382.4,2868.6 L1383.2,2871.2 L1384.0,2870.9 L1384.7,2867.8 L1385.5,2868.3 L1386.3,2866.0 L1387.1,2868.0 L1387.8,2870.4 L1388.6,2866.0 L1389.4,2866.9 L1390.1,2864.8 L1390.9,2864.3 L1391.7,2865.1 L1392.5,2867.6 L1393.2,2865.6 L1394.0,2868.6 L1394.8,2871.0 L1395.6,2867.4 L1396.3,2866.5 L1397.1,2866.5 L1397.9,2869.7 L1398.7,2866.3 L1399.4,2868.6 L1400.2,2867.4 L1401.0,2866.1 L1401.7,2864.9 L1402.5,2863.9 L1403.3,2860.7 L1404.1,2860.8 L1404.8,2864.5 L1405.6,2863.5 L1406.4,2864.3 L1407.2,2860.4 L1407.9,2861.2 L1408.7,2862.8 L1409.5,2865.7 L1410.3,2861.7 L1411.1,2860.6 L1411.9,2863.0 L1412.8,2861.8 L1413.6,2860.1 L1414.4,2858.1 L1415.2,2858.8 L1416.0,2860.7 L1416.8,2865.1 L1417.6,2862.3 L1418.4,2862.3 L1419.3,2861.1 L1420.1,2863.5 L1420.9,2857.0 L1421.7,2863.9 L1422.5,2863.6 L1423.3,2861.3 L1424.1,2864.0 L1424.9,2857.4 L1425.6,2861.5 L1426.3,2860.2 L1427.1,2862.1 L1427.8,2855.0 L1428.5,2857.4 L1429.2,2861.7 L1429.9,2857.5 L1430.6,2860.2 L1431.3,2858.6 L1432.0,2860.1 L1432.7,2856.6 L1433.4,2854.7 L1434.1,2849.7 L1434.8,2857.2 L1435.5,2855.9 L1436.2,2854.4 L1436.9,2856.2 L1437.6,2855.9 L1438.3,2854.7 L1439.1,2855.5 L1439.8,2858.1 L1440.5,2854.1 L1441.2,2847.8 L1441.9,2852.1 L1442.7,2847.4 L1443.5,2853.6 L1444.3,2849.6 L1445.0,2853.6 L1445.8,2854.4 L1446.6,2850.3 L1447.4,2850.7 L1448.1,2853.1 L1448.9,2847.2 L1449.7,2849.7 L1450.4,2847.9 L1451.2,2856.2 L1452.0,2850.7 L1452.8,2851.0 L1453.5,2849.3 L1454.3,2847.1 L1455.1,2850.6 L1455.9,2850.6 L1456.6,2847.9 L1457.4,2846.2 L1458.2,2845.8 L1458.9,2846.9 L1459.7,2843.5 L1460.5,2847.9 L1461.3,2850.5 L1462.0,2845.3 L1462.8,2841.1 L1463.6,2847.7 L1464.4,2844.6 L1465.1,2845.7 L1465.9,2846.1 L1466.7,2844.6 L1467.5,2848.1 L1468.2,2849.6 L1469.0,2843.6 L1469.8,2842.4 L1470.5,2845.5 L1471.3,2841.3 L1472.1,2843.8 L1472.9,2845.9 L1473.6,2845.5 L1474.4,2843.5 L1475.3,2847.3 L1476.1,2847.0 L1476.9,2844.3 L1477.7,2842.0 L1478.5,2842.4 L1479.3,2843.2 L1480.1,2841.6 L1480.9,2845.6 L1481.8,2846.0 L1482.6,2845.8 L1483.4,2846.4 L1484.2,2846.1 L1485.0,2846.9 L1485.8,2846.8 L1486.6,2844.2 L1487.4,2841.8 L1488.2,2846.7 L1489.1,2846.9 L1489.9,2844.6 L1490.6,2844.5 L1491.4,2845.1 L1492.2,2847.8 L1493.0,2843.9 L1493.7,2846.0 L1494.5,2848.9 L1495.3,2845.4 L1496.1,2849.6 L1496.8,2840.8 L1497.6,2846.0 L1498.4,2839.6 L1499.1,2839.5 L1499.9,2842.7 L1500.7,2847.1 L1501.5,2840.5 L1502.2,2845.8 L1503.0,2842.9 L1503.8,2844.9 L1504.6,2841.4 L1505.3,2840.4 L1506.1,2840.1 L1506.9,2843.2 L1507.6,2844.6 L1508.4,2841.6 L1509.2,2842.4 L1510.0,2839.1 L1510.7,2839.2 L1511.5,2839.2 L1512.3,2838.3 L1513.1,2836.2 L1513.8,2835.4 L1514.6,2839.8 L1515.4,2835.5 L1516.2,2834.8 L1516.9,2838.1 L1517.7,2837.6 L1518.5,2839.4 L1519.2,2839.7 L1520.0,2839.1 L1520.8,2832.4 L1521.6,2834.8 L1522.3,2834.3 L1523.1,2835.9 L1523.9,2834.4 L1524.7,2836.8 L1525.4,2836.3 L1526.2,2837.5 L1527.0,2835.9 L1527.7,2835.2 L1528.5,2838.7 L1529.3,2833.9 L1530.1,2834.2 L1530.8,2832.3 L1531.6,2833.2 L1532.4,2832.4 L1533.2,2831.4 L1533.9,2832.2 L1534.7,2835.0 L1535.5,2835.1 L1536.3,2827.9 L1537.0,2828.5 L1537.8,2832.0 L1538.6,2834.9 L1539.4,2830.8 L1540.2,2835.6 L1541.0,2834.7 L1541.8,2832.5 L1542.6,2833.5 L1543.4,2828.7 L1544.3,2830.2 L1545.1,2834.6 L1545.9,2833.8 L1546.7,2830.6 L1547.5,2831.8 L1548.3,2832.7 L1549.1,2828.8 L1549.9,2833.6 L1550.7,2830.1 L1551.6,2834.3 L1552.4,2832.2 L1553.2,2833.1 L1554.0,2831.0 L1554.8,2830.3 L1555.5,2832.5 L1556.3,2833.1 L1557.0,2833.8 L1557.8,2830.7 L1558.5,2833.5 L1559.2,2830.2 L1560.0,2831.3 L1560.7,2828.9 L1561.4,2829.4 L1562.2,2830.2 L1562.9,2831.2 L1563.7,2827.5 L1564.4,2831.1 L1565.1,2826.6 L1565.9,2823.4 L1566.6,2821.3 L1567.3,2825.8 L1568.1,2823.5 L1568.8,2825.7 L1569.6,2824.1 L1570.3,2825.2 L1571.0,2824.2 L1571.8,2823.9 L1572.5,2827.9 L1573.3,2821.1 L1574.0,2823.7 L1574.7,2825.6 L1575.5,2822.9 L1576.2,2821.7 L1576.9,2823.4 L1577.7,2819.5 L1578.4,2825.0 L1579.2,2823.6 L1579.9,2822.1 L1580.6,2821.9 L1581.4,2825.5 L1582.1,2824.7 L1582.8,2819.0 L1583.6,2817.7 L1584.3,2822.8 L1585.1,2823.8 L1585.8,2826.6 L1586.5,2822.8 L1587.3,2821.0 L1588.0,2817.2 L1588.8,2821.4 L1589.6,2817.1 L1590.4,2824.3 L1591.1,2823.1 L1591.9,2816.1 L1592.7,2820.8 L1593.5,2820.1 L1594.2,2814.0 L1595.0,2815.4 L1595.8,2818.5 L1596.5,2817.1 L1597.3,2814.0 L1598.1,2816.4 L1598.9,2818.6 L1599.6,2818.0 L1600.4,2817.5 L1601.2,2815.2 L1602.0,2817.5 L1602.7,2816.9 L1603.5,2814.3 L1604.3,2810.8 L1605.1,2816.8 L1605.8,2813.9 L1606.6,2813.5 L1607.4,2817.5 L1608.1,2819.0 L1608.9,2817.1 L1609.7,2819.5 L1610.5,2813.4 L1611.2,2816.8 L1612.0,2813.1 L1612.8,2811.9 L1613.6,2815.3 L1614.3,2809.0 L1615.1,2812.1 L1615.9,2809.0 L1616.6,2813.8 L1617.4,2812.1 L1618.2,2809.7 L1619.0,2814.3 L1619.7,2810.3 L1620.5,2810.4 L1621.3,2812.7 L1622.1,2808.3 L1622.8,2810.5 L1623.6,2807.4 L1624.4,2808.0 L1625.2,2808.2 L1625.9,2807.5 L1626.7,2806.0 L1627.5,2809.1 L1628.2,2807.5 L1629.0,2809.3 L1629.8,2810.9 L1630.6,2813.7 L1631.3,2814.1 L1632.1,2807.9 L1632.9,2812.1 L1633.7,2812.2 L1634.4,2808.8 L1635.2,2806.9 L1636.0,2808.6 L1636.8,2808.3 L1637.6,2806.7 L1638.4,2806.5 L1639.2,2810.2 L1640.0,2810.1 L1640.8,2807.0 L1641.7,2805.6 L1642.5,2808.1 L1643.3,2810.7 L1644.1,2806.9 L1644.9,2808.7 L1645.7,2808.7 L1646.5,2810.8 L1647.3,2804.4 L1648.1,2804.7 L1649.0,2806.8 L1649.8,2809.9 L1650.6,2809.0 L1651.4,2810.2 L1652.2,2811.6 L1653.0,2807.0 L1653.8,2809.5 L1654.5,2808.5 L1655.3,2808.2 L1656.1,2812.2 L1656.8,2806.9 L1657.6,2808.0 L1658.4,2808.3 L1659.2,2809.0 L1659.9,2802.1 L1660.7,2805.2 L1661.5,2810.0 L1662.3,2805.1 L1663.0,2808.9 L1663.8,2802.2 L1664.6,2804.3 L1665.3,2802.7 L1666.1,2801.1 L1666.9,2809.2 L1667.7,2806.1 L1668.4,2804.6 L1669.1,2803.9 L1669.9,2805.0 L1670.6,2798.1 L1671.3,2802.2 L1672.0,2800.3 L1672.7,2802.8 L1673.4,2799.0 L1674.1,2800.3 L1674.8,2800.7 L1675.5,2806.8 L1676.2,2802.3 L1676.9,2797.8 L1677.6,2800.3 L1678.3,2800.3 L1679.0,2801.7 L1679.7,2797.4 L1680.4,2797.9 L1681.1,2798.2 L1681.9,2796.2 L1682.6,2795.5 L1683.3,2792.5 L1684.0,2794.7 L1684.7,2796.6 L1685.4,2795.1 L1686.2,2797.5 L1687.0,2798.7 L1687.8,2794.5 L1688.5,2790.6 L1689.3,2797.1 L1690.1,2793.9 L1690.9,2793.8 L1691.6,2793.3 L1692.4,2797.2 L1693.2,2791.4 L1694.0,2794.2 L1694.7,2793.8 L1695.5,2793.4 L1696.3,2795.2 L1697.0,2790.2 L1697.8,2790.3 L1698.6,2792.1 L1699.4,2794.4 L1700.1,2795.2 L1700.9,2791.0 L1701.6,2792.4 L1702.4,2791.4 L1703.1,2790.5 L1703.9,2788.9 L1704.6,2789.3 L1705.3,2790.5 L1706.1,2787.1 L1706.8,2789.0 L1707.6,2788.6 L1708.3,2788.0 L1709.0,2786.2 L1709.8,2788.3 L1710.5,2788.1 L1711.2,2783.5 L1712.0,2784.9 L1712.7,2782.1 L1713.5,2787.8 L1714.2,2781.8 L1714.9,2786.1 L1715.7,2784.3 L1716.4,2784.7 L1717.1,2784.5 L1717.9,2787.7 L1718.7,2785.7 L1719.5,2786.7 L1720.2,2782.6 L1721.0,2785.9 L1721.8,2788.5 L1722.6,2784.9 L1723.3,2785.9 L1724.1,2780.5 L1724.9,2782.7 L1725.6,2780.9 L1726.4,2780.7 L1727.2,2782.1 L1728.0,2782.4 L1728.7,2782.7 L1729.5,2781.2 L1730.3,2780.7 L1731.1,2781.0 L1731.8,2786.1 L1732.6,2782.2 L1733.4,2782.8 L1734.2,2782.8 L1735.0,2782.4 L1735.7,2780.6 L1736.5,2777.8 L1737.3,2778.8 L1738.1,2780.5 L1738.9,2781.2 L1739.7,2782.0 L1740.5,2780.5 L1741.3,2779.4 L1742.1,2776.3 L1742.9,2776.9 L1743.6,2777.7 L1744.4,2774.3 L1745.2,2779.8 L1746.0,2780.7 L1746.8,2779.9 L1747.6,2780.6 L1748.4,2778.1 L1749.2,2779.7 L1750.0,2780.0 L1750.8,2780.3 L1751.6,2775.3 L1752.3,2777.7 L1753.1,2777.3 L1753.9,2777.7 L1754.7,2776.8 L1755.5,2773.6 L1756.3,2773.6 L1757.1,2777.5 L1757.9,2775.3 L1758.7,2778.4 L1759.5,2777.7 L1760.2,2778.1 L1761.0,2780.5 L1761.8,2777.3 L1762.6,2783.6 L1763.4,2776.0 L1764.2,2775.3 L1765.0,2780.1 L1765.8,2778.9 L1766.6,2781.1 L1767.4,2779.5 L1768.1,2780.1 L1768.9,2775.0 L1769.7,2775.6 L1770.5,2776.6 L1771.3,2778.4 L1772.1,2776.1 L1772.9,2776.6 L1773.7,2773.1 L1774.5,2774.9 L1775.3,2777.6 L1776.0,2774.0 L1776.8,2774.3 L1777.6,2775.9 L1778.4,2772.7 L1779.2,2772.7 L1780.0,2776.0 L1780.7,2772.4 L1781.4,2776.4 L1782.0,2775.8 L1782.7,2777.5 L1783.4,2775.3 L1784.1,2775.7 L1784.7,2775.5 L1785.4,2773.8 L1786.1,2772.5 L1786.8,2772.5 L1787.4,2768.9 L1788.1,2769.6 L1788.8,2768.0 L1789.5,2770.0 L1790.1,2769.5 L1790.8,2768.9 L1791.5,2767.5 L1792.2,2772.9 L1792.9,2767.5 L1793.5,2766.9 L1794.2,2766.5 L1794.9,2766.6 L1795.6,2766.4 L1796.2,2767.7 L1797.0,2760.3 L1797.9,2765.0 L1798.7,2768.5 L1799.5,2762.1 L1800.3,2764.6 L1801.1,2765.6 L1801.9,2768.7 L1802.7,2761.1 L1803.5,2761.6 L1804.4,2764.9 L1805.2,2763.2 L1806.0,2765.9 L1806.8,2763.6 L1807.6,2758.8 L1808.4,2759.6 L1809.2,2765.3 L1810.0,2765.1 L1810.8,2760.4 L1811.7,2761.6 L1812.5,2759.9 L1813.1,2763.7 L1813.8,2763.9 L1814.5,2762.8 L1815.2,2763.8 L1815.8,2761.9 L1816.5,2758.2 L1817.2,2759.5 L1817.9,2762.0 L1818.6,2761.1 L1819.2,2758.9 L1819.9,2756.4 L1820.6,2760.5 L1821.3,2757.7 L1821.9,2754.7 L1822.6,2754.0 L1823.3,2758.0 L1824.0,2754.2 L1824.6,2755.1 L1825.3,2757.6 L1826.0,2758.9 L1826.7,2754.0 L1827.3,2756.3 L1828.0,2751.9 L1828.7,2754.7 L1829.5,2758.2 L1830.2,2755.9 L1831.0,2754.8 L1831.8,2756.0 L1832.6,2758.4 L1833.3,2755.6 L1834.1,2754.6 L1834.9,2753.5 L1835.7,2752.3 L1836.4,2753.1 L1837.2,2751.9 L1838.0,2750.9 L1838.8,2757.1 L1839.5,2755.5 L1840.3,2757.0 L1841.1,2750.8 L1841.8,2752.1 L1842.6,2749.5 L1843.4,2744.4 L1844.2,2743.6 L1844.9,2748.5 L1845.7,2744.4 L1846.6,2755.4 L1847.4,2750.8 L1848.2,2750.9 L1849.0,2750.4 L1849.8,2751.1 L1850.6,2757.4 L1851.4,2748.8 L1852.2,2749.8 L1853.1,2752.3 L1853.9,2753.6 L1854.7,2748.3 L1855.5,2750.4 L1856.3,2743.5 L1857.1,2747.4 L1857.9,2744.5 L1858.7,2746.9 L1859.5,2747.0 L1860.4,2755.5 L1861.2,2753.1 L1861.9,2752.0 L1862.7,2750.1 L1863.5,2751.7 L1864.3,2749.0 L1865.0,2751.0 L1865.8,2745.1 L1866.6,2749.9 L1867.4,2752.0 L1868.1,2752.4 L1868.9,2743.4 L1869.7,2750.2 L1870.4,2753.0 L1871.2,2753.8 L1872.0,2751.0 L1872.8,2750.5 L1873.5,2744.2 L1874.3,2745.4 L1875.1,2744.8 L1875.9,2743.8 L1876.6,2744.6 L1877.4,2742.9 L1878.2,2745.6 L1878.9,2745.1 L1879.7,2740.9 L1880.5,2740.6 L1881.3,2745.2 L1882.0,2745.7 L1882.8,2742.5 L1883.6,2740.4 L1884.4,2745.9 L1885.1,2742.9 L1885.9,2740.9 L1886.7,2744.0 L1887.5,2739.8 L1888.2,2740.5 L1889.0,2743.7 L1889.8,2746.3 L1890.5,2743.4 L1891.3,2741.1 L1892.1,2741.3 L1892.9,2740.6 L1893.6,2740.6 L1894.3,2740.7 L1895.0,2739.5 L1895.7,2738.9 L1896.3,2741.3 L1897.0,2739.3 L1897.7,2740.3 L1898.4,2736.6 L1899.0,2738.9 L1899.7,2733.1 L1900.4,2739.6 L1901.1,2738.2 L1901.8,2737.6 L1902.4,2735.9 L1903.1,2734.4 L1903.8,2735.4 L1904.5,2735.2 L1905.1,2738.4 L1905.8,2735.9 L1906.5,2736.5 L1907.2,2732.0 L1907.8,2733.7 L1908.5,2732.8 L1909.2,2733.6 L1909.9,2731.3 L1910.6,2732.5 L1911.4,2733.0 L1912.2,2733.0 L1913.0,2729.5 L1913.7,2733.9 L1914.5,2734.1 L1915.3,2735.9 L1916.1,2730.8 L1916.8,2730.5 L1917.6,2730.3 L1918.4,2733.8 L1919.1,2732.7 L1919.9,2730.0 L1920.7,2729.3 L1921.5,2729.7 L1922.2,2726.5 L1923.0,2724.0 L1923.8,2728.5 L1924.6,2730.0 L1925.3,2728.5 L1926.1,2729.8 L1926.9,2726.4 L1927.7,2727.0 L1928.5,2726.4 L1929.4,2729.0 L1930.2,2725.6 L1931.0,2723.2 L1931.8,2728.5 L1932.6,2727.6 L1933.4,2730.3 L1934.2,2727.8 L1935.0,2725.9 L1935.8,2725.7 L1936.7,2724.8 L1937.5,2729.1 L1938.3,2727.6 L1939.1,2726.2 L1939.9,2727.0 L1940.7,2722.6 L1941.5,2727.3 L1942.3,2723.6 L1943.1,2730.3 L1943.8,2725.4 L1944.6,2725.3 L1945.3,2723.1 L1946.0,2724.6 L1946.8,2722.9 L1947.5,2724.4 L1948.2,2722.8 L1949.0,2724.3 L1949.7,2722.4 L1950.5,2719.2 L1951.2,2723.0 L1951.9,2722.9 L1952.7,2719.8 L1953.4,2721.4 L1954.1,2720.1 L1954.9,2719.0 L1955.6,2721.3 L1956.4,2721.7 L1957.1,2718.3 L1957.8,2717.8 L1958.6,2714.0 L1959.3,2715.8 L1960.1,2716.7 L1960.9,2717.0 L1961.7,2715.8 L1962.4,2719.5 L1963.2,2718.5 L1964.0,2714.4 L1964.8,2720.2 L1965.5,2714.3 L1966.3,2721.0 L1967.1,2716.3 L1967.8,2718.2 L1968.6,2713.6 L1969.4,2717.8 L1970.2,2717.7 L1970.9,2712.8 L1971.7,2711.8 L1972.5,2710.2 L1973.3,2713.9 L1974.0,2714.0 L1974.8,2718.6 L1975.6,2717.8 L1976.4,2717.5 L1977.1,2713.8 L1977.9,2707.4 L1978.7,2715.8 L1979.4,2716.1 L1980.2,2716.2 L1981.0,2715.6 L1981.8,2712.6 L1982.5,2710.9 L1983.3,2711.7 L1984.1,2709.8 L1984.9,2714.0 L1985.6,2710.1 L1986.4,2712.2 L1987.2,2714.8 L1987.9,2713.5 L1988.7,2712.7 L1989.5,2715.2 L1990.3,2712.0 L1991.0,2716.0 L1991.8,2711.3 L1992.6,2712.9 L1993.4,2707.3 L1994.1,2712.6 L1994.9,2708.4 L1995.7,2714.4 L1996.5,2707.9 L1997.2,2710.5 L1998.0,2709.3 L1998.8,2710.7 L1999.5,2705.2 L2000.3,2704.1 L2001.1,2710.3 L2001.9,2705.1 L2002.6,2708.3 L2003.4,2706.7 L2004.2,2704.7 L2005.0,2708.7 L2005.7,2704.4 L2006.5,2707.4 L2007.3,2706.5 L2008.0,2707.6 L2008.7,2710.6 L2009.5,2706.8 L2010.2,2705.0 L2011.0,2706.1 L2011.7,2702.7 L2012.4,2705.1 L2013.2,2702.7 L2013.9,2704.8 L2014.7,2705.2 L2015.4,2705.1 L2016.1,2705.3 L2016.9,2700.8 L2017.6,2704.7 L2018.3,2702.5 L2019.1,2700.7 L2019.8,2700.9 L2020.6,2702.1 L2021.3,2703.8 L2022.0,2703.9 L2022.8,2700.7 L2023.5,2704.0 L2024.3,2700.3 L2025.1,2706.6 L2025.8,2703.1 L2026.6,2702.6 L2027.4,2699.6 L2028.1,2700.5 L2028.9,2700.6 L2029.7,2700.1 L2030.5,2699.6 L2031.2,2701.7 L2032.0,2704.8 L2032.8,2698.7 L2033.6,2697.4 L2034.3,2696.9 L2035.1,2697.8 L2035.9,2694.6 L2036.6,2699.0 L2037.4,2695.3 L2038.2,2697.6 L2039.0,2698.4 L2039.7,2702.0 L2040.5,2698.1 L2041.3,2696.1 L2042.1,2693.6 L2042.8,2697.2 L2043.6,2695.6 L2044.4,2693.7 L2045.2,2695.7 L2045.9,2696.4 L2046.7,2696.0 L2047.5,2694.5 L2048.2,2692.3 L2049.0,2696.1 L2049.8,2697.3 L2050.6,2694.9 L2051.3,2695.7 L2052.1,2692.9 L2052.9,2697.7 L2053.7,2693.4 L2054.4,2696.4 L2055.2,2695.4 L2056.0,2693.9 L2056.7,2695.4 L2057.4,2696.1 L2058.2,2696.2 L2058.9,2695.7 L2059.7,2692.0 L2060.4,2692.1 L2061.1,2692.1 L2061.9,2693.1 L2062.6,2691.9 L2063.4,2691.4 L2064.1,2690.7 L2064.8,2685.8 L2065.6,2687.4 L2066.3,2686.0 L2067.0,2686.7 L2067.8,2683.9 L2068.5,2688.2 L2069.3,2691.8 L2070.0,2688.0 L2070.7,2686.7 L2071.5,2685.4 L2072.2,2688.9 L2073.0,2688.8 L2073.8,2683.2 L2074.6,2688.6 L2075.5,2688.4 L2076.3,2691.0 L2077.1,2692.6 L2077.9,2682.6 L2078.7,2687.7 L2079.5,2686.8 L2080.3,2687.9 L2081.1,2686.7 L2081.9,2686.2 L2082.8,2682.2 L2083.6,2688.0 L2084.4,2682.3 L2085.2,2683.8 L2086.0,2682.5 L2086.8,2688.5 L2087.6,2686.8 L2088.4,2689.0 L2089.2,2688.1 L2090.0,2684.7 L2090.8,2687.9 L2091.5,2686.7 L2092.3,2686.1 L2093.1,2685.6 L2093.9,2681.3 L2094.6,2682.8 L2095.4,2687.8 L2096.2,2686.4 L2096.9,2684.8 L2097.7,2685.3 L2098.5,2682.5 L2099.3,2682.7 L2100.0,2684.6 L2100.8,2677.2 L2101.6,2681.2 L2102.4,2684.9 L2103.1,2677.0 L2103.9,2682.0 L2104.7,2679.2 L2105.4,2683.2 L2106.2,2683.5 L2107.0,2678.2 L2107.8,2678.2 L2108.5,2681.3 L2109.3,2682.7 L2110.1,2679.6 L2110.9,2677.6 L2111.6,2672.5 L2112.4,2679.7 L2113.2,2677.2 L2114.0,2681.7 L2114.7,2683.7 L2115.5,2681.5 L2116.3,2679.3 L2117.0,2677.4 L2117.8,2675.9 L2118.6,2676.8 L2119.4,2678.6 L2120.1,2678.2 L2120.9,2675.7 L2121.7,2674.8 L2122.5,2682.0 L2123.3,2680.9 L2124.2,2680.1 L2125.0,2679.1 L2125.8,2676.8 L2126.6,2679.6 L2127.4,2676.5 L2128.2,2678.8 L2129.0,2676.4 L2129.8,2675.1 L2130.6,2674.2 L2131.5,2676.7 L2132.3,2680.7 L2133.1,2679.9 L2133.9,2675.3 L2134.7,2677.0 L2135.5,2677.8 L2136.3,2675.8 L2137.1,2676.8 L2137.8,2676.8 L2138.5,2674.7 L2139.2,2676.8 L2139.8,2676.5 L2140.5,2673.7 L2141.2,2673.2 L2141.9,2672.3 L2142.6,2676.8 L2143.2,2677.5 L2143.9,2673.4 L2144.6,2675.8 L2145.3,2675.4 L2145.9,2674.7 L2146.6,2677.5 L2147.3,2672.3 L2148.0,2672.3 L2148.6,2672.5 L2149.3,2669.6 L2150.0,2665.3 L2150.7,2672.5 L2151.3,2666.0 L2152.0,2667.4 L2152.7,2666.4 L2153.4,2667.4 L2154.1,2664.6 L2154.9,2664.2 L2155.6,2662.2 L2156.3,2662.8 L2157.1,2666.0 L2157.8,2667.3 L2158.5,2664.8 L2159.3,2665.4 L2160.0,2666.2 L2160.8,2665.2 L2161.5,2663.9 L2162.2,2662.2 L2163.0,2661.1 L2163.7,2667.8 L2164.4,2660.8 L2165.2,2663.5 L2165.9,2661.7 L2166.7,2655.7 L2167.4,2661.6 L2168.1,2662.4 L2168.9,2660.2 L2169.6,2661.8 L2170.4,2662.4 L2171.1,2660.3 L2171.8,2657.1 L2172.6,2659.3 L2173.3,2660.5 L2174.1,2660.9 L2174.8,2660.5 L2175.5,2657.6 L2176.3,2660.8 L2177.0,2657.8 L2177.8,2656.8 L2178.5,2655.9 L2179.3,2656.3 L2180.0,2655.5" stroke="#ff00ff"/>
<path d="M435.6,3335.0 L435.6,3334.4 L435.7,3333.6 L435.7,3332.7 L435.7,3331.7 L435.7,3331.0 L435.8,3330.3 L435.8,3329.4 L435.8,3328.7 L435.8,3327.9 L435.9,3327.1 L435.9,3326.1 L435.9,3325.4 L435.9,3324.5 L436.0,3323.7 L436.0,3322.9 L436.0,3322.2 L436.0,3321.2 L436.1,3320.5 L436.1,3319.6 L436.1,3318.8 L436.1,3318.0 L436.2,3317.2 L436.2,3316.5 L436.2,3315.7 L436.2,3314.7 L436.3,3313.9 L436.3,3313.3 L436.3,3312.4 L436.3,3311.5 L436.4,3310.8 L436.4,3310.0 L436.4,3309.3 L436.4,3308.4 L436.4,3307.7 L436.5,3306.8 L436.5,3305.9 L436.5,3305.2 L436.5,3304.4 L436.5,3303.6 L436.5,3302.8 L436.6,3302.0 L436.6,3301.2 L436.6,3300.5 L436.6,3299.5 L436.6,3298.7 L436.6,3298.1 L436.6,3297.2 L436.7,3296.3 L436.7,3295.5 L436.7,3294.8 L436.7,3294.0 L436.7,3293.2 L436.7,3292.3 L436.8,3291.5 L436.8,3290.7 L436.8,3289.8 L436.8,3289.1 L436.8,3288.4 L436.8,3287.5 L436.9,3286.7 L436.9,3285.8 L436.9,3285.0 L436.9,3284.2 L436.9,3283.4 L436.9,3282.7 L436.9,3281.9 L437.0,3281.1 L437.0,3280.3 L437.0,3279.5 L437.0,3278.7 L437.0,3277.9 L437.0,3277.0 L437.1,3276.3 L437.1,3275.5 L437.1,3274.6 L437.1,3273.8 L437.1,3273.1 L437.2,3272.3 L437.2,3271.4 L437.2,3270.6 L437.2,3269.7 L437.3,3269.1 L437.3,3268.2 L437.3,3267.5 L437.4,3266.8 L437.4,3266.0 L437.4,3264.9 L437.5,3264.3 L437.5,3263.3 L437.5,3262.7 L437.5,3261.9 L437.6,3261.0 L437.6,3260.2 L437.6,3259.4 L437.7,3258.6 L437.7,3257.7 L437.7,3257.1 L437.7,3256.2 L437.8,3255.2 L437.8,3254.6 L437.8,3253.9 L437.9,3253.1 L437.9,3252.1 L437.9,3251.2 L437.9,3250.6 L438.0,3249.8 L438.0,3249.1 L438.0,3248.2 L438.1,3247.4 L438.1,3246.5 L438.1,3245.7 L438.2,3244.9 L438.2,3244.2 L438.2,3243.3 L438.2,3242.7 L438.3,3241.8 L438.3,3241.0 L438.3,3240.3 L438.4,3239.5 L438.4,3238.7 L438.4,3237.7 L438.4,3237.0 L438.5,3236.3 L438.5,3235.6 L438.5,3234.6 L438.6,3233.9 L438.6,3232.9 L438.6,3232.2 L438.6,3231.3 L438.7,3230.6 L438.7,3229.8 L438.7,3228.9 L438.8,3228.2 L438.8,3227.3 L438.8,3226.5 L438.9,3225.8 L438.9,3225.0 L438.9,3224.2 L438.9,3223.4 L439.0,3222.6 L439.0,3221.7 L439.0,3221.3 L439.1,3220.2 L439.1,3219.5 L439.2,3218.6 L439.2,3218.0 L439.2,3217.1 L439.3,3216.4 L439.3,3215.5 L439.4,3214.7 L439.4,3214.0 L439.4,3212.9 L439.5,3212.3 L439.5,3211.7 L439.6,3210.8 L439.6,3210.0 L439.6,3209.3 L439.7,3208.3 L439.7,3207.4 L439.8,3206.5 L439.8,3205.8 L439.8,3205.2 L439.9,3204.4 L439.9,3203.5 L440.0,3202.6 L440.0,3201.9 L440.0,3201.0 L440.1,3200.1 L440.1,3199.5 L440.2,3198.6 L440.2,3198.0 L440.2,3197.1 L440.3,3196.2 L440.3,3195.5 L440.4,3194.6 L440.4,3193.9 L440.4,3193.0 L440.5,3192.4 L440.5,3191.6 L440.6,3190.9 L440.6,3189.7 L440.6,3189.0 L440.7,3188.4 L440.7,3187.6 L440.8,3186.8 L440.8,3186.0 L440.8,3185.3 L440.9,3184.2 L440.9,3183.6 L441.0,3182.7 L441.0,3181.6 L441.0,3181.1 L441.1,3180.4 L441.1,3179.5 L441.2,3178.8 L441.2,3178.0 L441.2,3176.9 L441.3,3176.3 L441.3,3175.4 L441.4,3174.7 L441.4,3173.7 L441.4,3173.2 L441.5,3172.3 L441.5,3171.3 L441.6,3170.7 L441.6,3169.7 L441.7,3168.8 L441.8,3168.0 L441.8,3167.5 L441.9,3166.7 L442.0,3165.7 L442.1,3165.2 L442.2,3164.2 L442.2,3163.6 L442.3,3162.3 L442.4,3162.1 L442.5,3161.2 L442.6,3160.3 L442.6,3159.4 L442.7,3158.9 L442.8,3157.8 L442.9,3157.4 L443.0,3156.6 L443.0,3155.6 L443.1,3154.6 L443.2,3153.8 L443.3,3153.6 L443.4,3152.8 L443.4,3152.0 L443.5,3150.9 L443.6,3150.2 L443.7,3149.8 L443.7,3148.6 L443.8,3147.6 L443.9,3146.7 L444.0,3145.8 L444.1,3145.5 L444.1,3144.8 L444.2,3143.9 L444.3,3143.0 L444.4,3142.5 L444.5,3141.4 L444.5,3140.8 L444.6,3139.4 L444.7,3138.8 L444.8,3138.1 L444.9,3137.8 L444.9,3136.3 L445.0,3135.3 L445.1,3135.2 L445.2,3134.1 L445.3,3133.3 L445.3,3132.4 L445.4,3131.7 L445.5,3130.9 L445.6,3130.2 L445.8,3128.8 L445.9,3129.0 L446.1,3127.9 L446.2,3126.6 L446.4,3125.7 L446.6,3125.1 L446.7,3123.4 L446.8,3123.3 L447.0,3122.2 L447.1,3121.9 L447.3,3121.9 L447.4,3120.2 L447.6,3119.3 L447.8,3118.9 L447.9,3118.2 L448.1,3117.3 L448.2,3117.9 L448.3,3115.4 L448.5,3115.7 L448.6,3113.3 L448.8,3112.5 L448.9,3112.3 L449.1,3111.6 L449.2,3109.8 L449.4,3109.1 L449.6,3108.8 L449.8,3108.6 L450.0,3107.9 L450.2,3107.7 L450.4,3106.8 L450.6,3105.9 L450.8,3105.1 L451.0,3104.6 L451.1,3102.8 L451.3,3102.9 L451.5,3100.8 L451.7,3100.3 L451.9,3099.8 L452.1,3098.4 L452.3,3098.6 L452.5,3098.1 L452.7,3096.2 L452.9,3096.5 L453.1,3094.9 L453.3,3093.6 L453.5,3093.7 L453.7,3093.6 L453.9,3091.5 L454.1,3091.4 L454.2,3091.7 L454.4,3091.8 L454.6,3089.2 L454.8,3087.2 L455.0,3087.4 L455.2,3086.8 L455.4,3085.0 L455.6,3084.6 L455.8,3083.8 L456.1,3083.4 L456.3,3082.6 L456.6,3081.9 L456.8,3082.6 L457.1,3080.8 L457.3,3080.0 L457.6,3078.4 L457.8,3079.1 L458.1,3077.5 L458.3,3076.3 L458.6,3075.7 L458.8,3075.1 L459.1,3075.6 L459.3,3074.7 L459.6,3073.0 L459.8,3072.5 L460.1,3071.5 L460.3,3070.8 L460.6,3070.3 L460.8,3068.8 L461.1,3068.8 L461.3,3067.4 L461.6,3066.1 L461.8,3065.9 L462.1,3065.0 L462.3,3063.8 L462.6,3063.6 L462.8,3062.7 L463.1,3062.3 L463.3,3059.7 L463.6,3059.9 L463.9,3061.3 L464.2,3060.1 L464.6,3058.3 L464.9,3057.5 L465.2,3055.4 L465.6,3056.3 L465.9,3054.3 L466.2,3054.9 L466.5,3055.0 L466.9,3053.0 L467.2,3050.3 L467.5,3049.9 L467.8,3052.1 L468.1,3049.3 L468.5,3048.9 L468.8,3046.8 L469.1,3048.6 L469.4,3047.1 L469.8,3047.2 L470.1,3045.0 L470.4,3043.8 L470.8,3044.0 L471.1,3042.6 L471.4,3042.0 L471.7,3042.4 L472.1,3041.4 L472.4,3041.9 L472.7,3038.0 L473.0,3038.9 L473.3,3036.0 L473.6,3038.4 L473.9,3038.9 L474.2,3038.1 L474.4,3035.7 L474.7,3035.7 L475.0,3035.5 L475.3,3034.3 L475.6,3032.5 L475.9,3032.6 L476.2,3031.4 L476.5,3030.0 L476.8,3029.3 L477.1,3030.0 L477.3,3028.2 L477.6,3028.4 L477.9,3027.0 L478.3,3025.6 L478.7,3023.2 L479.1,3023.2 L479.5,3023.8 L480.0,3022.2 L480.4,3022.5 L480.8,3022.0 L481.2,3021.6 L481.6,3020.5 L482.0,3021.2 L482.4,3017.0 L482.8,3018.7 L483.2,3019.5 L483.6,3016.1 L484.0,3013.5 L484.4,3011.4 L484.8,3014.0 L485.2,3012.7 L485.6,3013.6 L486.0,3013.4 L486.4,3012.1 L486.9,3014.0 L487.3,3012.6 L487.7,3011.5 L488.1,3009.3 L488.6,3008.9 L489.0,3006.6 L489.5,3007.1 L489.9,3008.3 L490.3,3005.3 L490.8,3005.7 L491.2,3003.3 L491.7,3004.1 L492.1,3002.4 L492.6,3005.1 L493.0,3002.4 L493.5,2999.7 L493.9,3001.0 L494.4,2999.5 L494.8,2998.9 L495.3,2999.7 L495.7,2997.9 L496.2,2997.4 L496.6,2995.2 L497.1,2996.2 L497.5,2995.5 L498.0,2995.2 L498.4,2992.6 L498.9,2992.3 L499.3,2991.3 L499.8,2994.3 L500.2,2991.4 L500.6,2991.3 L501.1,2990.9 L501.6,2989.2 L502.0,2988.5 L502.5,2987.6 L503.0,2987.1 L503.4,2986.4 L503.9,2986.9 L504.4,2988.2 L504.8,2984.3 L505.3,2985.0 L505.8,2984.6 L506.2,2984.2 L506.7,2982.4 L507.1,2982.0 L507.6,2981.1 L508.1,2981.4 L508.5,2980.5 L509.0,2981.0 L509.5,2980.6 L509.9,2976.9 L510.4,2978.0 L510.9,2976.3 L511.3,2976.0 L511.8,2974.4 L512.2,2972.6 L512.7,2973.1 L513.2,2972.0 L513.6,2974.8 L514.2,2974.7 L514.8,2972.7 L515.3,2970.7 L515.9,2969.9 L516.4,2972.7 L517.0,2968.4 L517.6,2970.6 L518.1,2970.8 L518.7,2973.4 L519.2,2967.7 L519.8,2970.1 L520.4,2967.6 L520.9,2965.0 L521.5,2961.5 L522.0,2963.2 L522.6,2964.0 L523.2,2961.8 L523.7,2962.8 L524.3,2961.6 L524.8,2961.7 L525.4,2963.7 L526.0,2962.5 L526.5,2960.1 L527.1,2962.0 L527.6,2957.2 L528.2,2956.6 L528.8,2955.8 L529.3,2957.2 L529.9,2957.2 L530.4,2955.8 L531.0,2955.7 L531.5,2955.4 L532.0,2954.4 L532.6,2953.3 L533.1,2954.2 L533.7,2953.3 L534.2,2952.9 L534.7,2951.4 L535.3,2950.1 L535.8,2952.0 L536.4,2951.1 L536.9,2950.7 L537.4,2951.7 L538.0,2947.4 L538.5,2949.1 L539.1,2944.6 L539.6,2947.5 L540.2,2944.8 L540.7,2947.9 L541.2,2944.8 L541.8,2942.6 L542.3,2941.6 L542.9,2943.5 L543.4,2943.5 L544.0,2943.1 L544.5,2942.6 L545.1,2940.9 L545.7,2942.1 L546.2,2937.9 L546.8,2939.2 L547.4,2936.2 L547.9,2936.7 L548.5,2936.0 L549.0,2937.5 L549.6,2937.3 L550.2,2936.0 L550.7,2936.6 L551.3,2935.6 L551.9,2935.9 L552.4,2934.1 L553.0,2934.9 L553.5,2932.5 L554.1,2931.9 L554.7,2933.2 L555.2,2931.9 L555.8,2929.9 L556.4,2926.8 L556.9,2925.8 L557.5,2927.0 L558.1,2927.7 L558.6,2926.3 L559.2,2923.7 L559.7,2926.2 L560.4,2925.1 L561.2,2925.0 L561.9,2922.2 L562.6,2925.0 L563.3,2921.0 L564.0,2923.6 L564.7,2920.6 L565.4,2919.9 L566.1,2920.0 L566.8,2921.7 L567.5,2920.8 L568.2,2921.1 L568.9,2920.6 L569.7,2917.3 L570.4,2916.1 L571.1,2915.1 L571.8,2916.1 L572.5,2920.0 L573.2,2913.2 L573.9,2917.1 L574.6,2918.4 L575.3,2917.2 L575.9,2916.4 L576.4,2917.1 L577.0,2915.1 L577.5,2916.1 L578.1,2914.7 L578.7,2912.4 L579.2,2912.1 L579.8,2912.1 L580.3,2906.8 L580.9,2911.2 L581.4,2911.5 L582.0,2911.7 L582.6,2907.7 L583.1,2907.7 L583.7,2905.6 L584.2,2908.7 L584.8,2906.7 L585.3,2906.3 L585.9,2905.3 L586.5,2906.2 L587.0,2903.5 L587.6,2905.8 L588.1,2905.0 L588.7,2900.1 L589.2,2901.1 L589.8,2901.7 L590.4,2904.8 L590.9,2899.6 L591.5,2899.1 L592.0,2901.4 L592.6,2900.0 L593.1,2900.6 L593.7,2900.0 L594.2,2897.6 L594.8,2898.8 L595.4,2895.2 L595.9,2897.6 L596.5,2896.2 L597.0,2896.3 L597.6,2895.6 L598.1,2896.5 L598.7,2891.0 L599.3,2894.9 L599.8,2892.3 L600.4,2894.7 L600.9,2892.6 L601.5,2889.5 L602.0,2890.6 L602.6,2886.3 L603.2,2889.7 L603.7,2890.3 L604.3,2889.2 L604.8,2891.0 L605.4,2885.9 L605.9,2883.7 L606.5,2885.0 L607.0,2884.2 L607.6,2885.5 L608.1,2886.4 L608.6,2882.7 L609.2,2882.8 L609.7,2880.3 L610.3,2878.7 L610.8,2880.8 L611.3,2878.1 L611.9,2880.0 L612.4,2879.5 L612.9,2878.7 L613.5,2879.1 L614.0,2879.0 L614.6,2876.4 L615.1,2876.7 L615.6,2876.0 L616.2,2875.5 L616.7,2875.0 L617.2,2873.8 L617.8,2872.4 L618.3,2872.8 L618.9,2873.6 L619.4,2874.3 L619.9,2874.4 L620.5,2872.7 L621.0,2873.7 L621.5,2872.5 L622.1,2871.1 L622.8,2871.4 L623.5,2868.1 L624.2,2870.2 L624.9,2866.3 L625.6,2867.6 L626.3,2865.7 L627.0,2863.0 L627.7,2865.6 L628.5,2863.3 L629.2,2865.1 L629.9,2861.2 L630.6,2864.7 L631.3,2865.5 L632.0,2862.3 L632.7,2865.2 L633.4,2863.9 L634.1,2858.5 L634.8,2860.5 L635.5,2861.3 L636.2,2861.8 L637.0,2865.9 L637.7,2861.1 L638.3,2860.5 L639.0,2861.9 L639.6,2856.4 L640.3,2857.2 L640.9,2857.4 L641.6,2860.3 L642.2,2856.6 L642.9,2855.7 L643.5,2857.9 L644.2,2857.0 L644.8,2857.0 L645.5,2855.5 L646.1,2854.3 L646.8,2851.7 L647.4,2853.0 L648.0,2852.4 L648.7,2851.4 L649.3,2852.1 L650.0,2852.2 L650.6,2846.5 L651.3,2851.0 L651.9,2848.2 L652.6,2846.7 L653.2,2849.6 L653.9,2850.8 L654.6,2847.7 L655.3,2847.3 L656.0,2850.0 L656.6,2847.9 L657.3,2846.7 L658.0,2844.1 L658.7,2847.8 L659.3,2843.5 L660.0,2842.5 L660.7,2845.2 L661.4,2843.0 L662.1,2839.6 L662.7,2841.5 L663.4,2847.2 L664.1,2843.4 L664.8,2837.6 L665.4,2841.2 L666.1,2842.8 L666.8,2842.1 L667.5,2840.6 L668.2,2840.0 L668.8,2843.7 L669.5,2833.5 L670.2,2839.8 L671.0,2838.5 L671.7,2838.5 L672.4,2834.7 L673.1,2836.6 L673.8,2839.2 L674.5,2835.8 L675.2,2836.8 L675.9,2833.1 L676.6,2835.9 L677.3,2837.0 L678.0,2831.1 L678.7,2832.7 L679.5,2832.1 L680.2,2831.4 L680.9,2827.1 L681.6,2834.9 L682.3,2833.4 L683.0,2833.7 L683.7,2832.7 L684.4,2832.2 L685.2,2834.5 L685.9,2831.9 L686.6,2834.4 L687.4,2834.0 L688.1,2826.9 L688.9,2830.2 L689.6,2831.8 L690.3,2831.5 L691.1,2831.3 L691.8,2831.5 L692.6,2828.2 L693.3,2824.9 L694.1,2827.9 L694.8,2829.6 L695.5,2826.1 L696.3,2831.2 L697.0,2825.7 L697.8,2826.1 L698.5,2829.3 L699.3,2830.8 L700.0,2827.7 L700.7,2829.4 L701.5,2823.7 L702.2,2824.0 L703.0,2827.6 L703.7,2822.7 L704.4,2821.1 L705.2,2823.8 L705.9,2822.2 L706.7,2824.6 L707.4,2825.7 L708.2,2823.3 L708.9,2823.3 L709.6,2817.4 L710.4,2818.3 L711.1,2822.3 L711.9,2824.1 L712.6,2818.5 L713.4,2820.2 L714.1,2818.5 L714.8,2820.0 L715.6,2820.3 L716.4,2819.1 L717.1,2819.4 L717.9,2818.0 L718.7,2817.2 L719.5,2822.0 L720.3,2819.6 L721.0,2818.1 L721.8,2820.5 L722.6,2815.7 L723.4,2820.6 L724.2,2818.7 L724.9,2820.3 L725.7,2820.2 L726.5,2818.0 L727.3,2824.1 L728.0,2813.5 L728.8,2822.1 L729.6,2818.7 L730.4,2816.2 L731.2,2811.7 L731.8,2810.4 L732.5,2813.9 L733.1,2811.4 L733.8,2811.3 L734.4,2814.5 L735.1,2809.2 L735.7,2810.9 L736.4,2808.5 L737.0,2815.9 L737.7,2808.5 L738.3,2805.9 L739.0,2809.4 L739.6,2809.7 L740.3,2806.0 L740.9,2804.0 L741.6,2804.9 L742.2,2807.8 L742.9,2804.8 L743.5,2804.2 L744.2,2807.2 L744.8,2806.1 L745.5,2803.5 L746.1,2805.4 L746.7,2805.4 L747.5,2804.3 L748.2,2802.5 L748.9,2799.6 L749.6,2800.8 L750.3,2800.7 L751.0,2795.8 L751.7,2799.6 L752.4,2800.6 L753.1,2796.7 L753.8,2801.6 L754.5,2800.4 L755.2,2800.6 L756.0,2795.2 L756.7,2797.4 L757.4,2798.2 L758.1,2797.9 L758.8,2797.6 L759.5,2797.3 L760.2,2802.1 L760.9,2795.8 L761.6,2794.4 L762.3,2798.0 L763.0,2793.1 L763.7,2799.9 L764.5,2798.5 L765.2,2792.9 L765.9,2794.2 L766.6,2794.8 L767.3,2792.4 L768.0,2791.0 L768.7,2792.0 L769.4,2793.4 L770.1,2796.9 L770.8,2792.9 L771.5,2790.5 L772.3,2788.0 L773.0,2789.8 L773.7,2787.8 L774.4,2792.2 L775.1,2792.7 L775.8,2792.8 L776.5,2785.6 L777.2,2791.2 L777.9,2786.8 L778.6,2785.4 L779.3,2788.3 L780.0,2788.3 L780.8,2786.1 L781.5,2782.1 L782.2,2784.4 L782.9,2785.1 L783.6,2782.9 L784.3,2785.6 L785.0,2783.3 L785.7,2784.8 L786.4,2785.9 L787.1,2785.0 L787.8,2783.7 L788.5,2780.6 L789.3,2784.9 L790.0,2781.7 L790.7,2784.2 L791.4,2783.1 L792.1,2778.8 L792.8,2779.8 L793.5,2783.7 L794.2,2783.6 L794.8,2777.8 L795.4,2780.4 L796.1,2776.9 L796.7,2781.8 L797.4,2781.7 L798.0,2776.9 L798.7,2775.5 L799.3,2774.6 L800.0,2776.0 L800.6,2775.1 L801.3,2777.0 L801.9,2776.1 L802.6,2775.5 L803.2,2772.9 L803.9,2774.3 L804.5,2771.9 L805.2,2771.2 L805.8,2768.5 L806.5,2770.0 L807.1,2772.7 L807.8,2772.1 L808.4,2772.9 L809.1,2769.0 L809.8,2767.9 L810.6,2767.4 L811.3,2768.9 L812.1,2767.7 L812.8,2764.0 L813.5,2767.0 L814.3,2767.9 L815.0,2765.0 L815.8,2767.8 L816.5,2770.2 L817.2,2770.6 L818.0,2767.6 L818.7,2764.9 L819.5,2768.5 L820.2,2762.1 L821.0,2762.8 L821.7,2766.9 L822.4,2764.0 L823.2,2769.2 L823.9,2766.6 L824.7,2763.7 L825.4,2765.6 L826.2,2762.2 L826.9,2764.4 L827.6,2757.1 L828.4,2758.3 L829.1,2758.4 L829.9,2759.9 L830.6,2758.4 L831.3,2764.0 L832.1,2758.6 L832.8,2761.7 L833.6,2756.0 L834.3,2763.4 L835.1,2757.5 L835.8,2761.1 L836.5,2759.7 L837.3,2756.7 L838.0,2758.3 L838.8,2755.3 L839.5,2755.9 L840.3,2754.2 L841.0,2754.2 L841.7,2757.6 L842.4,2757.8 L843.1,2758.9 L843.8,2757.4 L844.5,2756.0 L845.2,2749.7 L845.9,2752.2 L846.6,2750.2 L847.3,2750.0 L848.0,2751.6 L848.8,2752.8 L849.5,2752.0 L850.2,2750.9 L850.9,2748.7 L851.6,2750.2 L852.3,2750.4 L853.0,2751.0 L853.7,2749.3 L854.4,2747.6 L855.1,2749.7 L855.8,2749.8 L856.5,2751.5 L857.3,2748.7 L858.0,2753.1 L858.7,2749.3 L859.4,2751.2 L860.1,2745.0 L860.8,2745.2 L861.5,2747.9 L862.2,2750.9 L862.9,2746.7 L863.6,2742.6 L864.3,2744.1 L865.0,2743.2 L865.8,2744.8 L866.5,2743.0 L867.2,2745.1 L867.9,2741.7 L868.6,2742.4 L869.3,2743.0 L870.0,2742.8 L870.7,2746.1 L871.4,2740.2 L872.2,2739.7 L873.0,2739.3 L873.8,2738.8 L874.5,2737.9 L875.3,2736.6 L876.1,2733.3 L876.9,2734.8 L877.7,2733.4 L878.4,2738.6 L879.2,2735.4 L880.0,2739.8 L880.8,2742.7 L881.6,2739.1 L882.3,2737.1 L883.1,2743.6 L883.9,2741.1 L884.7,2739.2 L885.4,2737.5 L886.2,2739.1 L887.0,2740.8 L887.8,2740.5 L888.6,2739.5 L889.3,2733.6 L890.1,2736.2 L890.9,2738.6 L891.7,2736.3 L892.5,2735.0 L893.2,2735.0 L894.0,2735.2 L894.8,2734.7 L895.6,2734.4 L896.4,2740.8 L897.1,2737.6 L897.9,2731.1 L898.7,2735.7 L899.5,2732.2 L900.3,2737.4 L901.0,2735.0 L901.8,2735.4 L902.6,2736.2 L903.3,2734.3 L904.0,2729.4 L904.7,2730.2 L905.4,2729.5 L906.1,2732.3 L906.8,2735.9 L907.5,2732.9 L908.3,2730.7 L909.0,2729.4 L909.7,2733.3 L910.4,2727.8 L911.1,2727.0 L911.8,2731.6 L912.5,2727.1 L913.2,2727.7 L913.9,2723.7 L914.6,2728.0 L915.3,2723.9 L916.0,2726.3 L916.8,2726.8 L917.5,2727.4 L918.2,2726.1 L918.9,2723.9 L919.5,2723.0 L920.2,2724.4 L920.9,2724.5 L921.6,2725.8 L922.2,2722.4 L922.9,2722.0 L923.6,2722.3 L924.3,2721.2 L925.0,2718.4 L925.6,2719.2 L926.3,2718.6 L927.0,2716.5 L927.7,2717.3 L928.3,2719.9 L929.0,2722.1 L929.7,2720.6 L930.4,2715.9 L931.0,2718.8 L931.7,2720.8 L932.4,2715.7 L933.1,2718.7 L933.8,2718.7 L934.5,2717.3 L935.2,2717.0 L935.9,2717.7 L936.6,2714.7 L937.3,2715.8 L938.0,2711.8 L938.7,2712.8 L939.4,2719.3 L940.1,2716.0 L940.8,2712.1 L941.6,2710.6 L942.3,2713.0 L943.0,2713.2 L943.7,2711.3 L944.4,2712.2 L945.1,2709.9 L945.8,2712.6 L946.5,2708.1 L947.2,2709.2 L947.9,2712.1 L948.6,2711.5 L949.3,2712.1 L950.1,2708.1 L950.8,2704.4 L951.5,2709.2 L952.2,2708.3 L952.9,2705.4 L953.6,2707.0 L954.3,2710.0 L955.0,2708.9 L955.7,2708.6 L956.4,2704.3 L957.1,2701.0 L957.8,2707.5 L958.6,2705.6 L959.3,2700.9 L960.0,2702.7 L960.7,2700.5 L961.4,2705.2 L962.1,2700.8 L962.8,2700.0 L963.5,2700.9 L964.2,2702.7 L964.9,2705.8 L965.6,2700.4 L966.3,2700.0 L967.1,2699.2 L967.8,2700.7 L968.5,2697.3 L969.2,2697.7 L969.9,2697.8 L970.6,2701.6 L971.3,2695.2 L972.0,2697.1 L972.7,2697.9 L973.4,2697.0 L974.1,2694.1 L974.8,2696.2 L975.6,2693.0 L976.3,2693.4 L977.0,2695.1 L977.7,2693.6 L978.4,2692.5 L979.1,2693.8 L979.8,2694.5 L980.5,2694.3 L981.2,2689.3 L982.0,2692.6 L982.7,2691.7 L983.4,2688.4 L984.2,2690.1 L984.9,2693.5 L985.6,2691.3 L986.4,2692.2 L987.1,2688.9 L987.8,2690.4 L988.6,2688.1 L989.3,2692.5 L990.0,2690.2 L990.8,2690.6 L991.5,2685.7 L992.2,2684.4 L993.0,2689.5 L993.7,2691.5 L994.4,2689.9 L995.2,2689.4 L995.9,2687.2 L996.6,2693.0 L997.4,2689.5 L998.2,2682.8 L999.0,2691.6 L999.8,2688.3 L1000.6,2685.5 L1001.4,2688.3 L1002.2,2682.4 L1003.0,2683.5 L1003.7,2683.1 L1004.5,2684.4 L1005.3,2684.3 L1006.1,2685.8 L1006.9,2683.8 L1007.7,2686.7 L1008.5,2683.3 L1009.3,2686.1 L1010.1,2685.5 L1010.9,2685.3 L1011.7,2687.0 L1012.5,2684.1 L1013.2,2687.3 L1014.0,2684.1 L1014.8,2684.0 L1015.6,2681.6 L1016.4,2685.2 L1017.2,2686.9 L1018.0,2688.2 L1018.8,2684.8 L1019.6,2681.9 L1020.4,2682.9 L1021.2,2684.2 L1022.0,2679.0 L1022.7,2680.7 L1023.5,2681.3 L1024.3,2681.6 L1025.1,2684.3 L1025.9,2681.7 L1026.7,2680.6 L1027.5,2678.4 L1028.3,2682.3 L1029.1,2680.7 L1029.9,2676.2 L1030.5,2680.1 L1031.1,2678.1 L1031.7,2673.0 L1032.2,2677.9 L1032.8,2679.6 L1033.4,2676.8 L1034.0,2679.0 L1034.6,2674.2 L1035.2,2676.6 L1035.8,2673.6 L1036.4,2674.3 L1037.0,2671.5 L1037.6,2671.2 L1038.2,2675.8 L1038.8,2672.9 L1039.4,2671.0 L1040.0,2669.1 L1040.6,2668.2 L1041.2,2668.8 L1041.7,2665.1 L1042.3,2668.1 L1042.9,2667.3 L1043.5,2672.2 L1044.1,2666.2 L1044.7,2665.3 L1045.3,2669.4 L1045.9,2670.6 L1046.5,2667.3 L1047.2,2667.1 L1047.8,2662.5 L1048.5,2662.8 L1049.2,2663.4 L1049.8,2664.3 L1050.5,2660.9 L1051.1,2662.0 L1051.8,2665.5 L1052.5,2660.5 L1053.1,2659.4 L1053.8,2658.1 L1054.5,2660.3 L1055.1,2658.8 L1055.8,2658.6 L1056.5,2656.8 L1057.1,2656.1 L1057.8,2656.9 L1058.5,2656.1 L1059.1,2658.7 L1059.8,2656.8 L1060.5,2659.9 L1061.1,2657.8 L1061.8,2657.8 L1062.5,2659.2 L1063.1,2654.4 L1063.9,2657.7 L1064.6,2652.6 L1065.4,2653.4 L1066.1,2654.4 L1066.9,2653.3 L1067.7,2654.9 L1068.4,2654.1 L1069.2,2652.8 L1069.9,2651.5 L1070.7,2652.4 L1071.4,2653.2 L1072.2,2651.9 L1072.9,2652.0 L1073.7,2649.2 L1074.5,2649.1 L1075.2,2649.6 L1076.0,2651.8 L1076.7,2649.6 L1077.5,2648.5 L1078.2,2653.2 L1079.0,2649.9 L1079.7,2647.5 L1080.5,2648.7 L1081.3,2651.1 L1082.1,2649.8 L1082.9,2649.6 L1083.7,2648.4 L1084.5,2649.5 L1085.3,2648.0 L1086.1,2648.2 L1086.9,2651.5 L1087.7,2652.5 L1088.4,2648.0 L1089.2,2642.9 L1090.0,2649.7 L1090.8,2650.3 L1091.6,2648.5 L1092.4,2652.3 L1093.2,2648.2 L1094.0,2647.4 L1094.8,2650.0 L1095.6,2645.3 L1096.4,2649.8 L1097.0,2650.8 L1097.7,2650.7 L1098.4,2650.4 L1099.0,2650.4 L1099.7,2647.8 L1100.4,2650.6 L1101.0,2648.5 L1101.7,2649.1 L1102.3,2648.9 L1103.0,2648.2 L1103.7,2650.3 L1104.3,2650.0 L1105.0,2648.0 L1105.7,2643.7 L1106.3,2642.1 L1107.0,2644.4 L1107.7,2643.1 L1108.3,2649.2 L1109.0,2639.4 L1109.7,2644.8 L1110.3,2639.9 L1111.0,2642.4 L1111.7,2642.7 L1112.3,2644.7 L1113.0,2640.6 L1113.7,2641.7 L1114.3,2636.5 L1115.0,2639.7 L1115.6,2636.4 L1116.3,2640.6 L1117.0,2636.8 L1117.6,2638.3 L1118.3,2634.7 L1119.0,2640.1 L1119.6,2637.3 L1120.3,2634.6 L1121.0,2639.1 L1121.6,2639.0 L1122.3,2635.5 L1123.0,2634.9 L1123.6,2636.0 L1124.3,2634.4 L1125.0,2638.1 L1125.6,2634.2 L1126.3,2637.9 L1127.0,2633.3 L1127.6,2631.9 L1128.3,2631.8 L1128.9,2633.6 L1129.6,2633.1 L1130.4,2628.8 L1131.1,2630.2 L1131.9,2631.7 L1132.6,2623.8 L1133.4,2626.1 L1134.1,2626.8 L1134.9,2626.8 L1135.7,2627.8 L1136.4,2624.4 L1137.2,2626.5 L1137.9,2626.3 L1138.7,2624.4 L1139.4,2627.7 L1140.2,2625.6 L1140.9,2629.6 L1141.7,2626.3 L1142.5,2626.4 L1143.2,2629.4 L1144.0,2627.8 L1144.7,2627.6 L1145.5,2627.0 L1146.2,2622.4 L1147.0,2622.6 L1147.7,2620.0 L1148.5,2619.0 L1149.3,2622.4 L1150.0,2626.4 L1150.8,2623.3 L1151.5,2620.9 L1152.3,2623.0 L1153.0,2620.2 L1153.8,2622.2 L1154.5,2621.5 L1155.3,2620.5 L1156.1,2619.3 L1156.8,2615.6 L1157.6,2616.1 L1158.3,2619.6 L1159.1,2622.5 L1159.8,2618.6 L1160.6,2616.4 L1161.3,2618.9 L1162.1,2614.5 L1162.9,2615.9 L1163.6,2615.8 L1164.3,2617.3 L1165.0,2617.5 L1165.7,2619.0 L1166.5,2619.7 L1167.2,2616.9 L1167.9,2619.0 L1168.6,2614.0 L1169.4,2609.8 L1170.1,2611.0 L1170.8,2612.2 L1171.5,2612.4 L1172.3,2612.0 L1173.0,2611.2 L1173.7,2614.7 L1174.4,2609.5 L1175.1,2607.0 L1175.9,2609.1 L1176.6,2612.0 L1177.3,2606.8 L1178.0,2612.8 L1178.8,2606.5 L1179.5,2612.8 L1180.3,2612.6 L1181.1,2608.2 L1181.9,2607.7 L1182.6,2609.5 L1183.4,2608.6 L1184.2,2607.0 L1185.0,2609.3 L1185.8,2609.1 L1186.6,2609.0 L1187.4,2604.2 L1188.2,2604.9 L1189.0,2605.4 L1189.8,2606.1 L1190.6,2604.9 L1191.4,2604.2 L1192.1,2607.2 L1192.9,2609.1 L1193.7,2602.3 L1194.5,2600.6 L1195.3,2602.3 L1196.1,2602.9 L1196.9,2602.6 L1197.7,2603.9 L1198.5,2604.4 L1199.3,2597.7 L1200.1,2603.7 L1200.9,2602.7 L1201.6,2603.4 L1202.4,2602.8 L1203.2,2605.7 L1204.0,2605.8 L1204.8,2600.9 L1205.6,2599.5 L1206.4,2600.0 L1207.2,2602.1 L1208.0,2602.2 L1208.8,2600.1 L1209.6,2597.8 L1210.4,2594.5 L1211.1,2602.5 L1211.9,2596.8 L1212.7,2603.4 L1213.4,2598.8 L1214.1,2603.4 L1214.7,2600.6 L1215.4,2597.5 L1216.1,2600.9 L1216.7,2601.5 L1217.4,2594.3 L1218.0,2599.9 L1218.7,2595.5 L1219.4,2592.6 L1220.0,2600.3 L1220.7,2598.6 L1221.4,2592.8 L1222.0,2599.8 L1222.7,2593.1 L1223.4,2591.0 L1224.0,2593.9 L1224.7,2592.2 L1225.4,2594.9 L1226.0,2591.6 L1226.7,2591.2 L1227.4,2595.7 L1228.0,2591.0 L1228.7,2588.3 L1229.4,2587.9 L1230.1,2589.1 L1230.9,2588.1 L1231.7,2588.9 L1232.5,2589.4 L1233.3,2589.3 L1234.1,2585.9 L1234.9,2591.3 L1235.7,2589.8 L1236.5,2592.2 L1237.3,2592.9 L1238.1,2591.3 L1238.8,2592.2 L1239.6,2591.8 L1240.4,2585.9 L1241.2,2586.3 L1242.0,2586.0 L1242.8,2586.2 L1243.6,2588.0 L1244.4,2590.5 L1245.2,2587.3 L1246.0,2586.1 L1246.7,2588.2 L1247.4,2583.5 L1248.1,2584.8 L1248.9,2584.2 L1249.6,2585.8 L1250.3,2581.1 L1251.0,2583.7 L1251.8,2580.5 L1252.5,2584.7 L1253.2,2581.8 L1253.9,2584.1 L1254.6,2584.6 L1255.4,2584.7 L1256.1,2583.3 L1256.8,2579.5 L1257.5,2583.3 L1258.3,2578.6 L1259.0,2583.1 L1259.7,2580.4 L1260.4,2583.4 L1261.2,2578.0 L1261.9,2580.7 L1262.6,2582.5 L1263.3,2575.6 L1264.0,2577.2 L1264.8,2580.4 L1265.5,2580.9 L1266.2,2576.3 L1266.9,2574.6 L1267.7,2574.6 L1268.4,2579.6 L1269.1,2572.8 L1269.8,2571.5 L1270.5,2570.3 L1271.3,2568.5 L1272.0,2573.3 L1272.7,2570.7 L1273.4,2570.6 L1274.2,2571.1 L1274.9,2567.9 L1275.6,2570.1 L1276.3,2566.6 L1277.1,2566.3 L1277.8,2569.1 L1278.5,2573.0 L1279.2,2570.5 L1280.0,2570.1 L1280.8,2566.2 L1281.6,2571.6 L1282.4,2573.4 L1283.2,2571.4 L1284.0,2566.5 L1284.8,2569.5 L1285.6,2563.7 L1286.3,2569.2 L1287.1,2567.3 L1287.9,2570.1 L1288.7,2565.0 L1289.5,2564.3 L1290.3,2567.4 L1291.1,2562.8 L1291.9,2564.0 L1292.7,2566.0 L1293.5,2567.0 L1294.3,2567.3 L1295.1,2570.0 L1295.8,2565.7 L1296.5,2566.3 L1297.2,2562.8 L1297.8,2562.4 L1298.5,2566.6 L1299.2,2561.9 L1299.8,2561.3 L1300.5,2559.4 L1301.2,2561.4 L1301.8,2561.1 L1302.5,2560.8 L1303.2,2561.2 L1303.8,2562.8 L1304.5,2561.7 L1305.2,2556.8 L1305.8,2556.9 L1306.5,2560.3 L1307.1,2555.1 L1307.8,2560.3 L1308.5,2555.5 L1309.1,2560.5 L1309.8,2556.6 L1310.5,2556.5 L1311.1,2559.4 L1311.8,2555.5 L1312.5,2553.2 L1313.2,2557.3 L1314.0,2553.7 L1314.7,2553.1 L1315.5,2552.3 L1316.2,2554.0 L1317.0,2549.9 L1317.8,2552.9 L1318.5,2552.7 L1319.3,2550.8 L1320.0,2551.4 L1320.8,2550.5 L1321.5,2554.5 L1322.3,2549.9 L1323.0,2549.1 L1323.8,2549.1 L1324.6,2546.9 L1325.3,2548.7 L1326.1,2543.7 L1326.8,2548.9 L1327.6,2548.7 L1328.3,2552.7 L1329.1,2545.4 L1329.8,2547.6 L1330.5,2552.2 L1331.3,2549.9 L1332.0,2547.7 L1332.7,2550.4 L1333.4,2549.8 L1334.2,2547.0 L1334.9,2544.2 L1335.6,2546.6 L1336.3,2546.2 L1337.0,2544.0 L1337.8,2550.9 L1338.5,2545.2 L1339.2,2544.8 L1339.9,2544.6 L1340.7,2542.6 L1341.4,2541.7 L1342.1,2546.2 L1342.8,2543.9 L1343.5,2543.8 L1344.3,2545.6 L1345.0,2541.7 L1345.7,2539.7 L1346.4,2541.1 L1347.2,2542.3 L1347.9,2542.1 L1348.6,2541.0 L1349.3,2540.8 L1350.1,2543.1 L1350.8,2540.0 L1351.5,2538.3 L1352.2,2541.2 L1352.9,2536.8 L1353.7,2540.0 L1354.4,2539.2 L1355.1,2536.8 L1355.8,2539.2 L1356.6,2537.3 L1357.3,2536.5 L1358.0,2535.7 L1358.7,2534.1 L1359.4,2534.0 L1360.2,2535.1 L1360.9,2534.2 L1361.6,2538.0 L1362.3,2531.0 L1363.1,2532.4 L1363.8,2530.7 L1364.6,2530.2 L1365.4,2536.2 L1366.1,2531.4 L1366.9,2532.7 L1367.6,2528.6 L1368.4,2532.5 L1369.1,2530.5 L1369.9,2528.4 L1370.6,2530.7 L1371.4,2527.7 L1372.2,2530.8 L1372.9,2532.5 L1373.7,2530.7 L1374.4,2535.3 L1375.2,2531.8 L1375.9,2532.1 L1376.7,2528.8 L1377.4,2524.7 L1378.2,2529.0 L1379.0,2527.5 L1379.7,2526.2 L1380.5,2528.5 L1381.2,2527.3 L1382.0,2525.3 L1382.7,2529.7 L1383.5,2527.8 L1384.3,2527.7 L1385.0,2530.5 L1385.8,2523.1 L1386.5,2523.9 L1387.3,2522.9 L1388.0,2525.8 L1388.8,2520.6 L1389.5,2521.6 L1390.3,2518.6 L1391.1,2520.6 L1391.8,2519.5 L1392.6,2520.2 L1393.3,2521.6 L1394.1,2520.6 L1394.8,2519.9 L1395.6,2513.3 L1396.3,2519.7 L1397.0,2523.5 L1397.8,2518.6 L1398.5,2521.9 L1399.2,2523.4 L1399.9,2517.6 L1400.6,2519.7 L1401.4,2519.8 L1402.1,2520.3 L1402.8,2515.1 L1403.5,2513.1 L1404.3,2518.7 L1405.0,2512.8 L1405.7,2513.7 L1406.4,2511.5 L1407.1,2513.9 L1407.9,2511.3 L1408.6,2513.7 L1409.3,2510.5 L1410.0,2510.7 L1410.8,2511.6 L1411.5,2506.3 L1412.2,2509.0 L1412.9,2509.9 L1413.7,2508.0 L1414.4,2508.1 L1415.1,2506.2 L1415.8,2508.3 L1416.5,2505.9 L1417.3,2510.2 L1418.0,2507.5 L1418.7,2509.4 L1419.4,2509.9 L1420.2,2507.7 L1420.9,2506.6 L1421.6,2507.7 L1422.3,2506.4 L1423.0,2505.6 L1423.8,2507.0 L1424.5,2506.4 L1425.2,2505.4 L1425.9,2504.2 L1426.7,2505.9 L1427.4,2504.8 L1428.1,2503.0 L1428.8,2502.4 L1429.6,2505.5 L1430.4,2501.2 L1431.2,2503.9 L1432.0,2500.8 L1432.8,2502.6 L1433.6,2503.4 L1434.4,2503.1 L1435.2,2500.3 L1436.0,2499.8 L1436.7,2499.4 L1437.5,2497.7 L1438.3,2498.0 L1439.1,2503.1 L1439.9,2497.8 L1440.7,2498.1 L1441.5,2498.9 L1442.3,2498.9 L1443.1,2500.1 L1443.9,2497.6 L1444.7,2500.8 L1445.5,2497.9 L1446.2,2495.1 L1447.0,2499.9 L1447.8,2500.3 L1448.6,2506.5 L1449.4,2500.8 L1450.2,2499.4 L1451.0,2494.3 L1451.8,2497.8 L1452.6,2502.8 L1453.4,2500.9 L1454.2,2500.4 L1455.0,2502.9 L1455.7,2501.1 L1456.5,2495.3 L1457.3,2494.7 L1458.1,2502.8 L1458.9,2493.1 L1459.7,2496.0 L1460.5,2497.0 L1461.3,2497.3 L1462.1,2498.3 L1462.9,2501.7 L1463.7,2497.0 L1464.5,2496.0 L1465.2,2498.2 L1466.0,2496.0 L1466.8,2498.3 L1467.6,2495.3 L1468.4,2494.6 L1469.2,2495.6 L1470.0,2495.4 L1470.8,2495.5 L1471.6,2497.5 L1472.4,2497.3 L1473.2,2492.8 L1474.0,2494.5 L1474.7,2495.0 L1475.5,2497.0 L1476.3,2496.8 L1477.1,2497.4 L1477.9,2495.4 L1478.7,2498.7 L1479.4,2495.5 L1480.1,2492.6 L1480.9,2496.7 L1481.6,2493.5 L1482.3,2491.1 L1483.0,2491.5 L1483.8,2494.1 L1484.5,2493.4 L1485.2,2496.2 L1485.9,2495.4 L1486.7,2492.3 L1487.4,2496.6 L1488.1,2491.5 L1488.8,2489.1 L1489.5,2492.9 L1490.3,2487.6 L1491.0,2490.0 L1491.7,2490.5 L1492.4,2489.9 L1493.2,2489.4 L1493.9,2491.0 L1494.6,2491.1 L1495.3,2487.7 L1496.1,2487.7 L1496.8,2489.5 L1497.6,2487.8 L1498.3,2490.8 L1499.1,2488.9 L1499.9,2488.3 L1500.6,2485.7 L1501.4,2487.9 L1502.1,2488.7 L1502.9,2488.8 L1503.6,2490.7 L1504.4,2483.5 L1505.1,2487.4 L1505.9,2484.3 L1506.7,2485.9 L1507.4,2488.5 L1508.2,2478.9 L1508.9,2486.2 L1509.7,2483.3 L1510.4,2481.8 L1511.2,2483.3 L1511.9,2484.5 L1512.7,2481.0 L1513.4,2487.3 L1514.1,2486.0 L1514.8,2483.1 L1515.6,2482.3 L1516.3,2482.0 L1517.0,2480.9 L1517.7,2480.2 L1518.5,2482.2 L1519.2,2477.7 L1519.9,2477.8 L1520.6,2475.4 L1521.3,2474.3 L1522.1,2472.9 L1522.8,2477.8 L1523.5,2477.5 L1524.2,2476.7 L1525.0,2476.2 L1525.7,2477.0 L1526.4,2478.7 L1527.1,2476.0 L1527.8,2475.0 L1528.6,2474.7 L1529.3,2476.2 L1530.0,2475.5 L1530.7,2473.6 L1531.5,2474.7 L1532.2,2473.7 L1532.9,2470.6 L1533.6,2471.8 L1534.4,2472.1 L1535.1,2473.2 L1535.8,2470.3 L1536.5,2474.8 L1537.2,2469.9 L1538.0,2471.9 L1538.7,2471.4 L1539.4,2465.3 L1540.1,2473.3 L1540.9,2470.9 L1541.6,2470.0 L1542.3,2470.3 L1543.0,2470.0 L1543.7,2470.2 L1544.5,2469.1 L1545.2,2465.7 L1546.0,2460.1 L1546.7,2462.8 L1547.5,2460.1 L1548.2,2463.2 L1549.0,2462.0 L1549.7,2462.5 L1550.5,2459.0 L1551.2,2464.0 L1552.0,2464.2 L1552.8,2462.4 L1553.5,2461.3 L1554.3,2462.3 L1555.0,2457.8 L1555.8,2462.2 L1556.5,2462.1 L1557.3,2460.4 L1558.0,2462.7 L1558.8,2459.1 L1559.6,2459.1 L1560.3,2458.8 L1561.1,2462.0 L1561.8,2459.2 L1562.6,2460.1 L1563.4,2457.8 L1564.2,2460.9 L1565.0,2460.7 L1565.8,2458.7 L1566.6,2458.1 L1567.4,2465.9 L1568.2,2462.1 L1568.9,2461.8 L1569.7,2468.5 L1570.5,2460.4 L1571.3,2456.3 L1572.1,2462.4 L1572.9,2464.4 L1573.7,2459.8 L1574.5,2461.3 L1575.3,2463.1 L1576.1,2460.8 L1576.9,2464.7 L1577.6,2468.0 L1578.4,2462.8 L1579.2,2464.6 L1580.0,2460.2 L1580.7,2459.7 L1581.5,2464.5 L1582.2,2462.0 L1583.0,2458.1 L1583.7,2459.8 L1584.5,2461.1 L1585.2,2459.6 L1586.0,2460.2 L1586.8,2462.3 L1587.5,2461.8 L1588.3,2461.1 L1589.0,2456.3 L1589.8,2456.7 L1590.5,2459.9 L1591.3,2462.8 L1592.0,2458.0 L1592.8,2460.2 L1593.6,2459.2 L1594.3,2456.5 L1595.1,2465.3 L1595.8,2456.9 L1596.5,2459.3 L1597.2,2456.4 L1597.9,2455.7 L1598.6,2454.7 L1599.3,2452.9 L1600.0,2453.5 L1600.7,2456.0 L1601.5,2452.3 L1602.2,2453.9 L1603.0,2449.8 L1603.7,2450.5 L1604.5,2448.9 L1605.2,2451.0 L1606.0,2455.7 L1606.7,2450.3 L1607.5,2451.5 L1608.2,2448.9 L1608.9,2450.6 L1609.7,2451.4 L1610.4,2453.0 L1611.2,2450.5 L1611.9,2450.0 L1612.7,2444.3 L1613.4,2450.5 L1614.2,2445.1 L1614.9,2447.3 L1615.7,2442.2 L1616.4,2449.5 L1617.1,2446.2 L1617.8,2449.9 L1618.5,2444.8 L1619.2,2443.9 L1619.9,2445.1 L1620.6,2443.3 L1621.3,2449.6 L1621.9,2447.6 L1622.6,2445.3 L1623.3,2447.3 L1624.0,2444.3 L1624.7,2441.0 L1625.4,2446.2 L1626.1,2445.9 L1626.7,2444.0 L1627.4,2442.8 L1628.1,2440.4 L1628.8,2440.4 L1629.5,2435.7 L1630.2,2440.5 L1630.9,2440.3 L1631.5,2440.6 L1632.2,2440.3 L1632.9,2436.9 L1633.6,2441.6 L1634.3,2437.1 L1634.9,2437.3 L1635.5,2439.6 L1636.1,2436.1 L1636.7,2438.7 L1637.3,2435.4 L1638.0,2432.4 L1638.6,2435.1 L1639.2,2435.4 L1639.8,2433.7 L1640.4,2433.6 L1641.0,2431.6 L1641.6,2431.4 L1642.2,2428.5 L1642.9,2432.9 L1643.5,2428.5 L1644.1,2429.2 L1644.7,2427.9 L1645.3,2428.9 L1645.9,2423.3 L1646.5,2426.4 L1647.1,2422.1 L1647.8,2426.3 L1648.4,2427.6 L1649.0,2423.2 L1649.6,2423.1 L1650.2,2420.4 L1650.8,2422.7 L1651.4,2423.7 L1652.1,2422.9 L1652.9,2417.4 L1653.6,2416.4 L1654.3,2418.3 L1655.0,2416.4 L1655.7,2419.9 L1656.4,2419.8 L1657.1,2425.2 L1657.9,2422.2 L1658.6,2421.4 L1659.3,2418.1 L1660.0,2413.3 L1660.7,2416.9 L1661.4,2417.3 L1662.1,2412.7 L1662.9,2412.2 L1663.6,2413.9 L1664.3,2412.5 L1665.0,2416.1 L1665.7,2409.6 L1666.4,2410.0 L1667.1,2410.8 L1667.9,2412.7 L1668.6,2414.6 L1669.3,2418.2 L1670.0,2412.6 L1670.7,2409.8 L1671.4,2409.9 L1672.1,2413.6 L1672.9,2408.9 L1673.6,2410.6 L1674.3,2412.5 L1675.0,2413.9 L1675.7,2411.1 L1676.4,2410.4 L1677.1,2410.7 L1677.9,2409.0 L1678.6,2410.4 L1679.3,2406.5 L1680.0,2407.0 L1680.7,2406.1 L1681.4,2406.0 L1682.1,2402.4 L1682.9,2407.0 L1683.6,2406.8 L1684.3,2409.2 L1685.0,2405.5 L1685.7,2407.8 L1686.5,2405.9 L1687.3,2404.3 L1688.1,2404.7 L1688.8,2400.7 L1689.6,2403.5 L1690.4,2402.7 L1691.2,2401.6 L1691.9,2402.6 L1692.7,2402.9 L1693.5,2400.3 L1694.3,2401.8 L1695.1,2404.0 L1695.8,2402.3 L1696.6,2397.2 L1697.4,2404.6 L1698.2,2402.7 L1699.0,2403.9 L1699.7,2399.8 L1700.5,2401.9 L1701.3,2406.2 L1702.1,2398.6 L1702.9,2404.6 L1703.6,2398.8 L1704.3,2395.6 L1705.0,2396.7 L1705.7,2396.4 L1706.4,2400.4 L1707.1,2395.5 L1707.9,2393.3 L1708.6,2398.3 L1709.3,2395.8 L1710.0,2396.3 L1710.7,2397.8 L1711.4,2393.7 L1712.1,2394.7 L1712.9,2395.7 L1713.6,2397.8 L1714.3,2396.9 L1715.0,2395.4 L1715.7,2397.9 L1716.4,2396.0 L1717.1,2394.5 L1717.9,2393.2 L1718.6,2393.5 L1719.3,2393.0 L1720.0,2390.4 L1720.8,2388.3 L1721.6,2393.8 L1722.3,2391.7 L1723.1,2389.9 L1723.9,2389.8 L1724.7,2392.3 L1725.5,2388.4 L1726.2,2391.4 L1727.0,2390.7 L1727.8,2390.5 L1728.6,2387.8 L1729.4,2391.4 L1730.1,2385.5 L1730.9,2387.1 L1731.7,2384.3 L1732.5,2386.2 L1733.2,2387.2 L1734.0,2390.6 L1734.8,2393.5 L1735.6,2388.3 L1736.4,2388.7 L1737.1,2388.5 L1737.8,2385.5 L1738.5,2385.7 L1739.2,2385.5 L1739.9,2386.7 L1740.6,2386.6 L1741.3,2384.5 L1741.9,2386.6 L1742.6,2385.7 L1743.3,2380.4 L1744.0,2384.2 L1744.7,2381.5 L1745.4,2382.1 L1746.1,2380.9 L1746.7,2385.9 L1747.4,2382.0 L1748.1,2383.3 L1748.8,2383.5 L1749.5,2379.8 L1750.2,2375.9 L1750.9,2376.1 L1751.5,2373.0 L1752.2,2377.4 L1752.9,2376.1 L1753.6,2375.2 L1754.3,2376.4 L1755.0,2372.7 L1755.8,2375.3 L1756.5,2372.9 L1757.3,2375.0 L1758.0,2372.9 L1758.8,2374.4 L1759.5,2375.0 L1760.2,2377.8 L1761.0,2370.4 L1761.7,2372.9 L1762.5,2374.5 L1763.2,2373.4 L1764.0,2373.0 L1764.7,2372.2 L1765.5,2372.1 L1766.2,2369.6 L1767.0,2368.6 L1767.7,2372.3 L1768.4,2368.8 L1769.2,2372.8 L1769.9,2369.9 L1770.7,2369.3 L1771.4,2370.5 L1772.2,2369.6 L1773.0,2364.5 L1773.8,2370.4 L1774.5,2367.9 L1775.3,2362.6 L1776.1,2367.5 L1776.9,2368.0 L1777.7,2364.4 L1778.4,2371.4 L1779.2,2377.1 L1780.0,2368.5 L1780.8,2366.9 L1781.6,2368.6 L1782.3,2366.4 L1783.1,2367.8 L1783.9,2370.0 L1784.7,2371.1 L1785.5,2368.3 L1786.2,2367.3 L1787.0,2369.5 L1787.8,2366.2 L1788.6,2364.8 L1789.3,2360.3 L1790.1,2363.7 L1790.8,2364.5 L1791.6,2363.8 L1792.3,2362.0 L1793.0,2361.3 L1793.8,2359.7 L1794.5,2361.2 L1795.3,2361.9 L1796.0,2360.8 L1796.8,2359.2 L1797.5,2359.4 L1798.3,2361.6 L1799.0,2361.4 L1799.8,2358.2 L1800.5,2361.8 L1801.2,2355.1 L1802.0,2358.1 L1802.7,2358.6 L1803.5,2356.0 L1804.2,2356.4 L1805.0,2358.6 L1805.7,2359.5 L1806.5,2356.1 L1807.3,2358.1 L1808.1,2359.2 L1808.8,2353.9 L1809.6,2359.4 L1810.4,2357.4 L1811.2,2358.7 L1811.9,2356.6 L1812.7,2355.6 L1813.5,2353.5 L1814.3,2358.3 L1814.7,2356.6 L1815.2,2356.0 L1815.6,2356.5 L1816.1,2356.0 L1816.5,2354.7 L1817.0,2354.8 L1817.4,2350.5 L1817.9,2353.6 L1818.3,2353.9 L1818.8,2349.6 L1819.2,2349.4 L1819.7,2350.4 L1820.2,2350.8 L1820.6,2346.5 L1821.1,2348.2 L1821.5,2344.8 L1822.0,2343.6 L1822.4,2346.6 L1822.9,2344.7 L1823.6,2346.0 L1824.3,2348.2 L1825.1,2348.2 L1825.8,2341.7 L1826.6,2342.6 L1827.3,2341.3 L1828.1,2339.1 L1828.8,2342.2 L1829.6,2344.8 L1830.3,2343.8 L1831.1,2342.2 L1831.8,2346.1 L1832.5,2339.0 L1833.3,2344.7 L1834.0,2340.7 L1834.8,2338.8 L1835.5,2338.6 L1836.3,2345.6 L1837.0,2339.0 L1837.8,2343.4 L1838.5,2336.9 L1839.3,2338.1 L1840.0,2337.5 L1840.7,2335.5 L1841.5,2337.6 L1842.2,2340.1 L1843.0,2336.9 L1843.7,2339.6 L1844.5,2341.1 L1845.2,2337.0 L1846.0,2337.5 L1846.7,2332.6 L1847.5,2335.8 L1848.2,2332.6 L1848.9,2329.6 L1849.7,2335.1 L1850.4,2330.1 L1851.2,2332.9 L1851.9,2333.2 L1852.7,2336.2 L1853.4,2331.2 L1854.2,2336.4 L1854.9,2331.9 L1855.7,2331.9 L1856.4,2336.7 L1857.1,2329.3 L1857.8,2334.5 L1858.5,2332.3 L1859.2,2324.5 L1859.9,2328.5 L1860.6,2327.8 L1861.3,2328.7 L1861.9,2328.3 L1862.6,2328.3 L1863.3,2325.5 L1864.0,2327.0 L1864.7,2327.1 L1865.4,2325.2 L1866.1,2327.6 L1866.7,2327.7 L1867.4,2326.5 L1868.1,2324.5 L1868.8,2323.5 L1869.5,2325.8 L1870.2,2321.5 L1870.9,2323.2 L1871.5,2319.0 L1872.2,2324.5 L1872.9,2320.9 L1873.6,2319.7 L1874.3,2322.6 L1875.1,2321.6 L1875.8,2321.7 L1876.6,2322.4 L1877.4,2320.8 L1878.2,2318.1 L1879.0,2320.6 L1879.7,2324.2 L1880.5,2323.0 L1881.3,2321.1 L1882.1,2319.6 L1882.9,2318.3 L1883.6,2316.0 L1884.4,2316.4 L1885.2,2318.4 L1886.0,2313.0 L1886.8,2316.3 L1887.5,2317.4 L1888.3,2317.7 L1889.1,2320.4 L1889.9,2317.7 L1890.6,2324.2 L1891.4,2321.4 L1892.1,2315.6 L1892.8,2315.3 L1893.5,2315.5 L1894.2,2315.8 L1894.9,2314.5 L1895.5,2314.7 L1896.2,2317.0 L1896.9,2313.9 L1897.6,2313.6 L1898.3,2311.5 L1899.0,2312.6 L1899.7,2312.3 L1900.3,2312.3 L1901.0,2311.5 L1901.7,2308.3 L1902.4,2312.3 L1903.1,2311.4 L1903.8,2310.2 L1904.5,2308.9 L1905.1,2304.5 L1905.8,2309.9 L1906.5,2305.8 L1907.2,2306.1 L1907.9,2303.2 L1908.6,2304.7 L1909.4,2303.8 L1910.1,2305.9 L1910.9,2308.8 L1911.7,2310.0 L1912.5,2308.9 L1913.2,2300.9 L1914.0,2307.3 L1914.8,2305.1 L1915.6,2304.2 L1916.4,2301.9 L1917.1,2306.9 L1917.9,2304.9 L1918.7,2310.2 L1919.5,2301.3 L1920.3,2304.8 L1921.0,2304.4 L1921.8,2304.3 L1922.6,2299.4 L1923.4,2304.3 L1924.2,2304.0 L1924.9,2302.4 L1925.7,2306.6 L1926.5,2306.8 L1927.2,2302.9 L1928.0,2305.3 L1928.7,2296.8 L1929.4,2298.3 L1930.2,2302.9 L1930.9,2298.1 L1931.7,2300.7 L1932.4,2298.2 L1933.2,2300.5 L1933.9,2299.6 L1934.7,2304.9 L1935.4,2300.3 L1936.1,2299.3 L1936.9,2301.8 L1937.6,2294.3 L1938.4,2290.7 L1939.1,2296.1 L1939.9,2295.2 L1940.6,2291.7 L1941.4,2293.2 L1942.1,2290.3 L1942.9,2293.4 L1943.6,2291.9 L1944.4,2292.5 L1945.2,2289.7 L1946.0,2293.1 L1946.8,2293.4 L1947.5,2292.2 L1948.3,2294.1 L1949.1,2294.1 L1949.9,2295.7 L1950.6,2294.6 L1951.4,2293.6 L1952.2,2290.7 L1953.0,2297.0 L1953.8,2292.2 L1954.5,2293.2 L1955.3,2289.8 L1956.1,2288.8 L1956.9,2290.3 L1957.7,2290.7 L1958.4,2288.0 L1959.2,2293.6 L1960.0,2290.0 L1960.8,2289.9 L1961.6,2293.7 L1962.3,2290.9 L1963.1,2291.1 L1963.9,2286.7 L1964.7,2285.4 L1965.5,2290.1 L1966.2,2288.8 L1967.0,2292.1 L1967.8,2294.2 L1968.6,2291.9 L1969.4,2294.3 L1970.1,2289.9 L1970.9,2292.1 L1971.7,2293.6 L1972.5,2290.2 L1973.2,2289.5 L1974.0,2290.7 L1974.8,2286.8 L1975.6,2286.0 L1976.4,2287.6 L1977.1,2280.6 L1977.9,2287.3 L1978.6,2282.8 L1979.4,2287.0 L1980.1,2285.9 L1980.9,2284.9 L1981.6,2285.5 L1982.4,2283.6 L1983.1,2282.3 L1983.9,2285.1 L1984.6,2284.9 L1985.3,2285.1 L1986.1,2286.3 L1986.8,2279.6 L1987.6,2281.8 L1988.3,2284.4 L1989.1,2281.3 L1989.8,2281.5 L1990.6,2282.2 L1991.3,2286.1 L1992.1,2279.7 L1992.8,2280.3 L1993.5,2276.2 L1994.3,2277.4 L1995.0,2278.0 L1995.7,2275.4 L1996.4,2278.7 L1997.1,2277.6 L1997.9,2278.5 L1998.6,2277.8 L1999.3,2277.3 L2000.0,2277.2 L2000.7,2273.6 L2001.4,2275.1 L2002.1,2276.5 L2002.9,2274.9 L2003.6,2273.7 L2004.3,2273.4 L2005.0,2272.2 L2005.7,2271.4 L2006.4,2269.9 L2007.1,2275.5 L2007.9,2272.0 L2008.6,2271.6 L2009.3,2275.0 L2010.0,2275.7 L2010.7,2269.0 L2011.4,2268.2 L2012.2,2269.7 L2012.9,2272.2 L2013.7,2270.5 L2014.4,2270.4 L2015.2,2270.4 L2015.9,2271.5 L2016.6,2271.4 L2017.4,2270.0 L2018.1,2269.5 L2018.9,2268.3 L2019.6,2268.1 L2020.4,2269.8 L2021.1,2270.8 L2021.9,2266.1 L2022.6,2265.3 L2023.4,2267.8 L2024.1,2269.2 L2024.8,2267.1 L2025.6,2267.1 L2026.3,2265.1 L2027.1,2270.1 L2027.8,2267.6 L2028.6,2263.3 L2029.3,2267.4 L2030.1,2261.9 L2030.8,2262.8 L2031.6,2263.9 L2032.3,2262.0 L2033.0,2268.1 L2033.8,2265.6 L2034.5,2266.5 L2035.3,2264.7 L2036.0,2263.6 L2036.8,2264.9 L2037.5,2266.7 L2038.3,2262.1 L2039.0,2266.5 L2039.8,2262.3 L2040.5,2260.2 L2041.2,2262.5 L2042.0,2260.8 L2042.7,2261.0 L2043.5,2256.9 L2044.2,2260.5 L2045.0,2260.0 L2045.7,2254.7 L2046.5,2258.1 L2047.3,2256.3 L2048.1,2256.4 L2048.8,2261.3 L2049.6,2252.5 L2050.4,2255.0 L2051.2,2258.1 L2051.9,2257.7 L2052.7,2255.9 L2053.5,2260.6 L2054.3,2255.6 L2055.1,2255.4 L2055.8,2255.4 L2056.6,2256.2 L2057.4,2256.8 L2058.2,2259.5 L2059.0,2253.4 L2059.7,2255.3 L2060.5,2259.8 L2061.3,2257.8 L2062.1,2254.0 L2062.9,2254.6 L2063.6,2253.1 L2064.3,2254.5 L2065.1,2254.5 L2065.8,2256.6 L2066.6,2253.4 L2067.3,2252.5 L2068.1,2255.3 L2068.8,2250.7 L2069.6,2253.3 L2070.3,2255.1 L2071.1,2254.7 L2071.8,2251.9 L2072.5,2254.6 L2073.3,2252.8 L2074.0,2251.5 L2074.8,2251.6 L2075.5,2251.3 L2076.3,2251.0 L2077.0,2248.6 L2077.8,2250.8 L2078.5,2251.4 L2079.3,2246.7 L2080.0,2243.6 L2080.7,2248.5 L2081.5,2252.1 L2082.2,2250.7 L2083.0,2252.2 L2083.7,2249.4 L2084.5,2250.0 L2085.2,2247.5 L2086.0,2253.7 L2086.7,2251.7 L2087.5,2250.9 L2088.2,2248.1 L2088.9,2248.0 L2089.7,2248.7 L2090.4,2246.8 L2091.2,2248.0 L2091.9,2244.5 L2092.7,2249.0 L2093.4,2245.2 L2094.2,2244.6 L2094.9,2242.0 L2095.7,2247.2 L2096.4,2244.8 L2097.1,2243.1 L2097.9,2237.9 L2098.6,2239.7 L2099.4,2242.7 L2100.1,2240.7 L2100.9,2240.1 L2101.6,2241.1 L2102.4,2241.9 L2103.1,2239.4 L2103.9,2239.1 L2104.6,2245.5 L2105.3,2240.2 L2106.1,2239.9 L2106.8,2242.8 L2107.6,2243.3 L2108.3,2242.0 L2109.1,2237.2 L2109.8,2238.6 L2110.6,2238.3 L2111.3,2236.9 L2112.1,2237.8 L2112.8,2237.8 L2113.5,2237.5 L2114.3,2243.2 L2115.1,2241.0 L2115.8,2235.6 L2116.6,2236.0 L2117.4,2235.8 L2118.2,2238.6 L2119.0,2234.4 L2119.7,2240.5 L2120.5,2237.3 L2121.3,2238.1 L2122.1,2240.5 L2122.9,2230.5 L2123.6,2234.6 L2124.4,2234.3 L2125.2,2232.6 L2126.0,2229.1 L2126.8,2234.5 L2127.5,2229.5 L2128.3,2233.8 L2129.1,2230.9 L2129.9,2231.6 L2130.7,2234.7 L2131.4,2233.3 L2132.2,2231.5 L2132.9,2229.0 L2133.7,2229.1 L2134.4,2230.0 L2135.2,2228.1 L2135.9,2232.0 L2136.6,2231.0 L2137.4,2233.2 L2138.1,2231.7 L2138.9,2233.2 L2139.6,2230.1 L2140.4,2222.4 L2141.1,2231.1 L2141.9,2228.3 L2142.6,2228.4 L2143.4,2226.2 L2144.1,2231.0 L2144.8,2230.2 L2145.6,2225.8 L2146.3,2228.4 L2147.1,2228.1 L2147.8,2229.5 L2148.6,2223.1 L2149.3,2226.3 L2150.1,2225.9 L2150.8,2228.5 L2151.6,2223.2 L2152.3,2224.0 L2153.0,2227.7 L2153.8,2225.3 L2154.5,2223.7 L2155.3,2228.3 L2156.0,2224.9 L2156.8,2223.1 L2157.5,2221.7 L2158.3,2219.3 L2159.0,2221.2 L2159.8,2225.6 L2160.5,2220.7 L2161.2,2220.7 L2162.0,2221.4 L2162.7,2221.8 L2163.5,2221.9 L2164.2,2219.7 L2165.0,2225.2 L2165.7,2223.9 L2166.4,2217.0 L2167.0,2218.9 L2167.7,2221.4 L2168.4,2218.7 L2169.0,2217.3 L2169.7,2216.8 L2170.4,2219.0 L2171.0,2214.2 L2171.7,2213.6 L2172.4,2215.8 L2173.0,2212.2 L2173.7,2212.5 L2174.4,2218.4 L2175.0,2213.3 L2175.7,2214.4 L2176.4,2214.7 L2177.0,2209.2 L2177.7,2207.5" stroke="#9400ff"/>
</g>
<text x="419.00" y="2098.20" font-size="72.0" text-anchor="start">Holding depth</text>
<line x1="419.00" y1="2161.50" x2="580.30" y2="2161.50" stroke="#000000" stroke-width="7" stroke-linecap="round"/>
<text x="598.50" y="2185.60" font-size="72.3" text-anchor="start">20nm</text>
<line x1="419.00" y1="2250.20" x2="580.30" y2="2250.20" stroke="#ff0000" stroke-width="7" stroke-linecap="round"/>
<text x="598.50" y="2274.20" font-size="72.3" text-anchor="start">40nm</text>
<line x1="419.00" y1="2339.60" x2="580.30" y2="2339.60" stroke="#ff8000" stroke-width="7" stroke-linecap="round"/>
<text x="598.50" y="2363.30" font-size="72.3" text-anchor="start">60nm</text>
<line x1="419.00" y1="2427.40" x2="580.30" y2="2427.40" stroke="#0000ff" stroke-width="7" stroke-linecap="round"/>
<text x="598.50" y="2451.50" font-size="72.3" text-anchor="start">90nm</text>
<line x1="419.00" y1="2516.90" x2="580.30" y2="2516.90" stroke="#00ff00" stroke-width="7" stroke-linecap="round"/>
<text x="598.50" y="2541.40" font-size="72.3" text-anchor="start">150nm</text>
<line x1="419.00" y1="2605.20" x2="580.30" y2="2605.20" stroke="#ff00ff" stroke-width="7" stroke-linecap="round"/>
<text x="598.50" y="2629.20" font-size="72.3" text-anchor="start">250nm</text>
<line x1="419.00" y1="2693.40" x2="580.30" y2="2693.40" stroke="#9400ff" stroke-width="7" stroke-linecap="round"/>
<text x="598.50" y="2717.90" font-size="72.3" text-anchor="start">500nm</text>
</svg>
</body></html>
